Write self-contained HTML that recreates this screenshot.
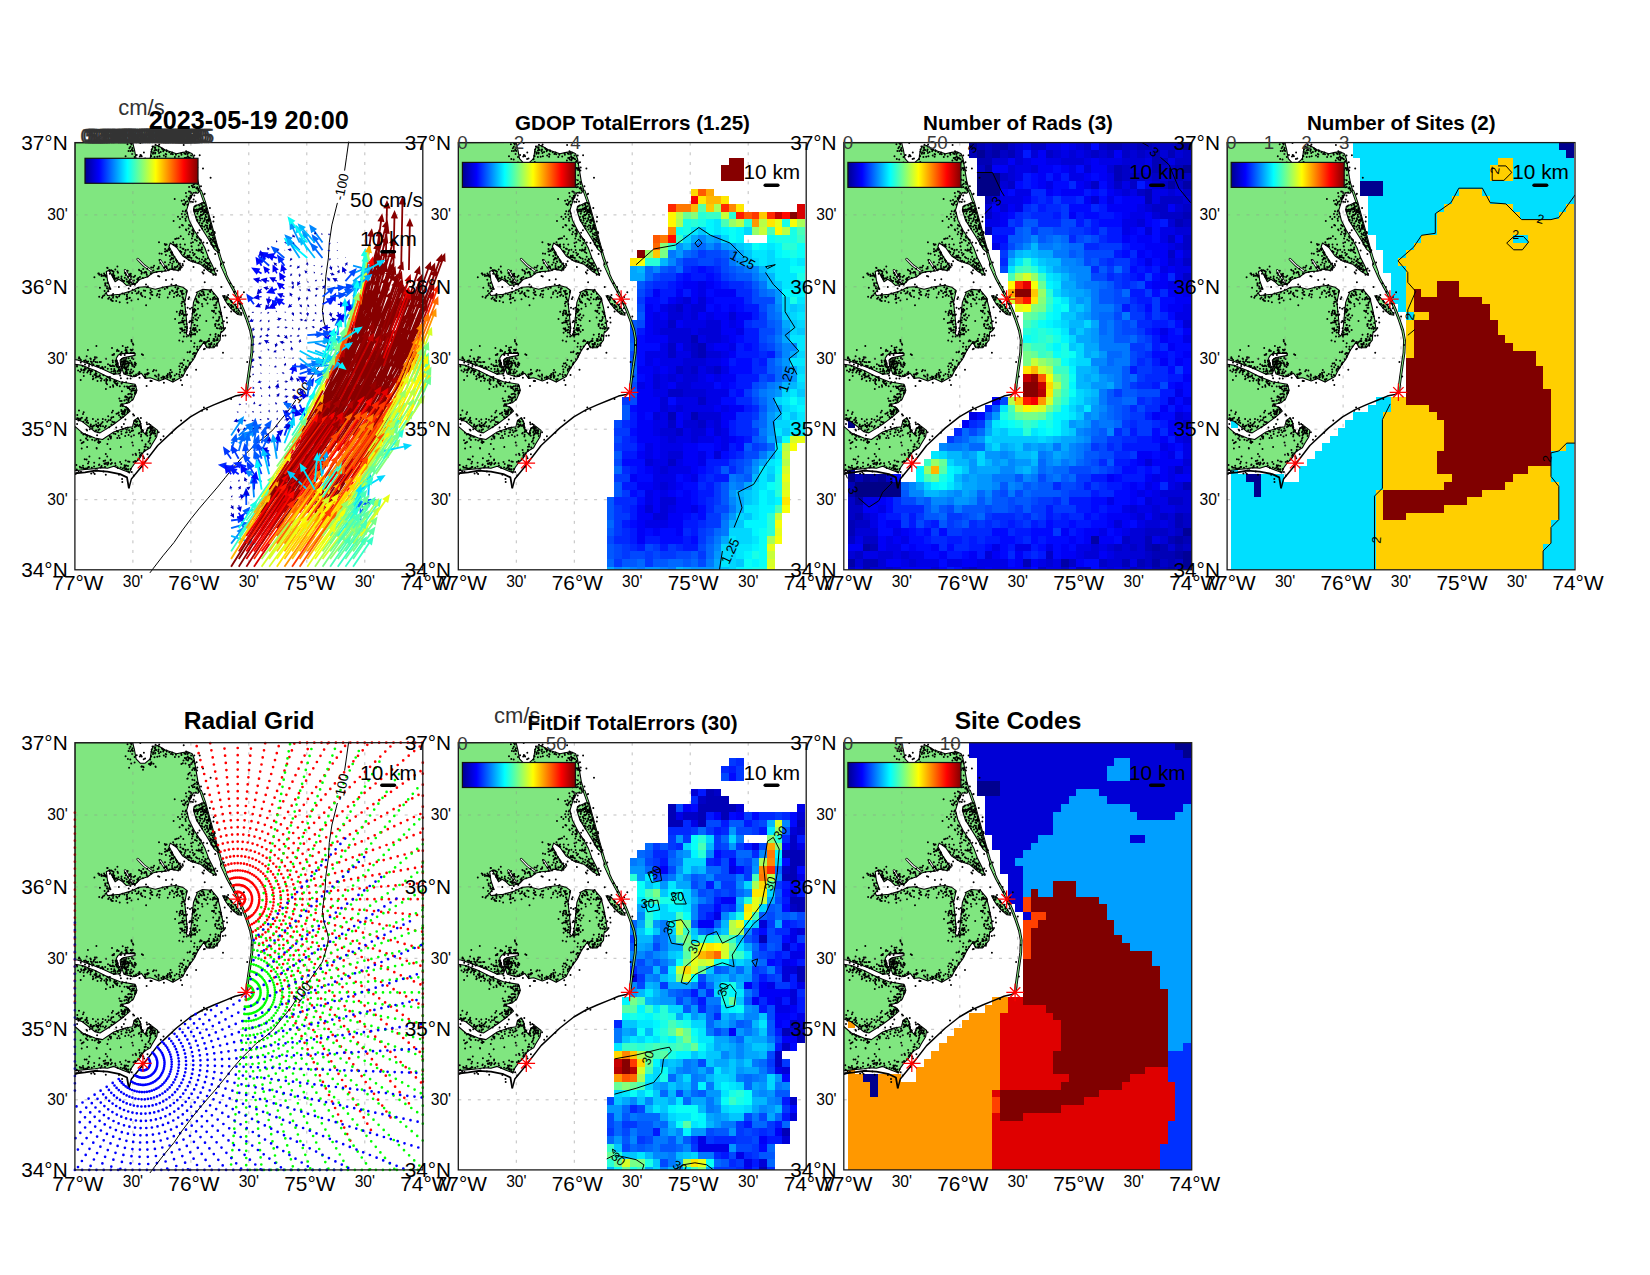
<!DOCTYPE html><html><head><meta charset="utf-8"><title>fig</title><style>html,body{margin:0;padding:0;background:#fff}svg{display:block}text{font-family:"Liberation Sans",sans-serif}</style></head><body>
<svg width="1650" height="1275" viewBox="0 0 1650 1275">
<defs>
<linearGradient id="jet" x1="0" x2="1" y1="0" y2="0"><stop offset="0.000" stop-color="rgb(0,0,143)"/><stop offset="0.125" stop-color="rgb(0,0,255)"/><stop offset="0.375" stop-color="rgb(0,255,255)"/><stop offset="0.625" stop-color="rgb(255,255,0)"/><stop offset="0.875" stop-color="rgb(255,0,0)"/><stop offset="1.000" stop-color="rgb(128,0,0)"/></linearGradient>
<g id="land"><path d="M200.5 190.2 L204.9 202.7 L208.0 214.0 L211.8 227.8 L216.2 244.1 L220.6 259.2 L225.6 273.0 L221.4 265.1 L227.7 278.9 L235.2 292.7 L238.8 299.6 L243.4 310.2 L246.8 319.0 L250.6 330.3 L252.4 340.3 L251.9 352.9 L250.1 365.4 L248.3 378.0 L247.0 388.0 L246.8 393.0 L242.8 394.5 L235.2 396.2 L226.5 399.9 L213.9 405.0 L202.6 410.0 L190.5 417.0 L176.6 428.0 L157.8 445.6 L140.3 468.3 L131.5 479.0 L129.0 488.4" fill="none" stroke="#000" stroke-width="1.5" stroke-linejoin="round"/><path d="M200.5 190.2 L204.9 202.7 L208.0 214.0 L211.8 227.8 L216.2 244.1 L220.6 259.2 L225.6 273.0 L221.4 265.1 L227.7 278.9 L235.2 292.7 L238.8 299.6 L243.4 310.2 L246.8 319.0 L250.6 330.3 L252.4 340.3 L251.9 352.9 L250.1 365.4 L248.3 378.0 L247.0 388.0 L246.8 393.0" fill="none" stroke="#000" stroke-width="2.8" stroke-linejoin="round"/><path d="M200.5 190.2 L204.9 202.7 L208.0 214.0 L211.8 227.8 L216.2 244.1 L220.6 259.2 L225.6 273.0 L221.4 265.1 L227.7 278.9 L235.2 292.7 L238.8 299.6 L243.4 310.2 L246.8 319.0 L250.6 330.3 L252.4 340.3 L251.9 352.9 L250.1 365.4 L248.3 378.0 L247.0 388.0 L246.8 393.0" fill="none" stroke="#80E680" stroke-width="1.0" stroke-linejoin="round"/><path d="M75.0 473.5 L85.1 472.4 L95.1 470.8 L107.6 471.7 L120.2 474.2 L127.1 477.5 L129.0 488.4" fill="none" stroke="#000" stroke-width="1.8" stroke-linejoin="round"/><path d="M75.0 142.7 L132.7 142.5 L134.6 150.0 L136.2 158.8 L140.3 163.2 L145.3 163.2 L150.3 158.8 L151.6 150.0 L153.4 146.3 L157.8 145.6 L165.4 150.0 L176.6 153.8 L182.9 152.5 L187.9 151.9 L192.3 153.8 L194.2 158.8 L198.0 181.4 L200.5 190.2 L198.0 193.3 L193.6 192.7 L189.8 200.2 L186.7 210.3 L189.2 220.3 L194.2 230.3 L199.9 239.1 L204.9 247.9 L208.6 257.9 L213.0 266.7 L216.2 275.5 L209.3 271.7 L200.5 264.2 L190.5 261.1 L182.9 256.1 L176.6 247.3 L170.4 243.1 L169.1 246.6 L174.1 256.1 L179.2 263.6 L182.3 267.4 L177.9 270.5 L170.4 269.2 L166.6 271.1 L157.8 271.7 L152.8 273.0 L147.8 276.8 L140.3 279.3 L135.2 284.3 L126.5 285.5 L122.7 281.8 L118.9 279.3 L115.2 281.8 L111.4 274.3 L108.9 270.5 L106.4 271.7 L107.6 280.5 L110.2 288.1 L106.4 293.1 L107.6 295.6 L120.2 294.3 L132.7 290.6 L138.4 287.4 L145.3 286.8 L155.3 289.3 L165.4 286.8 L175.4 285.5 L182.9 287.4 L187.3 290.6 L184.8 302.5 L186.1 315.1 L187.3 327.6 L186.4 333.9 L188.6 336.2 L190.7 331.4 L192.3 315.1 L193.6 302.5 L195.5 297.5 L197.4 293.1 L196.3 292.7 L202.6 289.5 L211.4 290.2 L217.7 297.7 L220.2 307.7 L222.7 320.3 L224.0 330.3 L220.8 332.8 L220.2 340.3 L213.9 347.9 L207.0 347.9 L203.9 342.2 L198.2 350.4 L193.8 359.2 L189.2 365.3 L185.4 371.6 L182.9 376.6 L172.9 382.2 L165.4 378.5 L159.1 381.0 L150.3 377.8 L145.3 378.5 L141.5 373.4 L136.5 375.9 L132.7 376.8 L124.0 374.1 L120.8 365.3 L120.2 360.3 L123.3 357.8 L135.2 355.5 L135.2 353.4 L122.7 353.7 L118.3 355.2 L116.4 358.4 L118.3 365.3 L121.4 370.3 L120.2 373.8 L113.9 374.3 L101.4 368.5 L88.8 363.8 L77.5 360.0 L75.0 359.8Z" fill="#80E680" stroke="#000" stroke-width="1.1" stroke-linejoin="round"/><path d="M75.0 364.3 L82.5 365.5 L95.1 370.6 L107.6 376.8 L120.2 381.8 L135.2 384.4 L137.1 390.4 L133.4 399.2 L129.0 402.9 L120.8 404.8 L127.7 407.9 L130.2 411.1 L124.0 416.7 L113.9 424.3 L100.1 433.0 L95.1 431.8 L82.5 421.7 L75.0 419.0 L75.0 419.0Z" fill="#80E680" stroke="#000" stroke-width="1.1" stroke-linejoin="round"/><path d="M75.0 426.5 L82.5 433.0 L95.1 438.1 L102.6 439.6 L113.9 432.0 L125.2 428.0 L132.7 426.8 L134.2 420.5 L137.8 418.0 L140.3 421.7 L141.8 430.5 L145.3 434.3 L147.8 428.0 L151.6 425.8 L157.8 430.5 L156.8 436.8 L152.2 444.3 L150.3 447.9 L144.0 451.6 L140.3 457.6 L135.2 462.9 L131.7 467.9 L129.6 472.7 L122.7 470.2 L113.9 466.4 L107.6 468.3 L101.4 467.7 L95.1 468.7 L85.1 469.6 L75.0 470.8 L75.0 470.8Z" fill="#80E680" stroke="#000" stroke-width="1.1" stroke-linejoin="round"/><path d="M222.7 295.8 L227.1 296.4 L232.7 302.7 L238.4 309.0 L241.8 315.2 L237.8 314.6 L231.5 309.0 L226.5 302.7Z" fill="#80E680" stroke="#000" stroke-width="1.1" stroke-linejoin="round"/><path d="M194.2 206.5 L203.0 202.7 L204.9 202.7 L208.0 214.0 L211.8 227.8 L216.2 244.1 L218.7 252.9 L214.3 249.2 L209.3 240.4 L203.0 230.3 L196.7 220.3 L193.6 210.3Z" fill="#80E680" stroke="#000" stroke-width="1.1" stroke-linejoin="round"/><path d="M137.8 259.2 L144.0 265.5 L151.6 271.1" fill="none" stroke="#000" stroke-width="2.6" stroke-linecap="round"/><path d="M137.8 259.2 L144.0 265.5 L151.6 271.1" fill="none" stroke="#fff" stroke-width="1.1" stroke-linecap="round"/><path d="M160.3 260.5 L163.5 265.5 L166.9 269.9" fill="none" stroke="#000" stroke-width="2.6" stroke-linecap="round"/><path d="M160.3 260.5 L163.5 265.5 L166.9 269.9" fill="none" stroke="#fff" stroke-width="1.1" stroke-linecap="round"/><path d="M125.2 270.5 L129.0 276.8 L132.7 283.0" fill="none" stroke="#000" stroke-width="2.6" stroke-linecap="round"/><path d="M125.2 270.5 L129.0 276.8 L132.7 283.0" fill="none" stroke="#fff" stroke-width="1.1" stroke-linecap="round"/><path d="M127.6 144.3h0M130.6 143.1h0M130.5 146.8h0M129.5 148.4h0M132.5 143.1h0M140.4 143.0h0M132.6 148.2h0M128.6 151.0h0M132.0 149.7h0M131.5 144.6h0M132.3 154.0h0M128.0 159.1h0M130.4 159.6h0M139.9 156.6h0M133.0 151.1h0M134.7 157.0h0M136.8 155.2h0M125.7 156.3h0M132.7 150.7h0M130.6 151.2h0M129.2 167.8h0M134.7 162.6h0M145.2 158.5h0M140.6 155.0h0M131.3 163.6h0M143.7 167.3h0M143.3 166.8h0M141.8 156.4h0M143.1 169.8h0M141.5 166.8h0M141.2 155.4h0M141.9 166.6h0M141.9 166.2h0M151.5 163.8h0M143.8 159.2h0M150.3 163.6h0M155.6 166.5h0M155.8 167.1h0M149.1 164.1h0M151.5 162.2h0M150.4 164.9h0M150.1 159.4h0M150.3 159.4h0M153.6 163.8h0M155.4 152.9h0M151.0 155.9h0M153.1 153.9h0M151.3 156.4h0M160.8 152.0h0M144.0 152.7h0M153.4 152.6h0M155.2 153.6h0M157.4 156.8h0M154.6 157.2h0M151.6 151.8h0M152.6 146.5h0M158.4 151.2h0M154.7 147.9h0M151.8 149.6h0M163.9 155.6h0M158.7 149.6h0M155.3 147.8h0M154.6 150.7h0M155.7 144.8h0M159.6 156.3h0M162.5 149.1h0M163.4 151.4h0M159.1 153.2h0M155.6 149.5h0M158.8 146.5h0M159.3 144.6h0M164.2 150.0h0M163.6 150.3h0M156.4 150.1h0M162.0 148.6h0M166.6 150.4h0M171.1 154.0h0M172.3 152.5h0M176.0 154.8h0M166.8 151.4h0M172.9 154.4h0M166.3 154.6h0M175.0 157.1h0M165.8 156.8h0M169.4 152.3h0M165.8 154.1h0M181.3 153.7h0M182.9 163.2h0M178.9 156.7h0M183.6 160.5h0M181.5 164.1h0M181.6 154.9h0M184.5 153.6h0M183.8 145.2h0M185.6 154.0h0M188.6 159.0h0M186.2 151.4h0M187.6 154.1h0M186.8 152.3h0M189.0 152.8h0M188.4 157.4h0M187.8 156.4h0M186.3 157.9h0M186.4 159.7h0M194.4 155.6h0M190.7 158.5h0M188.1 160.4h0M191.2 155.6h0M189.7 157.9h0M199.8 155.4h0M184.9 158.1h0M193.1 161.6h0M193.4 168.2h0M190.1 172.7h0M195.0 163.4h0M187.8 178.5h0M192.5 179.8h0M188.4 174.5h0M203.1 168.6h0M197.1 170.6h0M192.7 162.2h0M189.1 165.1h0M194.5 180.3h0M189.7 167.1h0M188.8 173.7h0M187.4 178.7h0M194.8 170.0h0M193.5 160.8h0M191.6 163.9h0M191.5 175.5h0M192.3 169.9h0M194.9 175.4h0M190.2 164.7h0M191.8 159.3h0M185.6 163.6h0M194.7 169.4h0M191.4 163.3h0M195.1 168.0h0M193.5 161.5h0M196.7 162.3h0M195.8 169.0h0M197.4 167.5h0M193.6 184.8h0M195.0 183.8h0M201.1 186.4h0M197.6 188.4h0M197.3 184.2h0M189.2 187.2h0M210.7 177.8h0M197.5 182.4h0M196.8 182.2h0M196.8 188.0h0M189.1 191.6h0M197.4 187.3h0M197.6 188.8h0M198.5 190.7h0M191.9 185.8h0M196.5 188.4h0M193.0 187.3h0M198.5 189.2h0M196.0 192.6h0M194.4 195.5h0M196.9 188.5h0M194.6 187.1h0M198.1 188.9h0M191.1 197.5h0M191.5 193.1h0M186.5 196.6h0M190.4 196.1h0M190.4 191.9h0M189.7 198.5h0M189.2 199.6h0M191.2 193.4h0M190.6 196.8h0M188.8 198.0h0M186.0 193.2h0M193.0 202.1h0M183.1 204.2h0M194.2 209.7h0M184.4 205.2h0M199.4 205.6h0M174.8 199.2h0M185.3 203.6h0M187.4 201.3h0M198.5 209.7h0M187.5 204.8h0M185.8 202.2h0M196.3 205.5h0M181.8 200.9h0M191.1 201.8h0M184.2 200.2h0M173.7 221.0h0M182.5 217.1h0M185.0 214.5h0M182.9 211.3h0M203.1 214.4h0M185.5 218.9h0M185.8 220.9h0M186.0 210.6h0M185.5 211.6h0M187.3 213.4h0M178.1 216.9h0M181.9 214.2h0M186.7 216.9h0M180.1 219.1h0M202.4 223.6h0M183.0 225.5h0M192.9 229.7h0M200.9 225.8h0M192.4 230.4h0M186.4 230.3h0M189.7 225.7h0M186.0 229.6h0M190.7 226.4h0M182.1 225.1h0M189.7 232.1h0M188.7 228.6h0M179.7 227.3h0M189.1 225.2h0M193.3 234.0h0M196.8 240.8h0M193.7 233.1h0M202.2 226.2h0M195.1 239.9h0M199.5 238.9h0M192.0 238.5h0M193.5 231.4h0M183.4 239.1h0M193.0 242.4h0M185.0 244.7h0M196.9 236.6h0M197.3 237.8h0M192.0 233.9h0M191.2 243.2h0M188.9 234.3h0M197.8 232.8h0M192.7 236.2h0M200.9 240.2h0M200.0 243.2h0M201.3 249.9h0M203.5 242.7h0M202.1 247.6h0M198.4 250.8h0M198.9 249.6h0M193.0 252.8h0M201.0 240.4h0M201.6 249.5h0M200.3 243.7h0M196.6 250.2h0M205.4 259.0h0M202.1 259.7h0M201.6 252.2h0M203.4 256.8h0M196.2 257.2h0M217.6 249.2h0M202.0 249.7h0M215.9 246.2h0M203.1 253.2h0M214.0 246.2h0M200.0 250.7h0M209.8 263.2h0M207.4 266.6h0M203.8 265.6h0M208.2 264.8h0M204.5 260.9h0M207.9 258.4h0M210.7 266.1h0M206.8 263.2h0M207.7 263.2h0M201.6 262.5h0M210.1 265.5h0M203.2 265.3h0M208.7 264.3h0M207.3 269.0h0M217.3 270.9h0M211.9 269.9h0M216.0 274.2h0M211.1 269.3h0M209.0 269.4h0M215.6 274.1h0M210.8 270.0h0M215.5 268.5h0M213.9 269.4h0M214.4 270.7h0M213.4 274.9h0M210.8 271.8h0M212.0 270.6h0M203.3 265.6h0M203.8 265.8h0M207.6 268.0h0M204.6 264.3h0M210.7 266.6h0M204.2 270.4h0M205.7 267.0h0M206.0 266.0h0M204.1 261.4h0M202.6 272.4h0M203.5 273.6h0M209.3 268.2h0M205.9 259.6h0M205.9 262.3h0M197.3 258.2h0M193.7 255.3h0M193.6 267.0h0M198.5 263.2h0M193.4 260.8h0M191.5 260.4h0M191.6 258.2h0M195.3 261.7h0M199.8 261.6h0M192.6 261.7h0M199.3 258.8h0M194.8 254.0h0M182.7 264.2h0M191.6 246.3h0M188.7 257.4h0M190.3 257.5h0M189.5 255.7h0M187.6 255.9h0M184.3 261.4h0M192.3 250.1h0M190.2 252.0h0M181.5 252.2h0M180.4 244.6h0M183.6 249.2h0M185.5 250.9h0M173.9 261.9h0M185.8 250.0h0M188.1 249.8h0M183.3 248.8h0M171.8 253.8h0M180.2 251.2h0M170.9 252.4h0M182.7 248.8h0M174.5 256.9h0M184.1 254.9h0M175.3 239.2h0M176.5 246.6h0M176.8 238.7h0M175.7 245.4h0M176.8 244.6h0M180.8 236.4h0M178.7 238.3h0M173.2 242.3h0M169.8 249.4h0M172.2 252.6h0M168.9 248.5h0M173.9 244.6h0M176.0 245.9h0M164.9 244.0h0M165.5 245.0h0M159.1 242.3h0M166.7 244.6h0M180.6 247.3h0M177.0 246.7h0M172.2 255.0h0M165.6 251.6h0M165.2 249.0h0M161.8 253.9h0M165.1 251.7h0M167.0 250.5h0M169.4 250.2h0M166.0 255.1h0M169.9 256.1h0M168.6 249.4h0M159.6 253.6h0M169.7 249.5h0M167.5 251.0h0M171.0 259.3h0M171.9 257.8h0M172.4 258.5h0M185.3 257.1h0M173.6 261.7h0M170.5 259.8h0M168.8 264.9h0M184.9 253.1h0M170.2 262.6h0M176.2 259.9h0M173.5 258.5h0M172.2 268.0h0M187.2 257.4h0M178.3 270.5h0M180.2 267.6h0M188.8 259.9h0M180.0 263.5h0M183.0 265.7h0M173.7 269.5h0M179.1 268.6h0M177.7 266.0h0M180.1 269.8h0M180.4 265.9h0M177.1 266.9h0M178.8 264.0h0M177.0 262.2h0M174.7 269.4h0M175.7 267.6h0M176.1 260.0h0M172.2 266.0h0M177.1 261.2h0M172.4 263.8h0M175.0 267.2h0M172.8 268.3h0M166.4 266.6h0M166.7 267.2h0M169.6 269.6h0M167.0 268.7h0M168.7 270.4h0M166.3 266.6h0M159.4 276.7h0M161.9 271.8h0M165.2 270.7h0M165.5 266.9h0M160.4 263.0h0M164.4 267.8h0M157.7 268.9h0M164.2 267.8h0M158.8 268.6h0M159.6 260.0h0M158.9 267.2h0M165.2 267.0h0M165.1 262.3h0M154.2 265.8h0M153.2 267.5h0M153.6 270.6h0M156.7 272.0h0M145.2 272.1h0M143.3 269.0h0M147.6 276.5h0M151.6 273.5h0M147.3 268.8h0M146.5 273.2h0M142.9 278.2h0M151.9 291.9h0M141.1 271.0h0M146.9 274.9h0M141.6 273.8h0M144.3 272.9h0M140.1 277.1h0M142.0 272.6h0M139.1 269.9h0M139.3 270.3h0M146.1 272.0h0M137.0 282.3h0M137.3 279.4h0M138.4 278.2h0M147.1 287.3h0M134.1 280.7h0M127.8 270.9h0M138.4 279.7h0M135.2 275.9h0M128.8 288.6h0M128.8 283.2h0M129.9 275.1h0M135.4 291.1h0M129.5 275.8h0M133.8 283.8h0M131.7 276.8h0M126.0 275.2h0M129.2 281.0h0M129.5 283.4h0M134.0 277.0h0M126.7 279.3h0M127.2 281.7h0M130.5 286.1h0M133.0 284.1h0M129.7 274.4h0M130.8 275.6h0M124.3 281.0h0M130.9 273.9h0M130.4 279.6h0M128.1 277.2h0M119.0 287.0h0M128.5 281.8h0M128.6 281.6h0M122.3 280.0h0M124.9 277.9h0M125.0 273.1h0M121.6 276.5h0M115.3 278.9h0M114.4 278.1h0M114.9 279.7h0M112.9 276.9h0M117.6 271.7h0M121.4 278.6h0M125.6 273.1h0M114.2 277.2h0M113.8 275.5h0M112.5 275.2h0M114.4 275.5h0M118.1 272.9h0M117.4 278.9h0M109.8 270.3h0M109.7 271.1h0M109.4 270.4h0M112.6 271.2h0M111.4 270.4h0M106.2 276.8h0M115.4 269.6h0M117.5 266.7h0M106.4 275.9h0M109.9 273.8h0M107.3 267.9h0M107.7 268.1h0M101.6 276.0h0M99.0 273.7h0M98.4 273.5h0M99.5 274.9h0M113.3 273.7h0M104.6 275.7h0M101.5 274.6h0M104.2 273.6h0M104.8 275.9h0M105.1 275.0h0M104.0 279.9h0M113.7 271.9h0M103.3 275.8h0M100.0 287.8h0M105.3 283.4h0M107.8 288.7h0M116.3 278.3h0M109.5 287.7h0M118.5 277.3h0M105.3 284.1h0M107.4 283.1h0M107.0 286.5h0M113.1 297.9h0M107.1 288.4h0M104.7 291.0h0M105.4 285.5h0M107.5 288.6h0M108.5 291.3h0M94.5 277.4h0M104.4 295.4h0M99.3 296.9h0M105.7 293.7h0M102.9 296.4h0M102.2 297.8h0M110.5 289.2h0M119.8 302.4h0M112.1 295.5h0M109.4 297.6h0M110.8 299.5h0M119.8 294.8h0M117.4 297.7h0M116.4 296.8h0M108.3 298.9h0M113.3 296.0h0M112.9 301.0h0M111.3 299.4h0M113.2 294.2h0M111.7 300.7h0M119.2 296.3h0M116.3 301.1h0M128.7 292.7h0M127.2 296.9h0M130.0 297.9h0M127.1 294.5h0M122.5 293.7h0M127.5 302.8h0M126.5 299.3h0M124.6 294.4h0M129.5 298.2h0M132.2 293.0h0M127.2 281.9h0M123.9 281.2h0M127.0 296.0h0M131.6 300.5h0M127.4 298.9h0M131.7 282.6h0M132.7 290.1h0M138.2 299.3h0M135.2 283.8h0M138.4 292.9h0M134.9 284.9h0M141.7 295.4h0M136.8 293.7h0M129.9 282.7h0M138.8 291.5h0M141.3 293.2h0M140.8 294.2h0M142.5 296.3h0M138.1 280.4h0M146.2 305.3h0M143.9 290.6h0M145.3 290.9h0M145.2 297.0h0M138.5 288.0h0M150.7 290.2h0M148.0 286.7h0M152.5 295.1h0M146.1 284.5h0M151.4 294.5h0M151.3 267.5h0M150.8 273.4h0M150.3 292.9h0M150.2 298.5h0M156.9 295.6h0M162.6 287.5h0M160.0 290.7h0M159.3 297.4h0M164.9 289.0h0M157.6 294.2h0M158.7 291.2h0M167.9 297.7h0M159.8 294.7h0M158.2 276.2h0M175.4 287.3h0M167.3 287.7h0M174.4 293.4h0M172.1 290.6h0M172.9 291.2h0M172.5 279.4h0M167.5 287.8h0M166.1 280.1h0M171.5 284.5h0M170.0 292.4h0M166.9 287.6h0M169.6 294.2h0M176.1 292.0h0M177.3 289.8h0M179.9 296.1h0M178.5 288.3h0M177.4 292.0h0M177.7 288.5h0M177.7 288.4h0M176.2 285.0h0M186.7 291.4h0M182.4 294.5h0M182.5 290.9h0M180.7 291.0h0M178.1 294.5h0M186.5 292.6h0M182.9 297.5h0M182.6 297.4h0M183.4 299.2h0M176.9 295.8h0M196.7 301.4h0M183.8 293.8h0M188.7 299.2h0M182.3 301.8h0M181.6 292.2h0M189.3 297.3h0M184.6 300.7h0M182.2 293.3h0M182.1 294.0h0M174.0 297.2h0M176.9 311.8h0M182.0 314.2h0M179.7 315.4h0M180.3 312.9h0M194.2 312.4h0M179.6 313.8h0M182.5 310.8h0M182.1 306.1h0M180.0 312.0h0M193.0 310.2h0M194.8 311.2h0M185.7 311.6h0M190.1 308.9h0M194.4 309.2h0M182.9 313.6h0M181.6 303.5h0M182.8 312.3h0M184.2 314.9h0M192.8 320.4h0M183.3 321.2h0M184.3 324.5h0M184.0 315.8h0M182.3 320.7h0M192.9 322.5h0M185.3 327.0h0M190.9 321.4h0M187.0 327.1h0M175.2 319.0h0M180.5 322.5h0M179.0 323.2h0M190.2 321.1h0M189.4 322.3h0M185.0 320.6h0M192.9 329.9h0M189.9 334.4h0M193.4 328.6h0M181.1 329.1h0M187.1 328.7h0M184.0 330.4h0M199.5 330.2h0M191.6 332.9h0M180.3 332.8h0M182.0 328.4h0M195.2 334.7h0M186.4 332.5h0M183.9 336.7h0M194.2 328.4h0M179.4 340.7h0M186.8 336.5h0M190.4 331.7h0M194.6 329.4h0M182.9 341.5h0M182.2 329.9h0M190.8 336.5h0M182.3 331.1h0M190.9 336.9h0M195.1 333.8h0M191.7 334.9h0M190.5 335.4h0M184.6 332.6h0M180.3 328.6h0M193.4 334.4h0M186.7 324.0h0M196.0 315.7h0M186.4 315.4h0M194.4 325.0h0M197.2 320.4h0M197.2 331.9h0M184.8 329.8h0M197.4 325.8h0M190.9 331.2h0M195.6 319.3h0M195.6 328.1h0M190.5 328.4h0M182.0 322.4h0M194.5 330.9h0M186.8 330.8h0M199.6 330.0h0M185.0 314.9h0M195.1 315.7h0M193.4 317.9h0M193.6 328.2h0M196.0 330.0h0M183.4 322.5h0M194.8 325.0h0M198.4 317.9h0M182.9 318.3h0M195.6 310.1h0M196.9 314.4h0M187.1 314.5h0M195.5 310.4h0M202.5 306.4h0M185.1 304.3h0M193.1 311.6h0M195.2 305.4h0M193.3 311.9h0M192.6 313.9h0M180.8 310.7h0M198.1 308.8h0M200.1 315.5h0M187.7 307.9h0M192.1 307.9h0M183.3 301.8h0M197.4 302.4h0M197.8 301.6h0M196.4 299.7h0M188.5 299.1h0M196.0 298.9h0M198.8 302.9h0M199.1 297.2h0M201.9 295.6h0M204.2 298.9h0M202.7 291.3h0M199.7 293.6h0M203.9 294.8h0M202.1 304.0h0M201.8 291.6h0M198.6 296.0h0M198.8 295.7h0M200.9 295.1h0M210.2 291.1h0M203.7 292.4h0M211.3 289.9h0M209.7 291.3h0M203.5 293.5h0M204.4 295.2h0M204.1 294.5h0M208.1 294.3h0M204.8 282.3h0M213.2 298.0h0M214.5 297.2h0M205.5 299.6h0M213.6 293.9h0M210.4 299.3h0M212.8 299.7h0M221.4 287.2h0M206.2 300.1h0M210.4 292.2h0M207.6 297.6h0M217.4 301.5h0M216.4 307.9h0M216.4 303.0h0M217.9 298.9h0M215.3 307.8h0M215.9 298.6h0M214.2 305.4h0M224.4 297.4h0M215.1 299.0h0M207.6 303.7h0M213.3 298.9h0M219.3 317.2h0M219.3 311.7h0M221.0 312.8h0M206.4 321.0h0M216.5 320.8h0M219.4 318.2h0M220.8 314.4h0M221.6 316.4h0M220.1 312.6h0M218.8 320.2h0M213.3 317.5h0M214.0 312.0h0M212.8 311.1h0M212.1 310.9h0M215.8 313.5h0M214.2 310.8h0M218.0 321.1h0M215.2 324.5h0M227.2 322.6h0M218.5 324.8h0M215.2 324.4h0M216.9 328.1h0M215.4 326.1h0M219.3 324.6h0M225.2 328.1h0M220.8 326.8h0M222.1 323.1h0M222.2 328.2h0M215.7 324.0h0M224.4 329.2h0M221.5 329.2h0M217.5 328.4h0M221.5 331.8h0M219.6 328.7h0M225.5 335.5h0M218.6 335.1h0M214.5 339.4h0M215.6 336.9h0M217.5 339.9h0M217.5 338.4h0M215.8 334.2h0M218.4 336.1h0M220.0 336.2h0M215.6 334.6h0M223.0 335.9h0M217.2 343.6h0M211.6 342.8h0M223.1 352.8h0M214.7 341.0h0M217.9 340.1h0M214.4 344.3h0M217.1 345.8h0M213.4 340.9h0M216.6 340.4h0M210.8 344.0h0M217.4 343.9h0M209.4 347.5h0M213.3 346.4h0M213.8 346.6h0M210.4 346.5h0M209.2 338.8h0M210.4 334.8h0M209.1 344.2h0M213.7 339.0h0M209.3 341.2h0M211.1 343.8h0M207.5 341.6h0M208.5 340.5h0M204.9 348.9h0M211.6 344.4h0M210.7 344.5h0M204.3 342.1h0M206.7 346.7h0M197.4 346.9h0M208.5 341.1h0M206.0 342.3h0M205.7 343.8h0M204.0 349.3h0M194.2 346.8h0M191.2 341.2h0M194.6 343.3h0M197.1 349.4h0M209.4 346.3h0M200.7 340.3h0M198.0 350.0h0M200.3 346.7h0M201.8 341.0h0M201.1 340.5h0M199.9 341.4h0M194.9 355.7h0M194.1 353.0h0M190.3 351.5h0M195.1 353.4h0M196.1 353.3h0M194.5 357.0h0M193.1 354.2h0M189.8 352.3h0M187.7 352.4h0M189.8 363.6h0M196.2 369.9h0M189.5 364.6h0M190.3 362.5h0M189.8 364.3h0M188.0 360.8h0M192.6 359.1h0M184.1 360.1h0M182.1 367.3h0M182.2 363.4h0M184.6 369.3h0M184.5 370.9h0M183.4 365.0h0M179.4 366.3h0M180.5 363.6h0M186.0 366.6h0M187.6 367.6h0M185.9 368.6h0M180.1 372.0h0M181.8 375.1h0M187.2 375.1h0M182.4 375.6h0M180.1 369.5h0M173.2 381.3h0M174.9 375.6h0M179.7 376.5h0M179.2 374.6h0M170.2 376.2h0M170.6 377.8h0M173.8 379.4h0M182.2 385.1h0M172.8 379.5h0M176.7 374.1h0M180.9 380.3h0M172.0 372.4h0M174.4 379.2h0M166.8 375.8h0M170.1 374.3h0M168.0 374.1h0M170.7 370.0h0M167.9 375.1h0M167.7 377.3h0M167.2 377.8h0M164.0 382.8h0M171.2 376.1h0M167.4 376.5h0M169.9 372.9h0M171.1 376.7h0M163.2 376.5h0M163.5 379.0h0M163.4 377.5h0M164.7 377.0h0M158.6 379.5h0M161.5 377.9h0M156.3 370.6h0M158.7 374.7h0M153.1 371.3h0M158.5 378.3h0M154.0 370.2h0M155.1 375.6h0M158.8 375.8h0M156.5 376.7h0M151.8 381.1h0M150.5 381.1h0M150.8 380.8h0M147.3 373.6h0M148.1 373.1h0M148.6 373.5h0M145.7 374.5h0M148.4 373.6h0M145.6 378.2h0M147.6 369.9h0M145.0 374.5h0M144.9 376.8h0M148.8 373.3h0M145.4 376.6h0M147.5 374.5h0M135.5 365.3h0M136.2 374.5h0M139.4 373.4h0M138.3 373.6h0M139.7 373.0h0M139.0 374.3h0M139.6 377.9h0M139.5 372.1h0M135.9 376.0h0M132.1 372.8h0M132.5 366.1h0M134.0 375.6h0M133.4 366.3h0M135.7 386.3h0M128.0 366.9h0M126.4 368.6h0M134.4 367.2h0M130.4 373.5h0M128.4 369.7h0M124.6 386.7h0M127.7 366.9h0M130.4 371.5h0M127.5 378.5h0M133.4 371.3h0M126.4 367.9h0M125.9 371.9h0M126.8 373.3h0M127.1 372.9h0M129.8 373.5h0M127.4 373.4h0M126.7 370.2h0M119.9 367.1h0M131.3 369.5h0M124.7 368.2h0M124.8 366.2h0M125.3 373.2h0M117.7 371.7h0M128.2 363.7h0M122.6 366.2h0M126.5 363.8h0M126.0 363.6h0M119.2 373.7h0M118.2 367.7h0M115.6 373.4h0M128.7 365.2h0M122.8 364.6h0M123.7 367.5h0M121.0 364.0h0M124.2 360.8h0M110.6 366.0h0M125.3 361.9h0M135.0 362.7h0M117.2 365.1h0M122.5 361.6h0M125.1 364.4h0M123.0 361.4h0M123.8 362.3h0M117.0 351.0h0M112.1 348.1h0M121.3 359.8h0M124.6 365.0h0M129.5 363.0h0M128.8 358.4h0M132.0 364.0h0M127.3 361.9h0M126.4 358.2h0M127.6 352.6h0M125.5 358.7h0M136.0 363.9h0M133.9 352.9h0M132.3 350.0h0M132.2 358.3h0M126.1 349.9h0M133.5 359.1h0M124.8 355.0h0M126.5 358.7h0M125.9 360.7h0M128.4 363.7h0M126.4 369.6h0M124.4 362.4h0M125.7 369.6h0M124.5 360.5h0M143.1 355.0h0M142.0 354.3h0M134.4 353.5h0M120.8 353.6h0M131.7 341.6h0M125.5 350.3h0M125.8 347.8h0M132.9 343.6h0M132.8 349.7h0M130.6 352.9h0M131.6 340.2h0M131.4 363.3h0M122.8 346.2h0M127.7 347.4h0M132.3 357.3h0M126.7 350.7h0M130.2 360.9h0M130.8 349.9h0M134.5 364.4h0M132.2 353.0h0M131.8 350.7h0M132.2 364.9h0M133.4 344.8h0M125.9 353.2h0M131.6 362.7h0M126.5 352.1h0M126.6 350.0h0M117.4 349.9h0M118.8 351.0h0M124.3 364.1h0M121.8 352.2h0M121.0 355.1h0M120.2 354.3h0M113.9 354.9h0M112.5 355.2h0M114.2 354.0h0M123.6 358.7h0M113.1 354.8h0M110.0 365.3h0M121.4 362.1h0M112.2 366.2h0M123.7 358.8h0M116.2 360.5h0M121.9 359.1h0M117.6 362.8h0M112.9 365.5h0M116.0 364.8h0M113.0 362.4h0M127.9 361.7h0M116.5 363.5h0M115.7 360.5h0M122.2 368.3h0M122.9 364.1h0M121.7 366.4h0M127.2 366.4h0M116.7 366.6h0M123.3 362.6h0M120.5 370.4h0M115.4 371.1h0M125.2 367.5h0M111.6 371.7h0M119.1 369.4h0M117.8 367.0h0M114.9 370.6h0M125.2 373.4h0M114.3 370.5h0M120.4 370.3h0M120.7 370.6h0M131.1 375.8h0M116.3 381.4h0M120.3 375.6h0M116.3 384.2h0M117.8 363.8h0M118.2 370.9h0M115.8 361.8h0M118.0 367.3h0M119.9 371.0h0M114.4 369.2h0M114.2 366.4h0M111.4 369.0h0M110.4 380.4h0M110.0 377.0h0M109.0 377.5h0M108.6 377.4h0M107.2 384.4h0M108.1 364.3h0M105.3 367.1h0M113.7 371.5h0M114.0 374.1h0M107.2 376.8h0M106.2 358.8h0M97.6 381.0h0M107.9 368.9h0M110.9 366.1h0M110.2 380.7h0M117.0 361.1h0M92.4 365.6h0M95.8 362.2h0M97.0 365.9h0M101.0 362.0h0M94.0 360.2h0M97.5 362.3h0M87.4 372.6h0M91.4 370.5h0M92.0 363.0h0M97.9 366.4h0M96.5 346.0h0M93.5 364.6h0M94.9 357.4h0M99.9 362.0h0M92.2 371.0h0M88.1 371.4h0M99.0 366.1h0M88.4 368.7h0M95.0 358.9h0M100.8 368.3h0M95.9 377.7h0M88.0 350.0h0M85.1 368.1h0M84.8 361.1h0M86.8 361.8h0M79.2 357.4h0M84.2 360.8h0M85.1 364.6h0M79.1 358.6h0M86.0 368.9h0M79.9 358.6h0M78.2 370.6h0M87.4 362.7h0M90.5 358.5h0M85.7 360.4h0M77.0 365.2h0M81.0 360.2h0M86.8 356.4h0M80.9 362.7h0M77.1 366.5h0M84.6 369.6h0M81.2 369.3h0M96.7 357.5h0M81.6 370.4h0M83.7 372.6h0M89.3 364.2h0M90.7 372.4h0M90.7 370.8h0M90.6 374.4h0M88.2 361.7h0M80.2 371.9h0M83.9 376.0h0M84.6 370.6h0M89.1 366.2h0M82.7 366.2h0M91.0 361.5h0M90.9 359.2h0M89.6 370.0h0M91.8 362.1h0M93.8 361.4h0M83.7 370.1h0M88.3 371.2h0M80.8 380.1h0M95.7 357.7h0M101.8 378.9h0M98.1 376.9h0M100.5 378.0h0M101.1 380.8h0M100.0 375.3h0M103.5 375.4h0M96.0 371.6h0M102.3 367.0h0M98.5 376.5h0M102.9 368.1h0M103.4 368.7h0M96.7 376.3h0M95.5 375.4h0M96.5 373.9h0M104.5 380.4h0M93.0 376.4h0M112.8 360.6h0M106.3 379.0h0M96.0 373.4h0M93.5 378.6h0M93.0 379.3h0M99.9 376.2h0M94.6 374.5h0M110.3 387.2h0M114.6 381.8h0M110.1 379.2h0M116.6 384.1h0M117.0 384.7h0M106.3 383.0h0M115.5 373.1h0M107.4 380.1h0M114.2 381.9h0M106.4 381.4h0M117.6 383.3h0M114.6 380.9h0M117.2 385.3h0M113.3 386.9h0M115.2 383.2h0M106.0 389.0h0M113.1 385.4h0M121.7 383.6h0M134.5 376.3h0M122.0 391.4h0M130.7 378.7h0M134.1 386.3h0M126.8 371.3h0M130.5 386.3h0M130.1 389.6h0M129.1 388.0h0M130.6 393.9h0M127.1 386.7h0M132.4 388.7h0M131.5 391.5h0M126.2 382.4h0M119.9 386.3h0M121.8 383.5h0M122.5 382.3h0M121.0 378.3h0M132.3 390.5h0M136.0 390.4h0M135.2 390.9h0M134.1 388.5h0M146.7 386.1h0M127.9 388.1h0M132.4 386.2h0M135.2 385.5h0M132.4 385.6h0M133.7 390.3h0M135.9 392.8h0M128.3 394.3h0M131.5 396.7h0M135.1 392.9h0M132.1 394.5h0M131.8 390.5h0M134.9 393.9h0M128.9 387.2h0M129.8 397.5h0M128.7 400.9h0M125.4 396.7h0M129.3 398.7h0M127.6 397.6h0M128.3 400.4h0M131.7 397.6h0M128.9 394.1h0M132.5 399.8h0M124.5 400.6h0M128.0 409.1h0M125.3 397.0h0M119.4 398.5h0M125.1 409.6h0M121.7 401.2h0M128.5 401.8h0M124.6 400.5h0M120.2 401.1h0M128.6 410.1h0M125.7 396.4h0M128.6 409.8h0M126.5 399.7h0M121.5 404.4h0M122.7 411.6h0M126.8 397.1h0M122.7 414.5h0M126.9 403.1h0M128.8 399.0h0M118.8 412.6h0M121.4 410.1h0M125.1 411.9h0M120.6 417.1h0M120.7 406.0h0M122.6 404.4h0M126.2 407.4h0M122.4 414.0h0M127.9 411.0h0M122.7 413.1h0M127.2 409.2h0M122.8 406.0h0M123.1 411.3h0M133.2 414.4h0M122.0 413.7h0M124.0 411.5h0M125.6 410.3h0M125.0 410.7h0M124.6 413.4h0M135.7 420.3h0M124.5 414.5h0M121.5 411.3h0M127.6 412.6h0M112.4 421.8h0M118.1 413.3h0M113.0 410.9h0M112.0 412.7h0M111.4 418.2h0M113.8 422.4h0M111.7 417.5h0M114.7 422.3h0M121.3 418.0h0M116.6 413.9h0M114.4 422.8h0M119.1 415.4h0M126.9 429.9h0M123.1 417.1h0M113.4 417.0h0M96.2 424.7h0M99.7 429.3h0M106.0 426.2h0M108.7 420.3h0M107.3 421.9h0M110.9 438.5h0M105.6 419.9h0M111.5 424.7h0M98.8 425.6h0M109.8 436.2h0M102.7 422.1h0M115.5 434.2h0M110.7 420.1h0M98.1 427.4h0M105.0 427.8h0M108.3 416.4h0M102.9 419.0h0M101.6 423.5h0M97.2 435.3h0M98.3 423.2h0M98.0 432.3h0M100.3 424.8h0M95.9 431.2h0M98.5 430.0h0M100.8 426.4h0M91.9 426.6h0M92.6 428.1h0M81.6 432.8h0M94.2 425.7h0M87.4 420.8h0M86.6 418.9h0M90.5 426.1h0M97.2 425.8h0M90.9 424.7h0M87.6 436.2h0M86.9 417.8h0M83.5 421.8h0M85.3 434.3h0M96.2 430.3h0M93.0 419.1h0M85.3 420.0h0M88.2 423.2h0M87.2 430.7h0M98.0 419.6h0M86.5 422.3h0M89.9 436.8h0M86.7 429.9h0M93.3 426.2h0M82.0 417.9h0M80.4 418.5h0M80.5 419.5h0M78.3 418.7h0M77.3 418.3h0M83.8 412.4h0M77.2 424.0h0M83.1 414.2h0M78.6 419.4h0M79.1 410.7h0M78.6 420.7h0M77.4 415.1h0M92.3 439.9h0M95.9 421.4h0M87.4 436.6h0M87.2 447.0h0M98.2 426.9h0M80.7 440.3h0M82.9 442.7h0M89.9 429.3h0M83.7 442.2h0M86.1 438.5h0M86.3 435.0h0M86.3 438.7h0M96.6 426.2h0M91.0 436.9h0M83.4 434.5h0M81.8 448.6h0M81.8 443.4h0M87.7 440.0h0M87.5 435.6h0M100.3 442.0h0M96.8 448.6h0M99.1 442.3h0M98.6 440.0h0M96.7 448.0h0M94.9 440.6h0M99.1 441.8h0M99.0 443.1h0M96.6 439.6h0M98.2 442.4h0M110.4 449.2h0M108.4 439.4h0M105.0 427.7h0M113.7 433.7h0M111.1 438.0h0M109.9 436.9h0M107.5 444.0h0M103.1 426.4h0M109.3 427.4h0M111.1 436.7h0M110.3 436.7h0M123.0 429.4h0M117.4 438.2h0M126.1 432.6h0M121.8 427.1h0M121.6 434.0h0M117.0 431.1h0M121.4 431.5h0M116.3 427.6h0M119.8 438.2h0M118.8 435.9h0M122.6 429.3h0M121.0 447.2h0M118.1 431.9h0M125.3 436.0h0M130.1 432.3h0M128.7 435.2h0M126.8 432.4h0M125.4 428.8h0M132.2 428.7h0M133.2 430.6h0M134.0 435.3h0M131.4 436.7h0M128.0 427.9h0M132.4 442.7h0M124.0 424.1h0M138.7 426.0h0M125.5 419.5h0M137.2 421.6h0M136.1 425.5h0M134.7 424.3h0M139.2 425.6h0M136.1 426.4h0M134.2 415.6h0M139.8 421.7h0M140.7 427.4h0M138.4 419.1h0M137.3 424.6h0M139.7 425.2h0M138.0 418.4h0M127.8 427.8h0M134.7 421.1h0M135.2 424.7h0M136.4 422.1h0M141.0 418.0h0M131.8 431.2h0M140.9 426.4h0M141.2 427.6h0M142.3 430.1h0M141.0 428.7h0M150.5 425.0h0M136.9 425.5h0M129.2 430.3h0M140.8 423.9h0M136.6 425.9h0M141.5 431.3h0M141.4 432.1h0M139.4 433.0h0M150.1 427.3h0M149.1 424.0h0M138.9 433.7h0M141.3 434.8h0M141.1 436.6h0M147.8 428.6h0M146.8 433.4h0M150.3 435.4h0M147.1 430.5h0M146.7 432.9h0M152.1 433.1h0M148.3 428.4h0M146.5 434.2h0M152.6 430.6h0M150.9 434.0h0M143.1 430.7h0M134.9 427.2h0M149.9 432.4h0M146.8 422.5h0M150.1 428.2h0M150.9 429.7h0M151.1 427.1h0M153.3 429.9h0M150.2 431.6h0M147.2 424.4h0M152.4 427.5h0M155.0 431.1h0M151.2 428.7h0M154.7 432.2h0M154.2 430.3h0M152.3 430.6h0M147.4 435.9h0M146.1 434.7h0M153.1 429.0h0M151.7 433.5h0M152.4 432.1h0M158.8 432.3h0M151.2 430.0h0M154.3 432.4h0M155.0 430.2h0M155.3 433.8h0M163.6 436.4h0M153.8 433.6h0M152.1 430.8h0M151.0 430.1h0M150.0 438.7h0M151.6 433.8h0M148.6 441.9h0M151.4 434.3h0M149.5 440.5h0M155.5 436.1h0M160.9 439.8h0M150.5 437.6h0M142.7 431.7h0M150.3 443.7h0M142.2 440.5h0M144.4 451.3h0M145.4 446.7h0M144.7 449.9h0M148.0 447.7h0M145.7 444.3h0M144.7 446.9h0M145.9 446.7h0M147.6 454.3h0M139.3 450.1h0M144.2 458.4h0M136.2 455.0h0M140.0 456.2h0M135.7 453.8h0M133.1 445.6h0M142.0 453.3h0M139.8 452.8h0M140.6 454.9h0M140.3 455.7h0M143.4 456.5h0M138.5 459.5h0M138.9 458.7h0M135.3 461.5h0M132.9 454.9h0M135.3 461.1h0M133.6 462.2h0M129.5 461.8h0M128.2 461.7h0M126.3 465.6h0M126.7 469.9h0M125.1 469.0h0M126.3 468.5h0M131.8 472.2h0M128.2 471.6h0M128.3 469.4h0M130.7 469.2h0M129.4 472.6h0M128.1 466.0h0M124.4 467.4h0M125.0 466.8h0M122.9 468.5h0M120.2 462.0h0M115.7 465.5h0M121.4 464.2h0M124.7 465.4h0M115.3 463.4h0M117.8 468.0h0M120.8 467.7h0M125.8 460.6h0M117.5 467.4h0M107.6 464.9h0M108.3 462.7h0M105.9 454.0h0M110.8 459.5h0M107.3 456.6h0M108.4 463.6h0M105.3 460.5h0M111.0 464.2h0M108.0 463.1h0M110.7 460.4h0M112.0 463.1h0M104.5 463.5h0M103.7 461.1h0M105.9 463.8h0M105.9 474.8h0M106.2 463.1h0M101.7 466.1h0M105.1 467.0h0M104.7 464.0h0M99.6 458.3h0M99.4 464.5h0M100.7 467.7h0M99.1 465.2h0M97.2 470.4h0M95.8 470.7h0M84.8 459.4h0M88.8 461.8h0M89.5 456.6h0M88.1 463.5h0M94.3 462.9h0M91.9 467.8h0M91.3 473.6h0M94.8 474.1h0M86.7 459.6h0M89.1 467.2h0M87.4 468.3h0M93.5 472.5h0M94.2 466.5h0M84.2 468.9h0M80.2 467.7h0M83.5 468.1h0M81.8 467.8h0M76.5 465.2h0M76.6 470.3h0M77.2 473.2h0M79.9 466.9h0M83.1 465.9h0M226.3 299.8h0M224.4 297.4h0M227.4 297.8h0M226.3 298.1h0M231.7 302.2h0M234.3 292.1h0M244.0 292.3h0M225.4 299.9h0M238.1 303.4h0M240.3 304.0h0M236.6 307.9h0M239.4 301.1h0M236.9 307.4h0M236.5 308.7h0M234.2 309.6h0M236.9 308.1h0M231.3 311.5h0M241.6 313.1h0M236.6 311.7h0M234.3 311.3h0M238.7 313.7h0M238.5 310.6h0M233.3 307.1h0M226.9 317.8h0M235.8 304.7h0M238.2 313.1h0M224.0 321.3h0M230.8 305.4h0M232.7 306.4h0M224.8 307.4h0M231.9 306.6h0M231.3 305.1h0M231.0 300.8h0M228.0 304.4h0M229.0 304.1h0M231.3 308.2h0M218.2 300.0h0M224.4 296.2h0M217.2 299.1h0M216.0 305.0h0M226.8 299.8h0M228.2 295.1h0M201.9 204.8h0M202.7 206.7h0M201.8 203.5h0M204.2 206.3h0M193.7 199.7h0M191.3 195.6h0M201.0 209.0h0M204.9 219.5h0M202.7 208.0h0M195.7 201.5h0M206.1 211.9h0M201.4 204.6h0M202.5 211.2h0M203.7 213.0h0M204.5 209.8h0M204.8 193.9h0M204.6 210.2h0M206.5 209.5h0M204.2 212.8h0M204.0 211.1h0M201.4 207.8h0M210.0 208.1h0M206.3 210.3h0M206.8 212.0h0M196.2 209.9h0M205.9 210.7h0M207.3 212.7h0M204.3 203.4h0M197.5 213.5h0M206.7 209.1h0M207.2 213.6h0M203.6 221.5h0M202.2 228.5h0M207.6 219.8h0M211.0 227.7h0M207.6 223.0h0M208.5 221.0h0M206.8 220.3h0M213.5 221.5h0M205.6 214.8h0M210.5 226.3h0M199.7 217.2h0M204.1 221.0h0M207.3 228.6h0M205.9 216.7h0M213.8 217.2h0M204.8 218.4h0M202.2 218.7h0M205.2 229.5h0M206.7 222.4h0M209.8 227.0h0M208.3 231.0h0M211.8 242.3h0M210.9 229.1h0M210.2 240.6h0M214.6 232.1h0M211.2 235.2h0M207.2 243.2h0M212.8 235.4h0M212.7 240.3h0M214.9 233.2h0M214.4 241.7h0M212.1 232.9h0M211.7 233.2h0M216.6 247.0h0M208.5 250.7h0M217.1 247.3h0M215.3 254.0h0M216.5 246.8h0M212.5 245.4h0M213.6 246.5h0M211.5 243.7h0M215.9 245.5h0M216.2 243.7h0M211.4 244.4h0M210.6 238.9h0M199.9 239.7h0M209.2 236.6h0M191.8 246.5h0M213.0 237.6h0M198.7 245.3h0M209.4 233.6h0M210.4 238.5h0M209.7 234.1h0M208.8 229.7h0M209.7 228.2h0M207.1 231.9h0M197.5 219.8h0M210.1 225.1h0M205.7 225.4h0M204.3 226.9h0M207.1 227.7h0M199.6 230.4h0M203.7 221.3h0M206.7 217.1h0M202.0 223.5h0M200.3 220.7h0M200.3 218.6h0M193.2 230.3h0M197.6 220.9h0M199.5 222.9h0M209.3 220.2h0M196.7 217.0h0M198.2 211.5h0M194.6 211.5h0M197.5 213.9h0M201.9 215.3h0M201.0 212.1h0M201.0 214.8h0M197.4 211.4h0M194.8 211.7h0M201.0 215.5h0M199.4 216.7h0M194.6 210.1h0M195.5 211.6h0M199.7 208.7h0M195.0 206.7h0M196.8 209.5h0M199.8 209.9h0M206.2 208.6h0M202.3 209.8h0M204.3 194.3h0M207.3 212.9h0M205.5 212.2h0M202.8 208.8h0M209.1 219.8h0M209.6 220.3h0M210.8 225.4h0M209.8 225.3h0M207.2 225.9h0M209.1 218.3h0M211.5 239.4h0M215.1 243.2h0M213.9 239.2h0M213.7 241.6h0M215.0 242.4h0M219.2 250.3h0M213.9 247.3h0M224.0 262.6h0M221.1 263.6h0M230.3 283.3h0M234.4 291.9h0M233.8 287.0h0M240.9 297.2h0M240.6 308.4h0M249.0 316.6h0M251.9 345.1h0M247.3 362.0h0M250.1 376.5h0M231.2 399.1h0M204.0 407.7h0M207.1 409.7h0M202.1 410.8h0M181.2 420.6h0M172.1 432.8h0M142.3 466.9h0M134.0 475.6h0M75.7 474.1h0M76.9 469.7h0M78.8 471.6h0M81.1 471.9h0M86.0 468.7h0M85.3 469.1h0M88.5 467.1h0M103.6 471.5h0M119.1 474.9h0M122.2 479.0h0M122.4 482.0h0" fill="none" stroke="#000" stroke-width="2.0" stroke-linecap="round"/></g>
<clipPath id="cp"><rect x="75.0" y="142.7" width="347.9" height="427.2"/></clipPath>
<clipPath id="lc"><path d="M75.0 142.7 L132.7 142.5 L134.6 150.0 L136.2 158.8 L140.3 163.2 L145.3 163.2 L150.3 158.8 L151.6 150.0 L153.4 146.3 L157.8 145.6 L165.4 150.0 L176.6 153.8 L182.9 152.5 L187.9 151.9 L192.3 153.8 L194.2 158.8 L198.0 181.4 L200.5 190.2 L198.0 193.3 L193.6 192.7 L189.8 200.2 L186.7 210.3 L189.2 220.3 L194.2 230.3 L199.9 239.1 L204.9 247.9 L208.6 257.9 L213.0 266.7 L216.2 275.5 L209.3 271.7 L200.5 264.2 L190.5 261.1 L182.9 256.1 L176.6 247.3 L170.4 243.1 L169.1 246.6 L174.1 256.1 L179.2 263.6 L182.3 267.4 L177.9 270.5 L170.4 269.2 L166.6 271.1 L157.8 271.7 L152.8 273.0 L147.8 276.8 L140.3 279.3 L135.2 284.3 L126.5 285.5 L122.7 281.8 L118.9 279.3 L115.2 281.8 L111.4 274.3 L108.9 270.5 L106.4 271.7 L107.6 280.5 L110.2 288.1 L106.4 293.1 L107.6 295.6 L120.2 294.3 L132.7 290.6 L138.4 287.4 L145.3 286.8 L155.3 289.3 L165.4 286.8 L175.4 285.5 L182.9 287.4 L187.3 290.6 L184.8 302.5 L186.1 315.1 L187.3 327.6 L186.4 333.9 L188.6 336.2 L190.7 331.4 L192.3 315.1 L193.6 302.5 L195.5 297.5 L197.4 293.1 L196.3 292.7 L202.6 289.5 L211.4 290.2 L217.7 297.7 L220.2 307.7 L222.7 320.3 L224.0 330.3 L220.8 332.8 L220.2 340.3 L213.9 347.9 L207.0 347.9 L203.9 342.2 L198.2 350.4 L193.8 359.2 L189.2 365.3 L185.4 371.6 L182.9 376.6 L172.9 382.2 L165.4 378.5 L159.1 381.0 L150.3 377.8 L145.3 378.5 L141.5 373.4 L136.5 375.9 L132.7 376.8 L124.0 374.1 L120.8 365.3 L120.2 360.3 L123.3 357.8 L135.2 355.5 L135.2 353.4 L122.7 353.7 L118.3 355.2 L116.4 358.4 L118.3 365.3 L121.4 370.3 L120.2 373.8 L113.9 374.3 L101.4 368.5 L88.8 363.8 L77.5 360.0 L75.0 359.8Z"/><path d="M75.0 364.3 L82.5 365.5 L95.1 370.6 L107.6 376.8 L120.2 381.8 L135.2 384.4 L137.1 390.4 L133.4 399.2 L129.0 402.9 L120.8 404.8 L127.7 407.9 L130.2 411.1 L124.0 416.7 L113.9 424.3 L100.1 433.0 L95.1 431.8 L82.5 421.7 L75.0 419.0 L75.0 419.0Z"/><path d="M75.0 426.5 L82.5 433.0 L95.1 438.1 L102.6 439.6 L113.9 432.0 L125.2 428.0 L132.7 426.8 L134.2 420.5 L137.8 418.0 L140.3 421.7 L141.8 430.5 L145.3 434.3 L147.8 428.0 L151.6 425.8 L157.8 430.5 L156.8 436.8 L152.2 444.3 L150.3 447.9 L144.0 451.6 L140.3 457.6 L135.2 462.9 L131.7 467.9 L129.6 472.7 L122.7 470.2 L113.9 466.4 L107.6 468.3 L101.4 467.7 L95.1 468.7 L85.1 469.6 L75.0 470.8 L75.0 470.8Z"/></clipPath>
<g id="lab"><text x="67.8" y="576.9" font-size="20.80" text-anchor="end" font-weight="normal" fill="#000">34°N</text><text x="67.8" y="436.3" font-size="20.80" text-anchor="end" font-weight="normal" fill="#000">35°N</text><text x="67.8" y="293.9" font-size="20.80" text-anchor="end" font-weight="normal" fill="#000">36°N</text><text x="67.8" y="149.7" font-size="20.80" text-anchor="end" font-weight="normal" fill="#000">37°N</text><text x="67.8" y="505.2" font-size="15.60" text-anchor="end" font-weight="normal" fill="#000">30'</text><text x="67.8" y="363.7" font-size="15.60" text-anchor="end" font-weight="normal" fill="#000">30'</text><text x="67.8" y="220.4" font-size="15.60" text-anchor="end" font-weight="normal" fill="#000">30'</text><text x="78.0" y="590.5" font-size="20.80" text-anchor="middle" font-weight="normal" fill="#000">77°W</text><text x="194.0" y="590.5" font-size="20.80" text-anchor="middle" font-weight="normal" fill="#000">76°W</text><text x="309.9" y="590.5" font-size="20.80" text-anchor="middle" font-weight="normal" fill="#000">75°W</text><text x="425.9" y="590.5" font-size="20.80" text-anchor="middle" font-weight="normal" fill="#000">74°W</text><text x="133.0" y="587.2" font-size="15.60" text-anchor="middle" font-weight="normal" fill="#000">30'</text><text x="248.9" y="587.2" font-size="15.60" text-anchor="middle" font-weight="normal" fill="#000">30'</text><text x="364.9" y="587.2" font-size="15.60" text-anchor="middle" font-weight="normal" fill="#000">30'</text></g>
<g id="grid"><path d="M75.0 499.8H422.7M75.0 429.3H422.7M75.0 358.3H422.7M75.0 286.9H422.7M75.0 215.0H422.7M133.0 142.7V570.0M191.0 142.7V570.0M248.9 142.7V570.0M306.9 142.7V570.0M364.9 142.7V570.0" stroke="#8a8a8a" stroke-opacity="0.55" stroke-width="1" stroke-dasharray="3 6.7" fill="none"/></g>
<g id="stars"><path d="M229.0 299.2L246.6 299.2M232.6 294.0L243.0 304.4M237.8 290.4L237.8 308.0M243.0 294.0L232.6 304.4" stroke="#f00" stroke-width="1.25" fill="none"/><path d="M237.5 392.4L255.1 392.4M241.1 387.2L251.5 397.6M246.3 383.6L246.3 401.2M251.5 387.2L241.1 397.6" stroke="#f00" stroke-width="1.25" fill="none"/><path d="M134.2 463.3L151.8 463.3M137.8 458.1L148.2 468.5M143.0 454.5L143.0 472.1M148.2 458.1L137.8 468.5" stroke="#f00" stroke-width="1.25" fill="none"/></g>
<g id="km"><text x="388.5" y="179.6" font-size="20.80" text-anchor="middle" font-weight="normal" fill="#000">10 km</text><path d="M382 185.3H394.5" stroke="#000" stroke-width="3.6" stroke-linecap="round"/></g>
</defs>
<rect width="1650" height="1275" fill="#fff"/>
<g transform="translate(-0.1 -0.1)">
<use href="#grid"/>
<g clip-path="url(#cp)">


<use href="#land"/>
<g clip-path="url(#lc)" opacity="0.8"><use href="#grid"/></g>
</g>
<path d="M348.8 141.7 L346.5 158.0 L344.7 170.7" fill="none" stroke="#000" stroke-width="1.0" stroke-linejoin="round"/><path d="M337.5 203.0 L336.2 208.2 L332.0 225.0 L329.4 242.4 L328.5 258.0 L325.9 276.5 L325.0 292.0 L322.5 310.6 L324.0 322.0 L327.0 331.0 L328.5 338.0 L327.6 344.7 L325.0 354.0 L322.5 361.8 L316.0 371.0 L310.6 378.8 L307.0 384.0" fill="none" stroke="#000" stroke-width="1.0" stroke-linejoin="round"/><path d="M296.0 400.0 L292.0 406.0 L286.7 413.0 L280.0 421.0 L273.0 430.0 L265.0 437.0 L256.0 443.7 L249.0 451.0 L242.4 457.3 L233.0 468.0 L225.3 477.8 L217.0 488.0 L208.2 498.2 L199.0 509.0 L191.2 518.7 L182.0 531.0 L174.1 542.6 L163.0 556.0 L153.6 568.2 L150.0 573.0" fill="none" stroke="#000" stroke-width="1.0" stroke-linejoin="round"/><text x="341.5" y="191.7" font-size="13.5" text-anchor="middle" transform="rotate(-78 341.5 187.0)" fill="#000">-100</text><text x="301.5" y="397.2" font-size="13.5" text-anchor="middle" transform="rotate(-52 301.5 392.5)" fill="#000">100</text><path fill="#0097ff" d="M231.9 436.2L240.3 423.7L242.5 425.2L244.2 416.2L236.5 421.2L238.8 422.7L230.5 435.2zM239.4 444.1L251.3 435.4L252.9 437.6L257.6 429.6L248.6 431.7L250.2 433.9L238.3 442.7zM293.1 428.0L294.4 413.7L297.1 413.9L294.3 405.1L289.9 413.3L292.6 413.5L291.3 427.9zM300.6 242.3L294.0 228.5L296.4 227.3L289.5 221.2L289.9 230.4L292.4 229.2L299.0 243.0zM315.8 249.9L307.3 236.8L309.5 235.3L301.9 230.2L303.5 239.3L305.8 237.8L314.3 250.9zM352.9 266.7L367.4 270.5L366.7 273.1L375.9 271.7L368.6 266.1L367.9 268.7L353.3 264.9zM353.5 274.4L366.8 268.7L367.9 271.2L374.3 264.5L365.1 264.5L366.1 267.0L352.8 272.7zM368.8 504.3L354.9 497.6L356.1 495.2L346.9 494.8L353.0 501.7L354.1 499.3L368.0 506.0z"/><path fill="#0087ff" d="M231.7 444.1L243.1 436.7L244.5 439.0L249.7 431.4L240.6 433.0L242.1 435.2L230.7 442.6zM231.9 544.3L240.1 533.8L242.3 535.5L244.7 526.6L236.6 531.0L238.7 532.7L230.5 543.2zM247.3 443.6L251.5 430.2L254.1 431.0L253.2 421.8L247.2 428.8L249.8 429.6L245.6 443.1zM255.0 497.4L254.0 483.6L256.7 483.4L252.5 475.2L249.5 483.9L252.2 483.7L253.2 497.5zM262.2 481.2L251.6 473.7L253.2 471.5L244.2 469.5L249.0 477.3L250.6 475.1L261.2 482.7zM300.4 249.8L290.9 239.8L292.8 237.9L284.4 234.3L287.6 242.9L289.6 241.0L299.1 251.0zM307.6 367.1L320.5 364.6L321.0 367.2L328.6 362.1L319.6 360.2L320.1 362.8L307.2 365.3zM314.7 343.9L327.4 348.3L326.5 350.9L335.7 350.3L328.9 344.1L328.0 346.6L315.3 342.2zM323.4 242.1L315.0 230.7L317.2 229.1L309.2 224.3L311.3 233.3L313.5 231.7L321.9 243.2zM330.5 343.9L342.9 340.0L343.7 342.6L350.8 336.7L341.6 335.7L342.4 338.3L330.0 342.2zM346.3 320.3L352.5 308.9L354.9 310.2L355.8 301.0L348.6 306.8L351.0 308.1L344.7 319.4zM361.6 497.5L363.3 484.3L366.0 484.6L363.5 475.8L358.8 483.7L361.5 484.1L359.8 497.3z"/><path fill="#0058ff" d="M232.1 451.4L235.0 441.8L237.6 442.6L236.6 433.4L230.7 440.5L233.3 441.2L230.3 450.8zM239.5 521.2L245.8 513.8L247.8 515.5L250.6 506.7L242.3 510.9L244.4 512.6L238.1 520.0zM255.0 435.7L255.7 426.3L258.4 426.6L255.5 417.8L251.2 426.0L253.9 426.2L253.2 435.6zM254.9 451.4L257.5 442.7L260.1 443.5L259.1 434.3L253.2 441.4L255.8 442.2L253.2 450.8zM255.0 458.9L255.9 448.8L258.5 449.1L255.7 440.3L251.4 448.4L254.1 448.7L253.2 458.7zM262.4 436.1L267.9 427.7L270.2 429.2L271.8 420.1L264.1 425.2L266.4 426.7L260.9 435.2zM262.6 443.6L264.6 434.5L267.3 435.1L265.6 426.0L260.2 433.5L262.9 434.1L260.8 443.2zM262.5 451.5L266.4 442.8L268.9 444.0L269.1 434.7L262.3 441.0L264.8 442.1L260.9 450.7zM262.5 466.2L258.7 458.0L261.2 456.9L254.4 450.7L254.7 459.9L257.1 458.8L260.9 466.9zM270.2 466.4L268.3 456.3L271.0 455.8L265.9 448.1L263.9 457.1L266.6 456.6L268.4 466.7zM277.8 451.2L278.8 442.3L281.5 442.6L278.8 433.8L274.3 441.8L277.0 442.1L276.0 451.0zM285.1 257.4L277.8 251.0L279.6 249.0L270.8 246.1L274.9 254.4L276.6 252.4L283.9 258.8zM307.5 336.2L316.5 335.5L316.7 338.2L324.9 334.0L316.2 331.1L316.4 333.7L307.3 334.4zM307.4 374.8L317.3 374.7L317.3 377.4L325.8 373.7L317.2 370.2L317.3 372.9L307.4 373.0zM338.3 297.5L346.3 293.2L347.6 295.5L353.3 288.3L344.1 289.2L345.4 291.6L337.5 295.9zM338.8 335.3L339.1 325.8L341.8 325.9L338.5 317.3L334.6 325.7L337.3 325.8L337.0 335.3zM361.5 513.4L367.0 505.9L369.2 507.5L371.3 498.5L363.4 503.2L365.5 504.8L360.0 512.3z"/><path fill="#0038ff" d="M231.9 458.3L228.4 453.0L230.7 451.5L223.0 446.4L224.7 455.5L226.9 454.0L230.5 459.3zM231.3 521.5L237.7 520.6L238.1 523.3L246.0 518.6L237.1 516.2L237.5 518.8L231.1 519.7zM239.6 458.4L236.0 452.0L238.4 450.7L231.1 445.1L232.1 454.2L234.5 452.9L238.0 459.3zM254.8 473.8L251.6 468.2L253.9 466.9L246.6 461.4L247.7 470.5L250.1 469.2L253.3 474.7zM269.9 265.1L264.7 260.6L266.5 258.6L257.7 255.7L261.7 264.0L263.5 261.9L268.7 266.5zM285.4 436.0L287.9 429.1L290.4 430.0L289.9 420.7L283.6 427.5L286.2 428.4L283.7 435.4zM322.8 336.2L329.9 334.8L330.4 337.4L338.0 332.2L329.0 330.4L329.5 333.0L322.5 334.4zM338.7 327.9L341.4 321.5L343.9 322.5L343.9 313.3L337.3 319.7L339.8 320.8L337.1 327.2z"/><path fill="#0028ff" d="M231.3 465.6L226.4 465.0L226.7 462.4L217.9 464.9L225.9 469.5L226.2 466.8L231.1 467.4zM246.7 465.7L241.3 464.2L242.0 461.6L232.8 462.9L240.1 468.6L240.8 466.0L246.2 467.4zM254.8 303.9L251.9 299.9L254.1 298.3L246.3 293.5L248.3 302.5L250.5 300.9L253.3 304.9zM255.0 489.7L255.3 483.5L258.0 483.7L254.9 475.0L250.8 483.3L253.5 483.4L253.2 489.7zM270.1 458.3L266.8 453.1L269.1 451.7L261.5 446.4L263.0 455.5L265.3 454.1L268.5 459.3zM285.3 265.3L282.4 261.0L284.7 259.5L277.0 254.4L278.7 263.5L280.9 262.0L283.8 266.3zM292.8 419.6L289.1 415.5L291.1 413.7L282.7 409.8L285.8 418.5L287.8 416.7L291.5 420.8zM308.2 389.8L310.8 385.5L313.1 386.9L314.4 377.7L306.9 383.2L309.2 384.5L306.6 388.9zM323.1 305.2L328.2 302.4L329.5 304.8L335.2 297.5L326.0 298.5L327.3 300.8L322.2 303.6zM346.4 312.4L347.9 307.6L350.5 308.4L349.6 299.2L343.6 306.2L346.2 307.0L344.6 311.9z"/><path fill="#0008ff" d="M231.9 473.8L230.0 471.1L232.7 469.2L224.4 464.8L225.9 474.1L228.6 472.1L230.5 474.8zM238.1 513.2L239.5 515.9L236.8 517.4L243.9 522.5L243.7 513.7L241.0 515.2L239.5 512.5zM247.2 473.8L245.5 471.0L248.3 469.3L240.3 464.3L241.1 473.7L244.0 471.9L245.7 474.7zM254.9 482.2L255.6 479.1L258.6 479.8L256.5 471.2L250.9 478.1L253.9 478.8L253.3 481.8zM262.4 265.4L260.7 262.8L263.2 261.1L255.6 256.8L256.7 265.5L259.3 263.7L261.0 266.3zM262.1 272.8L259.1 271.0L260.4 268.7L251.2 267.5L256.8 274.9L258.2 272.6L261.2 274.3zM269.8 257.3L267.0 255.6L268.7 252.7L259.2 251.9L264.2 260.0L266.0 257.1L268.8 258.9zM277.2 257.3L274.1 256.2L275.2 253.0L265.8 254.3L272.4 261.0L273.5 257.9L276.6 258.9zM276.6 288.2L273.6 289.4L272.4 286.3L266.2 293.2L275.5 294.0L274.2 291.0L277.2 289.8zM285.0 303.7L282.2 301.9L284.1 299.1L274.6 298.0L279.4 306.2L281.3 303.4L284.1 305.2zM293.0 374.2L294.0 371.1L297.1 372.2L295.8 363.0L289.3 369.6L292.4 370.6L291.3 373.6zM307.8 380.9L305.1 379.5L306.6 376.8L297.9 376.6L302.9 383.6L304.4 380.9L307.0 382.3zM329.7 334.8L327.6 337.0L325.4 334.9L323.0 343.3L331.1 340.1L328.8 338.1L330.9 335.8zM344.9 305.0L347.0 307.3L344.7 309.4L353.0 312.6L350.6 304.0L348.2 306.1L346.1 303.9z"/><path fill="#000087" d="M231.4 481.9L231.3 481.6L231.5 481.6L230.8 481.0L230.7 481.8L230.9 481.8L231.0 482.1zM239.0 397.3L239.2 397.1L239.3 397.2L239.6 396.4L238.8 396.6L238.9 396.7L238.7 396.9zM254.2 381.4L254.0 381.2L254.1 381.1L253.3 380.9L253.6 381.7L253.7 381.6L253.9 381.8zM269.5 358.6L269.7 358.3L269.8 358.4L269.8 357.5L269.1 358.0L269.2 358.1L269.1 358.3zM269.5 366.3L269.7 366.1L269.8 366.1L269.8 365.3L269.1 365.7L269.2 365.8L269.1 366.1zM269.5 373.9L269.5 373.6L269.7 373.6L269.3 372.9L268.9 373.6L269.0 373.6L269.1 373.9zM269.5 381.7L269.6 381.4L269.7 381.4L269.5 380.6L269.0 381.3L269.1 381.3L269.1 381.6zM269.5 404.7L269.4 404.4L269.6 404.4L268.9 403.7L268.8 404.6L269.0 404.6L269.1 404.9zM277.1 374.1L277.3 373.9L277.4 374.0L277.7 373.2L276.9 373.4L277.0 373.5L276.8 373.7zM284.6 250.6L284.9 250.5L284.9 250.7L285.5 250.1L284.7 249.9L284.7 250.1L284.5 250.1zM337.9 242.4L337.6 242.4L337.6 242.3L336.8 242.6L337.6 243.0L337.6 242.9L337.9 242.9zM337.6 258.1L337.7 258.4L337.6 258.4L338.0 259.1L338.3 258.3L338.2 258.4L338.1 258.1zM345.7 258.1L345.8 257.9L345.9 257.9L345.7 257.1L345.2 257.7L345.3 257.8L345.3 258.1z"/><path fill="#0000b7" d="M231.5 489.6L231.3 488.5L232.5 488.2L230.4 485.5L229.5 488.8L230.7 488.6L230.9 489.8zM230.9 505.3L231.6 506.6L230.3 507.3L233.7 509.7L233.5 505.5L232.2 506.2L231.5 505.0zM238.4 427.9L238.3 429.4L236.8 429.3L238.5 433.3L240.7 429.5L239.1 429.5L239.2 428.0zM239.1 489.9L239.7 488.8L240.8 489.4L240.9 485.9L238.0 487.9L239.1 488.5L238.5 489.5zM246.2 427.7L245.2 428.4L244.4 427.4L242.8 430.7L246.4 430.0L245.6 429.0L246.6 428.2zM246.8 481.8L246.2 480.5L247.6 479.9L244.5 477.1L244.1 481.3L245.5 480.8L246.1 482.1zM246.7 490.0L247.9 489.1L248.8 490.3L250.7 486.5L246.5 487.3L247.4 488.5L246.2 489.4zM253.8 327.5L253.4 328.6L252.3 328.2L252.7 331.6L255.1 329.2L254.0 328.8L254.4 327.7zM253.8 358.3L253.2 359.4L252.1 358.9L252.1 362.4L254.9 360.2L253.8 359.7L254.4 358.6zM254.4 397.0L254.2 395.9L255.3 395.6L253.3 393.0L252.4 396.2L253.5 396.0L253.8 397.1zM261.6 381.3L260.4 381.6L260.1 380.4L257.5 382.7L260.9 383.4L260.6 382.2L261.8 381.9zM269.0 327.5L268.6 328.5L267.5 328.1L267.7 331.4L270.2 329.2L269.1 328.8L269.6 327.7zM269.3 335.0L268.1 335.1L267.9 333.9L265.1 335.8L268.3 337.0L268.2 335.8L269.3 335.6zM269.6 389.4L269.7 388.2L270.9 388.4L269.7 385.3L268.0 388.1L269.1 388.2L269.0 389.3zM277.2 265.6L276.3 264.6L277.2 263.7L273.6 262.4L274.8 266.0L275.7 265.1L276.7 266.1zM277.0 320.2L278.4 319.8L278.8 321.2L281.8 318.3L277.7 317.7L278.2 319.1L276.8 319.5zM276.6 342.9L276.1 344.2L274.8 343.8L275.4 347.6L278.2 344.9L276.8 344.4L277.3 343.1zM276.8 350.5L275.8 350.9L275.3 349.9L273.3 352.4L276.5 352.5L276.0 351.5L277.0 351.0zM277.2 397.3L278.0 396.1L279.1 396.9L279.6 393.1L276.2 395.0L277.4 395.7L276.6 396.9zM284.5 243.0L285.8 243.1L285.7 244.3L289.0 242.9L285.9 241.1L285.8 242.4L284.6 242.3zM284.2 335.5L285.2 336.6L284.0 337.6L287.8 339.2L286.9 335.2L285.7 336.2L284.8 335.1zM284.7 342.6L283.2 342.2L283.7 340.8L279.5 341.5L282.6 344.4L283.0 343.0L284.4 343.4zM284.6 397.4L285.8 397.1L286.0 398.4L288.8 396.2L285.4 395.3L285.7 396.5L284.5 396.7zM284.7 412.8L285.9 412.3L286.4 413.6L289.0 410.7L285.1 410.4L285.6 411.7L284.4 412.2zM292.0 235.2L292.9 235.9L292.1 236.9L295.4 237.6L294.0 234.5L293.3 235.5L292.4 234.7zM292.2 250.0L291.0 249.7L291.3 248.4L287.6 249.3L290.5 251.7L290.8 250.4L292.1 250.7zM291.8 281.4L292.2 282.5L291.0 282.9L293.4 285.4L294.0 282.0L292.8 282.3L292.5 281.2zM292.5 289.1L292.9 288.0L294.0 288.5L293.9 285.1L291.2 287.3L292.3 287.8L291.9 288.9zM292.5 296.5L291.8 295.3L293.0 294.6L289.7 292.5L289.9 296.4L291.1 295.7L291.8 296.9zM291.9 312.3L292.4 313.4L291.3 313.9L294.1 316.0L294.1 312.5L293.0 313.1L292.5 312.0zM292.5 350.7L292.3 349.5L293.4 349.3L291.4 346.6L290.4 349.8L291.6 349.6L291.8 350.8zM299.6 265.6L298.7 266.4L297.9 265.6L296.8 268.8L300.0 267.7L299.2 266.9L300.0 266.0zM299.5 296.6L299.1 297.8L297.8 297.4L298.4 301.0L301.0 298.4L299.7 298.0L300.1 296.8zM300.1 381.4L299.1 380.3L300.1 379.3L296.2 377.9L297.4 381.9L298.5 380.8L299.5 381.9zM307.6 273.3L306.8 272.4L307.7 271.6L304.5 270.4L305.5 273.7L306.4 272.9L307.2 273.8zM307.2 289.3L308.2 290.0L307.5 291.0L311.0 291.5L309.3 288.4L308.6 289.4L307.6 288.7zM307.1 312.2L307.2 313.4L306.0 313.6L308.0 316.6L309.2 313.2L307.9 313.3L307.7 312.1zM322.9 289.2L323.7 288.1L324.8 288.8L325.3 285.1L322.0 286.9L323.1 287.7L322.3 288.8zM322.3 327.3L321.4 328.5L320.3 327.5L319.3 331.6L323.1 329.9L322.0 329.0L322.9 327.8zM329.9 265.9L330.4 267.3L329.0 267.7L331.9 270.6L332.4 266.6L331.1 267.0L330.6 265.7zM330.1 273.9L331.4 274.3L331.0 275.7L334.9 275.2L332.1 272.3L331.7 273.7L330.4 273.2zM330.5 281.0L329.7 279.9L330.7 279.0L327.1 277.4L328.0 281.3L329.1 280.4L330.0 281.5zM329.9 312.2L330.2 313.7L328.8 314.0L331.6 317.3L332.5 313.1L331.0 313.5L330.6 312.0zM338.2 273.7L338.7 272.5L339.8 273.0L339.6 269.5L336.9 271.8L338.1 272.3L337.6 273.4zM345.8 266.0L346.4 264.9L347.5 265.5L347.6 262.0L344.7 264.0L345.8 264.6L345.2 265.7z"/><path fill="#000097" d="M231.4 497.6L231.8 497.0L232.3 497.4L232.7 495.4L230.9 496.3L231.4 496.7L231.0 497.3zM238.9 405.0L239.6 404.9L239.7 405.6L241.4 404.3L239.4 403.7L239.5 404.4L238.8 404.5zM238.9 412.3L238.3 412.0L238.6 411.5L236.7 411.6L237.9 413.0L238.1 412.5L238.7 412.7zM246.7 404.7L246.6 404.2L247.0 404.1L246.1 403.0L245.7 404.4L246.1 404.3L246.2 404.8zM246.5 412.3L246.2 412.1L246.3 411.8L245.0 411.8L245.8 412.8L245.9 412.5L246.3 412.7zM254.0 311.9L253.3 312.1L253.1 311.5L251.6 312.9L253.6 313.2L253.5 312.6L254.1 312.4zM253.8 350.7L253.6 351.4L253.0 351.2L253.4 353.2L254.8 351.7L254.1 351.5L254.3 350.8zM253.9 373.7L253.4 374.1L253.0 373.6L252.2 375.3L254.0 375.0L253.7 374.5L254.2 374.1zM254.2 412.3L253.7 411.9L254.0 411.4L252.1 411.1L253.0 412.8L253.4 412.3L253.9 412.7zM253.9 427.8L253.5 428.4L253.0 428.0L252.8 429.9L254.4 429.0L253.9 428.6L254.3 428.1zM261.5 312.0L261.2 312.5L260.8 312.3L260.7 313.8L262.0 313.0L261.6 312.7L261.9 312.3zM261.5 350.6L261.2 350.9L261.0 350.7L260.7 351.9L261.8 351.4L261.6 351.2L261.9 350.9zM261.8 373.7L261.5 373.4L261.7 373.1L260.3 372.7L260.9 374.0L261.1 373.7L261.5 374.1zM261.9 397.1L262.0 396.5L262.5 396.5L261.9 394.9L261.0 396.4L261.5 396.4L261.4 397.0zM261.7 412.3L261.2 412.1L261.3 411.7L259.7 412.1L261.0 413.1L261.1 412.6L261.6 412.7zM261.8 420.0L261.2 419.7L261.5 419.2L259.6 419.2L260.7 420.7L261.0 420.2L261.6 420.4zM269.3 427.7L268.5 427.8L268.5 427.1L266.7 428.2L268.7 429.0L268.6 428.3L269.3 428.2zM277.2 242.6L277.1 241.9L277.7 241.9L276.6 240.2L276.0 242.1L276.6 242.0L276.7 242.7zM276.9 250.6L277.7 250.6L277.7 251.2L279.5 250.1L277.6 249.4L277.6 250.1L276.9 250.1zM277.1 312.0L276.8 311.6L277.1 311.3L275.8 310.7L276.1 312.2L276.4 311.9L276.7 312.3zM277.1 358.3L276.6 357.9L276.9 357.5L275.2 357.3L276.0 358.7L276.3 358.3L276.8 358.7zM277.0 381.9L277.6 381.7L277.8 382.2L279.2 380.9L277.3 380.6L277.5 381.2L276.8 381.4zM277.2 412.6L277.3 411.9L278.0 412.0L277.6 410.0L276.2 411.6L276.9 411.7L276.7 412.4zM277.2 420.3L277.4 419.6L278.1 419.8L277.8 417.7L276.3 419.2L276.9 419.4L276.7 420.1zM284.5 312.4L285.0 312.4L285.0 312.8L286.4 312.3L285.1 311.5L285.1 311.9L284.6 311.9zM284.5 320.1L285.1 320.3L285.0 320.8L286.8 320.4L285.4 319.2L285.2 319.8L284.6 319.6zM284.7 350.6L284.2 350.1L284.7 349.6L282.8 349.0L283.4 350.9L283.9 350.4L284.4 350.9zM284.8 358.5L284.8 357.9L285.3 357.9L284.7 356.4L283.8 357.8L284.3 357.9L284.3 358.4zM292.0 320.1L292.4 320.4L292.2 320.8L293.7 321.1L293.0 319.6L292.8 320.0L292.3 319.7zM291.9 327.7L292.3 328.3L291.8 328.6L293.4 329.6L293.2 327.7L292.7 328.0L292.4 327.4zM292.2 358.7L292.9 358.5L293.0 359.1L294.4 357.8L292.6 357.5L292.7 358.0L292.1 358.2zM299.5 289.1L299.8 289.7L299.2 290.0L300.7 291.4L300.9 289.3L300.3 289.6L300.0 288.9zM307.4 235.2L307.9 235.1L307.9 235.4L309.0 234.7L307.8 234.3L307.8 234.6L307.4 234.7zM307.2 281.4L307.6 281.9L307.1 282.2L308.7 283.1L308.4 281.3L308.0 281.6L307.6 281.1zM307.3 327.4L306.7 327.7L306.3 327.2L305.3 328.9L307.3 328.7L306.9 328.2L307.5 327.8zM315.0 265.6L314.6 265.5L314.6 265.2L313.3 265.7L314.5 266.4L314.5 266.0L315.0 266.1zM315.2 273.4L314.9 272.9L315.3 272.6L313.8 271.7L314.0 273.5L314.5 273.2L314.8 273.7zM314.8 304.6L315.2 305.1L314.7 305.5L316.4 306.5L316.1 304.5L315.6 304.9L315.2 304.3zM322.8 234.8L322.4 234.3L322.8 233.9L321.1 233.3L321.6 235.0L322.0 234.6L322.5 235.1zM322.5 265.6L322.0 266.1L321.5 265.7L320.9 267.6L322.8 266.9L322.3 266.5L322.8 266.0zM322.5 273.3L321.9 273.7L321.6 273.2L320.7 274.9L322.6 274.6L322.2 274.1L322.8 273.7zM322.9 281.3L323.0 280.7L323.6 280.8L323.0 279.0L321.9 280.5L322.5 280.6L322.4 281.2zM330.4 234.7L329.7 234.4L330.0 233.8L327.9 233.9L329.2 235.5L329.5 234.9L330.2 235.2zM330.0 242.6L329.7 243.2L329.1 243.0L329.2 245.1L330.9 243.7L330.2 243.4L330.5 242.8zM337.7 250.2L337.4 250.4L337.3 250.2L336.7 251.2L337.8 251.0L337.7 250.8L338.0 250.6zM337.6 265.9L337.9 266.5L337.3 266.7L338.7 268.0L338.9 266.1L338.4 266.3L338.1 265.7z"/><path fill="#0000c7" d="M230.8 513.1L231.6 514.6L230.1 515.4L234.2 518.2L234.0 513.3L232.4 514.1L231.6 512.6zM238.7 419.8L237.3 420.2L236.9 418.7L233.6 421.5L237.8 422.5L237.5 421.0L238.9 420.6zM253.9 319.5L252.5 320.0L251.9 318.6L249.0 321.9L253.4 322.2L252.8 320.8L254.2 320.2zM269.4 288.5L267.7 288.1L268.2 286.3L263.3 287.3L267.0 290.7L267.5 289.0L269.2 289.4zM269.5 342.6L268.0 341.8L268.9 340.3L264.0 340.1L266.7 344.1L267.6 342.6L269.1 343.4zM277.4 389.4L277.8 387.7L279.5 388.1L278.3 383.2L275.1 387.1L276.8 387.5L276.5 389.2zM284.9 405.0L285.7 403.8L287.0 404.6L287.6 400.3L283.8 402.4L285.1 403.3L284.2 404.6zM284.7 420.7L286.3 420.2L286.8 421.9L290.4 418.5L285.6 417.6L286.1 419.3L284.4 419.8zM291.9 304.1L290.7 305.1L289.7 303.9L287.9 307.8L292.2 306.9L291.2 305.7L292.4 304.7zM292.6 381.6L292.3 379.9L294.0 379.6L291.2 375.7L289.8 380.3L291.5 380.0L291.7 381.7zM299.4 281.1L298.7 282.4L297.4 281.7L297.2 286.0L300.8 283.5L299.4 282.8L300.1 281.5zM330.3 320.4L332.2 320.2L332.3 322.1L336.9 319.3L331.9 317.3L332.1 319.2L330.2 319.4zM338.1 280.9L336.6 280.0L337.5 278.4L332.5 278.1L335.2 282.3L336.1 280.8L337.6 281.7z"/><path fill="#0068ff" d="M231.5 529.2L242.1 526.1L242.8 528.7L250.0 522.8L240.8 521.7L241.6 524.3L230.9 527.4zM239.7 451.3L242.5 441.0L245.1 441.7L243.8 432.6L238.1 439.8L240.8 440.5L238.0 450.9zM247.0 436.4L255.9 429.6L257.5 431.7L262.1 423.7L253.2 426.0L254.8 428.1L245.9 434.9zM247.3 451.2L248.4 440.8L251.1 441.1L248.4 432.3L243.9 440.4L246.6 440.6L245.5 451.0zM254.9 443.5L256.6 432.8L259.3 433.2L257.0 424.2L252.2 432.1L254.8 432.5L253.2 443.2zM300.3 411.7L290.6 405.8L292.0 403.5L282.9 402.1L288.2 409.6L289.6 407.3L299.3 413.3zM308.3 397.2L310.2 385.9L312.8 386.3L310.6 377.4L305.7 385.2L308.4 385.6L306.5 396.9zM315.5 382.4L324.3 376.6L325.8 378.9L330.9 371.2L321.8 372.9L323.3 375.1L314.5 380.9zM323.4 249.9L317.1 240.6L319.4 239.0L311.7 234.0L313.4 243.1L315.7 241.6L321.9 250.9zM323.3 257.5L316.4 248.9L318.5 247.2L310.4 242.9L312.9 251.7L315.0 250.0L321.9 258.7zM345.9 289.8L355.9 285.3L357.0 287.8L363.3 281.1L354.1 281.2L355.2 283.7L345.1 288.2zM346.1 297.4L354.1 290.4L355.9 292.5L359.9 284.2L351.2 287.0L352.9 289.1L344.9 296.0z"/><path fill="#00b7ff" d="M230.9 536.9L248.0 542.5L247.1 545.1L256.3 544.3L249.4 538.2L248.5 540.8L231.5 535.2zM246.8 513.7L263.2 506.6L264.3 509.1L270.6 502.4L261.4 502.5L262.5 504.9L246.1 512.0zM307.3 359.4L324.9 361.1L324.6 363.8L333.4 361.1L325.3 356.7L325.0 359.3L307.5 357.6zM308.1 474.8L319.6 461.1L321.6 462.8L324.3 454.0L316.1 458.2L318.2 460.0L306.7 473.7zM308.3 482.0L309.5 464.7L312.2 464.9L309.2 456.1L305.0 464.4L307.7 464.6L306.5 481.9zM307.5 496.5L290.2 494.9L290.5 492.2L281.7 495.0L289.8 499.4L290.1 496.7L307.3 498.3zM315.7 242.1L304.0 229.0L306.0 227.2L297.6 223.3L300.6 232.0L302.6 230.2L314.4 243.3zM315.7 257.6L304.6 243.2L306.8 241.5L298.7 237.0L301.1 245.9L303.2 244.2L314.3 258.6zM315.9 474.4L318.0 457.3L320.6 457.6L318.1 448.7L313.5 456.7L316.2 457.1L314.1 474.2zM369.3 497.5L370.1 480.1L372.8 480.2L369.5 471.6L365.6 479.9L368.3 480.0L367.5 497.4z"/><path fill="#38ffc7" d="M232.0 551.9L247.1 528.4L249.4 529.8L250.9 520.7L243.3 525.9L245.6 527.4L230.4 551.0zM239.6 536.5L255.9 512.7L258.2 514.2L260.0 505.2L252.2 510.1L254.5 511.7L238.1 535.5zM254.8 505.7L270.7 482.6L272.9 484.1L274.8 475.1L267.0 480.0L269.2 481.6L253.3 504.6zM292.9 436.1L307.7 412.4L310.0 413.9L311.4 404.7L303.9 410.1L306.2 411.5L291.4 435.2zM338.6 567.4L354.9 544.4L357.1 546.0L359.0 536.9L351.2 541.8L353.4 543.4L337.1 566.4zM346.2 567.4L363.0 543.7L365.2 545.3L367.2 536.3L359.3 541.1L361.5 542.7L344.8 566.4zM353.9 567.4L369.8 543.9L372.0 545.5L373.8 536.4L366.0 541.4L368.3 542.9L352.4 566.4zM361.5 528.8L377.7 505.8L379.9 507.3L381.8 498.3L374.0 503.2L376.2 504.7L360.0 527.8z"/><path fill="#ffb700" d="M232.0 559.7L258.8 516.0L261.1 517.4L262.5 508.3L255.0 513.7L257.3 515.1L230.4 558.7zM254.8 513.4L283.6 471.3L285.8 472.8L287.6 463.8L279.8 468.7L282.1 470.3L253.3 512.4zM285.3 528.8L315.8 488.3L318.0 489.9L320.2 481.0L312.2 485.6L314.4 487.2L283.8 527.8zM285.3 552.0L314.0 510.4L316.3 512.0L318.1 502.9L310.3 507.9L312.6 509.4L283.8 550.9zM300.5 552.0L329.5 509.9L331.7 511.4L333.6 502.4L325.8 507.3L328.0 508.9L299.0 550.9zM308.1 559.7L336.6 517.5L338.9 519.0L340.6 510.0L332.9 515.0L335.1 516.5L306.7 558.7zM338.6 513.4L367.8 472.0L370.0 473.6L372.0 464.6L364.1 469.4L366.4 471.0L337.1 512.3zM353.9 474.8L383.6 432.5L385.8 434.1L387.7 425.0L379.9 429.9L382.1 431.5L352.4 473.7zM361.5 459.3L390.8 416.6L393.1 418.2L394.9 409.1L387.1 414.1L389.3 415.6L360.0 458.3zM369.1 443.9L398.2 401.4L400.4 402.9L402.2 393.8L394.4 398.8L396.7 400.4L367.6 442.9zM384.4 412.9L406.4 367.0L408.8 368.1L409.2 358.9L402.3 365.0L404.7 366.2L382.8 412.1zM392.0 405.2L414.7 358.9L417.1 360.1L417.7 350.9L410.7 357.0L413.1 358.1L390.4 404.4z"/><path fill="#870000" d="M232.0 567.4L277.1 495.3L279.4 496.7L280.9 487.6L273.3 492.9L275.6 494.3L230.4 566.4zM239.6 559.7L282.3 492.5L284.6 493.9L286.1 484.8L278.5 490.1L280.8 491.5L238.1 558.7zM239.6 567.4L282.7 498.9L285.0 500.4L286.5 491.3L278.9 496.5L281.2 498.0L238.1 566.4zM254.8 521.1L312.0 441.0L314.2 442.6L316.2 433.6L308.3 438.4L310.5 440.0L253.3 520.1zM254.8 528.8L304.4 456.5L306.6 458.0L308.4 448.9L300.7 453.9L302.9 455.4L253.3 527.8zM262.4 505.7L313.1 432.3L315.3 433.8L317.1 424.8L309.4 429.7L311.6 431.2L260.9 504.6zM262.4 513.4L315.3 438.5L317.5 440.1L319.5 431.1L311.6 435.9L313.8 437.5L260.9 512.3zM262.4 521.1L317.5 448.6L319.7 450.2L322.0 441.3L313.9 445.9L316.1 447.5L261.0 520.0zM262.4 528.8L310.3 463.2L312.4 464.8L314.5 455.8L306.6 460.5L308.8 462.1L261.0 527.8zM262.4 536.5L307.3 473.2L309.5 474.7L311.5 465.7L303.6 470.6L305.8 472.1L260.9 535.5zM270.0 497.9L320.4 423.9L322.7 425.5L324.5 416.4L316.7 421.4L319.0 422.9L268.6 496.9zM270.0 505.7L320.3 433.7L322.5 435.2L324.5 426.2L316.6 431.1L318.9 432.7L268.6 504.6zM270.0 513.4L316.8 445.4L319.0 446.9L320.8 437.9L313.0 442.8L315.3 444.4L268.6 512.4zM270.0 521.1L316.5 455.7L318.7 457.3L320.7 448.3L312.8 453.1L315.0 454.7L268.6 520.1zM270.0 528.8L318.1 464.1L320.2 465.7L322.4 456.8L314.5 461.4L316.6 463.1L268.6 527.8zM270.0 536.5L316.9 470.3L319.1 471.8L321.1 462.8L313.2 467.7L315.4 469.2L268.6 535.5zM277.7 490.2L323.8 421.3L326.1 422.8L327.8 413.7L320.1 418.8L322.3 420.3L276.2 489.2zM277.7 497.9L328.0 423.1L330.3 424.6L332.0 415.6L324.3 420.6L326.5 422.1L276.2 496.9zM277.7 505.6L326.1 434.4L328.3 435.9L330.1 426.8L322.4 431.8L324.6 433.3L276.2 504.6zM277.7 513.4L321.4 450.0L323.6 451.5L325.5 442.5L317.7 447.5L319.9 449.0L276.2 512.3zM277.6 528.8L323.8 466.6L325.9 468.2L328.1 459.2L320.2 463.9L322.3 465.5L276.2 527.8zM285.3 490.2L329.2 425.3L331.4 426.8L333.2 417.7L325.5 422.7L327.7 424.3L283.8 489.2zM285.3 497.9L331.5 427.6L333.7 429.1L335.4 420.0L327.7 425.1L330.0 426.6L283.8 496.9zM285.3 505.6L329.9 436.2L332.2 437.7L333.7 428.6L326.1 433.8L328.4 435.3L283.8 504.7zM285.3 513.4L329.0 450.7L331.2 452.3L333.1 443.2L325.3 448.1L327.5 449.7L283.8 512.3zM292.9 451.6L346.3 373.1L348.5 374.6L350.3 365.6L342.6 370.6L344.8 372.1L291.4 450.6zM292.9 459.3L342.2 390.2L344.4 391.8L346.4 382.8L338.5 387.6L340.7 389.2L291.4 458.3zM292.9 497.9L336.8 431.2L339.1 432.7L340.7 423.6L333.1 428.7L335.3 430.2L291.4 496.9zM300.5 436.1L342.6 367.7L344.9 369.1L346.3 359.9L338.8 365.3L341.1 366.7L299.0 435.2zM300.5 443.9L347.1 371.5L349.4 373.0L350.9 363.9L343.3 369.1L345.6 370.5L299.0 442.9zM300.5 451.6L353.6 372.9L355.8 374.4L357.6 365.3L349.8 370.4L352.1 371.9L299.0 450.6zM300.5 459.3L350.0 390.6L352.2 392.1L354.2 383.1L346.3 387.9L348.5 389.5L299.0 458.3zM308.2 428.4L346.8 362.7L349.1 364.1L350.3 354.9L342.9 360.4L345.2 361.8L306.6 427.5zM308.2 436.1L350.4 367.4L352.7 368.8L354.1 359.7L346.5 365.1L348.8 366.5L306.6 435.2zM308.2 443.9L355.7 371.7L358.0 373.2L359.7 364.1L352.0 369.2L354.2 370.7L306.6 442.9zM308.1 451.6L359.2 375.2L361.5 376.7L363.2 367.6L355.5 372.7L357.8 374.2L306.7 450.6zM308.1 459.3L356.4 389.5L358.6 391.0L360.5 381.9L352.7 386.9L354.9 388.4L306.7 458.3zM315.8 412.9L351.6 343.0L354.0 344.2L354.7 335.0L347.6 340.9L350.0 342.2L314.2 412.1zM315.8 420.6L353.5 351.1L355.9 352.4L356.8 343.2L349.6 349.0L351.9 350.3L314.2 419.8zM315.8 428.4L355.1 359.7L357.5 361.0L358.6 351.8L351.2 357.4L353.6 358.8L314.2 427.5zM315.8 436.1L359.1 364.7L361.4 366.1L362.7 357.0L355.2 362.4L357.5 363.8L314.3 435.2zM315.8 443.9L362.7 370.7L365.0 372.2L366.5 363.1L358.9 368.3L361.2 369.7L314.3 442.9zM315.8 451.6L365.5 377.0L367.7 378.5L369.4 369.4L361.7 374.5L364.0 376.0L314.3 450.6zM315.8 459.3L361.9 389.1L364.1 390.6L365.8 381.5L358.1 386.6L360.4 388.1L314.3 458.3zM315.8 505.6L358.0 437.9L360.3 439.3L361.8 430.2L354.2 435.5L356.5 436.9L314.3 504.7zM323.4 397.5L361.4 323.5L363.8 324.7L364.5 315.5L357.4 321.5L359.8 322.7L321.8 396.6zM323.4 405.2L359.0 336.6L361.4 337.9L362.1 328.7L355.0 334.6L357.4 335.8L321.8 404.4zM323.4 412.9L360.1 343.4L362.5 344.7L363.2 335.5L356.1 341.3L358.5 342.6L321.8 412.1zM323.4 420.7L364.5 347.0L366.8 348.3L367.8 339.1L360.5 344.8L362.9 346.1L321.9 419.8zM323.4 428.4L367.5 350.9L369.9 352.3L370.9 343.1L363.6 348.7L366.0 350.0L321.9 427.5zM323.4 436.1L369.9 361.0L372.2 362.5L373.6 353.3L366.1 358.7L368.4 360.1L321.9 435.2zM323.4 443.9L369.7 369.0L372.0 370.4L373.4 361.3L365.9 366.6L368.2 368.0L321.9 442.9zM323.4 451.6L365.0 387.7L367.3 389.2L368.9 380.1L361.2 385.3L363.5 386.7L321.9 450.6zM323.4 505.6L368.8 436.9L371.0 438.4L372.7 429.3L365.0 434.4L367.3 435.9L321.9 504.6zM323.4 513.4L365.5 449.9L367.8 451.4L369.5 442.3L361.8 447.4L364.1 448.9L321.9 512.4zM331.1 382.0L365.6 299.7L368.1 300.8L368.0 291.6L361.4 298.0L363.9 299.1L329.4 381.3zM331.1 389.7L368.5 314.5L370.9 315.7L371.5 306.5L364.5 312.5L366.9 313.7L329.5 388.9zM331.1 397.5L366.4 326.6L368.8 327.8L369.4 318.6L362.3 324.6L364.8 325.8L329.5 396.7zM331.1 412.9L369.8 341.9L372.1 343.2L373.0 334.0L365.8 339.8L368.2 341.1L329.5 412.1zM331.0 420.7L373.7 342.7L376.1 344.0L377.0 334.8L369.8 340.6L372.1 341.8L329.5 419.8zM331.0 428.4L379.8 344.8L382.2 346.1L383.3 337.0L375.9 342.5L378.3 343.9L329.5 427.5zM331.0 436.1L377.4 361.5L379.7 362.9L381.1 353.8L373.5 359.1L375.8 360.6L329.5 435.2zM331.0 443.9L373.4 377.7L375.7 379.1L377.2 370.0L369.6 375.2L371.9 376.7L329.5 442.9zM331.0 490.2L376.5 424.8L378.7 426.3L380.6 417.3L372.8 422.2L375.0 423.7L329.5 489.2zM331.0 497.9L380.0 424.8L382.2 426.3L384.0 417.2L376.3 422.3L378.5 423.8L329.5 496.9zM331.0 505.6L377.3 434.7L379.6 436.2L381.2 427.1L373.5 432.3L375.8 433.7L329.5 504.6zM338.7 366.5L368.0 288.2L370.5 289.1L370.1 279.9L363.8 286.6L366.3 287.5L337.0 365.9zM338.7 374.2L370.2 295.5L372.7 296.5L372.5 287.3L366.0 293.9L368.5 294.9L337.0 373.6zM338.7 382.0L371.3 306.5L373.8 307.6L373.9 298.3L367.2 304.7L369.7 305.8L337.1 381.3zM338.7 389.7L371.6 317.7L374.1 318.8L374.3 309.6L367.5 315.8L370.0 317.0L337.1 389.0zM338.7 412.9L375.9 341.9L378.3 343.2L379.0 334.0L371.9 339.8L374.3 341.1L337.1 412.1zM338.7 420.7L383.1 341.2L385.5 342.5L386.5 333.3L379.2 339.0L381.5 340.3L337.1 419.8zM338.7 428.4L390.7 336.5L393.1 337.9L394.2 328.7L386.8 334.3L389.2 335.7L337.1 427.5zM338.7 436.1L388.0 354.1L390.3 355.4L391.6 346.3L384.1 351.7L386.4 353.1L337.1 435.2zM338.6 443.9L381.8 375.0L384.1 376.4L385.6 367.3L378.0 372.6L380.3 374.0L337.1 442.9zM338.6 490.2L387.0 422.2L389.2 423.7L391.2 414.7L383.4 419.6L385.6 421.1L337.1 489.2zM338.6 497.9L384.5 432.4L386.7 433.9L388.6 424.9L380.8 429.8L383.0 431.4L337.1 496.9zM346.4 351.0L373.5 266.7L376.0 267.5L375.2 258.3L369.2 265.3L371.7 266.2L344.6 350.5zM346.4 358.7L374.2 275.2L376.7 276.1L376.0 266.9L369.9 273.8L372.5 274.6L344.6 358.2zM346.3 366.5L376.5 285.9L379.1 286.8L378.7 277.6L372.3 284.3L374.8 285.2L344.7 365.9zM346.3 374.2L378.1 293.4L380.6 294.4L380.4 285.2L373.9 291.8L376.4 292.8L344.7 373.6zM346.3 382.0L379.6 302.2L382.1 303.2L382.0 294.0L375.4 300.4L377.9 301.5L344.7 381.3zM346.3 389.7L378.4 313.2L380.9 314.3L380.9 305.0L374.3 311.5L376.8 312.5L344.7 389.0zM346.3 397.5L381.7 327.6L384.1 328.8L384.7 319.6L377.7 325.6L380.1 326.8L344.7 396.7zM346.3 412.9L382.8 339.9L385.2 341.1L385.8 331.8L378.7 337.8L381.2 339.0L344.7 412.1zM346.3 420.6L389.1 338.6L391.5 339.8L392.3 330.6L385.1 336.5L387.5 337.8L344.7 419.8zM346.3 428.4L396.1 339.9L398.4 341.2L399.5 332.1L392.2 337.7L394.5 339.0L344.7 427.5zM346.3 436.1L393.0 360.9L395.3 362.3L396.7 353.2L389.2 358.5L391.5 359.9L344.7 435.2zM346.3 443.9L388.5 380.1L390.7 381.6L392.4 372.5L384.7 377.6L387.0 379.1L344.7 442.9zM354.0 335.5L377.5 249.8L380.1 250.6L378.9 241.4L373.2 248.7L375.8 249.4L352.3 335.1zM354.0 343.3L378.1 260.4L380.7 261.2L379.7 252.0L373.8 259.1L376.4 259.9L352.3 342.8zM354.0 351.0L378.6 269.0L381.2 269.8L380.2 260.6L374.3 267.7L376.9 268.5L352.3 350.5zM354.0 358.7L381.9 275.0L384.5 275.8L383.7 266.6L377.6 273.5L380.2 274.4L352.3 358.2zM354.0 366.5L385.4 284.1L388.0 285.1L387.6 275.9L381.2 282.5L383.8 283.5L352.3 365.9zM354.0 374.2L387.1 289.8L389.6 290.8L389.4 281.6L382.9 288.2L385.4 289.1L352.3 373.6zM353.9 382.0L389.7 298.5L392.2 299.5L392.3 290.3L385.6 296.7L388.1 297.7L352.3 381.3zM353.9 389.7L388.8 308.9L391.3 310.0L391.3 300.7L384.7 307.1L387.1 308.2L352.3 389.0zM353.9 397.4L388.0 322.8L390.5 323.9L390.7 314.7L383.9 320.9L386.4 322.1L352.3 396.7zM353.9 412.9L389.9 341.7L392.3 342.9L392.9 333.7L385.9 339.6L388.3 340.9L352.3 412.1zM353.9 420.7L397.0 343.1L399.4 344.4L400.4 335.3L393.1 340.9L395.4 342.2L352.3 419.8zM353.9 428.4L400.3 347.8L402.6 349.1L403.7 339.9L396.4 345.5L398.7 346.9L352.3 427.5zM353.9 436.1L397.8 364.4L400.1 365.8L401.4 356.6L393.9 362.0L396.2 363.4L352.4 435.2zM361.6 312.3L371.7 236.8L374.4 237.2L372.0 228.3L367.3 236.2L369.9 236.6L359.8 312.0zM361.6 320.1L386.4 228.0L389.0 228.7L387.7 219.6L382.0 226.8L384.6 227.5L359.9 319.6zM361.6 327.8L385.8 243.2L388.4 243.9L387.3 234.8L381.5 241.9L384.1 242.7L359.9 327.3zM361.6 335.6L385.2 256.5L387.8 257.3L386.7 248.1L380.9 255.2L383.4 256.0L359.9 335.0zM361.6 343.3L383.6 270.0L386.2 270.8L385.2 261.6L379.3 268.7L381.9 269.5L359.9 342.8zM361.6 351.0L385.3 271.8L387.9 272.6L386.9 263.4L381.0 270.5L383.6 271.3L359.9 350.5zM361.6 358.7L389.5 275.3L392.0 276.2L391.3 267.0L385.2 273.9L387.8 274.8L359.9 358.2zM361.6 366.5L392.4 279.6L394.9 280.5L394.4 271.3L388.1 278.1L390.7 279.0L359.9 365.9zM361.6 374.2L395.6 286.9L398.2 287.9L397.9 278.7L391.5 285.3L394.0 286.3L359.9 373.6zM361.6 382.0L400.6 292.8L403.1 293.8L403.2 284.6L396.5 291.0L399.0 292.0L359.9 381.3zM361.6 389.7L399.0 304.5L401.5 305.6L401.6 296.4L394.9 302.7L397.3 303.8L359.9 389.0zM361.6 397.4L396.6 317.9L399.1 319.0L399.2 309.7L392.5 316.1L395.0 317.1L359.9 396.7zM361.5 405.2L396.6 334.8L399.0 336.0L399.6 326.8L392.6 332.8L395.0 334.0L359.9 404.4zM361.5 412.9L399.1 342.3L401.5 343.5L402.3 334.4L395.2 340.2L397.5 341.4L359.9 412.1zM361.5 420.7L401.9 346.5L404.3 347.8L405.2 338.6L398.0 344.4L400.4 345.7L359.9 419.8zM361.5 428.4L406.4 354.4L408.7 355.8L410.0 346.7L402.5 352.1L404.9 353.5L360.0 427.5zM361.5 436.1L403.3 370.7L405.6 372.2L407.1 363.1L399.5 368.3L401.8 369.7L360.0 435.2zM369.3 312.3L382.0 221.9L384.6 222.3L382.3 213.3L377.5 221.3L380.2 221.6L367.5 312.0zM369.2 320.0L387.3 233.5L389.9 234.1L388.1 225.0L382.9 232.6L385.5 233.1L367.5 319.7zM369.2 327.8L393.4 244.2L396.0 245.0L394.9 235.8L389.1 243.0L391.7 243.7L367.5 327.3zM369.2 335.6L393.1 257.8L395.6 258.6L394.7 249.4L388.8 256.5L391.3 257.3L367.5 335.0zM369.2 343.3L392.0 270.2L394.6 271.0L393.7 261.8L387.7 268.9L390.3 269.7L367.5 342.8zM369.2 351.0L393.9 274.4L396.4 275.3L395.6 266.1L389.6 273.1L392.2 273.9L367.5 350.5zM369.2 358.8L395.9 281.8L398.4 282.6L397.8 273.4L391.6 280.3L394.2 281.2L367.5 358.2zM369.2 366.5L399.8 287.2L402.3 288.2L402.0 279.0L395.6 285.6L398.1 286.6L367.5 365.9zM369.2 374.2L401.6 292.9L404.1 293.9L403.9 284.7L397.4 291.2L400.0 292.2L367.5 373.6zM369.2 382.0L406.5 295.7L408.9 296.8L409.0 287.6L402.3 294.0L404.8 295.0L367.5 381.3zM369.2 389.7L405.3 305.0L407.8 306.0L407.8 296.8L401.1 303.2L403.6 304.3L367.5 389.0zM369.2 397.4L404.0 321.9L406.4 323.0L406.7 313.8L399.9 320.0L402.4 321.1L367.5 396.7zM369.2 405.2L403.3 333.8L405.8 335.0L406.2 325.8L399.3 331.9L401.7 333.0L367.5 404.4zM369.1 412.9L406.8 345.1L409.1 346.4L410.1 337.3L402.8 342.9L405.2 344.3L367.6 412.1zM369.1 420.7L409.9 349.6L412.2 351.0L413.3 341.8L406.0 347.4L408.3 348.7L367.6 419.8zM369.1 428.4L410.6 358.3L413.0 359.7L414.2 350.5L406.8 356.0L409.1 357.4L367.6 427.5zM376.8 343.3L401.5 269.7L404.0 270.6L403.3 261.4L397.2 268.3L399.8 269.2L375.1 342.7zM376.8 366.5L403.4 294.0L406.0 294.9L405.5 285.7L399.2 292.5L401.8 293.4L375.1 365.9zM376.8 374.2L407.5 297.8L410.0 298.8L409.8 289.6L403.3 296.2L405.8 297.2L375.1 373.6zM376.8 382.0L411.7 298.1L414.2 299.2L414.2 289.9L407.6 296.4L410.1 297.4L375.1 381.3zM376.8 389.7L411.8 308.2L414.3 309.2L414.3 300.0L407.7 306.4L410.2 307.5L375.2 389.0zM376.8 397.4L411.2 321.1L413.7 322.2L413.9 313.0L407.1 319.2L409.6 320.3L375.2 396.7zM376.8 405.1L408.3 334.4L410.7 335.5L410.9 326.3L404.2 332.6L406.6 333.7L375.2 404.4zM376.8 412.9L414.6 344.7L417.0 346.0L418.0 336.9L410.7 342.5L413.1 343.9L375.2 412.1zM376.7 420.7L417.3 353.7L419.6 355.1L420.9 346.0L413.4 351.4L415.7 352.8L375.2 419.8zM384.4 374.2L412.9 301.0L415.4 302.0L415.2 292.8L408.7 299.4L411.2 300.4L382.8 373.6zM384.4 382.0L418.3 301.0L420.8 302.1L420.8 292.8L414.2 299.3L416.7 300.3L382.8 381.3zM384.4 389.7L419.2 308.2L421.7 309.2L421.7 300.0L415.1 306.4L417.6 307.4L382.8 389.0zM384.4 397.4L419.1 320.9L421.6 322.0L421.8 312.8L415.0 319.0L417.5 320.2L382.8 396.7zM384.4 405.2L417.0 333.9L419.5 335.0L419.7 325.8L412.9 332.0L415.4 333.2L382.8 404.4zM392.1 351.0L418.2 274.0L420.8 274.9L420.1 265.7L414.0 272.6L416.5 273.4L390.4 350.5zM392.1 358.8L420.3 282.1L422.8 283.0L422.4 273.8L416.1 280.5L418.6 281.5L390.4 358.1zM392.1 366.5L419.6 289.8L422.1 290.7L421.6 281.5L415.4 288.2L417.9 289.2L390.4 365.9zM392.1 374.2L422.2 297.4L424.7 298.4L424.4 289.1L418.0 295.7L420.5 296.7L390.4 373.6zM392.1 382.0L423.8 304.0L426.3 305.1L426.1 295.8L419.6 302.3L422.1 303.4L390.4 381.3zM392.0 389.7L425.3 310.8L427.8 311.8L427.7 302.6L421.1 309.0L423.6 310.1L390.4 389.0zM399.7 351.0L429.0 269.7L431.5 270.6L431.0 261.4L424.7 268.2L427.3 269.1L398.0 350.4zM399.7 358.8L433.0 271.0L435.5 271.9L435.2 262.7L428.8 269.4L431.3 270.4L398.0 358.1zM399.7 366.5L434.7 276.2L437.2 277.1L436.9 267.9L430.5 274.5L433.0 275.5L398.0 365.9zM399.7 374.2L432.1 290.2L434.6 291.1L434.3 281.9L427.9 288.6L430.4 289.5L398.0 373.6zM407.3 351.1L440.1 262.0L442.6 262.9L442.2 253.7L435.8 260.5L438.4 261.4L405.6 350.4zM407.3 358.8L443.2 261.2L445.7 262.1L445.3 252.9L439.0 259.6L441.5 260.6L405.6 358.1zM386.6 272.0L387.9 208.5L390.6 208.6L387.1 200.0L383.4 208.4L386.1 208.5L384.8 272.0zM394.4 268.0L395.4 218.5L398.1 218.6L394.7 210.0L390.9 218.4L393.6 218.5L392.6 268.0zM402.2 266.0L403.4 204.5L406.1 204.6L402.7 196.0L398.9 204.4L401.6 204.5L400.4 266.0zM379.4 278.0L380.2 236.5L382.9 236.6L379.5 228.0L375.7 236.4L378.4 236.5L377.6 278.0zM409.9 270.0L410.8 226.5L413.5 226.6L410.0 218.0L406.3 226.4L409.0 226.5L408.1 270.0z"/><path fill="#0078ff" d="M239.4 436.3L248.1 428.5L249.9 430.5L253.9 422.2L245.1 425.2L246.9 427.2L238.2 435.0zM300.0 367.1L312.0 364.7L312.6 367.4L320.2 362.2L311.2 360.3L311.7 363.0L299.6 365.3zM353.9 297.2L360.6 286.9L362.8 288.4L364.5 279.3L356.8 284.5L359.1 285.9L352.4 296.2zM361.6 520.6L361.3 507.6L364.0 507.6L360.3 499.1L356.9 507.7L359.6 507.7L359.8 520.6z"/><path fill="#0018ff" d="M238.6 465.7L234.0 466.6L233.4 464.0L225.8 469.2L234.9 471.0L234.3 468.4L239.0 467.4zM239.3 473.5L236.2 471.4L237.7 469.2L228.7 467.4L233.7 475.1L235.2 472.9L238.3 475.0zM276.1 296.4L274.5 300.7L272.0 299.8L272.5 309.0L278.7 302.2L276.2 301.3L277.8 297.0zM299.0 405.2L300.8 409.2L298.4 410.3L305.2 416.5L304.9 407.3L302.4 408.4L300.6 404.4zM331.1 304.8L333.2 300.6L335.7 301.8L336.3 292.6L329.2 298.5L331.6 299.7L329.5 304.0z"/><path fill="#0000a7" d="M239.1 482.0L239.2 481.3L240.0 481.4L239.4 479.3L238.0 481.0L238.7 481.2L238.6 481.9zM246.7 397.1L246.8 396.2L247.7 396.4L246.9 394.0L245.5 396.1L246.3 396.2L246.2 397.0zM246.4 420.0L245.4 420.2L245.1 419.3L243.0 421.2L245.8 421.7L245.6 420.7L246.5 420.5zM253.8 335.3L253.7 336.3L252.6 336.3L253.8 339.1L255.3 336.5L254.3 336.4L254.3 335.3zM253.8 342.9L253.5 343.8L252.6 343.5L252.9 346.2L254.9 344.3L254.0 344.0L254.3 343.1zM253.9 366.0L253.2 366.4L252.7 365.7L251.4 367.8L253.9 367.6L253.5 366.9L254.2 366.4zM254.3 389.2L253.9 388.5L254.7 388.1L252.8 386.6L252.7 389.1L253.5 388.7L253.8 389.4zM254.3 404.8L254.5 403.9L255.5 404.1L254.8 401.5L253.1 403.6L254.0 403.8L253.8 404.7zM254.0 420.0L253.3 420.3L253.0 419.6L251.5 421.2L253.7 421.4L253.4 420.7L254.2 420.5zM261.5 319.7L260.9 320.3L260.3 319.7L259.6 322.0L261.9 321.2L261.3 320.6L261.9 320.0zM261.4 327.6L261.3 328.6L260.3 328.5L261.3 331.2L262.9 328.7L261.9 328.6L261.9 327.6zM261.5 335.2L260.9 336.0L260.1 335.4L259.7 338.2L262.2 336.8L261.4 336.3L261.9 335.4zM261.6 342.7L260.5 343.1L260.2 342.1L258.0 344.4L261.1 344.7L260.7 343.7L261.8 343.3zM261.8 358.2L260.8 357.7L261.3 356.7L258.0 356.8L260.1 359.3L260.5 358.3L261.6 358.7zM261.9 366.0L261.3 365.3L262.0 364.8L259.7 363.8L260.3 366.2L260.9 365.7L261.5 366.3zM261.9 389.2L261.4 388.6L262.0 388.2L260.1 387.1L260.4 389.3L261.0 388.9L261.5 389.5zM261.6 404.5L260.7 404.9L260.4 403.9L258.5 405.9L261.2 406.3L260.9 405.3L261.8 405.0zM261.7 427.7L260.7 427.7L260.7 426.8L258.3 428.0L260.8 429.2L260.7 428.2L261.7 428.2zM269.5 250.2L268.9 249.3L269.8 248.7L267.2 247.3L267.6 250.3L268.5 249.7L269.1 250.5zM269.1 311.9L268.5 312.4L268.0 311.8L267.1 313.9L269.3 313.4L268.8 312.8L269.5 312.3zM269.1 319.8L268.8 320.6L268.0 320.3L268.4 322.7L270.1 321.0L269.3 320.7L269.5 319.9zM269.5 350.6L269.0 350.0L269.6 349.5L267.6 348.6L268.1 350.8L268.6 350.3L269.1 350.9zM269.5 397.1L269.7 396.3L270.5 396.5L269.9 394.1L268.4 396.0L269.2 396.2L269.1 397.0zM269.5 412.5L269.5 411.6L270.4 411.6L269.2 409.5L268.2 411.7L269.0 411.7L269.1 412.5zM269.5 420.1L268.9 419.4L269.6 418.8L267.2 417.8L267.8 420.3L268.5 419.7L269.1 420.4zM269.5 435.5L268.7 434.8L269.4 434.1L266.7 433.3L267.7 436.0L268.4 435.2L269.1 435.9zM277.0 327.8L277.8 327.6L278.0 328.4L279.9 326.8L277.5 326.3L277.7 327.1L276.9 327.3zM276.8 335.6L277.8 336.0L277.4 337.0L280.5 336.7L278.4 334.4L278.0 335.4L277.0 335.0zM276.8 365.9L276.0 366.3L275.7 365.4L273.9 367.3L276.5 367.6L276.2 366.7L277.0 366.4zM277.1 404.6L276.7 403.9L277.4 403.4L275.3 402.1L275.5 404.6L276.2 404.2L276.7 404.9zM277.2 427.9L277.2 426.9L278.2 426.9L276.9 424.4L275.6 426.9L276.7 426.9L276.7 427.9zM284.5 327.8L285.5 327.8L285.5 328.8L287.9 327.6L285.5 326.4L285.5 327.3L284.5 327.3zM284.8 366.3L285.2 365.4L286.2 365.8L286.1 362.9L283.8 364.7L284.7 365.1L284.3 366.1zM284.7 373.7L283.9 373.3L284.3 372.5L281.8 372.4L283.2 374.4L283.7 373.7L284.4 374.1zM284.5 381.9L285.6 381.9L285.6 383.0L288.3 381.7L285.6 380.3L285.6 381.4L284.5 381.3zM284.5 389.6L285.4 389.7L285.2 390.6L287.6 389.7L285.5 388.4L285.4 389.2L284.6 389.1zM292.1 242.9L292.8 243.1L292.6 243.8L294.8 243.4L293.2 241.9L293.0 242.6L292.2 242.4zM291.9 257.9L291.3 258.8L290.4 258.2L289.9 261.1L292.6 259.7L291.8 259.1L292.4 258.3zM292.1 265.6L291.3 265.7L291.1 264.9L289.2 266.4L291.5 267.1L291.4 266.2L292.2 266.1zM292.0 273.4L291.4 274.2L290.6 273.6L290.3 276.3L292.6 275.0L291.8 274.5L292.4 273.7zM292.0 335.1L291.4 335.5L291.0 334.8L289.8 336.6L292.0 336.5L291.6 335.9L292.3 335.5zM292.3 342.8L291.7 342.2L292.4 341.6L290.0 340.8L290.8 343.2L291.4 342.6L292.0 343.2zM292.0 389.6L293.0 390.0L292.5 391.0L295.6 390.9L293.7 388.6L293.2 389.5L292.3 389.1zM299.7 235.2L300.4 235.5L300.1 236.2L302.4 236.1L300.9 234.3L300.6 235.0L299.9 234.7zM299.5 273.5L299.5 274.6L298.4 274.6L299.7 277.4L301.1 274.7L300.0 274.6L300.1 273.5zM299.5 304.6L300.2 305.5L299.3 306.2L302.2 307.6L301.6 304.4L300.7 305.1L300.0 304.2zM299.6 312.3L300.2 313.0L299.5 313.6L302.0 314.7L301.3 312.1L300.6 312.7L300.0 312.0zM299.8 320.1L300.8 320.2L300.7 321.3L303.5 320.1L300.9 318.6L300.8 319.6L299.8 319.6zM299.5 327.5L299.1 328.3L298.3 327.9L298.3 330.7L300.5 329.0L299.6 328.6L300.0 327.7zM299.7 335.1L298.8 335.5L298.4 334.6L296.7 336.7L299.4 336.8L299.0 335.9L299.9 335.5zM300.1 343.1L300.2 342.0L301.4 342.1L300.4 339.1L298.5 341.7L299.7 341.9L299.5 343.0zM307.7 265.8L307.6 264.7L308.8 264.6L307.2 261.8L305.9 264.8L307.0 264.7L307.1 265.8zM307.1 296.7L307.0 297.7L306.0 297.6L307.0 300.4L308.6 297.9L307.6 297.8L307.7 296.7zM307.2 304.6L307.7 305.4L306.9 306.0L309.4 307.4L309.0 304.5L308.2 305.1L307.6 304.3zM307.3 319.6L306.4 320.0L306.0 319.0L304.0 321.2L306.9 321.5L306.6 320.5L307.5 320.1zM315.3 235.0L315.4 234.1L316.4 234.2L315.6 231.6L314.0 233.8L314.9 234.0L314.8 234.9zM315.2 281.5L315.8 281.1L316.2 281.7L317.3 279.8L315.1 280.0L315.5 280.6L314.9 281.0zM315.0 289.3L316.1 289.3L316.1 290.4L319.0 289.0L316.2 287.5L316.1 288.7L315.0 288.7zM315.2 296.9L315.9 296.3L316.5 296.9L317.4 294.5L314.9 295.2L315.5 295.9L314.9 296.5zM314.8 312.3L315.2 313.0L314.5 313.4L316.5 314.7L316.3 312.3L315.7 312.7L315.2 312.0zM314.9 319.6L314.1 319.9L313.9 319.1L312.2 320.8L314.6 321.1L314.3 320.4L315.1 320.1zM315.1 327.3L314.1 327.1L314.4 326.1L311.6 326.7L313.8 328.6L314.0 327.6L315.0 327.8zM322.4 312.2L322.7 313.1L321.9 313.4L323.9 315.2L324.1 312.6L323.2 312.9L322.9 312.0zM322.5 319.7L321.7 320.3L321.1 319.5L320.0 322.0L322.7 321.4L322.1 320.7L322.8 320.1zM330.2 250.1L329.4 250.3L329.3 249.5L327.5 250.9L329.7 251.5L329.5 250.8L330.3 250.6zM330.0 258.1L329.9 258.8L329.1 258.7L329.7 260.9L331.1 259.1L330.4 258.9L330.5 258.1z"/><path fill="#0000d7" d="M239.0 497.9L240.9 497.4L241.4 499.3L245.6 495.4L240.0 494.4L240.6 496.3L238.7 496.9zM238.3 505.3L238.8 507.3L236.8 507.8L240.7 512.2L241.9 506.4L239.9 507.0L239.4 505.0zM261.2 288.6L259.9 290.2L258.2 288.8L256.8 294.8L262.4 292.4L260.7 291.0L262.1 289.3zM261.5 303.9L259.6 304.7L258.8 302.9L255.2 307.2L260.9 307.5L260.1 305.7L261.9 304.9zM268.9 304.1L267.7 305.7L266.0 304.5L265.0 310.3L270.2 307.6L268.5 306.4L269.7 304.7zM269.8 443.4L269.9 441.5L271.9 441.5L269.5 436.5L266.9 441.4L268.9 441.4L268.8 443.4zM284.8 428.5L286.8 427.6L287.7 429.7L291.8 424.8L285.5 424.4L286.3 426.5L284.3 427.4zM292.1 397.6L294.2 397.7L294.1 399.9L299.6 397.5L294.4 394.5L294.3 396.6L292.2 396.5zM291.8 405.1L293.1 406.5L291.6 407.9L296.8 409.9L295.3 404.5L293.8 405.9L292.5 404.4zM299.3 389.7L300.5 391.5L298.6 392.8L304.2 396.0L303.4 389.6L301.5 390.9L300.3 389.0zM346.0 273.3L345.1 271.3L347.1 270.4L342.3 266.5L342.1 272.7L344.1 271.8L345.0 273.8z"/><path fill="#18ffe7" d="M239.6 528.8L253.4 507.8L255.7 509.3L257.4 500.2L249.7 505.3L251.9 506.8L238.1 527.8zM315.8 497.9L329.7 476.5L331.9 478.0L333.5 468.9L325.9 474.1L328.1 475.5L314.3 496.9zM331.1 351.0L339.9 326.7L342.4 327.6L341.9 318.4L335.6 325.1L338.2 326.0L329.4 350.4zM361.6 281.4L365.4 256.6L368.0 257.0L365.7 248.0L360.9 255.9L363.6 256.3L359.9 281.1zM384.3 443.9L398.7 422.6L400.9 424.1L402.7 415.1L394.9 420.1L397.2 421.6L382.9 442.9z"/><path fill="#ffc700" d="M239.6 544.2L267.1 502.1L269.3 503.5L270.9 494.5L263.3 499.6L265.6 501.1L238.1 543.2zM270.0 552.0L298.0 511.5L300.2 513.1L302.1 504.0L294.3 509.0L296.5 510.5L268.6 550.9zM277.7 552.0L306.2 510.8L308.4 512.4L310.3 503.3L302.5 508.2L304.7 509.8L276.2 550.9zM285.3 559.7L313.3 519.1L315.5 520.7L317.4 511.6L309.6 516.6L311.8 518.1L283.8 558.7zM292.9 443.9L320.3 401.6L322.6 403.1L324.2 394.0L316.5 399.1L318.8 400.6L291.4 442.9zM292.9 544.3L322.7 505.2L324.9 506.8L327.2 497.9L319.2 502.4L321.3 504.1L291.4 543.2zM292.9 559.7L320.8 519.0L323.0 520.5L324.9 511.4L317.1 516.4L319.3 518.0L291.4 558.7zM308.1 528.8L337.2 489.1L339.4 490.7L341.5 481.8L333.6 486.5L335.8 488.1L306.7 527.8z"/><path fill="#c70000" d="M239.6 551.9L278.6 491.6L280.9 493.1L282.5 484.0L274.9 489.2L277.1 490.6L238.1 551.0zM300.5 482.5L341.4 423.7L343.6 425.2L345.5 416.2L337.7 421.1L339.9 422.6L299.0 481.5zM308.2 505.6L346.0 446.0L348.3 447.5L349.8 438.3L342.2 443.6L344.5 445.0L306.6 504.7zM338.7 405.2L371.0 340.9L373.4 342.1L374.0 332.9L366.9 338.9L369.3 340.1L337.1 404.4zM346.3 405.2L378.5 342.0L380.9 343.3L381.6 334.0L374.5 340.0L376.9 341.2L344.7 404.4zM384.4 366.5L408.8 299.1L411.3 300.0L410.8 290.8L404.5 297.5L407.1 298.4L382.8 365.9z"/><path fill="#0048ff" d="M247.3 458.7L246.6 450.9L249.3 450.6L244.8 442.5L242.1 451.3L244.8 451.1L245.5 458.9zM247.3 505.1L247.2 496.2L249.9 496.2L246.1 487.7L242.7 496.3L245.4 496.3L245.5 505.2zM254.7 465.9L248.8 459.8L250.7 457.9L242.3 454.2L245.5 462.9L247.5 461.0L253.4 467.2zM262.6 458.6L260.5 450.0L263.1 449.4L257.6 442.0L256.1 451.1L258.7 450.5L260.8 459.0zM262.5 473.9L259.7 466.4L262.3 465.5L256.0 458.8L255.5 468.0L258.1 467.0L260.8 474.6zM292.1 367.1L300.4 367.7L300.2 370.4L308.9 367.4L300.7 363.2L300.5 365.9L292.2 365.3zM300.0 374.8L307.9 372.3L308.7 374.9L315.7 369.0L306.6 368.0L307.4 370.6L299.5 373.0zM315.2 336.2L323.8 334.6L324.3 337.3L332.0 332.2L323.0 330.2L323.5 332.9L314.9 334.4zM323.2 297.4L329.5 292.4L331.2 294.6L335.6 286.5L326.7 288.9L328.4 291.0L322.1 296.0zM330.4 289.9L338.0 288.9L338.3 291.6L346.3 287.0L337.4 284.5L337.8 287.1L330.1 288.1zM330.4 297.6L338.8 296.5L339.1 299.2L347.1 294.6L338.2 292.1L338.5 294.8L330.1 295.8zM338.1 289.9L346.6 288.1L347.2 290.7L354.8 285.4L345.7 283.7L346.2 286.3L337.7 288.1zM346.2 281.9L352.0 275.1L354.1 276.9L356.9 268.1L348.6 272.2L350.7 273.9L344.8 280.7zM361.0 506.0L368.7 503.2L369.7 505.7L376.4 499.5L367.2 499.0L368.1 501.5L360.4 504.3z"/><path fill="#0000e7" d="M247.1 497.4L247.1 495.0L249.5 495.0L246.4 488.9L243.4 495.0L245.8 495.0L245.8 497.4zM262.3 258.0L262.0 255.7L264.3 255.4L260.6 250.0L258.4 256.2L260.8 255.9L261.1 258.2zM261.9 280.6L259.4 279.9L260.1 277.4L253.0 278.8L258.4 283.7L259.1 281.2L261.5 281.9zM261.6 296.1L259.2 296.4L258.8 294.0L253.1 298.0L259.7 300.2L259.4 297.7L261.8 297.3zM269.4 280.6L267.0 280.1L267.5 277.6L260.7 279.4L266.2 283.8L266.8 281.4L269.2 281.9zM268.7 296.6L268.3 298.9L266.0 298.6L268.1 305.0L272.0 299.5L269.6 299.1L269.9 296.8zM269.5 450.5L267.3 449.7L268.1 447.4L261.3 448.3L266.0 453.2L266.9 450.9L269.1 451.7zM277.2 280.7L275.1 279.6L276.2 277.4L269.3 277.4L273.4 282.9L274.5 280.8L276.6 281.8zM277.4 436.2L279.2 434.5L280.9 436.4L283.5 429.7L276.6 431.6L278.3 433.5L276.5 435.2zM284.8 296.1L282.7 295.3L283.5 293.2L277.0 293.7L281.3 298.6L282.2 296.4L284.3 297.3zM299.9 397.7L302.4 397.2L303.0 399.6L308.5 395.0L301.5 393.3L302.1 395.8L299.6 396.4zM330.2 327.0L327.9 327.0L327.8 324.7L321.9 327.9L328.0 330.7L327.9 328.3L330.3 328.2zM337.9 305.0L340.1 305.1L340.1 307.4L346.0 304.6L340.2 301.5L340.2 303.9L337.9 303.8zM337.3 312.4L338.1 314.5L335.9 315.4L340.9 319.9L341.5 313.2L339.3 314.1L338.5 311.9z"/><path fill="#58ffa7" d="M247.2 521.1L265.4 495.7L267.6 497.2L269.6 488.2L261.7 493.0L263.9 494.6L245.7 520.1zM323.5 374.2L335.0 345.9L337.5 347.0L337.4 337.7L330.8 344.2L333.3 345.3L321.8 373.6zM338.6 552.0L357.0 527.1L359.1 528.7L361.3 519.7L353.4 524.4L355.5 526.0L337.2 550.9zM353.9 559.7L371.5 534.0L373.7 535.5L375.6 526.5L367.8 531.4L370.0 533.0L352.4 558.7zM369.1 482.5L386.5 456.8L388.8 458.4L390.6 449.3L382.8 454.3L385.1 455.8L367.6 481.5zM376.7 451.6L394.2 426.2L396.5 427.8L398.3 418.7L390.5 423.7L392.7 425.2L375.2 450.6zM384.4 436.2L401.3 410.2L403.5 411.7L405.2 402.6L397.5 407.8L399.8 409.2L382.8 435.2zM392.0 443.9L409.3 418.1L411.6 419.6L413.3 410.6L405.6 415.6L407.8 417.1L390.5 442.9zM414.9 389.7L426.5 360.6L429.0 361.6L428.9 352.3L422.4 358.9L424.9 359.9L413.2 389.0zM414.9 397.4L427.0 368.3L429.5 369.3L429.4 360.1L422.9 366.5L425.4 367.6L413.2 396.7z"/><path fill="#ffa700" d="M247.2 528.8L275.7 485.3L277.9 486.8L279.6 477.7L271.9 482.9L274.2 484.3L245.7 527.8zM285.3 536.6L317.3 495.3L319.4 496.9L321.7 488.0L313.7 492.5L315.8 494.2L283.8 535.5zM300.5 521.1L331.1 478.0L333.3 479.5L335.3 470.5L327.4 475.4L329.6 476.9L299.0 520.1zM361.6 304.6L369.4 252.9L372.1 253.3L369.8 244.3L365.0 252.2L367.7 252.6L359.9 304.3zM376.7 428.4L404.1 383.5L406.4 384.9L407.8 375.8L400.3 381.2L402.6 382.6L375.2 427.5z"/><path fill="#f70000" d="M247.2 536.5L285.2 481.3L287.4 482.8L289.2 473.8L281.5 478.8L283.7 480.3L245.7 535.5zM247.2 552.0L284.5 495.2L286.7 496.7L288.4 487.6L280.7 492.8L283.0 494.3L245.7 551.0zM292.9 474.8L331.1 419.4L333.3 420.9L335.1 411.9L327.4 416.8L329.6 418.4L291.4 473.7zM308.2 513.4L345.0 457.8L347.2 459.3L348.9 450.2L341.2 455.3L343.5 456.8L306.6 512.4zM323.4 459.3L360.7 403.7L363.0 405.2L364.7 396.1L357.0 401.2L359.2 402.7L321.9 458.3z"/><path fill="#ff1800" d="M247.2 544.2L283.2 490.5L285.5 492.0L287.2 482.9L279.5 488.0L281.7 489.5L245.7 543.2zM285.3 474.8L323.6 422.4L325.8 424.0L327.9 415.0L319.9 419.7L322.1 421.3L283.8 473.7zM292.9 505.6L329.0 451.6L331.2 453.1L333.0 444.1L325.3 449.1L327.5 450.6L291.4 504.6zM315.8 405.2L344.4 347.3L346.9 348.5L347.4 339.3L340.4 345.3L342.8 346.5L314.2 404.4zM315.8 521.1L352.0 468.5L354.3 470.0L356.1 461.0L348.3 465.9L350.5 467.5L314.3 520.1zM338.6 505.6L374.2 452.4L376.4 453.9L378.2 444.8L370.4 449.9L372.7 451.4L337.1 504.6zM346.4 343.3L365.4 281.5L367.9 282.3L367.0 273.1L361.1 280.2L363.6 281.0L344.6 342.8z"/><path fill="#d70000" d="M247.2 559.7L286.2 502.1L288.4 503.6L290.2 494.5L282.5 499.5L284.7 501.1L245.7 558.7zM254.8 567.4L293.6 510.0L295.8 511.5L297.6 502.5L289.9 507.5L292.1 509.0L253.3 566.4zM292.9 482.5L332.0 425.3L334.2 426.8L336.0 417.8L328.3 422.8L330.5 424.3L291.4 481.5zM323.4 521.1L362.4 463.7L364.6 465.2L366.4 456.2L358.7 461.2L360.9 462.7L321.9 520.1zM338.6 451.6L377.8 393.5L380.1 395.1L381.8 386.0L374.1 391.0L376.3 392.5L337.1 450.6zM338.6 482.5L377.8 425.3L380.1 426.8L381.9 417.8L374.1 422.8L376.3 424.3L337.1 481.5zM361.5 443.9L399.5 384.8L401.8 386.3L403.3 377.2L395.7 382.4L398.0 383.9L360.0 442.9z"/><path fill="#a70000" d="M247.2 567.4L287.8 504.9L290.0 506.4L291.7 497.3L284.0 502.4L286.3 503.9L245.7 566.4zM277.6 521.1L320.5 461.6L322.7 463.2L324.8 454.2L316.9 459.0L319.1 460.6L276.2 520.1zM292.9 467.1L336.6 406.7L338.8 408.2L340.8 399.2L332.9 404.0L335.1 405.6L291.4 466.0zM353.9 443.9L394.9 382.6L397.1 384.1L398.9 375.1L391.1 380.1L393.4 381.6L352.4 442.9z"/><path fill="#b70000" d="M254.8 536.5L295.7 476.5L298.0 478.0L299.8 469.0L292.0 474.0L294.2 475.5L253.3 535.5zM262.4 544.2L302.9 484.3L305.2 485.8L306.9 476.7L299.2 481.8L301.4 483.3L260.9 543.2zM270.0 490.2L311.0 430.2L313.2 431.7L315.0 422.6L307.2 427.6L309.5 429.1L268.6 489.2zM277.7 482.5L318.9 422.5L321.1 424.1L323.0 415.0L315.2 420.0L317.4 421.5L276.2 481.5zM285.3 467.1L327.5 407.3L329.7 408.9L331.7 399.9L323.9 404.7L326.1 406.3L283.8 466.0zM285.3 482.5L327.1 423.9L329.3 425.4L331.3 416.4L323.4 421.3L325.6 422.8L283.8 481.5zM308.2 420.6L342.1 356.6L344.5 357.8L345.3 348.6L338.1 354.5L340.5 355.7L306.6 419.8zM308.1 467.1L350.1 407.6L352.3 409.1L354.2 400.1L346.4 405.0L348.6 406.5L306.7 466.0zM315.8 513.4L355.7 452.6L358.0 454.1L359.7 445.0L352.0 450.1L354.2 451.6L314.3 512.4zM384.4 351.0L408.8 282.5L411.3 283.4L410.8 274.1L404.6 280.9L407.1 281.9L382.8 350.4zM407.3 366.5L432.0 298.9L434.5 299.8L434.1 290.6L427.8 297.4L430.3 298.3L405.6 365.9z"/><path fill="#e70000" d="M254.8 544.2L293.3 488.0L295.5 489.5L297.3 480.4L289.6 485.4L291.8 486.9L253.3 543.2zM300.5 474.8L339.6 418.9L341.8 420.5L343.7 411.5L335.9 416.4L338.1 417.9L299.0 473.7zM300.5 505.6L338.3 449.0L340.6 450.5L342.3 441.4L334.6 446.5L336.8 448.0L299.0 504.6zM331.0 482.5L370.1 425.5L372.3 427.0L374.2 418.0L366.4 423.0L368.6 424.5L329.5 481.5zM346.2 451.6L384.7 395.1L386.9 396.6L388.7 387.6L381.0 392.6L383.2 394.1L344.8 450.6zM384.4 358.8L407.4 294.8L410.0 295.7L409.4 286.5L403.2 293.3L405.7 294.2L382.8 358.2z"/><path fill="#ff0800" d="M254.8 552.0L291.0 497.6L293.2 499.1L295.0 490.1L287.3 495.1L289.5 496.6L253.3 551.0zM262.4 552.0L301.3 499.4L303.4 501.0L305.6 492.0L297.6 496.7L299.8 498.3L261.0 550.9zM277.7 474.8L314.7 421.0L317.0 422.6L318.8 413.5L311.0 418.5L313.3 420.0L276.2 473.7zM300.5 497.9L336.4 442.8L338.6 444.3L340.2 435.2L332.6 440.4L334.9 441.8L299.0 496.9zM331.0 459.3L368.5 404.8L370.7 406.4L372.6 397.3L364.8 402.3L367.0 403.8L329.5 458.3zM354.0 327.8L371.7 264.8L374.3 265.6L373.2 256.4L367.4 263.6L370.0 264.4L352.3 327.3z"/><path fill="#ff2800" d="M254.8 559.7L290.5 507.3L292.8 508.9L294.6 499.8L286.8 504.8L289.1 506.3L253.3 558.7zM338.6 459.3L375.1 408.0L377.3 409.6L379.3 400.6L371.5 405.4L373.7 407.0L337.1 458.3zM346.2 482.5L382.1 430.0L384.3 431.6L386.1 422.5L378.4 427.5L380.6 429.0L344.8 481.5zM353.9 451.6L389.3 399.2L391.5 400.7L393.3 391.6L385.5 396.6L387.8 398.1L352.4 450.6zM361.5 451.6L397.4 399.9L399.6 401.5L401.5 392.4L393.7 397.4L395.9 398.9L360.0 450.6zM414.9 351.1L437.1 292.3L439.6 293.3L439.2 284.0L432.9 290.7L435.4 291.7L413.2 350.4z"/><path fill="#00f7ff" d="M262.6 489.6L259.1 467.3L261.8 466.9L256.9 459.1L254.7 468.0L257.3 467.6L260.8 489.8zM308.0 257.4L290.7 242.6L292.5 240.6L283.7 237.8L287.8 246.1L289.6 244.0L306.8 258.8zM308.2 405.2L318.8 384.6L321.2 385.8L321.8 376.6L314.7 382.6L317.2 383.8L306.6 404.4zM322.1 351.4L339.5 365.5L337.8 367.6L346.7 370.2L342.3 362.0L340.7 364.1L323.2 350.0zM369.3 489.8L370.5 467.4L373.2 467.6L370.1 458.9L366.0 467.2L368.7 467.3L367.5 489.6z"/><path fill="#fff700" d="M262.4 497.9L287.5 460.3L289.8 461.8L291.5 452.8L283.8 457.8L286.0 459.3L260.9 496.9zM292.9 536.6L320.8 500.3L323.0 502.0L325.3 493.0L317.3 497.6L319.4 499.2L291.4 535.5zM300.5 544.3L327.8 508.1L329.9 509.7L332.2 500.8L324.2 505.4L326.4 507.0L299.1 543.2zM346.2 505.7L372.8 468.4L375.0 469.9L377.0 460.9L369.1 465.7L371.3 467.3L344.8 504.6zM353.9 482.5L379.8 445.1L382.0 446.6L383.9 437.6L376.1 442.5L378.3 444.1L352.4 481.5zM361.5 474.8L387.1 437.2L389.3 438.7L391.2 429.6L383.4 434.6L385.6 436.1L360.0 473.8zM399.6 420.6L420.7 379.4L423.1 380.7L423.8 371.5L416.7 377.4L419.1 378.6L398.0 419.8zM407.3 405.1L425.8 363.5L428.2 364.6L428.4 355.4L421.6 361.7L424.1 362.8L405.6 404.4zM407.3 412.9L427.2 372.1L429.6 373.3L430.1 364.1L423.1 370.1L425.6 371.3L405.7 412.1z"/><path fill="#a7ff58" d="M262.4 559.7L285.0 529.3L287.2 530.9L289.4 521.9L281.4 526.6L283.6 528.2L261.0 558.6zM315.8 567.4L336.8 536.6L339.0 538.1L340.8 529.1L333.1 534.1L335.3 535.6L314.3 566.4zM338.7 351.0L351.8 315.5L354.3 316.4L353.8 307.2L347.5 313.9L350.1 314.9L337.0 350.4zM353.9 490.2L375.8 459.4L378.0 461.0L380.1 452.0L372.2 456.8L374.4 458.3L352.4 489.2zM353.9 536.5L375.3 505.5L377.5 507.0L379.4 498.0L371.6 502.9L373.8 504.5L352.4 535.5zM353.9 544.3L375.6 514.0L377.8 515.6L379.8 506.6L371.9 511.4L374.1 512.9L352.4 543.2zM361.6 296.8L367.7 260.1L370.4 260.6L368.2 251.6L363.3 259.4L366.0 259.8L359.9 296.6zM369.1 474.8L389.7 443.5L392.0 445.0L393.7 435.9L386.0 441.0L388.2 442.5L367.6 473.8zM376.7 443.9L398.0 412.4L400.2 413.9L402.0 404.8L394.2 409.8L396.5 411.4L375.2 442.9z"/><path fill="#d7ff28" d="M262.4 567.4L286.8 532.9L289.0 534.5L291.0 525.5L283.1 530.3L285.3 531.9L260.9 566.4zM270.0 559.7L294.3 525.1L296.5 526.7L298.4 517.6L290.6 522.5L292.8 524.1L268.6 558.7zM270.0 567.4L294.7 533.3L296.8 534.9L298.9 525.9L291.0 530.7L293.2 532.3L268.6 566.4zM300.5 536.6L325.9 503.2L328.0 504.9L330.3 495.9L322.3 500.5L324.5 502.1L299.1 535.5zM315.8 544.3L340.3 510.1L342.5 511.7L344.5 502.7L336.7 507.5L338.9 509.0L314.3 543.2zM323.4 559.7L348.0 526.8L350.2 528.4L352.4 519.5L344.4 524.1L346.6 525.7L321.9 558.6zM338.6 521.1L362.9 487.1L365.1 488.7L367.2 479.7L359.3 484.5L361.5 486.1L337.1 520.1zM354.0 320.1L365.4 279.9L368.0 280.6L366.8 271.4L361.1 278.6L363.7 279.4L352.3 319.6zM369.1 451.6L392.2 417.1L394.5 418.6L396.2 409.6L388.5 414.6L390.7 416.1L367.6 450.6zM407.3 382.0L422.6 343.4L425.1 344.4L424.9 335.2L418.4 341.8L420.9 342.8L405.6 381.3zM414.9 374.2L429.9 335.2L432.5 336.1L432.1 326.9L425.7 333.5L428.3 334.5L413.2 373.6z"/><path fill="#0000f7" d="M269.8 273.1L268.2 271.0L270.2 269.3L263.3 266.2L265.0 273.7L267.1 271.9L268.8 274.0zM277.6 273.2L276.4 270.7L278.9 269.5L272.7 264.7L272.6 272.6L275.1 271.4L276.3 273.9zM276.6 303.8L274.1 305.0L272.9 302.4L268.0 308.8L276.0 308.8L274.8 306.3L277.2 305.1zM277.6 443.5L278.1 440.9L280.8 441.4L278.8 433.9L274.0 440.1L276.7 440.6L276.2 443.2zM285.2 273.3L284.4 270.7L287.1 269.8L281.6 264.2L280.3 272.0L283.0 271.1L283.8 273.8zM285.2 280.9L283.7 278.4L286.3 276.8L279.2 272.3L279.8 280.7L282.4 279.2L283.9 281.7zM285.0 288.4L282.8 286.5L284.8 284.3L276.7 282.3L279.9 289.9L281.8 287.7L284.0 289.6zM292.0 413.3L294.9 413.9L294.3 416.9L302.6 414.7L295.9 409.4L295.3 412.3L292.3 411.7zM338.3 320.4L340.5 319.0L342.0 321.2L345.7 314.6L338.2 315.6L339.7 317.8L337.5 319.3z"/><path fill="#00c7ff" d="M270.2 474.0L265.5 455.5L268.1 454.8L262.5 447.5L261.1 456.6L263.7 455.9L268.4 474.5zM299.3 351.5L316.4 361.0L315.1 363.4L324.2 364.4L318.6 357.1L317.2 359.5L300.2 350.0zM308.0 489.0L293.8 475.7L295.6 473.7L286.9 470.5L290.7 479.0L292.5 477.0L306.8 490.4zM314.7 351.6L332.0 358.6L331.0 361.1L340.2 360.9L333.7 354.4L332.7 356.9L315.4 349.9zM314.8 359.3L333.3 363.9L332.6 366.5L341.7 365.0L334.3 359.5L333.7 362.1L315.2 357.6zM354.0 304.5L356.0 286.1L358.7 286.4L356.1 277.6L351.6 285.6L354.3 285.9L352.2 304.3z"/><path fill="#c7ff38" d="M270.0 482.5L292.4 449.4L294.6 450.9L296.4 441.9L288.6 446.9L290.9 448.4L268.6 481.5zM331.0 528.8L354.5 495.6L356.7 497.2L358.7 488.2L350.8 493.0L353.0 494.6L329.5 527.8z"/><path fill="#ff9700" d="M270.0 544.3L300.8 500.6L303.0 502.1L305.0 493.1L297.1 498.0L299.3 499.5L268.6 543.2zM285.3 521.1L317.1 476.9L319.3 478.5L321.3 469.5L313.4 474.3L315.6 475.9L283.8 520.1zM285.3 544.3L315.8 500.6L318.0 502.2L319.9 493.1L312.1 498.1L314.3 499.6L283.8 543.2zM285.3 567.4L316.1 522.5L318.3 524.1L320.2 515.0L312.4 520.0L314.6 521.5L283.8 566.4zM300.5 559.7L329.9 515.3L332.2 516.7L333.9 507.7L326.2 512.8L328.4 514.3L299.0 558.7zM308.1 552.0L340.0 509.2L342.2 510.8L344.4 501.9L336.4 506.5L338.6 508.2L306.7 550.9zM315.7 528.8L347.8 484.8L350.0 486.4L352.1 477.4L344.2 482.2L346.4 483.8L314.3 527.8zM346.2 497.9L377.1 453.9L379.3 455.5L381.2 446.5L373.4 451.4L375.6 452.9L344.8 496.9zM414.9 366.5L434.2 316.4L436.7 317.4L436.4 308.2L430.0 314.8L432.5 315.8L413.2 365.9z"/><path fill="#00a7ff" d="M277.8 458.7L275.1 442.1L277.7 441.6L272.8 433.8L270.6 442.8L273.3 442.4L276.0 459.0zM300.5 257.6L291.8 244.0L294.1 242.5L286.4 237.3L288.0 246.4L290.3 245.0L299.0 258.6zM299.2 359.2L311.8 369.2L310.1 371.3L319.0 373.8L314.6 365.7L312.9 367.8L300.3 357.8zM307.5 343.9L323.8 342.1L324.1 344.7L332.1 340.2L323.3 337.6L323.6 340.3L307.3 342.1zM315.1 367.1L331.7 366.1L331.9 368.8L340.2 364.7L331.5 361.6L331.6 364.3L315.0 365.3zM315.3 374.8L330.4 369.6L331.3 372.1L338.2 366.0L329.0 365.3L329.9 367.9L314.7 373.0zM322.9 343.9L338.0 340.2L338.7 342.8L346.1 337.3L337.0 335.8L337.6 338.4L322.4 342.1zM323.5 474.4L326.2 457.9L328.9 458.3L326.7 449.3L321.7 457.1L324.4 457.6L321.8 474.1zM353.7 282.0L366.3 272.4L367.9 274.6L372.5 266.6L363.6 268.8L365.2 271.0L352.6 280.5zM353.7 289.7L366.5 279.8L368.2 281.9L372.7 273.9L363.8 276.2L365.4 278.3L352.6 288.3z"/><path fill="#87ff78" d="M277.7 467.1L298.3 438.2L300.5 439.8L302.5 430.8L294.6 435.6L296.8 437.2L276.2 466.0zM323.4 544.3L343.8 515.2L346.0 516.8L348.0 507.8L340.2 512.6L342.4 514.2L321.9 543.2zM338.6 528.8L358.9 499.9L361.1 501.5L363.1 492.5L355.3 497.4L357.5 498.9L337.1 527.8zM346.2 513.4L366.9 485.0L369.1 486.6L371.2 477.6L363.3 482.4L365.5 484.0L344.8 512.3zM376.7 474.8L396.3 446.3L398.5 447.9L400.4 438.8L392.6 443.8L394.8 445.3L375.2 473.7zM392.0 436.1L410.8 406.3L413.1 407.7L414.6 398.6L407.0 403.9L409.3 405.3L390.5 435.2z"/><path fill="#ff6800" d="M277.6 536.6L312.5 490.2L314.6 491.8L316.8 482.9L308.9 487.5L311.0 489.1L276.2 535.5zM277.7 544.3L310.7 497.0L312.9 498.6L314.9 489.5L307.0 494.4L309.2 496.0L276.2 543.2zM292.9 513.4L325.8 465.6L328.0 467.1L329.8 458.1L322.0 463.0L324.3 464.6L291.4 512.4zM315.8 467.1L348.7 420.2L350.9 421.7L352.8 412.7L345.0 417.6L347.2 419.1L314.3 466.0zM323.4 389.7L348.7 337.9L351.1 339.1L351.6 329.9L344.6 336.0L347.1 337.1L321.8 388.9zM331.1 374.2L352.3 320.6L354.9 321.6L354.6 312.4L348.2 319.0L350.7 320.0L329.4 373.6zM346.2 467.1L379.2 419.6L381.5 421.1L383.4 412.1L375.5 417.0L377.8 418.5L344.8 466.0zM346.2 474.8L378.8 427.8L381.1 429.3L382.9 420.3L375.1 425.2L377.4 426.7L344.8 473.7zM392.0 397.4L415.6 344.9L418.1 346.0L418.2 336.7L411.5 343.0L413.9 344.1L390.4 396.7zM414.9 358.8L436.1 304.4L438.6 305.4L438.4 296.2L431.9 302.8L434.4 303.8L413.2 358.1z"/><path fill="#f7ff08" d="M277.7 559.7L303.6 522.8L305.8 524.4L307.7 515.3L299.9 520.2L302.1 521.8L276.2 558.7zM292.9 528.8L319.3 492.8L321.5 494.4L323.6 485.4L315.7 490.1L317.9 491.7L291.4 527.8zM300.6 428.4L322.3 390.2L324.6 391.6L325.7 382.4L318.4 388.0L320.7 389.3L299.0 427.5zM300.5 528.8L327.0 493.1L329.2 494.7L331.3 485.7L323.4 490.4L325.5 492.0L299.1 527.8zM308.1 536.6L334.4 501.1L336.6 502.7L338.8 493.7L330.8 498.4L333.0 500.0L306.7 535.5zM315.7 552.0L341.8 516.3L344.0 517.9L346.1 508.9L338.2 513.7L340.4 515.3L314.3 550.9zM315.8 559.7L341.7 522.9L343.9 524.4L345.9 515.4L338.0 520.3L340.2 521.8L314.3 558.7zM399.6 428.4L422.9 390.4L425.2 391.8L426.6 382.7L419.1 388.1L421.4 389.5L398.1 427.5z"/><path fill="#ffe700" d="M277.7 567.4L304.1 528.1L306.3 529.6L308.1 520.6L300.4 525.6L302.6 527.1L276.2 566.4zM308.1 544.3L336.4 506.4L338.6 508.1L340.8 499.1L332.8 503.7L335.0 505.4L306.7 543.2zM315.8 536.5L343.4 498.2L345.6 499.7L347.6 490.7L339.7 495.5L341.9 497.1L314.3 535.5zM331.0 521.1L358.1 481.9L360.3 483.5L362.2 474.4L354.4 479.4L356.6 480.9L329.5 520.1zM392.0 412.9L412.2 370.1L414.7 371.2L415.0 362.0L408.1 368.2L410.6 369.3L390.4 412.1zM399.7 412.9L420.3 370.2L422.7 371.4L423.2 362.2L416.2 368.2L418.7 369.4L398.0 412.1zM407.3 420.6L428.0 378.8L430.5 380.0L431.0 370.7L424.0 376.8L426.4 378.0L405.7 419.8z"/><path fill="#00d7ff" d="M285.4 443.7L292.6 425.2L295.1 426.2L294.8 417.0L288.4 423.6L290.9 424.6L283.7 443.1zM308.2 250.0L300.0 231.8L302.5 230.7L295.7 224.5L295.9 233.7L298.4 232.6L306.6 250.7zM307.1 351.6L326.3 358.1L325.5 360.6L334.7 359.9L327.8 353.8L326.9 356.4L307.7 349.9zM315.8 389.8L326.3 372.9L328.6 374.3L330.0 365.2L322.5 370.5L324.7 372.0L314.3 388.9zM323.5 481.9L321.4 461.1L324.1 460.8L319.7 452.7L316.9 461.5L319.6 461.3L321.7 482.1zM330.8 359.2L346.8 347.7L348.4 349.9L353.2 342.0L344.2 344.0L345.8 346.2L329.7 357.7zM354.0 520.8L359.2 500.7L361.8 501.4L360.5 492.2L354.9 499.6L357.5 500.2L352.2 520.4zM361.2 274.3L378.5 264.8L379.8 267.2L385.6 259.9L376.4 260.9L377.7 263.2L360.3 272.8zM361.2 490.5L378.9 480.2L380.2 482.6L385.8 475.2L376.6 476.3L378.0 478.7L360.3 488.9zM383.8 452.0L404.1 447.6L404.7 450.3L412.3 445.0L403.2 443.2L403.8 445.9L383.4 450.2z"/><path fill="#68ff97" d="M285.3 451.6L303.2 424.9L305.4 426.4L307.2 417.3L299.5 422.4L301.7 423.9L283.8 450.6zM331.1 366.5L343.2 335.9L345.7 336.9L345.5 327.7L339.0 334.3L341.5 335.2L329.4 365.8zM331.0 536.5L350.0 509.6L352.2 511.2L354.2 502.1L346.4 507.0L348.6 508.6L329.5 535.5zM331.0 544.3L350.0 517.7L352.2 519.3L354.2 510.3L346.3 515.1L348.5 516.7L329.5 543.2zM338.6 559.7L357.5 533.4L359.7 535.0L361.7 526.0L353.8 530.8L356.0 532.3L337.1 558.7zM346.2 528.8L365.1 502.4L367.3 503.9L369.3 494.9L361.4 499.8L363.6 501.3L344.8 527.8zM346.2 536.5L365.0 510.1L367.2 511.6L369.2 502.6L361.3 507.5L363.5 509.0L344.8 535.5zM346.2 544.3L365.2 517.7L367.4 519.3L369.4 510.3L361.5 515.1L363.7 516.7L344.8 543.2zM346.2 559.7L364.5 533.7L366.7 535.2L368.6 526.2L360.8 531.1L363.0 532.7L344.8 558.7zM353.9 497.9L372.4 472.1L374.6 473.7L376.6 464.7L368.7 469.5L370.9 471.1L352.4 496.9zM361.5 482.5L380.6 455.8L382.8 457.3L384.9 448.3L377.0 453.1L379.2 454.7L360.0 481.5zM376.7 459.3L394.8 433.0L397.0 434.5L398.9 425.5L391.1 430.5L393.3 432.0L375.2 458.3zM414.9 412.9L428.5 384.2L430.9 385.3L431.3 376.1L424.4 382.2L426.9 383.4L413.3 412.1z"/><path fill="#ff5800" d="M285.3 459.3L319.5 410.7L321.7 412.3L323.7 403.2L315.9 408.1L318.1 409.7L283.8 458.3zM300.5 567.4L333.2 518.6L335.4 520.1L337.1 511.0L329.4 516.1L331.7 517.6L299.0 566.4zM308.1 521.1L341.8 473.1L344.0 474.6L345.9 465.6L338.1 470.5L340.3 472.0L306.7 520.1zM323.4 467.1L357.2 419.0L359.4 420.6L361.3 411.6L353.5 416.4L355.7 418.0L321.9 466.0zM331.0 467.0L363.8 418.6L366.0 420.1L367.8 411.0L360.1 416.0L362.3 417.5L329.5 466.0z"/><path fill="#970000" d="M292.9 490.2L335.5 427.4L337.8 428.9L339.6 419.9L331.8 424.9L334.0 426.4L291.4 489.2zM300.5 467.1L344.2 405.5L346.4 407.1L348.4 398.1L340.6 402.9L342.8 404.5L299.0 466.0zM331.1 405.2L365.5 338.6L367.9 339.8L368.6 330.6L361.5 336.5L363.9 337.8L329.5 404.4zM331.0 451.6L373.0 388.3L375.2 389.8L376.9 380.8L369.2 385.9L371.5 387.4L329.5 450.6zM338.7 397.5L371.3 330.3L373.8 331.5L374.2 322.3L367.3 328.3L369.7 329.5L337.1 396.7zM353.9 405.2L388.0 337.3L390.4 338.6L391.0 329.3L383.9 335.3L386.4 336.5L352.3 404.4zM369.1 436.1L407.9 372.1L410.2 373.5L411.5 364.4L404.1 369.8L406.4 371.2L367.6 435.2zM376.8 351.0L400.2 279.3L402.8 280.1L402.0 270.9L396.0 277.9L398.5 278.7L375.1 350.5zM376.8 358.8L401.1 288.0L403.7 288.9L403.0 279.6L396.9 286.5L399.4 287.4L375.1 358.2z"/><path fill="#ffd700" d="M292.9 521.1L321.8 481.5L323.9 483.1L326.0 474.1L318.1 478.9L320.3 480.5L291.4 520.0zM292.9 552.0L320.4 512.5L322.6 514.0L324.5 505.0L316.7 509.9L318.9 511.5L291.4 550.9zM323.4 528.8L351.8 489.4L353.9 491.0L356.0 482.0L348.1 486.8L350.3 488.3L321.9 527.8zM361.5 467.0L388.9 426.5L391.2 428.0L392.9 418.9L385.2 424.0L387.4 425.5L360.0 466.0zM399.7 389.7L418.4 345.1L420.9 346.2L420.8 336.9L414.2 343.4L416.7 344.4L398.0 389.0zM399.7 397.4L419.3 352.8L421.8 353.9L421.9 344.7L415.2 351.0L417.6 352.1L398.0 396.7zM399.7 405.2L419.9 361.6L422.3 362.8L422.7 353.5L415.8 359.7L418.3 360.9L398.0 404.4z"/><path fill="#ff3800" d="M292.9 567.4L328.0 515.7L330.3 517.2L332.1 508.1L324.3 513.1L326.5 514.7L291.4 566.4zM346.2 459.3L381.5 408.6L383.7 410.2L385.6 401.2L377.8 406.1L380.0 407.6L344.8 458.3zM353.9 459.3L389.3 408.0L391.5 409.5L393.4 400.5L385.6 405.4L387.8 407.0L352.4 458.3z"/><path fill="#08fff7" d="M300.6 420.7L312.2 399.3L314.6 400.6L315.5 391.4L308.3 397.1L310.7 398.4L299.0 419.8zM308.1 242.1L293.3 222.5L295.5 220.9L287.5 216.3L289.7 225.2L291.9 223.6L306.7 243.2zM323.5 358.8L332.7 336.0L335.2 337.0L335.1 327.8L328.6 334.3L331.1 335.3L321.8 358.1zM354.0 312.3L357.6 288.4L360.3 288.8L358.0 279.9L353.2 287.7L355.8 288.1L352.2 312.0z"/><path fill="#ff4800" d="M300.5 490.2L334.2 439.6L336.5 441.1L338.2 432.1L330.5 437.1L332.8 438.6L299.0 489.2zM300.5 513.4L334.6 462.9L336.8 464.4L338.6 455.3L330.9 460.4L333.1 461.9L299.0 512.4zM331.0 513.4L364.8 463.0L367.1 464.5L368.8 455.4L361.1 460.5L363.3 462.0L329.5 512.4zM338.7 358.8L359.1 302.2L361.6 303.1L361.1 293.9L354.9 300.6L357.4 301.6L337.0 358.2zM346.2 490.2L380.7 440.4L383.0 441.9L384.8 432.9L377.0 437.8L379.3 439.4L344.8 489.2zM353.9 467.0L387.9 417.4L390.1 418.9L392.0 409.9L384.2 414.8L386.4 416.4L352.4 466.0z"/><path fill="#b7ff48" d="M308.2 412.9L326.2 377.8L328.6 379.0L329.3 369.8L322.2 375.7L324.6 377.0L306.6 412.1zM369.1 459.3L391.9 426.9L394.1 428.4L396.0 419.4L388.2 424.3L390.4 425.8L367.6 458.3zM369.1 467.1L391.4 434.9L393.6 436.4L395.5 427.4L387.7 432.3L389.9 433.9L367.6 466.0zM392.0 428.4L412.5 395.1L414.8 396.5L416.2 387.4L408.7 392.8L411.0 394.2L390.5 427.5zM399.6 436.1L421.1 403.0L423.3 404.4L424.9 395.4L417.3 400.5L419.6 402.0L398.1 435.2z"/><path fill="#e7ff18" d="M308.1 567.4L332.5 531.3L334.7 532.8L336.5 523.7L328.8 528.7L331.0 530.3L306.7 566.4zM361.5 536.5L386.0 501.6L388.2 503.1L390.1 494.1L382.3 499.0L384.5 500.5L360.0 535.5zM376.7 436.1L399.7 399.7L401.9 401.1L403.4 392.0L395.8 397.3L398.1 398.7L375.2 435.2zM384.4 420.7L406.0 382.9L408.3 384.3L409.4 375.1L402.1 380.7L404.4 382.0L382.8 419.8zM392.0 420.7L413.4 383.0L415.7 384.4L416.8 375.2L409.5 380.8L411.8 382.1L390.4 419.8zM407.3 397.4L423.7 358.2L426.2 359.2L426.2 350.0L419.5 356.5L422.0 357.5L405.6 396.7z"/><path fill="#97ff68" d="M315.8 397.5L332.3 364.6L334.8 365.8L335.4 356.6L328.3 362.6L330.7 363.8L314.2 396.7zM323.4 536.5L344.4 507.4L346.6 509.0L348.7 500.0L340.8 504.8L343.0 506.4L321.9 535.5zM323.4 552.0L344.6 521.9L346.8 523.4L348.8 514.4L341.0 519.3L343.2 520.8L321.9 550.9zM331.0 559.7L352.5 531.2L354.7 532.8L356.9 523.9L348.9 528.5L351.1 530.1L329.5 558.6zM346.4 335.6L357.3 300.3L359.9 301.1L359.0 291.9L353.0 299.0L355.6 299.8L344.6 335.0zM384.4 428.4L402.9 396.7L405.2 398.1L406.4 388.9L399.0 394.5L401.4 395.8L382.8 427.5zM407.3 389.7L421.3 355.4L423.8 356.5L423.7 347.2L417.1 353.7L419.6 354.8L405.6 389.0z"/><path fill="#00e7ff" d="M315.9 482.1L317.7 460.8L320.4 461.0L317.6 452.3L313.3 460.4L315.9 460.7L314.1 481.9zM315.8 489.3L304.8 470.1L307.1 468.7L299.7 463.1L300.9 472.3L303.2 471.0L314.2 490.1zM338.4 343.8L356.3 332.0L357.8 334.3L362.9 326.6L353.8 328.3L355.3 330.5L337.4 342.3zM346.4 327.6L346.1 306.3L348.8 306.2L345.0 297.8L341.6 306.3L344.3 306.3L344.6 327.6zM354.0 513.1L359.8 492.5L362.4 493.2L361.2 484.1L355.4 491.3L358.0 492.0L352.3 512.6z"/><path fill="#28ffd7" d="M323.5 366.5L333.5 342.1L336.0 343.1L335.9 333.9L329.3 340.4L331.8 341.4L321.8 365.8zM323.4 490.2L338.4 468.3L340.6 469.9L342.5 460.8L334.7 465.8L336.9 467.3L321.9 489.2zM338.6 536.6L354.9 514.4L357.0 516.0L359.2 507.0L351.2 511.7L353.4 513.3L337.2 535.5zM353.9 505.7L369.3 484.2L371.5 485.8L373.5 476.8L365.7 481.6L367.9 483.1L352.4 504.6zM361.6 289.1L365.9 262.0L368.6 262.5L366.4 253.5L361.5 261.3L364.1 261.8L359.9 288.8zM384.3 459.3L400.0 436.7L402.3 438.2L404.1 429.2L396.3 434.1L398.6 435.7L382.9 458.3z"/><path fill="#78ff87" d="M323.5 382.0L337.3 350.6L339.8 351.7L339.9 342.4L333.2 348.7L335.7 349.8L321.8 381.3zM323.4 567.4L342.2 539.9L344.5 541.5L346.3 532.4L338.5 537.4L340.7 538.9L321.9 566.4zM331.0 552.0L350.7 525.1L352.9 526.7L355.0 517.7L347.1 522.4L349.3 524.0L329.5 550.9zM353.9 552.0L373.6 524.0L375.8 525.5L377.7 516.5L369.9 521.4L372.1 522.9L352.4 550.9zM376.7 467.0L395.6 439.5L397.8 441.0L399.7 432.0L391.9 436.9L394.1 438.5L375.2 466.0zM414.9 381.9L426.8 349.8L429.4 350.8L428.9 341.6L422.6 348.3L425.1 349.2L413.2 381.3zM414.9 405.2L428.8 374.8L431.2 375.9L431.5 366.7L424.7 372.9L427.1 374.0L413.3 404.4z"/><path fill="#48ffb7" d="M323.4 497.9L339.4 473.1L341.7 474.5L343.2 465.4L335.6 470.6L337.9 472.1L321.9 496.9zM331.0 567.4L347.4 543.4L349.6 544.9L351.4 535.8L343.7 540.8L345.9 542.3L329.5 566.4zM338.6 544.3L356.0 520.3L358.2 521.9L360.2 512.9L352.3 517.7L354.5 519.2L337.2 543.2zM346.2 521.1L363.1 497.3L365.3 498.9L367.3 489.9L359.4 494.7L361.6 496.3L344.8 520.1zM346.2 552.0L363.5 527.8L365.7 529.3L367.7 520.3L359.8 525.1L362.0 526.7L344.8 550.9zM353.9 528.8L371.5 504.2L373.7 505.8L375.7 496.8L367.8 501.6L370.0 503.2L352.4 527.8z"/><path fill="#ff8700" d="M331.0 474.8L362.2 429.8L364.5 431.4L366.4 422.3L358.6 427.3L360.8 428.8L329.5 473.7zM338.6 467.0L370.0 421.1L372.2 422.6L374.0 413.6L366.3 418.5L368.5 420.1L337.1 466.0zM338.6 474.8L370.2 429.7L372.4 431.2L374.3 422.2L366.5 427.1L368.7 428.6L337.1 473.7zM399.7 382.0L420.5 330.6L423.0 331.6L422.8 322.4L416.3 328.9L418.8 330.0L398.0 381.3z"/><path fill="#ff7800" d="M407.3 374.2L426.9 321.0L429.4 321.9L429.0 312.7L422.7 319.5L425.2 320.4L405.6 373.6z"/>
<rect x="75.0" y="142.7" width="347.9" height="427.2" fill="none" stroke="#1a1a1a" stroke-width="1.3"/>
<use href="#lab"/>
<rect x="85.1" y="158.4" width="113.0" height="25.0" fill="url(#jet)" stroke="#111" stroke-width="1.2"/>
<use href="#stars"/>
<use href="#km" transform="translate(0 66.5)"/>
<text x="386.5" y="207.5" font-size="20.80" text-anchor="middle" font-weight="normal" fill="#000">50 cm/s</text>
<text x="118.3" y="115.0" font-size="22.00" text-anchor="start" font-weight="normal" fill="#333">cm/s</text>
<text x="86.0" y="143.3" font-size="19.5" text-anchor="middle" fill="#333" stroke="#333" stroke-width="0.4">0</text><text x="88.3" y="143.3" font-size="19.5" text-anchor="middle" fill="#333" stroke="#333" stroke-width="0.4">0</text><text x="90.5" y="143.3" font-size="19.5" text-anchor="middle" fill="#333" stroke="#333" stroke-width="0.4">5</text><text x="92.8" y="143.3" font-size="19.5" text-anchor="middle" fill="#333" stroke="#333" stroke-width="0.4">5</text><text x="95.0" y="143.3" font-size="19.5" text-anchor="middle" fill="#333" stroke="#333" stroke-width="0.4">10</text><text x="97.3" y="143.3" font-size="19.5" text-anchor="middle" fill="#333" stroke="#333" stroke-width="0.4">10</text><text x="99.5" y="143.3" font-size="19.5" text-anchor="middle" fill="#333" stroke="#333" stroke-width="0.4">15</text><text x="101.8" y="143.3" font-size="19.5" text-anchor="middle" fill="#333" stroke="#333" stroke-width="0.4">15</text><text x="104.0" y="143.3" font-size="19.5" text-anchor="middle" fill="#333" stroke="#333" stroke-width="0.4">20</text><text x="106.3" y="143.3" font-size="19.5" text-anchor="middle" fill="#333" stroke="#333" stroke-width="0.4">20</text><text x="108.5" y="143.3" font-size="19.5" text-anchor="middle" fill="#333" stroke="#333" stroke-width="0.4">25</text><text x="110.8" y="143.3" font-size="19.5" text-anchor="middle" fill="#333" stroke="#333" stroke-width="0.4">25</text><text x="113.1" y="143.3" font-size="19.5" text-anchor="middle" fill="#333" stroke="#333" stroke-width="0.4">30</text><text x="115.3" y="143.3" font-size="19.5" text-anchor="middle" fill="#333" stroke="#333" stroke-width="0.4">30</text><text x="117.6" y="143.3" font-size="19.5" text-anchor="middle" fill="#333" stroke="#333" stroke-width="0.4">35</text><text x="119.8" y="143.3" font-size="19.5" text-anchor="middle" fill="#333" stroke="#333" stroke-width="0.4">35</text><text x="122.1" y="143.3" font-size="19.5" text-anchor="middle" fill="#333" stroke="#333" stroke-width="0.4">40</text><text x="124.3" y="143.3" font-size="19.5" text-anchor="middle" fill="#333" stroke="#333" stroke-width="0.4">40</text><text x="126.6" y="143.3" font-size="19.5" text-anchor="middle" fill="#333" stroke="#333" stroke-width="0.4">45</text><text x="128.8" y="143.3" font-size="19.5" text-anchor="middle" fill="#333" stroke="#333" stroke-width="0.4">45</text><text x="131.1" y="143.3" font-size="19.5" text-anchor="middle" fill="#333" stroke="#333" stroke-width="0.4">50</text><text x="133.4" y="143.3" font-size="19.5" text-anchor="middle" fill="#333" stroke="#333" stroke-width="0.4">50</text><text x="135.6" y="143.3" font-size="19.5" text-anchor="middle" fill="#333" stroke="#333" stroke-width="0.4">55</text><text x="137.9" y="143.3" font-size="19.5" text-anchor="middle" fill="#333" stroke="#333" stroke-width="0.4">55</text><text x="140.1" y="143.3" font-size="19.5" text-anchor="middle" fill="#333" stroke="#333" stroke-width="0.4">60</text><text x="142.4" y="143.3" font-size="19.5" text-anchor="middle" fill="#333" stroke="#333" stroke-width="0.4">60</text><text x="144.6" y="143.3" font-size="19.5" text-anchor="middle" fill="#333" stroke="#333" stroke-width="0.4">65</text><text x="146.9" y="143.3" font-size="19.5" text-anchor="middle" fill="#333" stroke="#333" stroke-width="0.4">65</text><text x="149.1" y="143.3" font-size="19.5" text-anchor="middle" fill="#333" stroke="#333" stroke-width="0.4">70</text><text x="151.4" y="143.3" font-size="19.5" text-anchor="middle" fill="#333" stroke="#333" stroke-width="0.4">70</text><text x="153.6" y="143.3" font-size="19.5" text-anchor="middle" fill="#333" stroke="#333" stroke-width="0.4">75</text><text x="155.9" y="143.3" font-size="19.5" text-anchor="middle" fill="#333" stroke="#333" stroke-width="0.4">75</text><text x="158.2" y="143.3" font-size="19.5" text-anchor="middle" fill="#333" stroke="#333" stroke-width="0.4">80</text><text x="160.4" y="143.3" font-size="19.5" text-anchor="middle" fill="#333" stroke="#333" stroke-width="0.4">80</text><text x="162.7" y="143.3" font-size="19.5" text-anchor="middle" fill="#333" stroke="#333" stroke-width="0.4">85</text><text x="164.9" y="143.3" font-size="19.5" text-anchor="middle" fill="#333" stroke="#333" stroke-width="0.4">85</text><text x="167.2" y="143.3" font-size="19.5" text-anchor="middle" fill="#333" stroke="#333" stroke-width="0.4">90</text><text x="169.4" y="143.3" font-size="19.5" text-anchor="middle" fill="#333" stroke="#333" stroke-width="0.4">90</text><text x="171.7" y="143.3" font-size="19.5" text-anchor="middle" fill="#333" stroke="#333" stroke-width="0.4">95</text><text x="173.9" y="143.3" font-size="19.5" text-anchor="middle" fill="#333" stroke="#333" stroke-width="0.4">95</text><text x="173.2" y="143.3" font-size="19.5" text-anchor="middle" fill="#333" stroke="#333" stroke-width="0.4">100</text><text x="175.5" y="143.3" font-size="19.5" text-anchor="middle" fill="#333" stroke="#333" stroke-width="0.4">100</text><text x="177.7" y="143.3" font-size="19.5" text-anchor="middle" fill="#333" stroke="#333" stroke-width="0.4">105</text><text x="180.0" y="143.3" font-size="19.5" text-anchor="middle" fill="#333" stroke="#333" stroke-width="0.4">105</text><text x="182.2" y="143.3" font-size="19.5" text-anchor="middle" fill="#333" stroke="#333" stroke-width="0.4">110</text><text x="184.5" y="143.3" font-size="19.5" text-anchor="middle" fill="#333" stroke="#333" stroke-width="0.4">110</text><text x="186.7" y="143.3" font-size="19.5" text-anchor="middle" fill="#333" stroke="#333" stroke-width="0.4">115</text><text x="189.0" y="143.3" font-size="19.5" text-anchor="middle" fill="#333" stroke="#333" stroke-width="0.4">115</text><text x="191.2" y="143.3" font-size="19.5" text-anchor="middle" fill="#333" stroke="#333" stroke-width="0.4">120</text><text x="193.5" y="143.3" font-size="19.5" text-anchor="middle" fill="#333" stroke="#333" stroke-width="0.4">120</text><text x="195.7" y="143.3" font-size="19.5" text-anchor="middle" fill="#333" stroke="#333" stroke-width="0.4">125</text><text x="198.0" y="143.3" font-size="19.5" text-anchor="middle" fill="#333" stroke="#333" stroke-width="0.4">125</text>
<text x="248.9" y="129.0" font-size="25.15" text-anchor="middle" font-weight="bold" fill="#000">2023-05-19 20:00</text>
</g>
<g transform="translate(383.3 -0.1)">
<use href="#grid"/>
<g clip-path="url(#cp)">
<g shape-rendering="crispEdges"><path fill="#870000" d="M345.5 157.7H360.7V165.5H345.5zM337.9 165.5H360.7V173.2H337.9zM337.9 173.2H360.7V180.9H337.9zM406.5 211.8H414.1V219.5H406.5zM254.1 250.4H261.7V258.1H254.1z"/><path fill="#ffd700" d="M307.4 188.6H315.0V196.3H307.4z"/><path fill="#ff5800" d="M315.0 188.6H322.6V196.3H315.0zM360.7 211.8H368.4V219.5H360.7zM269.3 234.9H276.9V242.7H269.3z"/><path fill="#ffa700" d="M322.6 188.6H330.3V196.3H322.6z"/><path fill="#f70000" d="M307.4 196.3H315.0V204.1H307.4z"/><path fill="#ffe700" d="M315.0 196.3H322.6V204.1H315.0zM337.9 196.3H345.5V204.1H337.9zM353.1 204.1H360.7V211.8H353.1zM383.6 219.5H391.2V227.2H383.6zM246.4 258.1H254.1V265.8H246.4zM398.8 497.4H406.5V505.1H398.8z"/><path fill="#ffb700" d="M322.6 196.3H337.9V204.1H322.6zM307.4 204.1H315.0V211.8H307.4z"/><path fill="#ff2800" d="M284.5 204.1H292.2V211.8H284.5zM337.9 204.1H345.5V211.8H337.9zM383.6 211.8H391.2V219.5H383.6z"/><path fill="#ff7800" d="M292.2 204.1H307.4V211.8H292.2zM276.9 234.9H284.5V242.7H276.9z"/><path fill="#58ffa7" d="M315.0 204.1H322.6V211.8H315.0z"/><path fill="#ffc700" d="M322.6 204.1H330.3V211.8H322.6zM376.0 211.8H383.6V219.5H376.0zM269.3 250.4H276.9V258.1H269.3z"/><path fill="#a7ff58" d="M330.3 204.1H337.9V211.8H330.3zM292.2 219.5H299.8V227.2H292.2zM414.1 219.5H421.7V227.2H414.1zM383.6 536.0H391.2V543.7H383.6z"/><path fill="#ff8700" d="M345.5 204.1H353.1V211.8H345.5zM284.5 227.2H292.2V234.9H284.5z"/><path fill="#d70000" d="M414.1 204.1H421.7V211.8H414.1zM414.1 211.8H421.7V219.5H414.1z"/><path fill="#fff700" d="M284.5 211.8H292.2V219.5H284.5zM284.5 219.5H292.2V227.2H284.5zM391.2 227.2H398.8V234.9H391.2z"/><path fill="#b7ff48" d="M292.2 211.8H299.8V219.5H292.2zM353.1 219.5H360.7V227.2H353.1zM376.0 219.5H383.6V227.2H376.0zM398.8 227.2H406.5V234.9H398.8zM398.8 443.4H406.5V451.1H398.8zM398.8 458.8H406.5V466.5H398.8z"/><path fill="#68ff97" d="M299.8 211.8H307.4V219.5H299.8z"/><path fill="#87ff78" d="M307.4 211.8H315.0V219.5H307.4zM276.9 242.7H284.5V250.4H276.9z"/><path fill="#28ffd7" d="M315.0 211.8H322.6V219.5H315.0zM345.5 211.8H353.1V219.5H345.5zM307.4 219.5H315.0V227.2H307.4zM360.7 219.5H368.4V227.2H360.7zM284.5 242.7H292.2V250.4H284.5zM398.8 242.7H414.1V250.4H398.8zM261.7 258.1H276.9V265.8H261.7zM391.2 489.7H398.8V497.4H391.2zM383.6 512.9H391.2V520.6H383.6zM383.6 520.6H391.2V528.3H383.6zM383.6 528.3H391.2V536.0H383.6z"/><path fill="#38ffc7" d="M322.6 211.8H337.9V219.5H322.6zM292.2 234.9H299.8V242.7H292.2zM414.1 234.9H421.7V242.7H414.1z"/><path fill="#c7ff38" d="M337.9 211.8H345.5V219.5H337.9zM376.0 227.2H383.6V234.9H376.0zM398.8 451.1H406.5V458.8H398.8zM391.2 512.9H398.8V520.6H391.2zM383.6 551.5H391.2V559.2H383.6z"/><path fill="#ff1800" d="M353.1 211.8H360.7V219.5H353.1z"/><path fill="#ff3800" d="M368.4 211.8H376.0V219.5H368.4z"/><path fill="#c70000" d="M391.2 211.8H398.8V219.5H391.2z"/><path fill="#ff0800" d="M398.8 211.8H406.5V219.5H398.8zM284.5 234.9H292.2V242.7H284.5z"/><path fill="#18ffe7" d="M299.8 219.5H307.4V227.2H299.8zM315.0 219.5H322.6V227.2H315.0zM398.8 219.5H406.5V227.2H398.8zM299.8 227.2H307.4V234.9H299.8zM406.5 227.2H414.1V234.9H406.5zM391.2 234.9H414.1V242.7H391.2zM406.5 250.4H414.1V258.1H406.5zM414.1 273.5H421.7V281.3H414.1zM406.5 296.7H414.1V304.4H406.5zM391.2 474.3H398.8V482.0H391.2zM391.2 482.0H398.8V489.7H391.2zM368.4 551.5H376.0V559.2H368.4zM368.4 566.9H383.6V569.9H368.4z"/><path fill="#00f7ff" d="M322.6 219.5H330.3V227.2H322.6zM322.6 227.2H330.3V234.9H322.6zM337.9 227.2H345.5V234.9H337.9zM353.1 227.2H360.7V234.9H353.1zM353.1 234.9H360.7V242.7H353.1zM376.0 242.7H383.6V250.4H376.0zM391.2 242.7H398.8V250.4H391.2zM391.2 250.4H398.8V258.1H391.2zM406.5 258.1H414.1V265.8H406.5zM398.8 289.0H421.7V296.7H398.8zM414.1 404.8H421.7V412.5H414.1zM391.2 443.4H398.8V451.1H391.2zM391.2 458.8H398.8V466.5H391.2zM376.0 489.7H383.6V497.4H376.0zM376.0 497.4H383.6V505.1H376.0zM391.2 497.4H398.8V505.1H391.2zM376.0 505.1H391.2V512.9H376.0zM376.0 512.9H383.6V520.6H376.0zM360.7 520.6H383.6V528.3H360.7zM368.4 528.3H376.0V536.0H368.4zM368.4 543.7H376.0V551.5H368.4zM360.7 551.5H368.4V559.2H360.7zM368.4 559.2H376.0V566.9H368.4zM353.1 566.9H360.7V569.9H353.1z"/><path fill="#00e7ff" d="M330.3 219.5H337.9V227.2H330.3zM307.4 227.2H315.0V234.9H307.4zM330.3 227.2H337.9V234.9H330.3zM383.6 242.7H391.2V250.4H383.6zM368.4 250.4H383.6V258.1H368.4zM376.0 258.1H383.6V265.8H376.0zM391.2 258.1H406.5V265.8H391.2zM414.1 258.1H421.7V265.8H414.1zM391.2 265.8H406.5V273.5H391.2zM391.2 273.5H414.1V281.3H391.2zM398.8 281.3H414.1V289.0H398.8zM414.1 296.7H421.7V304.4H414.1zM414.1 312.1H421.7V319.9H414.1zM406.5 335.3H421.7V343.0H406.5zM414.1 343.0H421.7V350.7H414.1zM406.5 358.5H421.7V366.2H406.5zM414.1 373.9H421.7V381.6H414.1zM406.5 389.3H414.1V397.1H406.5zM398.8 397.1H406.5V404.8H398.8zM414.1 397.1H421.7V404.8H414.1zM406.5 404.8H414.1V412.5H406.5zM398.8 412.5H406.5V420.2H398.8zM414.1 412.5H421.7V420.2H414.1zM406.5 420.2H421.7V427.9H406.5zM391.2 427.9H398.8V435.7H391.2zM406.5 427.9H421.7V435.7H406.5zM391.2 451.1H398.8V458.8H391.2zM383.6 458.8H391.2V466.5H383.6zM376.0 466.5H383.6V474.3H376.0zM376.0 474.3H383.6V482.0H376.0zM376.0 482.0H383.6V489.7H376.0zM383.6 489.7H391.2V497.4H383.6zM383.6 497.4H391.2V505.1H383.6zM360.7 505.1H376.0V512.9H360.7zM368.4 512.9H376.0V520.6H368.4zM345.5 536.0H353.1V543.7H345.5zM368.4 536.0H376.0V543.7H368.4zM353.1 543.7H368.4V551.5H353.1zM353.1 551.5H360.7V559.2H353.1zM337.9 559.2H345.5V566.9H337.9z"/><path fill="#48ffb7" d="M337.9 219.5H345.5V227.2H337.9zM383.6 227.2H391.2V234.9H383.6zM414.1 227.2H421.7V234.9H414.1zM391.2 505.1H398.8V512.9H391.2z"/><path fill="#97ff68" d="M345.5 219.5H353.1V227.2H345.5zM368.4 227.2H376.0V234.9H368.4zM261.7 250.4H269.3V258.1H261.7z"/><path fill="#ff9700" d="M368.4 219.5H376.0V227.2H368.4z"/><path fill="#e7ff18" d="M391.2 219.5H398.8V227.2H391.2zM414.1 435.7H421.7V443.4H414.1zM398.8 474.3H406.5V482.0H398.8zM398.8 489.7H406.5V497.4H398.8zM391.2 528.3H398.8V536.0H391.2zM383.6 543.7H391.2V551.5H383.6zM383.6 566.9H391.2V569.9H383.6z"/><path fill="#f7ff08" d="M406.5 219.5H414.1V227.2H406.5zM254.1 258.1H261.7V265.8H254.1zM406.5 443.4H414.1V451.1H406.5zM398.8 505.1H406.5V512.9H398.8zM391.2 520.6H398.8V528.3H391.2zM391.2 536.0H398.8V543.7H391.2z"/><path fill="#08fff7" d="M292.2 227.2H299.8V234.9H292.2zM345.5 227.2H353.1V234.9H345.5zM345.5 234.9H353.1V242.7H345.5zM383.6 234.9H391.2V242.7H383.6zM368.4 242.7H376.0V250.4H368.4zM414.1 242.7H421.7V250.4H414.1zM398.8 250.4H406.5V258.1H398.8zM414.1 250.4H421.7V258.1H414.1zM406.5 265.8H421.7V273.5H406.5zM406.5 397.1H414.1V404.8H406.5zM398.8 435.7H406.5V443.4H398.8zM391.2 466.5H398.8V474.3H391.2zM383.6 482.0H391.2V489.7H383.6zM376.0 528.3H383.6V536.0H376.0zM376.0 536.0H383.6V543.7H376.0zM376.0 543.7H383.6V551.5H376.0zM376.0 551.5H383.6V559.2H376.0zM360.7 559.2H368.4V566.9H360.7zM376.0 559.2H383.6V566.9H376.0zM360.7 566.9H368.4V569.9H360.7z"/><path fill="#00c7ff" d="M315.0 227.2H322.6V234.9H315.0zM353.1 242.7H360.7V250.4H353.1zM360.7 250.4H368.4V258.1H360.7zM391.2 281.3H398.8V289.0H391.2zM406.5 304.4H414.1V312.1H406.5zM398.8 312.1H406.5V319.9H398.8zM406.5 319.9H414.1V327.6H406.5zM414.1 327.6H421.7V335.3H414.1zM414.1 389.3H421.7V397.1H414.1zM406.5 412.5H414.1V420.2H406.5zM398.8 427.9H406.5V435.7H398.8zM383.6 474.3H391.2V482.0H383.6zM360.7 489.7H368.4V497.4H360.7zM360.7 497.4H368.4V505.1H360.7zM360.7 512.9H368.4V520.6H360.7zM353.1 520.6H360.7V528.3H353.1zM345.5 543.7H353.1V551.5H345.5zM353.1 559.2H360.7V566.9H353.1zM337.9 566.9H345.5V569.9H337.9z"/><path fill="#00d7ff" d="M360.7 227.2H368.4V234.9H360.7zM299.8 234.9H307.4V242.7H299.8zM337.9 234.9H345.5V242.7H337.9zM360.7 242.7H368.4V250.4H360.7zM383.6 250.4H391.2V258.1H383.6zM368.4 258.1H376.0V265.8H368.4zM383.6 258.1H391.2V265.8H383.6zM383.6 265.8H391.2V273.5H383.6zM414.1 281.3H421.7V289.0H414.1zM398.8 296.7H406.5V304.4H398.8zM398.8 304.4H406.5V312.1H398.8zM414.1 304.4H421.7V312.1H414.1zM406.5 312.1H414.1V319.9H406.5zM414.1 319.9H421.7V327.6H414.1zM406.5 327.6H414.1V335.3H406.5zM414.1 350.7H421.7V358.5H414.1zM414.1 366.2H421.7V373.9H414.1zM414.1 381.6H421.7V389.3H414.1zM398.8 389.3H406.5V397.1H398.8zM391.2 397.1H398.8V404.8H391.2zM398.8 404.8H406.5V412.5H398.8zM391.2 420.2H406.5V427.9H391.2zM383.6 466.5H391.2V474.3H383.6zM368.4 482.0H376.0V489.7H368.4zM368.4 489.7H376.0V497.4H368.4zM368.4 497.4H376.0V505.1H368.4zM353.1 512.9H360.7V520.6H353.1zM345.5 528.3H368.4V536.0H345.5zM353.1 536.0H368.4V543.7H353.1zM337.9 543.7H345.5V551.5H337.9zM337.9 551.5H353.1V559.2H337.9zM345.5 559.2H353.1V566.9H345.5zM345.5 566.9H353.1V569.9H345.5z"/><path fill="#00a7ff" d="M307.4 234.9H315.0V242.7H307.4zM322.6 234.9H330.3V242.7H322.6zM345.5 242.7H353.1V250.4H345.5zM353.1 250.4H360.7V258.1H353.1zM246.4 265.8H254.1V273.5H246.4zM246.4 273.5H261.7V281.3H246.4zM398.8 319.9H406.5V327.6H398.8zM398.8 335.3H406.5V343.0H398.8zM406.5 350.7H414.1V358.5H406.5zM406.5 366.2H414.1V373.9H406.5zM383.6 435.7H391.2V443.4H383.6zM383.6 451.1H391.2V458.8H383.6zM376.0 458.8H383.6V466.5H376.0zM360.7 482.0H368.4V489.7H360.7zM353.1 497.4H360.7V505.1H353.1zM353.1 505.1H360.7V512.9H353.1zM337.9 536.0H345.5V543.7H337.9zM330.3 559.2H337.9V566.9H330.3zM223.6 566.9H231.2V569.9H223.6zM299.8 566.9H307.4V569.9H299.8zM330.3 566.9H337.9V569.9H330.3z"/><path fill="#0087ff" d="M315.0 234.9H322.6V242.7H315.0zM322.6 242.7H330.3V250.4H322.6zM284.5 258.1H292.2V265.8H284.5zM269.3 265.8H276.9V273.5H269.3zM368.4 265.8H376.0V273.5H368.4zM391.2 304.4H398.8V312.1H391.2zM398.8 343.0H414.1V350.7H398.8zM398.8 350.7H406.5V358.5H398.8zM398.8 366.2H406.5V373.9H398.8zM391.2 381.6H398.8V389.3H391.2zM383.6 389.3H391.2V397.1H383.6zM383.6 397.1H391.2V404.8H383.6zM383.6 404.8H391.2V412.5H383.6zM368.4 458.8H376.0V466.5H368.4zM345.5 482.0H353.1V489.7H345.5zM345.5 497.4H353.1V505.1H345.5zM330.3 543.7H337.9V551.5H330.3zM231.2 566.9H238.8V569.9H231.2zM246.4 566.9H254.1V569.9H246.4zM276.9 566.9H284.5V569.9H276.9z"/><path fill="#0097ff" d="M330.3 234.9H337.9V242.7H330.3zM292.2 242.7H299.8V250.4H292.2zM337.9 242.7H345.5V250.4H337.9zM292.2 250.4H299.8V258.1H292.2zM353.1 258.1H360.7V265.8H353.1zM376.0 273.5H383.6V281.3H376.0zM391.2 289.0H398.8V296.7H391.2zM391.2 296.7H398.8V304.4H391.2zM398.8 327.6H406.5V335.3H398.8zM398.8 358.5H406.5V366.2H398.8zM406.5 373.9H414.1V381.6H406.5zM391.2 389.3H398.8V397.1H391.2zM391.2 404.8H398.8V412.5H391.2zM383.6 412.5H391.2V420.2H383.6zM383.6 420.2H391.2V427.9H383.6zM383.6 427.9H391.2V435.7H383.6zM368.4 466.5H376.0V474.3H368.4zM345.5 489.7H353.1V497.4H345.5zM345.5 512.9H353.1V520.6H345.5zM330.3 551.5H337.9V559.2H330.3zM238.8 566.9H246.4V569.9H238.8zM261.7 566.9H276.9V569.9H261.7zM307.4 566.9H330.3V569.9H307.4z"/><path fill="#ff6800" d="M269.3 242.7H276.9V250.4H269.3z"/><path fill="#00b7ff" d="M299.8 242.7H307.4V250.4H299.8zM276.9 258.1H284.5V265.8H276.9zM360.7 258.1H368.4V265.8H360.7zM254.1 265.8H261.7V273.5H254.1zM376.0 265.8H383.6V273.5H376.0zM383.6 273.5H391.2V281.3H383.6zM383.6 281.3H391.2V289.0H383.6zM398.8 381.6H414.1V389.3H398.8zM391.2 412.5H398.8V420.2H391.2zM391.2 435.7H398.8V443.4H391.2zM368.4 474.3H376.0V482.0H368.4zM353.1 489.7H360.7V497.4H353.1zM345.5 520.6H353.1V528.3H345.5zM292.2 566.9H299.8V569.9H292.2z"/><path fill="#0078ff" d="M307.4 242.7H315.0V250.4H307.4zM284.5 250.4H292.2V258.1H284.5zM345.5 250.4H353.1V258.1H345.5zM345.5 258.1H353.1V265.8H345.5zM360.7 265.8H368.4V273.5H360.7zM368.4 273.5H376.0V281.3H368.4zM376.0 281.3H383.6V289.0H376.0zM383.6 289.0H391.2V296.7H383.6zM391.2 312.1H398.8V319.9H391.2zM391.2 335.3H398.8V343.0H391.2zM391.2 358.5H398.8V366.2H391.2zM398.8 373.9H406.5V381.6H398.8zM383.6 381.6H391.2V389.3H383.6zM376.0 389.3H383.6V397.1H376.0zM376.0 427.9H383.6V435.7H376.0zM376.0 451.1H383.6V458.8H376.0zM345.5 474.3H353.1V482.0H345.5zM353.1 482.0H360.7V489.7H353.1zM345.5 505.1H353.1V512.9H345.5zM337.9 520.6H345.5V528.3H337.9zM337.9 528.3H345.5V536.0H337.9zM330.3 536.0H337.9V543.7H330.3zM322.6 559.2H330.3V566.9H322.6zM254.1 566.9H261.7V569.9H254.1zM284.5 566.9H292.2V569.9H284.5z"/><path fill="#0068ff" d="M315.0 242.7H322.6V250.4H315.0zM330.3 242.7H337.9V250.4H330.3zM299.8 250.4H307.4V258.1H299.8zM261.7 265.8H269.3V273.5H261.7zM292.2 265.8H299.8V273.5H292.2zM353.1 265.8H360.7V273.5H353.1zM261.7 273.5H269.3V281.3H261.7zM376.0 289.0H383.6V296.7H376.0zM383.6 304.4H391.2V312.1H383.6zM383.6 312.1H391.2V319.9H383.6zM391.2 319.9H398.8V327.6H391.2zM391.2 327.6H398.8V335.3H391.2zM246.4 343.0H254.1V350.7H246.4zM391.2 343.0H398.8V350.7H391.2zM246.4 366.2H254.1V373.9H246.4zM391.2 366.2H398.8V373.9H391.2zM391.2 373.9H398.8V381.6H391.2zM376.0 397.1H383.6V404.8H376.0zM376.0 412.5H383.6V420.2H376.0zM376.0 420.2H383.6V427.9H376.0zM376.0 435.7H383.6V443.4H376.0zM383.6 443.4H391.2V451.1H383.6zM231.2 466.5H238.8V474.3H231.2zM360.7 466.5H368.4V474.3H360.7zM353.1 474.3H360.7V482.0H353.1zM337.9 512.9H345.5V520.6H337.9zM223.6 520.6H231.2V528.3H223.6zM330.3 528.3H337.9V536.0H330.3zM322.6 543.7H330.3V551.5H322.6zM322.6 551.5H330.3V559.2H322.6zM223.6 559.2H231.2V566.9H223.6zM254.1 559.2H261.7V566.9H254.1zM284.5 559.2H299.8V566.9H284.5zM307.4 559.2H315.0V566.9H307.4z"/><path fill="#78ff87" d="M276.9 250.4H284.5V258.1H276.9z"/><path fill="#0058ff" d="M307.4 250.4H315.0V258.1H307.4zM337.9 250.4H345.5V258.1H337.9zM292.2 258.1H299.8V265.8H292.2zM276.9 265.8H284.5V273.5H276.9zM345.5 265.8H353.1V273.5H345.5zM353.1 273.5H368.4V281.3H353.1zM254.1 281.3H261.7V289.0H254.1zM368.4 281.3H376.0V289.0H368.4zM254.1 312.1H261.7V319.9H254.1zM246.4 319.9H254.1V327.6H246.4zM383.6 319.9H391.2V327.6H383.6zM246.4 327.6H254.1V335.3H246.4zM246.4 335.3H254.1V343.0H246.4zM383.6 335.3H391.2V343.0H383.6zM391.2 350.7H398.8V358.5H391.2zM246.4 358.5H254.1V366.2H246.4zM383.6 358.5H391.2V366.2H383.6zM383.6 366.2H391.2V373.9H383.6zM246.4 373.9H254.1V381.6H246.4zM376.0 381.6H383.6V389.3H376.0zM246.4 389.3H254.1V397.1H246.4zM368.4 389.3H376.0V397.1H368.4zM238.8 404.8H246.4V412.5H238.8zM376.0 404.8H383.6V412.5H376.0zM238.8 412.5H246.4V420.2H238.8zM368.4 420.2H376.0V427.9H368.4zM368.4 435.7H376.0V443.4H368.4zM360.7 443.4H368.4V451.1H360.7zM231.2 451.1H238.8V458.8H231.2zM360.7 458.8H368.4V466.5H360.7zM337.9 466.5H345.5V474.3H337.9zM360.7 474.3H368.4V482.0H360.7zM231.2 482.0H238.8V489.7H231.2zM337.9 482.0H345.5V489.7H337.9zM231.2 489.7H238.8V497.4H231.2zM337.9 489.7H345.5V497.4H337.9zM223.6 497.4H231.2V505.1H223.6zM337.9 497.4H345.5V505.1H337.9zM223.6 505.1H231.2V512.9H223.6zM223.6 512.9H231.2V520.6H223.6zM223.6 528.3H231.2V536.0H223.6zM322.6 536.0H330.3V543.7H322.6zM223.6 543.7H231.2V551.5H223.6zM223.6 551.5H231.2V559.2H223.6zM307.4 551.5H315.0V559.2H307.4zM238.8 559.2H254.1V566.9H238.8zM269.3 559.2H284.5V566.9H269.3zM299.8 559.2H307.4V566.9H299.8z"/><path fill="#0038ff" d="M315.0 250.4H322.6V258.1H315.0zM299.8 258.1H315.0V265.8H299.8zM330.3 258.1H337.9V265.8H330.3zM276.9 273.5H292.2V281.3H276.9zM337.9 273.5H345.5V281.3H337.9zM261.7 281.3H269.3V289.0H261.7zM360.7 281.3H368.4V289.0H360.7zM254.1 296.7H261.7V304.4H254.1zM376.0 312.1H383.6V319.9H376.0zM368.4 319.9H383.6V327.6H368.4zM376.0 343.0H383.6V350.7H376.0zM383.6 373.9H391.2V381.6H383.6zM360.7 389.3H368.4V397.1H360.7zM238.8 397.1H246.4V404.8H238.8zM368.4 412.5H376.0V420.2H368.4zM231.2 427.9H246.4V435.7H231.2zM368.4 427.9H376.0V435.7H368.4zM231.2 443.4H238.8V451.1H231.2zM368.4 443.4H376.0V451.1H368.4zM345.5 458.8H353.1V466.5H345.5zM231.2 474.3H246.4V482.0H231.2zM330.3 482.0H337.9V489.7H330.3zM238.8 489.7H246.4V497.4H238.8zM330.3 489.7H337.9V497.4H330.3zM330.3 497.4H337.9V505.1H330.3zM231.2 505.1H238.8V512.9H231.2zM231.2 512.9H246.4V520.6H231.2zM322.6 512.9H337.9V520.6H322.6zM231.2 520.6H238.8V528.3H231.2zM322.6 520.6H337.9V528.3H322.6zM231.2 528.3H238.8V536.0H231.2zM315.0 528.3H322.6V536.0H315.0zM315.0 536.0H322.6V543.7H315.0zM238.8 543.7H246.4V551.5H238.8zM269.3 543.7H276.9V551.5H269.3zM284.5 543.7H292.2V551.5H284.5zM238.8 551.5H246.4V559.2H238.8zM261.7 551.5H269.3V559.2H261.7zM276.9 551.5H292.2V559.2H276.9zM315.0 551.5H322.6V559.2H315.0zM231.2 559.2H238.8V566.9H231.2zM261.7 559.2H269.3V566.9H261.7z"/><path fill="#0048ff" d="M322.6 250.4H337.9V258.1H322.6zM315.0 258.1H330.3V265.8H315.0zM337.9 258.1H345.5V265.8H337.9zM284.5 265.8H292.2V273.5H284.5zM337.9 265.8H345.5V273.5H337.9zM269.3 273.5H276.9V281.3H269.3zM345.5 273.5H353.1V281.3H345.5zM254.1 289.0H261.7V296.7H254.1zM368.4 289.0H376.0V296.7H368.4zM368.4 296.7H391.2V304.4H368.4zM254.1 304.4H261.7V312.1H254.1zM376.0 304.4H383.6V312.1H376.0zM254.1 319.9H261.7V327.6H254.1zM376.0 327.6H391.2V335.3H376.0zM376.0 335.3H383.6V343.0H376.0zM383.6 343.0H391.2V350.7H383.6zM246.4 350.7H254.1V358.5H246.4zM376.0 373.9H383.6V381.6H376.0zM246.4 381.6H254.1V389.3H246.4zM368.4 381.6H376.0V389.3H368.4zM246.4 397.1H254.1V404.8H246.4zM368.4 397.1H376.0V404.8H368.4zM231.2 420.2H238.8V427.9H231.2zM231.2 435.7H238.8V443.4H231.2zM376.0 443.4H383.6V451.1H376.0zM360.7 451.1H376.0V458.8H360.7zM231.2 458.8H238.8V466.5H231.2zM353.1 458.8H360.7V466.5H353.1zM353.1 466.5H360.7V474.3H353.1zM330.3 505.1H345.5V512.9H330.3zM322.6 528.3H330.3V536.0H322.6zM223.6 536.0H231.2V543.7H223.6zM231.2 543.7H238.8V551.5H231.2zM261.7 543.7H269.3V551.5H261.7zM315.0 543.7H322.6V551.5H315.0zM231.2 551.5H238.8V559.2H231.2zM246.4 551.5H261.7V559.2H246.4zM269.3 551.5H276.9V559.2H269.3zM292.2 551.5H307.4V559.2H292.2zM315.0 559.2H322.6V566.9H315.0z"/><path fill="#0028ff" d="M299.8 265.8H307.4V273.5H299.8zM330.3 265.8H337.9V273.5H330.3zM269.3 281.3H284.5V289.0H269.3zM345.5 281.3H360.7V289.0H345.5zM261.7 289.0H269.3V296.7H261.7zM353.1 289.0H368.4V296.7H353.1zM360.7 296.7H368.4V304.4H360.7zM360.7 319.9H368.4V327.6H360.7zM376.0 350.7H383.6V358.5H376.0zM368.4 358.5H376.0V366.2H368.4zM368.4 366.2H383.6V373.9H368.4zM353.1 397.1H368.4V404.8H353.1zM368.4 404.8H376.0V412.5H368.4zM353.1 412.5H368.4V420.2H353.1zM238.8 420.2H246.4V427.9H238.8zM353.1 420.2H368.4V427.9H353.1zM353.1 427.9H368.4V435.7H353.1zM238.8 435.7H246.4V443.4H238.8zM238.8 443.4H254.1V451.1H238.8zM353.1 451.1H360.7V458.8H353.1zM238.8 466.5H246.4V474.3H238.8zM330.3 466.5H337.9V474.3H330.3zM345.5 466.5H353.1V474.3H345.5zM322.6 474.3H330.3V482.0H322.6zM315.0 482.0H322.6V489.7H315.0zM231.2 497.4H254.1V505.1H231.2zM322.6 497.4H330.3V505.1H322.6zM238.8 505.1H246.4V512.9H238.8zM322.6 505.1H330.3V512.9H322.6zM315.0 520.6H322.6V528.3H315.0zM238.8 528.3H246.4V536.0H238.8zM299.8 528.3H307.4V536.0H299.8zM231.2 536.0H246.4V543.7H231.2zM246.4 543.7H254.1V551.5H246.4zM292.2 543.7H299.8V551.5H292.2z"/><path fill="#0018ff" d="M307.4 265.8H315.0V273.5H307.4zM322.6 265.8H330.3V273.5H322.6zM292.2 273.5H299.8V281.3H292.2zM307.4 273.5H322.6V281.3H307.4zM330.3 273.5H337.9V281.3H330.3zM284.5 281.3H292.2V289.0H284.5zM337.9 281.3H345.5V289.0H337.9zM276.9 289.0H292.2V296.7H276.9zM299.8 289.0H307.4V296.7H299.8zM276.9 296.7H284.5V304.4H276.9zM360.7 304.4H376.0V312.1H360.7zM368.4 312.1H376.0V319.9H368.4zM254.1 327.6H261.7V335.3H254.1zM360.7 327.6H376.0V335.3H360.7zM360.7 335.3H376.0V343.0H360.7zM353.1 343.0H360.7V350.7H353.1zM368.4 343.0H376.0V350.7H368.4zM353.1 350.7H376.0V358.5H353.1zM383.6 350.7H391.2V358.5H383.6zM345.5 358.5H353.1V366.2H345.5zM376.0 358.5H383.6V366.2H376.0zM353.1 373.9H376.0V381.6H353.1zM353.1 381.6H368.4V389.3H353.1zM345.5 389.3H353.1V397.1H345.5zM360.7 404.8H368.4V412.5H360.7zM246.4 412.5H254.1V420.2H246.4zM246.4 420.2H254.1V427.9H246.4zM345.5 420.2H353.1V427.9H345.5zM345.5 427.9H353.1V435.7H345.5zM246.4 435.7H254.1V443.4H246.4zM360.7 435.7H368.4V443.4H360.7zM345.5 443.4H353.1V451.1H345.5zM238.8 451.1H254.1V458.8H238.8zM345.5 451.1H353.1V458.8H345.5zM322.6 458.8H345.5V466.5H322.6zM246.4 466.5H254.1V474.3H246.4zM322.6 466.5H330.3V474.3H322.6zM315.0 474.3H322.6V482.0H315.0zM330.3 474.3H345.5V482.0H330.3zM238.8 482.0H254.1V489.7H238.8zM322.6 482.0H330.3V489.7H322.6zM254.1 489.7H261.7V497.4H254.1zM315.0 489.7H330.3V497.4H315.0zM315.0 497.4H322.6V505.1H315.0zM246.4 505.1H254.1V512.9H246.4zM246.4 512.9H254.1V520.6H246.4zM307.4 512.9H315.0V520.6H307.4zM238.8 520.6H246.4V528.3H238.8zM299.8 520.6H315.0V528.3H299.8zM246.4 528.3H254.1V536.0H246.4zM307.4 528.3H315.0V536.0H307.4zM246.4 536.0H254.1V543.7H246.4zM261.7 536.0H276.9V543.7H261.7zM299.8 536.0H307.4V543.7H299.8zM254.1 543.7H261.7V551.5H254.1zM276.9 543.7H284.5V551.5H276.9zM299.8 543.7H315.0V551.5H299.8z"/><path fill="#0008ff" d="M315.0 265.8H322.6V273.5H315.0zM299.8 273.5H307.4V281.3H299.8zM322.6 273.5H330.3V281.3H322.6zM292.2 281.3H299.8V289.0H292.2zM330.3 281.3H337.9V289.0H330.3zM322.6 289.0H330.3V296.7H322.6zM261.7 296.7H276.9V304.4H261.7zM330.3 296.7H360.7V304.4H330.3zM269.3 304.4H276.9V312.1H269.3zM322.6 304.4H330.3V312.1H322.6zM337.9 304.4H345.5V312.1H337.9zM353.1 304.4H360.7V312.1H353.1zM254.1 335.3H261.7V343.0H254.1zM353.1 335.3H360.7V343.0H353.1zM254.1 343.0H276.9V350.7H254.1zM360.7 343.0H368.4V350.7H360.7zM254.1 350.7H261.7V358.5H254.1zM254.1 358.5H261.7V366.2H254.1zM353.1 358.5H368.4V366.2H353.1zM345.5 366.2H368.4V373.9H345.5zM254.1 373.9H261.7V381.6H254.1zM330.3 381.6H337.9V389.3H330.3zM345.5 381.6H353.1V389.3H345.5zM353.1 389.3H360.7V397.1H353.1zM284.5 397.1H292.2V404.8H284.5zM337.9 397.1H353.1V404.8H337.9zM246.4 404.8H254.1V412.5H246.4zM261.7 412.5H269.3V420.2H261.7zM246.4 427.9H254.1V435.7H246.4zM353.1 435.7H360.7V443.4H353.1zM254.1 443.4H261.7V451.1H254.1zM315.0 443.4H330.3V451.1H315.0zM353.1 443.4H360.7V451.1H353.1zM322.6 451.1H330.3V458.8H322.6zM337.9 451.1H345.5V458.8H337.9zM238.8 458.8H261.7V466.5H238.8zM254.1 466.5H261.7V474.3H254.1zM315.0 466.5H322.6V474.3H315.0zM254.1 474.3H269.3V482.0H254.1zM292.2 474.3H299.8V482.0H292.2zM299.8 482.0H315.0V489.7H299.8zM246.4 489.7H254.1V497.4H246.4zM292.2 489.7H299.8V497.4H292.2zM307.4 489.7H315.0V497.4H307.4zM254.1 497.4H261.7V505.1H254.1zM307.4 497.4H315.0V505.1H307.4zM315.0 505.1H322.6V512.9H315.0zM299.8 512.9H307.4V520.6H299.8zM315.0 512.9H322.6V520.6H315.0zM246.4 520.6H254.1V528.3H246.4zM261.7 528.3H269.3V536.0H261.7zM276.9 528.3H292.2V536.0H276.9zM276.9 536.0H299.8V543.7H276.9zM307.4 536.0H315.0V543.7H307.4z"/><path fill="#0000f7" d="M299.8 281.3H315.0V289.0H299.8zM322.6 281.3H330.3V289.0H322.6zM269.3 289.0H276.9V296.7H269.3zM292.2 289.0H299.8V296.7H292.2zM307.4 289.0H315.0V296.7H307.4zM330.3 289.0H353.1V296.7H330.3zM284.5 296.7H292.2V304.4H284.5zM307.4 296.7H315.0V304.4H307.4zM322.6 296.7H330.3V304.4H322.6zM261.7 304.4H269.3V312.1H261.7zM330.3 304.4H337.9V312.1H330.3zM345.5 304.4H353.1V312.1H345.5zM261.7 312.1H269.3V319.9H261.7zM276.9 312.1H284.5V319.9H276.9zM315.0 312.1H322.6V319.9H315.0zM330.3 312.1H345.5V319.9H330.3zM353.1 312.1H368.4V319.9H353.1zM261.7 319.9H269.3V327.6H261.7zM292.2 319.9H299.8V327.6H292.2zM337.9 319.9H345.5V327.6H337.9zM353.1 319.9H360.7V327.6H353.1zM261.7 327.6H269.3V335.3H261.7zM337.9 327.6H353.1V335.3H337.9zM261.7 335.3H284.5V343.0H261.7zM345.5 335.3H353.1V343.0H345.5zM292.2 343.0H299.8V350.7H292.2zM330.3 343.0H345.5V350.7H330.3zM345.5 350.7H353.1V358.5H345.5zM269.3 358.5H276.9V366.2H269.3zM337.9 358.5H345.5V366.2H337.9zM254.1 366.2H269.3V373.9H254.1zM276.9 366.2H284.5V373.9H276.9zM261.7 373.9H269.3V381.6H261.7zM322.6 373.9H330.3V381.6H322.6zM337.9 373.9H353.1V381.6H337.9zM261.7 381.6H269.3V389.3H261.7zM284.5 381.6H292.2V389.3H284.5zM337.9 381.6H345.5V389.3H337.9zM254.1 389.3H269.3V397.1H254.1zM254.1 397.1H276.9V404.8H254.1zM254.1 404.8H276.9V412.5H254.1zM330.3 404.8H337.9V412.5H330.3zM345.5 404.8H360.7V412.5H345.5zM254.1 412.5H261.7V420.2H254.1zM292.2 412.5H299.8V420.2H292.2zM337.9 412.5H353.1V420.2H337.9zM254.1 420.2H269.3V427.9H254.1zM292.2 420.2H299.8V427.9H292.2zM337.9 420.2H345.5V427.9H337.9zM254.1 427.9H269.3V435.7H254.1zM322.6 427.9H330.3V435.7H322.6zM254.1 435.7H276.9V443.4H254.1zM330.3 435.7H337.9V443.4H330.3zM345.5 435.7H353.1V443.4H345.5zM269.3 443.4H276.9V451.1H269.3zM299.8 443.4H315.0V451.1H299.8zM330.3 443.4H337.9V451.1H330.3zM254.1 451.1H261.7V458.8H254.1zM269.3 451.1H276.9V458.8H269.3zM299.8 451.1H315.0V458.8H299.8zM299.8 458.8H315.0V466.5H299.8zM261.7 466.5H269.3V474.3H261.7zM307.4 466.5H315.0V474.3H307.4zM246.4 474.3H254.1V482.0H246.4zM299.8 474.3H307.4V482.0H299.8zM254.1 482.0H269.3V489.7H254.1zM292.2 482.0H299.8V489.7H292.2zM269.3 489.7H276.9V497.4H269.3zM284.5 489.7H292.2V497.4H284.5zM299.8 489.7H307.4V497.4H299.8zM269.3 497.4H276.9V505.1H269.3zM292.2 497.4H307.4V505.1H292.2zM254.1 505.1H261.7V512.9H254.1zM269.3 505.1H276.9V512.9H269.3zM292.2 505.1H307.4V512.9H292.2zM254.1 512.9H269.3V520.6H254.1zM284.5 512.9H299.8V520.6H284.5zM254.1 520.6H261.7V528.3H254.1zM284.5 520.6H299.8V528.3H284.5zM254.1 528.3H261.7V536.0H254.1zM269.3 528.3H276.9V536.0H269.3zM292.2 528.3H299.8V536.0H292.2zM254.1 536.0H261.7V543.7H254.1z"/><path fill="#0000e7" d="M315.0 281.3H322.6V289.0H315.0zM315.0 289.0H322.6V296.7H315.0zM292.2 296.7H299.8V304.4H292.2zM276.9 304.4H284.5V312.1H276.9zM299.8 304.4H307.4V312.1H299.8zM269.3 312.1H276.9V319.9H269.3zM299.8 312.1H307.4V319.9H299.8zM322.6 312.1H330.3V319.9H322.6zM269.3 319.9H284.5V327.6H269.3zM299.8 319.9H322.6V327.6H299.8zM345.5 319.9H353.1V327.6H345.5zM269.3 327.6H276.9V335.3H269.3zM307.4 327.6H315.0V335.3H307.4zM353.1 327.6H360.7V335.3H353.1zM315.0 335.3H322.6V343.0H315.0zM337.9 335.3H345.5V343.0H337.9zM276.9 343.0H284.5V350.7H276.9zM322.6 343.0H330.3V350.7H322.6zM345.5 343.0H353.1V350.7H345.5zM261.7 350.7H284.5V358.5H261.7zM292.2 350.7H307.4V358.5H292.2zM337.9 350.7H345.5V358.5H337.9zM261.7 358.5H269.3V366.2H261.7zM276.9 358.5H299.8V366.2H276.9zM322.6 358.5H337.9V366.2H322.6zM269.3 366.2H276.9V373.9H269.3zM284.5 366.2H292.2V373.9H284.5zM315.0 366.2H322.6V373.9H315.0zM337.9 366.2H345.5V373.9H337.9zM276.9 373.9H284.5V381.6H276.9zM292.2 373.9H299.8V381.6H292.2zM315.0 373.9H322.6V381.6H315.0zM330.3 373.9H337.9V381.6H330.3zM254.1 381.6H261.7V389.3H254.1zM276.9 381.6H284.5V389.3H276.9zM307.4 381.6H330.3V389.3H307.4zM269.3 389.3H284.5V397.1H269.3zM322.6 389.3H345.5V397.1H322.6zM292.2 397.1H315.0V404.8H292.2zM322.6 397.1H337.9V404.8H322.6zM284.5 404.8H292.2V412.5H284.5zM299.8 404.8H330.3V412.5H299.8zM337.9 404.8H345.5V412.5H337.9zM276.9 412.5H284.5V420.2H276.9zM299.8 412.5H307.4V420.2H299.8zM269.3 420.2H284.5V427.9H269.3zM322.6 420.2H330.3V427.9H322.6zM269.3 427.9H276.9V435.7H269.3zM299.8 427.9H307.4V435.7H299.8zM337.9 427.9H345.5V435.7H337.9zM276.9 435.7H284.5V443.4H276.9zM292.2 435.7H307.4V443.4H292.2zM315.0 435.7H330.3V443.4H315.0zM337.9 435.7H345.5V443.4H337.9zM261.7 443.4H269.3V451.1H261.7zM276.9 443.4H299.8V451.1H276.9zM337.9 443.4H345.5V451.1H337.9zM261.7 451.1H269.3V458.8H261.7zM276.9 451.1H284.5V458.8H276.9zM315.0 451.1H322.6V458.8H315.0zM269.3 458.8H284.5V466.5H269.3zM292.2 458.8H299.8V466.5H292.2zM315.0 458.8H322.6V466.5H315.0zM269.3 466.5H276.9V474.3H269.3zM284.5 466.5H307.4V474.3H284.5zM269.3 474.3H292.2V482.0H269.3zM307.4 474.3H315.0V482.0H307.4zM269.3 482.0H276.9V489.7H269.3zM284.5 482.0H292.2V489.7H284.5zM261.7 489.7H269.3V497.4H261.7zM276.9 489.7H284.5V497.4H276.9zM261.7 497.4H269.3V505.1H261.7zM284.5 505.1H292.2V512.9H284.5zM307.4 505.1H315.0V512.9H307.4zM261.7 520.6H284.5V528.3H261.7z"/><path fill="#0000d7" d="M299.8 296.7H307.4V304.4H299.8zM315.0 296.7H322.6V304.4H315.0zM284.5 304.4H292.2V312.1H284.5zM307.4 304.4H322.6V312.1H307.4zM284.5 312.1H299.8V319.9H284.5zM307.4 312.1H315.0V319.9H307.4zM345.5 312.1H353.1V319.9H345.5zM322.6 319.9H337.9V327.6H322.6zM276.9 327.6H307.4V335.3H276.9zM315.0 327.6H337.9V335.3H315.0zM284.5 335.3H307.4V343.0H284.5zM322.6 335.3H337.9V343.0H322.6zM299.8 343.0H307.4V350.7H299.8zM322.6 350.7H337.9V358.5H322.6zM299.8 358.5H322.6V366.2H299.8zM299.8 366.2H307.4V373.9H299.8zM322.6 366.2H330.3V373.9H322.6zM269.3 373.9H276.9V381.6H269.3zM284.5 373.9H292.2V381.6H284.5zM299.8 373.9H315.0V381.6H299.8zM269.3 381.6H276.9V389.3H269.3zM292.2 381.6H307.4V389.3H292.2zM299.8 389.3H322.6V397.1H299.8zM276.9 397.1H284.5V404.8H276.9zM276.9 404.8H284.5V412.5H276.9zM292.2 404.8H299.8V412.5H292.2zM269.3 412.5H276.9V420.2H269.3zM315.0 412.5H337.9V420.2H315.0zM299.8 420.2H315.0V427.9H299.8zM330.3 420.2H337.9V427.9H330.3zM276.9 427.9H292.2V435.7H276.9zM307.4 427.9H322.6V435.7H307.4zM330.3 427.9H337.9V435.7H330.3zM284.5 435.7H292.2V443.4H284.5zM307.4 435.7H315.0V443.4H307.4zM284.5 451.1H299.8V458.8H284.5zM330.3 451.1H337.9V458.8H330.3zM261.7 458.8H269.3V466.5H261.7zM276.9 466.5H284.5V474.3H276.9zM276.9 482.0H284.5V489.7H276.9zM276.9 497.4H292.2V505.1H276.9zM261.7 505.1H269.3V512.9H261.7zM276.9 505.1H284.5V512.9H276.9zM269.3 512.9H284.5V520.6H269.3z"/><path fill="#0000c7" d="M292.2 304.4H299.8V312.1H292.2zM284.5 319.9H292.2V327.6H284.5zM284.5 343.0H292.2V350.7H284.5zM307.4 343.0H315.0V350.7H307.4zM284.5 350.7H292.2V358.5H284.5zM307.4 350.7H315.0V358.5H307.4zM292.2 366.2H299.8V373.9H292.2zM307.4 366.2H315.0V373.9H307.4zM330.3 366.2H337.9V373.9H330.3zM284.5 389.3H299.8V397.1H284.5zM315.0 397.1H322.6V404.8H315.0zM284.5 420.2H292.2V427.9H284.5zM315.0 420.2H322.6V427.9H315.0zM292.2 427.9H299.8V435.7H292.2zM284.5 458.8H292.2V466.5H284.5z"/><path fill="#0000b7" d="M307.4 335.3H315.0V343.0H307.4zM315.0 343.0H322.6V350.7H315.0zM315.0 350.7H322.6V358.5H315.0zM284.5 412.5H292.2V420.2H284.5zM307.4 412.5H315.0V420.2H307.4z"/><path fill="#d7ff28" d="M406.5 435.7H414.1V443.4H406.5zM398.8 466.5H406.5V474.3H398.8zM398.8 482.0H406.5V489.7H398.8zM383.6 559.2H391.2V566.9H383.6z"/></g>
<path d="M252.8 264.8 L270.4 249.1 L292.0 245.2 L315.5 227.6 L327.3 235.4 L346.9 243.2 L360.6 257.0" fill="none" stroke="#000" stroke-width="1.0" stroke-linejoin="round"/><path d="M382.2 272.6 L390.0 284.4 L401.8 296.2 L401.8 311.9 L411.6 327.6 L401.8 335.4 L415.5 351.1 L405.7 358.9 L413.6 374.6" fill="none" stroke="#000" stroke-width="1.0" stroke-linejoin="round"/><path d="M390.0 398.1 L397.9 413.8 L390.0 421.7 L394.0 449.1 L382.2 464.8 L370.4 484.4 L354.7 492.3 L358.7 507.9 L350.8 527.6" fill="none" stroke="#000" stroke-width="1.0" stroke-linejoin="round"/><path d="M339.1 551.1 L335.1 576.6" fill="none" stroke="#000" stroke-width="1.0" stroke-linejoin="round"/><text x="359.4" y="264.8" font-size="13.5" text-anchor="middle" transform="rotate(28 359.4 260.1)" fill="#000">1.25</text><text x="403.4" y="384.0" font-size="13.5" text-anchor="middle" transform="rotate(-72 403.4 379.3)" fill="#000">1.25</text><text x="346.9" y="555.8" font-size="13.5" text-anchor="middle" transform="rotate(-65 346.9 551.1)" fill="#000">1.25</text><path d="M311.6 243.2 L315.5 239.3 L318.7 243.2 L314.7 247.2 L311.6 243.2" fill="none" stroke="#000" stroke-width="1.0" stroke-linejoin="round"/><path d="M382.2 266.8 L392.0 264.8 L384.2 268.7 L382.2 266.8" fill="none" stroke="#000" stroke-width="1.0" stroke-linejoin="round"/>
<use href="#land"/>
<g clip-path="url(#lc)" opacity="0.8"><use href="#grid"/></g>
</g>

<rect x="75.0" y="142.7" width="347.9" height="427.2" fill="none" stroke="#1a1a1a" stroke-width="1.3"/>
<use href="#lab"/>
<rect x="79.1" y="162.5" width="113.0" height="25.0" fill="url(#jet)" stroke="#111" stroke-width="1.2"/>
<text x="79.1" y="149.5" font-size="18.75" text-anchor="middle" font-weight="normal" fill="#3a3a3a">0</text>
<text x="135.6" y="149.5" font-size="18.75" text-anchor="middle" font-weight="normal" fill="#3a3a3a">2</text>
<text x="192.1" y="149.5" font-size="18.75" text-anchor="middle" font-weight="normal" fill="#3a3a3a">4</text>
<use href="#stars"/>
<use href="#km"/>
<text x="249.2" y="130.3" font-size="20.60" text-anchor="middle" font-weight="bold" fill="#000">GDOP TotalErrors (1.25)</text>
</g>
<g transform="translate(768.8 -0.1)">
<use href="#grid"/>
<g clip-path="url(#cp)">
<g shape-rendering="crispEdges"><path fill="#000097" d="M200.7 142.7H208.3V150.0H200.7zM414.1 142.7H421.7V150.0H414.1zM208.3 150.0H216.0V157.7H208.3zM414.1 165.5H421.7V173.2H414.1zM78.8 466.5H86.4V474.3H78.8zM94.0 474.3H101.7V482.0H94.0zM109.3 474.3H116.9V482.0H109.3zM414.1 528.3H421.7V536.0H414.1zM414.1 551.5H421.7V559.2H414.1zM414.1 559.2H421.7V566.9H414.1z"/><path fill="#0000b7" d="M208.3 142.7H216.0V150.0H208.3zM223.6 142.7H231.2V150.0H223.6zM337.9 142.7H353.1V150.0H337.9zM368.4 142.7H383.6V150.0H368.4zM406.5 142.7H414.1V150.0H406.5zM200.7 150.0H208.3V157.7H200.7zM216.0 150.0H223.6V157.7H216.0zM238.8 150.0H246.4V157.7H238.8zM383.6 150.0H391.2V157.7H383.6zM398.8 150.0H406.5V157.7H398.8zM208.3 157.7H223.6V165.5H208.3zM383.6 157.7H398.8V165.5H383.6zM345.5 165.5H353.1V173.2H345.5zM383.6 165.5H391.2V173.2H383.6zM406.5 165.5H414.1V173.2H406.5zM345.5 173.2H353.1V180.9H345.5zM406.5 173.2H414.1V180.9H406.5zM376.0 188.6H383.6V196.3H376.0zM216.0 196.3H223.6V204.1H216.0zM376.0 196.3H383.6V204.1H376.0zM414.1 211.8H421.7V219.5H414.1zM406.5 219.5H414.1V227.2H406.5zM216.0 227.2H223.6V234.9H216.0zM86.4 474.3H94.0V482.0H86.4zM78.8 482.0H86.4V489.7H78.8zM414.1 482.0H421.7V489.7H414.1zM86.4 512.9H94.0V520.6H86.4zM406.5 512.9H414.1V520.6H406.5zM78.8 520.6H86.4V528.3H78.8zM406.5 520.6H414.1V528.3H406.5zM78.8 528.3H86.4V536.0H78.8zM376.0 536.0H383.6V543.7H376.0zM398.8 536.0H406.5V543.7H398.8zM414.1 536.0H421.7V543.7H414.1zM101.7 543.7H109.3V551.5H101.7zM376.0 543.7H383.6V551.5H376.0zM391.2 543.7H398.8V551.5H391.2zM406.5 543.7H414.1V551.5H406.5zM383.6 551.5H406.5V559.2H383.6zM94.0 559.2H109.3V566.9H94.0zM254.1 559.2H261.7V566.9H254.1zM353.1 559.2H360.7V566.9H353.1zM368.4 559.2H376.0V566.9H368.4zM398.8 559.2H406.5V566.9H398.8zM94.0 566.9H101.7V569.9H94.0zM307.4 566.9H322.6V569.9H307.4zM360.7 566.9H368.4V569.9H360.7zM383.6 566.9H398.8V569.9H383.6z"/><path fill="#0000c7" d="M216.0 142.7H223.6V150.0H216.0zM238.8 142.7H246.4V150.0H238.8zM261.7 142.7H276.9V150.0H261.7zM315.0 142.7H322.6V150.0H315.0zM330.3 142.7H337.9V150.0H330.3zM353.1 142.7H368.4V150.0H353.1zM383.6 142.7H406.5V150.0H383.6zM231.2 150.0H238.8V157.7H231.2zM276.9 150.0H284.5V157.7H276.9zM322.6 150.0H330.3V157.7H322.6zM337.9 150.0H345.5V157.7H337.9zM353.1 150.0H360.7V157.7H353.1zM368.4 150.0H376.0V157.7H368.4zM414.1 150.0H421.7V157.7H414.1zM406.5 157.7H421.7V165.5H406.5zM208.3 165.5H216.0V173.2H208.3zM353.1 165.5H360.7V173.2H353.1zM391.2 165.5H406.5V173.2H391.2zM231.2 173.2H238.8V180.9H231.2zM353.1 173.2H376.0V180.9H353.1zM383.6 173.2H391.2V180.9H383.6zM398.8 173.2H406.5V180.9H398.8zM414.1 173.2H421.7V180.9H414.1zM238.8 180.9H246.4V188.6H238.8zM322.6 180.9H330.3V188.6H322.6zM345.5 180.9H353.1V188.6H345.5zM360.7 180.9H368.4V188.6H360.7zM391.2 180.9H398.8V188.6H391.2zM406.5 180.9H414.1V188.6H406.5zM368.4 188.6H376.0V196.3H368.4zM414.1 188.6H421.7V196.3H414.1zM391.2 196.3H414.1V204.1H391.2zM383.6 204.1H398.8V211.8H383.6zM414.1 204.1H421.7V211.8H414.1zM216.0 211.8H223.6V219.5H216.0zM391.2 211.8H414.1V219.5H391.2zM414.1 219.5H421.7V227.2H414.1zM398.8 234.9H406.5V242.7H398.8zM414.1 234.9H421.7V242.7H414.1zM414.1 242.7H421.7V250.4H414.1zM398.8 250.4H406.5V258.1H398.8zM414.1 258.1H421.7V265.8H414.1zM414.1 273.5H421.7V281.3H414.1zM414.1 420.2H421.7V427.9H414.1zM406.5 466.5H414.1V474.3H406.5zM116.9 474.3H124.5V482.0H116.9zM78.8 497.4H86.4V505.1H78.8zM398.8 497.4H414.1V505.1H398.8zM78.8 505.1H94.0V512.9H78.8zM78.8 512.9H86.4V520.6H78.8zM391.2 512.9H398.8V520.6H391.2zM414.1 512.9H421.7V520.6H414.1zM86.4 520.6H101.7V528.3H86.4zM414.1 520.6H421.7V528.3H414.1zM376.0 528.3H398.8V536.0H376.0zM406.5 528.3H414.1V536.0H406.5zM78.8 536.0H86.4V543.7H78.8zM94.0 536.0H109.3V543.7H94.0zM353.1 536.0H360.7V543.7H353.1zM345.5 543.7H353.1V551.5H345.5zM360.7 543.7H368.4V551.5H360.7zM414.1 543.7H421.7V551.5H414.1zM86.4 551.5H94.0V559.2H86.4zM276.9 551.5H284.5V559.2H276.9zM376.0 551.5H383.6V559.2H376.0zM299.8 559.2H307.4V566.9H299.8zM330.3 559.2H337.9V566.9H330.3zM376.0 559.2H383.6V566.9H376.0zM391.2 559.2H398.8V566.9H391.2zM406.5 559.2H414.1V566.9H406.5zM78.8 566.9H86.4V569.9H78.8zM116.9 566.9H124.5V569.9H116.9zM200.7 566.9H208.3V569.9H200.7zM269.3 566.9H276.9V569.9H269.3zM292.2 566.9H299.8V569.9H292.2zM368.4 566.9H376.0V569.9H368.4zM406.5 566.9H414.1V569.9H406.5z"/><path fill="#0000a7" d="M231.2 142.7H238.8V150.0H231.2zM223.6 150.0H231.2V157.7H223.6zM216.0 165.5H223.6V173.2H216.0zM398.8 180.9H406.5V188.6H398.8zM414.1 180.9H421.7V188.6H414.1zM101.7 474.3H109.3V482.0H101.7zM78.8 489.7H86.4V497.4H78.8zM86.4 497.4H94.0V505.1H86.4zM322.6 536.0H330.3V543.7H322.6zM406.5 536.0H414.1V543.7H406.5zM94.0 543.7H101.7V551.5H94.0zM383.6 543.7H391.2V551.5H383.6zM406.5 551.5H414.1V559.2H406.5zM78.8 559.2H86.4V566.9H78.8zM292.2 559.2H299.8V566.9H292.2zM383.6 559.2H391.2V566.9H383.6zM398.8 566.9H406.5V569.9H398.8zM414.1 566.9H421.7V569.9H414.1z"/><path fill="#0000d7" d="M246.4 142.7H254.1V150.0H246.4zM307.4 142.7H315.0V150.0H307.4zM246.4 150.0H254.1V157.7H246.4zM261.7 150.0H269.3V157.7H261.7zM284.5 150.0H292.2V157.7H284.5zM299.8 150.0H307.4V157.7H299.8zM315.0 150.0H322.6V157.7H315.0zM330.3 150.0H337.9V157.7H330.3zM360.7 150.0H368.4V157.7H360.7zM376.0 150.0H383.6V157.7H376.0zM391.2 150.0H398.8V157.7H391.2zM406.5 150.0H414.1V157.7H406.5zM223.6 157.7H238.8V165.5H223.6zM246.4 157.7H254.1V165.5H246.4zM292.2 157.7H315.0V165.5H292.2zM353.1 157.7H376.0V165.5H353.1zM238.8 165.5H246.4V173.2H238.8zM261.7 165.5H269.3V173.2H261.7zM315.0 165.5H322.6V173.2H315.0zM337.9 165.5H345.5V173.2H337.9zM360.7 165.5H376.0V173.2H360.7zM238.8 173.2H246.4V180.9H238.8zM376.0 173.2H383.6V180.9H376.0zM391.2 173.2H398.8V180.9H391.2zM231.2 180.9H238.8V188.6H231.2zM383.6 180.9H391.2V188.6H383.6zM353.1 188.6H360.7V196.3H353.1zM398.8 188.6H406.5V196.3H398.8zM223.6 196.3H231.2V204.1H223.6zM322.6 196.3H330.3V204.1H322.6zM414.1 196.3H421.7V204.1H414.1zM216.0 204.1H223.6V211.8H216.0zM231.2 204.1H238.8V211.8H231.2zM376.0 204.1H383.6V211.8H376.0zM406.5 204.1H414.1V211.8H406.5zM383.6 211.8H391.2V219.5H383.6zM368.4 219.5H376.0V227.2H368.4zM398.8 219.5H406.5V227.2H398.8zM376.0 227.2H383.6V234.9H376.0zM406.5 227.2H421.7V234.9H406.5zM406.5 242.7H414.1V250.4H406.5zM414.1 250.4H421.7V258.1H414.1zM398.8 258.1H406.5V265.8H398.8zM414.1 319.9H421.7V327.6H414.1zM406.5 412.5H414.1V420.2H406.5zM414.1 435.7H421.7V443.4H414.1zM376.0 458.8H383.6V466.5H376.0zM414.1 458.8H421.7V466.5H414.1zM406.5 482.0H414.1V489.7H406.5zM391.2 489.7H421.7V497.4H391.2zM376.0 497.4H383.6V505.1H376.0zM414.1 497.4H421.7V505.1H414.1zM360.7 505.1H368.4V512.9H360.7zM383.6 505.1H391.2V512.9H383.6zM406.5 505.1H421.7V512.9H406.5zM94.0 512.9H101.7V520.6H94.0zM368.4 512.9H376.0V520.6H368.4zM383.6 512.9H391.2V520.6H383.6zM398.8 512.9H406.5V520.6H398.8zM345.5 520.6H353.1V528.3H345.5zM376.0 520.6H391.2V528.3H376.0zM398.8 520.6H406.5V528.3H398.8zM86.4 528.3H109.3V536.0H86.4zM360.7 528.3H376.0V536.0H360.7zM398.8 528.3H406.5V536.0H398.8zM360.7 536.0H376.0V543.7H360.7zM391.2 536.0H398.8V543.7H391.2zM322.6 543.7H330.3V551.5H322.6zM337.9 543.7H345.5V551.5H337.9zM353.1 543.7H360.7V551.5H353.1zM368.4 543.7H376.0V551.5H368.4zM398.8 543.7H406.5V551.5H398.8zM78.8 551.5H86.4V559.2H78.8zM109.3 551.5H124.5V559.2H109.3zM132.1 551.5H139.8V559.2H132.1zM216.0 551.5H223.6V559.2H216.0zM315.0 551.5H330.3V559.2H315.0zM345.5 551.5H376.0V559.2H345.5zM86.4 559.2H94.0V566.9H86.4zM109.3 559.2H116.9V566.9H109.3zM139.8 559.2H147.4V566.9H139.8zM276.9 559.2H284.5V566.9H276.9zM337.9 559.2H353.1V566.9H337.9zM101.7 566.9H116.9V569.9H101.7zM124.5 566.9H132.1V569.9H124.5zM162.6 566.9H170.2V569.9H162.6zM193.1 566.9H200.7V569.9H193.1zM337.9 566.9H345.5V569.9H337.9zM353.1 566.9H360.7V569.9H353.1zM376.0 566.9H383.6V569.9H376.0z"/><path fill="#0000e7" d="M254.1 142.7H261.7V150.0H254.1zM276.9 142.7H292.2V150.0H276.9zM299.8 142.7H307.4V150.0H299.8zM292.2 150.0H299.8V157.7H292.2zM307.4 150.0H315.0V157.7H307.4zM254.1 157.7H261.7V165.5H254.1zM276.9 157.7H292.2V165.5H276.9zM315.0 157.7H322.6V165.5H315.0zM330.3 157.7H353.1V165.5H330.3zM376.0 157.7H383.6V165.5H376.0zM398.8 157.7H406.5V165.5H398.8zM246.4 165.5H261.7V173.2H246.4zM299.8 165.5H307.4V173.2H299.8zM376.0 165.5H383.6V173.2H376.0zM246.4 173.2H254.1V180.9H246.4zM299.8 173.2H315.0V180.9H299.8zM337.9 173.2H345.5V180.9H337.9zM276.9 180.9H284.5V188.6H276.9zM315.0 180.9H322.6V188.6H315.0zM337.9 180.9H345.5V188.6H337.9zM353.1 180.9H360.7V188.6H353.1zM376.0 180.9H383.6V188.6H376.0zM246.4 188.6H261.7V196.3H246.4zM345.5 188.6H353.1V196.3H345.5zM360.7 188.6H368.4V196.3H360.7zM383.6 188.6H398.8V196.3H383.6zM406.5 188.6H414.1V196.3H406.5zM231.2 196.3H254.1V204.1H231.2zM337.9 196.3H345.5V204.1H337.9zM383.6 196.3H391.2V204.1H383.6zM246.4 204.1H254.1V211.8H246.4zM368.4 204.1H376.0V211.8H368.4zM223.6 211.8H231.2V219.5H223.6zM360.7 211.8H376.0V219.5H360.7zM216.0 219.5H231.2V227.2H216.0zM353.1 219.5H368.4V227.2H353.1zM353.1 227.2H360.7V234.9H353.1zM391.2 227.2H406.5V234.9H391.2zM391.2 234.9H398.8V242.7H391.2zM223.6 242.7H231.2V250.4H223.6zM398.8 242.7H406.5V250.4H398.8zM376.0 258.1H383.6V265.8H376.0zM406.5 258.1H414.1V265.8H406.5zM391.2 265.8H398.8V273.5H391.2zM406.5 265.8H421.7V273.5H406.5zM406.5 273.5H414.1V281.3H406.5zM398.8 281.3H421.7V289.0H398.8zM414.1 289.0H421.7V296.7H414.1zM414.1 304.4H421.7V312.1H414.1zM406.5 312.1H421.7V319.9H406.5zM391.2 327.6H398.8V335.3H391.2zM414.1 335.3H421.7V343.0H414.1zM406.5 389.3H414.1V397.1H406.5zM398.8 397.1H406.5V404.8H398.8zM414.1 397.1H421.7V404.8H414.1zM200.7 412.5H208.3V420.2H200.7zM414.1 412.5H421.7V420.2H414.1zM406.5 420.2H414.1V427.9H406.5zM406.5 435.7H414.1V443.4H406.5zM391.2 443.4H398.8V451.1H391.2zM414.1 443.4H421.7V451.1H414.1zM398.8 451.1H406.5V458.8H398.8zM414.1 451.1H421.7V458.8H414.1zM398.8 466.5H406.5V474.3H398.8zM414.1 466.5H421.7V474.3H414.1zM383.6 474.3H391.2V482.0H383.6zM398.8 474.3H406.5V482.0H398.8zM376.0 482.0H383.6V489.7H376.0zM398.8 482.0H406.5V489.7H398.8zM368.4 489.7H376.0V497.4H368.4zM383.6 489.7H391.2V497.4H383.6zM94.0 497.4H109.3V505.1H94.0zM337.9 497.4H345.5V505.1H337.9zM383.6 497.4H398.8V505.1H383.6zM109.3 505.1H116.9V512.9H109.3zM353.1 505.1H360.7V512.9H353.1zM368.4 505.1H383.6V512.9H368.4zM391.2 505.1H406.5V512.9H391.2zM101.7 512.9H109.3V520.6H101.7zM360.7 512.9H368.4V520.6H360.7zM101.7 520.6H109.3V528.3H101.7zM368.4 520.6H376.0V528.3H368.4zM391.2 520.6H398.8V528.3H391.2zM124.5 528.3H132.1V536.0H124.5zM330.3 528.3H337.9V536.0H330.3zM353.1 528.3H360.7V536.0H353.1zM86.4 536.0H94.0V543.7H86.4zM116.9 536.0H124.5V543.7H116.9zM132.1 536.0H139.8V543.7H132.1zM383.6 536.0H391.2V543.7H383.6zM116.9 543.7H132.1V551.5H116.9zM223.6 543.7H231.2V551.5H223.6zM246.4 543.7H261.7V551.5H246.4zM276.9 543.7H284.5V551.5H276.9zM307.4 543.7H322.6V551.5H307.4zM330.3 543.7H337.9V551.5H330.3zM94.0 551.5H109.3V559.2H94.0zM124.5 551.5H132.1V559.2H124.5zM139.8 551.5H155.0V559.2H139.8zM307.4 551.5H315.0V559.2H307.4zM337.9 551.5H345.5V559.2H337.9zM132.1 559.2H139.8V566.9H132.1zM147.4 559.2H170.2V566.9H147.4zM177.9 559.2H193.1V566.9H177.9zM208.3 559.2H238.8V566.9H208.3zM269.3 559.2H276.9V566.9H269.3zM284.5 559.2H292.2V566.9H284.5zM360.7 559.2H368.4V566.9H360.7zM86.4 566.9H94.0V569.9H86.4zM208.3 566.9H216.0V569.9H208.3zM223.6 566.9H238.8V569.9H223.6zM254.1 566.9H261.7V569.9H254.1zM276.9 566.9H292.2V569.9H276.9zM330.3 566.9H337.9V569.9H330.3zM345.5 566.9H353.1V569.9H345.5z"/><path fill="#0000f7" d="M292.2 142.7H299.8V150.0H292.2zM269.3 150.0H276.9V157.7H269.3zM345.5 150.0H353.1V157.7H345.5zM238.8 157.7H246.4V165.5H238.8zM261.7 157.7H276.9V165.5H261.7zM322.6 157.7H330.3V165.5H322.6zM223.6 165.5H238.8V173.2H223.6zM269.3 165.5H284.5V173.2H269.3zM292.2 165.5H299.8V173.2H292.2zM322.6 165.5H337.9V173.2H322.6zM269.3 173.2H276.9V180.9H269.3zM284.5 173.2H292.2V180.9H284.5zM315.0 173.2H322.6V180.9H315.0zM330.3 173.2H337.9V180.9H330.3zM269.3 180.9H276.9V188.6H269.3zM307.4 180.9H315.0V188.6H307.4zM231.2 188.6H238.8V196.3H231.2zM276.9 188.6H284.5V196.3H276.9zM292.2 188.6H315.0V196.3H292.2zM337.9 188.6H345.5V196.3H337.9zM254.1 196.3H261.7V204.1H254.1zM315.0 196.3H322.6V204.1H315.0zM353.1 196.3H376.0V204.1H353.1zM223.6 204.1H231.2V211.8H223.6zM238.8 204.1H246.4V211.8H238.8zM337.9 204.1H368.4V211.8H337.9zM398.8 204.1H406.5V211.8H398.8zM231.2 211.8H238.8V219.5H231.2zM299.8 211.8H307.4V219.5H299.8zM353.1 211.8H360.7V219.5H353.1zM376.0 211.8H383.6V219.5H376.0zM231.2 219.5H238.8V227.2H231.2zM376.0 219.5H383.6V227.2H376.0zM360.7 227.2H368.4V234.9H360.7zM353.1 234.9H360.7V242.7H353.1zM368.4 234.9H383.6V242.7H368.4zM406.5 234.9H414.1V242.7H406.5zM376.0 242.7H398.8V250.4H376.0zM368.4 250.4H376.0V258.1H368.4zM383.6 250.4H398.8V258.1H383.6zM406.5 250.4H414.1V258.1H406.5zM391.2 258.1H398.8V265.8H391.2zM398.8 265.8H406.5V273.5H398.8zM391.2 273.5H398.8V281.3H391.2zM383.6 281.3H398.8V289.0H383.6zM398.8 289.0H414.1V296.7H398.8zM406.5 296.7H421.7V304.4H406.5zM398.8 304.4H414.1V312.1H398.8zM414.1 327.6H421.7V335.3H414.1zM391.2 335.3H398.8V343.0H391.2zM398.8 343.0H406.5V350.7H398.8zM414.1 350.7H421.7V358.5H414.1zM391.2 358.5H398.8V366.2H391.2zM406.5 358.5H414.1V366.2H406.5zM414.1 373.9H421.7V381.6H414.1zM406.5 381.6H414.1V389.3H406.5zM223.6 397.1H231.2V404.8H223.6zM391.2 404.8H398.8V412.5H391.2zM406.5 404.8H414.1V412.5H406.5zM383.6 412.5H391.2V420.2H383.6zM193.1 420.2H200.7V427.9H193.1zM398.8 420.2H406.5V427.9H398.8zM398.8 427.9H406.5V435.7H398.8zM414.1 427.9H421.7V435.7H414.1zM391.2 435.7H398.8V443.4H391.2zM398.8 443.4H406.5V451.1H398.8zM368.4 451.1H383.6V458.8H368.4zM391.2 451.1H398.8V458.8H391.2zM368.4 458.8H376.0V466.5H368.4zM383.6 458.8H414.1V466.5H383.6zM391.2 466.5H398.8V474.3H391.2zM337.9 474.3H345.5V482.0H337.9zM376.0 474.3H383.6V482.0H376.0zM391.2 474.3H398.8V482.0H391.2zM406.5 474.3H421.7V482.0H406.5zM360.7 482.0H368.4V489.7H360.7zM383.6 482.0H391.2V489.7H383.6zM360.7 489.7H368.4V497.4H360.7zM376.0 489.7H383.6V497.4H376.0zM109.3 497.4H116.9V505.1H109.3zM360.7 497.4H368.4V505.1H360.7zM94.0 505.1H109.3V512.9H94.0zM337.9 512.9H360.7V520.6H337.9zM376.0 512.9H383.6V520.6H376.0zM116.9 520.6H132.1V528.3H116.9zM337.9 520.6H345.5V528.3H337.9zM353.1 520.6H360.7V528.3H353.1zM132.1 528.3H139.8V536.0H132.1zM292.2 528.3H299.8V536.0H292.2zM315.0 528.3H330.3V536.0H315.0zM345.5 528.3H353.1V536.0H345.5zM109.3 536.0H116.9V543.7H109.3zM124.5 536.0H132.1V543.7H124.5zM299.8 536.0H307.4V543.7H299.8zM315.0 536.0H322.6V543.7H315.0zM330.3 536.0H345.5V543.7H330.3zM78.8 543.7H94.0V551.5H78.8zM109.3 543.7H116.9V551.5H109.3zM139.8 543.7H147.4V551.5H139.8zM162.6 543.7H170.2V551.5H162.6zM292.2 543.7H299.8V551.5H292.2zM170.2 551.5H177.9V559.2H170.2zM200.7 551.5H208.3V559.2H200.7zM223.6 551.5H231.2V559.2H223.6zM246.4 551.5H254.1V559.2H246.4zM292.2 551.5H307.4V559.2H292.2zM330.3 551.5H337.9V559.2H330.3zM116.9 559.2H132.1V566.9H116.9zM193.1 559.2H208.3V566.9H193.1zM246.4 559.2H254.1V566.9H246.4zM261.7 559.2H269.3V566.9H261.7zM307.4 559.2H315.0V566.9H307.4zM132.1 566.9H162.6V569.9H132.1zM170.2 566.9H177.9V569.9H170.2zM216.0 566.9H223.6V569.9H216.0zM238.8 566.9H254.1V569.9H238.8zM299.8 566.9H307.4V569.9H299.8z"/><path fill="#0008ff" d="M322.6 142.7H330.3V150.0H322.6zM284.5 165.5H292.2V173.2H284.5zM307.4 165.5H315.0V173.2H307.4zM261.7 173.2H269.3V180.9H261.7zM322.6 173.2H330.3V180.9H322.6zM246.4 180.9H254.1V188.6H246.4zM261.7 180.9H269.3V188.6H261.7zM284.5 180.9H299.8V188.6H284.5zM330.3 180.9H337.9V188.6H330.3zM238.8 188.6H246.4V196.3H238.8zM284.5 188.6H292.2V196.3H284.5zM322.6 188.6H330.3V196.3H322.6zM330.3 196.3H337.9V204.1H330.3zM345.5 196.3H353.1V204.1H345.5zM299.8 204.1H322.6V211.8H299.8zM238.8 211.8H246.4V219.5H238.8zM315.0 211.8H330.3V219.5H315.0zM345.5 211.8H353.1V219.5H345.5zM330.3 219.5H353.1V227.2H330.3zM383.6 219.5H391.2V227.2H383.6zM368.4 227.2H376.0V234.9H368.4zM383.6 227.2H391.2V234.9H383.6zM223.6 234.9H238.8V242.7H223.6zM360.7 234.9H368.4V242.7H360.7zM383.6 234.9H391.2V242.7H383.6zM360.7 242.7H376.0V250.4H360.7zM353.1 250.4H360.7V258.1H353.1zM376.0 250.4H383.6V258.1H376.0zM368.4 258.1H376.0V265.8H368.4zM383.6 258.1H391.2V265.8H383.6zM360.7 265.8H368.4V273.5H360.7zM376.0 265.8H383.6V273.5H376.0zM368.4 273.5H376.0V281.3H368.4zM383.6 273.5H391.2V281.3H383.6zM376.0 281.3H383.6V289.0H376.0zM383.6 289.0H391.2V296.7H383.6zM391.2 296.7H406.5V304.4H391.2zM376.0 304.4H383.6V312.1H376.0zM391.2 304.4H398.8V312.1H391.2zM398.8 312.1H406.5V319.9H398.8zM406.5 319.9H414.1V327.6H406.5zM383.6 327.6H391.2V335.3H383.6zM398.8 327.6H406.5V335.3H398.8zM398.8 335.3H414.1V343.0H398.8zM406.5 343.0H421.7V350.7H406.5zM383.6 350.7H398.8V358.5H383.6zM406.5 350.7H414.1V358.5H406.5zM414.1 358.5H421.7V366.2H414.1zM398.8 366.2H406.5V373.9H398.8zM414.1 366.2H421.7V373.9H414.1zM398.8 381.6H406.5V389.3H398.8zM414.1 381.6H421.7V389.3H414.1zM414.1 389.3H421.7V397.1H414.1zM406.5 397.1H414.1V404.8H406.5zM414.1 404.8H421.7V412.5H414.1zM208.3 412.5H216.0V420.2H208.3zM391.2 412.5H406.5V420.2H391.2zM383.6 427.9H391.2V435.7H383.6zM406.5 427.9H414.1V435.7H406.5zM383.6 435.7H391.2V443.4H383.6zM406.5 443.4H414.1V451.1H406.5zM383.6 451.1H391.2V458.8H383.6zM360.7 458.8H368.4V466.5H360.7zM353.1 466.5H368.4V474.3H353.1zM376.0 466.5H383.6V474.3H376.0zM124.5 474.3H132.1V482.0H124.5zM345.5 474.3H353.1V482.0H345.5zM353.1 482.0H360.7V489.7H353.1zM368.4 482.0H376.0V489.7H368.4zM345.5 489.7H360.7V497.4H345.5zM116.9 497.4H124.5V505.1H116.9zM322.6 497.4H337.9V505.1H322.6zM345.5 497.4H360.7V505.1H345.5zM368.4 497.4H376.0V505.1H368.4zM116.9 505.1H124.5V512.9H116.9zM322.6 505.1H330.3V512.9H322.6zM337.9 505.1H353.1V512.9H337.9zM109.3 512.9H116.9V520.6H109.3zM315.0 512.9H322.6V520.6H315.0zM330.3 512.9H337.9V520.6H330.3zM109.3 520.6H116.9V528.3H109.3zM276.9 520.6H284.5V528.3H276.9zM299.8 520.6H307.4V528.3H299.8zM322.6 520.6H337.9V528.3H322.6zM360.7 520.6H368.4V528.3H360.7zM109.3 528.3H124.5V536.0H109.3zM139.8 528.3H147.4V536.0H139.8zM155.0 528.3H162.6V536.0H155.0zM170.2 528.3H177.9V536.0H170.2zM223.6 528.3H238.8V536.0H223.6zM261.7 528.3H284.5V536.0H261.7zM307.4 528.3H315.0V536.0H307.4zM337.9 528.3H345.5V536.0H337.9zM139.8 536.0H155.0V543.7H139.8zM231.2 536.0H246.4V543.7H231.2zM261.7 536.0H269.3V543.7H261.7zM276.9 536.0H299.8V543.7H276.9zM307.4 536.0H315.0V543.7H307.4zM345.5 536.0H353.1V543.7H345.5zM132.1 543.7H139.8V551.5H132.1zM147.4 543.7H162.6V551.5H147.4zM177.9 543.7H185.5V551.5H177.9zM216.0 543.7H223.6V551.5H216.0zM231.2 543.7H238.8V551.5H231.2zM269.3 543.7H276.9V551.5H269.3zM284.5 543.7H292.2V551.5H284.5zM299.8 543.7H307.4V551.5H299.8zM155.0 551.5H170.2V559.2H155.0zM193.1 551.5H200.7V559.2H193.1zM231.2 551.5H238.8V559.2H231.2zM284.5 551.5H292.2V559.2H284.5zM170.2 559.2H177.9V566.9H170.2zM238.8 559.2H246.4V566.9H238.8zM315.0 559.2H330.3V566.9H315.0zM185.5 566.9H193.1V569.9H185.5zM261.7 566.9H269.3V569.9H261.7zM322.6 566.9H330.3V569.9H322.6z"/><path fill="#0018ff" d="M254.1 150.0H261.7V157.7H254.1zM254.1 173.2H261.7V180.9H254.1zM276.9 173.2H284.5V180.9H276.9zM292.2 173.2H299.8V180.9H292.2zM254.1 180.9H261.7V188.6H254.1zM368.4 180.9H376.0V188.6H368.4zM315.0 188.6H322.6V196.3H315.0zM330.3 188.6H337.9V196.3H330.3zM261.7 196.3H269.3V204.1H261.7zM276.9 196.3H284.5V204.1H276.9zM292.2 196.3H307.4V204.1H292.2zM269.3 204.1H276.9V211.8H269.3zM330.3 204.1H337.9V211.8H330.3zM284.5 211.8H292.2V219.5H284.5zM307.4 211.8H315.0V219.5H307.4zM330.3 211.8H345.5V219.5H330.3zM307.4 219.5H315.0V227.2H307.4zM322.6 219.5H330.3V227.2H322.6zM391.2 219.5H398.8V227.2H391.2zM223.6 227.2H246.4V234.9H223.6zM322.6 227.2H330.3V234.9H322.6zM337.9 227.2H353.1V234.9H337.9zM337.9 234.9H353.1V242.7H337.9zM231.2 242.7H238.8V250.4H231.2zM353.1 242.7H360.7V250.4H353.1zM345.5 250.4H353.1V258.1H345.5zM360.7 258.1H368.4V265.8H360.7zM368.4 265.8H376.0V273.5H368.4zM383.6 265.8H391.2V273.5H383.6zM360.7 273.5H368.4V281.3H360.7zM360.7 289.0H376.0V296.7H360.7zM368.4 296.7H383.6V304.4H368.4zM353.1 304.4H360.7V312.1H353.1zM376.0 312.1H383.6V319.9H376.0zM383.6 319.9H398.8V327.6H383.6zM376.0 327.6H383.6V335.3H376.0zM406.5 327.6H414.1V335.3H406.5zM383.6 335.3H391.2V343.0H383.6zM383.6 343.0H391.2V350.7H383.6zM398.8 350.7H406.5V358.5H398.8zM383.6 358.5H391.2V366.2H383.6zM398.8 358.5H406.5V366.2H398.8zM360.7 366.2H368.4V373.9H360.7zM398.8 373.9H414.1V381.6H398.8zM383.6 381.6H391.2V389.3H383.6zM391.2 389.3H406.5V397.1H391.2zM391.2 397.1H398.8V404.8H391.2zM216.0 404.8H223.6V412.5H216.0zM398.8 404.8H406.5V412.5H398.8zM376.0 412.5H383.6V420.2H376.0zM391.2 420.2H398.8V427.9H391.2zM360.7 427.9H368.4V435.7H360.7zM368.4 435.7H383.6V443.4H368.4zM398.8 435.7H406.5V443.4H398.8zM353.1 443.4H391.2V451.1H353.1zM406.5 451.1H414.1V458.8H406.5zM345.5 458.8H360.7V466.5H345.5zM368.4 466.5H376.0V474.3H368.4zM383.6 466.5H391.2V474.3H383.6zM322.6 474.3H337.9V482.0H322.6zM353.1 474.3H376.0V482.0H353.1zM315.0 482.0H322.6V489.7H315.0zM337.9 482.0H353.1V489.7H337.9zM322.6 489.7H330.3V497.4H322.6zM299.8 497.4H322.6V505.1H299.8zM276.9 505.1H284.5V512.9H276.9zM307.4 505.1H322.6V512.9H307.4zM330.3 505.1H337.9V512.9H330.3zM116.9 512.9H132.1V520.6H116.9zM139.8 512.9H147.4V520.6H139.8zM276.9 512.9H284.5V520.6H276.9zM292.2 512.9H299.8V520.6H292.2zM322.6 512.9H330.3V520.6H322.6zM139.8 520.6H147.4V528.3H139.8zM162.6 520.6H170.2V528.3H162.6zM238.8 520.6H246.4V528.3H238.8zM261.7 520.6H269.3V528.3H261.7zM284.5 520.6H299.8V528.3H284.5zM307.4 520.6H322.6V528.3H307.4zM147.4 528.3H155.0V536.0H147.4zM246.4 528.3H261.7V536.0H246.4zM299.8 528.3H307.4V536.0H299.8zM155.0 536.0H162.6V543.7H155.0zM177.9 536.0H193.1V543.7H177.9zM200.7 536.0H208.3V543.7H200.7zM216.0 536.0H231.2V543.7H216.0zM246.4 536.0H254.1V543.7H246.4zM269.3 536.0H276.9V543.7H269.3zM200.7 543.7H216.0V551.5H200.7zM238.8 543.7H246.4V551.5H238.8zM261.7 543.7H269.3V551.5H261.7zM177.9 551.5H193.1V559.2H177.9zM208.3 551.5H216.0V559.2H208.3zM254.1 551.5H261.7V559.2H254.1zM269.3 551.5H276.9V559.2H269.3zM177.9 566.9H185.5V569.9H177.9z"/><path fill="#000087" d="M208.3 173.2H231.2V180.9H208.3zM208.3 180.9H231.2V188.6H208.3zM208.3 188.6H231.2V196.3H208.3zM78.8 420.2H86.4V427.9H78.8zM78.8 474.3H86.4V482.0H78.8zM86.4 482.0H132.1V489.7H86.4zM86.4 489.7H132.1V497.4H86.4z"/><path fill="#0028ff" d="M299.8 180.9H307.4V188.6H299.8zM261.7 188.6H276.9V196.3H261.7zM269.3 196.3H276.9V204.1H269.3zM307.4 196.3H315.0V204.1H307.4zM254.1 204.1H261.7V211.8H254.1zM276.9 204.1H292.2V211.8H276.9zM322.6 204.1H330.3V211.8H322.6zM246.4 211.8H254.1V219.5H246.4zM261.7 211.8H284.5V219.5H261.7zM246.4 219.5H254.1V227.2H246.4zM269.3 219.5H292.2V227.2H269.3zM315.0 227.2H322.6V234.9H315.0zM299.8 234.9H307.4V242.7H299.8zM330.3 234.9H337.9V242.7H330.3zM315.0 242.7H330.3V250.4H315.0zM360.7 250.4H368.4V258.1H360.7zM231.2 258.1H238.8V265.8H231.2zM337.9 258.1H345.5V265.8H337.9zM322.6 265.8H330.3V273.5H322.6zM337.9 273.5H345.5V281.3H337.9zM353.1 273.5H360.7V281.3H353.1zM398.8 273.5H406.5V281.3H398.8zM353.1 281.3H360.7V289.0H353.1zM391.2 289.0H398.8V296.7H391.2zM360.7 296.7H368.4V304.4H360.7zM368.4 304.4H376.0V312.1H368.4zM391.2 312.1H398.8V319.9H391.2zM368.4 319.9H383.6V327.6H368.4zM398.8 319.9H406.5V327.6H398.8zM391.2 343.0H398.8V350.7H391.2zM376.0 350.7H383.6V358.5H376.0zM368.4 358.5H376.0V366.2H368.4zM383.6 366.2H398.8V373.9H383.6zM376.0 373.9H398.8V381.6H376.0zM368.4 381.6H383.6V389.3H368.4zM368.4 397.1H376.0V404.8H368.4zM383.6 397.1H391.2V404.8H383.6zM360.7 404.8H368.4V412.5H360.7zM376.0 404.8H391.2V412.5H376.0zM200.7 420.2H208.3V427.9H200.7zM360.7 420.2H368.4V427.9H360.7zM383.6 420.2H391.2V427.9H383.6zM185.5 427.9H193.1V435.7H185.5zM345.5 427.9H353.1V435.7H345.5zM391.2 427.9H398.8V435.7H391.2zM353.1 435.7H368.4V443.4H353.1zM337.9 443.4H345.5V451.1H337.9zM345.5 451.1H360.7V458.8H345.5zM330.3 458.8H337.9V466.5H330.3zM345.5 466.5H353.1V474.3H345.5zM284.5 482.0H292.2V489.7H284.5zM330.3 482.0H337.9V489.7H330.3zM391.2 482.0H398.8V489.7H391.2zM330.3 489.7H345.5V497.4H330.3zM124.5 497.4H132.1V505.1H124.5zM284.5 497.4H292.2V505.1H284.5zM124.5 505.1H155.0V512.9H124.5zM223.6 512.9H246.4V520.6H223.6zM254.1 512.9H261.7V520.6H254.1zM284.5 512.9H292.2V520.6H284.5zM299.8 512.9H315.0V520.6H299.8zM155.0 520.6H162.6V528.3H155.0zM200.7 520.6H208.3V528.3H200.7zM216.0 520.6H223.6V528.3H216.0zM231.2 520.6H238.8V528.3H231.2zM246.4 520.6H254.1V528.3H246.4zM269.3 520.6H276.9V528.3H269.3zM193.1 528.3H223.6V536.0H193.1zM238.8 528.3H246.4V536.0H238.8zM162.6 536.0H177.9V543.7H162.6zM193.1 536.0H200.7V543.7H193.1zM208.3 536.0H216.0V543.7H208.3zM254.1 536.0H261.7V543.7H254.1zM170.2 543.7H177.9V551.5H170.2zM185.5 543.7H200.7V551.5H185.5zM238.8 551.5H246.4V559.2H238.8zM261.7 551.5H269.3V559.2H261.7z"/><path fill="#0038ff" d="M284.5 196.3H292.2V204.1H284.5zM261.7 204.1H269.3V211.8H261.7zM292.2 204.1H299.8V211.8H292.2zM254.1 211.8H261.7V219.5H254.1zM292.2 211.8H299.8V219.5H292.2zM238.8 219.5H246.4V227.2H238.8zM315.0 219.5H322.6V227.2H315.0zM261.7 227.2H269.3V234.9H261.7zM299.8 227.2H315.0V234.9H299.8zM330.3 227.2H337.9V234.9H330.3zM330.3 242.7H353.1V250.4H330.3zM231.2 250.4H238.8V258.1H231.2zM330.3 258.1H337.9V265.8H330.3zM345.5 258.1H360.7V265.8H345.5zM337.9 265.8H345.5V273.5H337.9zM353.1 265.8H360.7V273.5H353.1zM345.5 273.5H353.1V281.3H345.5zM376.0 273.5H383.6V281.3H376.0zM345.5 281.3H353.1V289.0H345.5zM360.7 281.3H368.4V289.0H360.7zM376.0 289.0H383.6V296.7H376.0zM383.6 296.7H391.2V304.4H383.6zM360.7 304.4H368.4V312.1H360.7zM383.6 304.4H391.2V312.1H383.6zM360.7 312.1H376.0V319.9H360.7zM383.6 312.1H391.2V319.9H383.6zM368.4 327.6H376.0V335.3H368.4zM376.0 335.3H383.6V343.0H376.0zM360.7 343.0H376.0V350.7H360.7zM368.4 350.7H376.0V358.5H368.4zM376.0 358.5H383.6V366.2H376.0zM368.4 366.2H383.6V373.9H368.4zM406.5 366.2H414.1V373.9H406.5zM368.4 373.9H376.0V381.6H368.4zM360.7 381.6H368.4V389.3H360.7zM345.5 389.3H353.1V397.1H345.5zM376.0 397.1H383.6V404.8H376.0zM360.7 412.5H376.0V420.2H360.7zM208.3 420.2H216.0V427.9H208.3zM353.1 420.2H360.7V427.9H353.1zM368.4 420.2H383.6V427.9H368.4zM368.4 427.9H383.6V435.7H368.4zM177.9 435.7H185.5V443.4H177.9zM337.9 435.7H353.1V443.4H337.9zM322.6 443.4H330.3V451.1H322.6zM345.5 443.4H353.1V451.1H345.5zM360.7 451.1H368.4V458.8H360.7zM337.9 466.5H345.5V474.3H337.9zM307.4 474.3H322.6V482.0H307.4zM307.4 482.0H315.0V489.7H307.4zM322.6 482.0H330.3V489.7H322.6zM299.8 489.7H322.6V497.4H299.8zM269.3 497.4H284.5V505.1H269.3zM246.4 505.1H254.1V512.9H246.4zM261.7 505.1H276.9V512.9H261.7zM284.5 505.1H307.4V512.9H284.5zM132.1 512.9H139.8V520.6H132.1zM147.4 512.9H155.0V520.6H147.4zM177.9 512.9H193.1V520.6H177.9zM216.0 512.9H223.6V520.6H216.0zM246.4 512.9H254.1V520.6H246.4zM269.3 512.9H276.9V520.6H269.3zM132.1 520.6H139.8V528.3H132.1zM177.9 520.6H185.5V528.3H177.9zM208.3 520.6H216.0V528.3H208.3zM223.6 520.6H231.2V528.3H223.6zM254.1 520.6H261.7V528.3H254.1zM162.6 528.3H170.2V536.0H162.6zM177.9 528.3H193.1V536.0H177.9zM284.5 528.3H292.2V536.0H284.5z"/><path fill="#0058ff" d="M254.1 219.5H269.3V227.2H254.1zM246.4 227.2H254.1V234.9H246.4zM269.3 227.2H284.5V234.9H269.3zM238.8 234.9H254.1V242.7H238.8zM269.3 234.9H276.9V242.7H269.3zM315.0 234.9H322.6V242.7H315.0zM299.8 250.4H307.4V258.1H299.8zM322.6 258.1H330.3V265.8H322.6zM330.3 265.8H337.9V273.5H330.3zM337.9 281.3H345.5V289.0H337.9zM330.3 289.0H345.5V296.7H330.3zM330.3 296.7H345.5V304.4H330.3zM345.5 304.4H353.1V312.1H345.5zM345.5 319.9H353.1V327.6H345.5zM360.7 319.9H368.4V327.6H360.7zM345.5 327.6H353.1V335.3H345.5zM345.5 335.3H360.7V343.0H345.5zM353.1 366.2H360.7V373.9H353.1zM353.1 373.9H360.7V381.6H353.1zM353.1 381.6H360.7V389.3H353.1zM337.9 389.3H345.5V397.1H337.9zM353.1 389.3H368.4V397.1H353.1zM337.9 397.1H353.1V404.8H337.9zM223.6 404.8H231.2V412.5H223.6zM345.5 404.8H353.1V412.5H345.5zM216.0 412.5H223.6V420.2H216.0zM345.5 412.5H353.1V420.2H345.5zM330.3 427.9H337.9V435.7H330.3zM185.5 435.7H193.1V443.4H185.5zM322.6 435.7H337.9V443.4H322.6zM315.0 451.1H330.3V458.8H315.0zM315.0 458.8H322.6V466.5H315.0zM337.9 458.8H345.5V466.5H337.9zM322.6 466.5H330.3V474.3H322.6zM246.4 474.3H254.1V482.0H246.4zM292.2 474.3H299.8V482.0H292.2zM231.2 482.0H238.8V489.7H231.2zM254.1 482.0H261.7V489.7H254.1zM269.3 482.0H284.5V489.7H269.3zM132.1 489.7H139.8V497.4H132.1zM223.6 489.7H231.2V497.4H223.6zM261.7 489.7H292.2V497.4H261.7zM155.0 497.4H162.6V505.1H155.0zM208.3 497.4H216.0V505.1H208.3zM223.6 497.4H238.8V505.1H223.6zM246.4 497.4H261.7V505.1H246.4zM155.0 505.1H162.6V512.9H155.0zM170.2 505.1H177.9V512.9H170.2zM193.1 505.1H216.0V512.9H193.1zM223.6 505.1H238.8V512.9H223.6zM254.1 505.1H261.7V512.9H254.1zM155.0 512.9H170.2V520.6H155.0zM200.7 512.9H208.3V520.6H200.7zM170.2 520.6H177.9V528.3H170.2zM193.1 520.6H200.7V528.3H193.1z"/><path fill="#0048ff" d="M292.2 219.5H307.4V227.2H292.2zM284.5 227.2H299.8V234.9H284.5zM307.4 234.9H315.0V242.7H307.4zM322.6 234.9H330.3V242.7H322.6zM238.8 242.7H246.4V250.4H238.8zM315.0 250.4H345.5V258.1H315.0zM315.0 258.1H322.6V265.8H315.0zM231.2 265.8H238.8V273.5H231.2zM322.6 273.5H337.9V281.3H322.6zM368.4 281.3H376.0V289.0H368.4zM345.5 289.0H353.1V296.7H345.5zM345.5 296.7H360.7V304.4H345.5zM345.5 312.1H353.1V319.9H345.5zM353.1 319.9H360.7V327.6H353.1zM353.1 327.6H368.4V335.3H353.1zM368.4 335.3H376.0V343.0H368.4zM376.0 343.0H383.6V350.7H376.0zM360.7 350.7H368.4V358.5H360.7zM360.7 358.5H368.4V366.2H360.7zM391.2 381.6H398.8V389.3H391.2zM368.4 389.3H391.2V397.1H368.4zM231.2 397.1H238.8V404.8H231.2zM353.1 404.8H360.7V412.5H353.1zM368.4 404.8H376.0V412.5H368.4zM353.1 412.5H360.7V420.2H353.1zM200.7 427.9H208.3V435.7H200.7zM353.1 427.9H360.7V435.7H353.1zM330.3 443.4H337.9V451.1H330.3zM330.3 451.1H345.5V458.8H330.3zM322.6 458.8H330.3V466.5H322.6zM299.8 466.5H322.6V474.3H299.8zM330.3 466.5H337.9V474.3H330.3zM269.3 474.3H276.9V482.0H269.3zM292.2 482.0H307.4V489.7H292.2zM231.2 489.7H238.8V497.4H231.2zM246.4 489.7H254.1V497.4H246.4zM292.2 489.7H299.8V497.4H292.2zM132.1 497.4H147.4V505.1H132.1zM238.8 497.4H246.4V505.1H238.8zM261.7 497.4H269.3V505.1H261.7zM292.2 497.4H299.8V505.1H292.2zM177.9 505.1H185.5V512.9H177.9zM216.0 505.1H223.6V512.9H216.0zM238.8 505.1H246.4V512.9H238.8zM193.1 512.9H200.7V520.6H193.1zM261.7 512.9H269.3V520.6H261.7zM147.4 520.6H155.0V528.3H147.4zM185.5 520.6H193.1V528.3H185.5z"/><path fill="#0068ff" d="M254.1 227.2H261.7V234.9H254.1zM254.1 234.9H261.7V242.7H254.1zM276.9 234.9H284.5V242.7H276.9zM292.2 234.9H299.8V242.7H292.2zM246.4 242.7H254.1V250.4H246.4zM299.8 242.7H315.0V250.4H299.8zM307.4 250.4H315.0V258.1H307.4zM345.5 265.8H353.1V273.5H345.5zM330.3 281.3H337.9V289.0H330.3zM353.1 289.0H360.7V296.7H353.1zM330.3 312.1H345.5V319.9H330.3zM330.3 319.9H337.9V327.6H330.3zM330.3 327.6H337.9V335.3H330.3zM360.7 335.3H368.4V343.0H360.7zM337.9 350.7H353.1V358.5H337.9zM337.9 358.5H345.5V366.2H337.9zM360.7 373.9H368.4V381.6H360.7zM353.1 397.1H368.4V404.8H353.1zM337.9 404.8H345.5V412.5H337.9zM337.9 412.5H345.5V420.2H337.9zM322.6 420.2H330.3V427.9H322.6zM345.5 420.2H353.1V427.9H345.5zM193.1 427.9H200.7V435.7H193.1zM208.3 427.9H216.0V435.7H208.3zM322.6 427.9H330.3V435.7H322.6zM193.1 435.7H200.7V443.4H193.1zM200.7 443.4H216.0V451.1H200.7zM315.0 443.4H322.6V451.1H315.0zM269.3 458.8H276.9V466.5H269.3zM307.4 458.8H315.0V466.5H307.4zM269.3 466.5H276.9V474.3H269.3zM284.5 466.5H299.8V474.3H284.5zM276.9 474.3H284.5V482.0H276.9zM299.8 474.3H307.4V482.0H299.8zM132.1 482.0H139.8V489.7H132.1zM261.7 482.0H269.3V489.7H261.7zM208.3 489.7H216.0V497.4H208.3zM254.1 489.7H261.7V497.4H254.1zM147.4 497.4H155.0V505.1H147.4zM170.2 512.9H177.9V520.6H170.2zM208.3 512.9H216.0V520.6H208.3z"/><path fill="#0087ff" d="M261.7 234.9H269.3V242.7H261.7zM254.1 242.7H261.7V250.4H254.1zM284.5 242.7H292.2V250.4H284.5zM238.8 250.4H246.4V258.1H238.8zM292.2 258.1H307.4V265.8H292.2zM299.8 265.8H322.6V273.5H299.8zM307.4 273.5H322.6V281.3H307.4zM307.4 281.3H315.0V289.0H307.4zM322.6 358.5H337.9V366.2H322.6zM337.9 373.9H345.5V381.6H337.9zM330.3 404.8H337.9V412.5H330.3zM315.0 412.5H322.6V420.2H315.0zM307.4 427.9H315.0V435.7H307.4zM337.9 427.9H345.5V435.7H337.9zM200.7 435.7H208.3V443.4H200.7zM315.0 435.7H322.6V443.4H315.0zM170.2 443.4H177.9V451.1H170.2zM193.1 443.4H200.7V451.1H193.1zM299.8 443.4H307.4V451.1H299.8zM231.2 451.1H238.8V458.8H231.2zM276.9 451.1H284.5V458.8H276.9zM299.8 451.1H307.4V458.8H299.8zM238.8 458.8H246.4V466.5H238.8zM276.9 458.8H284.5V466.5H276.9zM299.8 458.8H307.4V466.5H299.8zM231.2 466.5H246.4V474.3H231.2zM254.1 474.3H261.7V482.0H254.1zM139.8 482.0H147.4V489.7H139.8zM223.6 482.0H231.2V489.7H223.6zM238.8 482.0H246.4V489.7H238.8zM139.8 489.7H155.0V497.4H139.8zM185.5 489.7H193.1V497.4H185.5zM216.0 489.7H223.6V497.4H216.0zM162.6 497.4H177.9V505.1H162.6zM200.7 497.4H208.3V505.1H200.7z"/><path fill="#0078ff" d="M284.5 234.9H292.2V242.7H284.5zM269.3 242.7H284.5V250.4H269.3zM292.2 242.7H299.8V250.4H292.2zM284.5 250.4H299.8V258.1H284.5zM307.4 258.1H315.0V265.8H307.4zM315.0 281.3H330.3V289.0H315.0zM322.6 289.0H330.3V296.7H322.6zM322.6 296.7H330.3V304.4H322.6zM322.6 304.4H345.5V312.1H322.6zM322.6 312.1H330.3V319.9H322.6zM353.1 312.1H360.7V319.9H353.1zM337.9 319.9H345.5V327.6H337.9zM337.9 327.6H345.5V335.3H337.9zM330.3 335.3H345.5V343.0H330.3zM330.3 343.0H360.7V350.7H330.3zM353.1 350.7H360.7V358.5H353.1zM345.5 358.5H360.7V366.2H345.5zM330.3 366.2H353.1V373.9H330.3zM345.5 373.9H353.1V381.6H345.5zM345.5 381.6H353.1V389.3H345.5zM330.3 389.3H337.9V397.1H330.3zM330.3 397.1H337.9V404.8H330.3zM330.3 412.5H337.9V420.2H330.3zM330.3 420.2H345.5V427.9H330.3zM315.0 427.9H322.6V435.7H315.0zM177.9 443.4H193.1V451.1H177.9zM284.5 443.4H292.2V451.1H284.5zM307.4 443.4H315.0V451.1H307.4zM269.3 451.1H276.9V458.8H269.3zM307.4 451.1H315.0V458.8H307.4zM292.2 458.8H299.8V466.5H292.2zM276.9 466.5H284.5V474.3H276.9zM223.6 474.3H246.4V482.0H223.6zM261.7 474.3H269.3V482.0H261.7zM284.5 474.3H292.2V482.0H284.5zM246.4 482.0H254.1V489.7H246.4zM238.8 489.7H246.4V497.4H238.8zM177.9 497.4H185.5V505.1H177.9zM216.0 497.4H223.6V505.1H216.0zM162.6 505.1H170.2V512.9H162.6zM185.5 505.1H193.1V512.9H185.5z"/><path fill="#00b7ff" d="M261.7 242.7H269.3V250.4H261.7zM246.4 250.4H254.1V258.1H246.4zM261.7 250.4H269.3V258.1H261.7zM238.8 258.1H246.4V265.8H238.8zM276.9 258.1H292.2V265.8H276.9zM292.2 273.5H299.8V281.3H292.2zM292.2 289.0H299.8V296.7H292.2zM299.8 296.7H307.4V304.4H299.8zM299.8 304.4H307.4V312.1H299.8zM299.8 319.9H315.0V327.6H299.8zM322.6 350.7H330.3V358.5H322.6zM307.4 366.2H322.6V373.9H307.4zM307.4 373.9H315.0V381.6H307.4zM322.6 373.9H330.3V381.6H322.6zM307.4 381.6H322.6V389.3H307.4zM322.6 389.3H330.3V397.1H322.6zM315.0 397.1H322.6V404.8H315.0zM307.4 404.8H315.0V412.5H307.4zM284.5 435.7H292.2V443.4H284.5zM216.0 443.4H223.6V451.1H216.0zM238.8 443.4H246.4V451.1H238.8zM177.9 451.1H193.1V458.8H177.9zM246.4 451.1H261.7V458.8H246.4zM185.5 458.8H200.7V466.5H185.5zM216.0 458.8H223.6V466.5H216.0zM261.7 458.8H269.3V466.5H261.7zM254.1 466.5H261.7V474.3H254.1zM185.5 474.3H193.1V482.0H185.5zM155.0 489.7H170.2V497.4H155.0z"/><path fill="#00c7ff" d="M254.1 250.4H261.7V258.1H254.1zM269.3 258.1H276.9V265.8H269.3zM276.9 265.8H284.5V273.5H276.9zM307.4 304.4H315.0V312.1H307.4zM292.2 312.1H307.4V319.9H292.2zM307.4 327.6H315.0V335.3H307.4zM299.8 343.0H307.4V350.7H299.8zM315.0 389.3H322.6V397.1H315.0zM307.4 412.5H315.0V420.2H307.4zM231.2 427.9H238.8V435.7H231.2zM299.8 427.9H307.4V435.7H299.8zM223.6 435.7H269.3V443.4H223.6zM276.9 435.7H284.5V443.4H276.9zM246.4 443.4H254.1V451.1H246.4zM261.7 451.1H269.3V458.8H261.7zM193.1 466.5H200.7V474.3H193.1zM185.5 482.0H193.1V489.7H185.5z"/><path fill="#00a7ff" d="M269.3 250.4H284.5V258.1H269.3zM284.5 265.8H292.2V273.5H284.5zM292.2 281.3H307.4V289.0H292.2zM299.8 289.0H315.0V296.7H299.8zM315.0 296.7H322.6V304.4H315.0zM315.0 304.4H322.6V312.1H315.0zM307.4 312.1H315.0V319.9H307.4zM322.6 319.9H330.3V327.6H322.6zM299.8 327.6H307.4V335.3H299.8zM315.0 327.6H322.6V335.3H315.0zM307.4 335.3H322.6V343.0H307.4zM315.0 343.0H330.3V350.7H315.0zM315.0 350.7H322.6V358.5H315.0zM322.6 366.2H330.3V373.9H322.6zM315.0 373.9H322.6V381.6H315.0zM337.9 381.6H345.5V389.3H337.9zM322.6 397.1H330.3V404.8H322.6zM307.4 420.2H315.0V427.9H307.4zM216.0 427.9H223.6V435.7H216.0zM292.2 435.7H307.4V443.4H292.2zM231.2 443.4H238.8V451.1H231.2zM261.7 443.4H269.3V451.1H261.7zM276.9 443.4H284.5V451.1H276.9zM292.2 443.4H299.8V451.1H292.2zM200.7 451.1H208.3V458.8H200.7zM284.5 451.1H292.2V458.8H284.5zM231.2 458.8H238.8V466.5H231.2zM208.3 466.5H231.2V474.3H208.3zM246.4 466.5H254.1V474.3H246.4zM200.7 474.3H208.3V482.0H200.7zM147.4 482.0H155.0V489.7H147.4zM193.1 482.0H208.3V489.7H193.1zM170.2 489.7H177.9V497.4H170.2zM193.1 489.7H200.7V497.4H193.1z"/><path fill="#00e7ff" d="M246.4 258.1H254.1V265.8H246.4zM261.7 258.1H269.3V265.8H261.7zM238.8 265.8H246.4V273.5H238.8zM269.3 265.8H276.9V273.5H269.3zM276.9 273.5H284.5V281.3H276.9zM284.5 281.3H292.2V289.0H284.5zM292.2 296.7H299.8V304.4H292.2zM284.5 319.9H292.2V327.6H284.5zM292.2 327.6H299.8V335.3H292.2zM299.8 358.5H307.4V366.2H299.8zM299.8 397.1H307.4V404.8H299.8zM231.2 404.8H238.8V412.5H231.2zM315.0 404.8H322.6V412.5H315.0zM299.8 412.5H307.4V420.2H299.8zM223.6 420.2H231.2V427.9H223.6zM238.8 427.9H254.1V435.7H238.8zM261.7 427.9H269.3V435.7H261.7zM162.6 451.1H170.2V458.8H162.6zM185.5 466.5H193.1V474.3H185.5zM177.9 482.0H185.5V489.7H177.9z"/><path fill="#28ffd7" d="M254.1 258.1H261.7V265.8H254.1zM261.7 265.8H269.3V273.5H261.7zM276.9 289.0H284.5V296.7H276.9zM276.9 304.4H284.5V312.1H276.9zM261.7 319.9H269.3V327.6H261.7zM254.1 327.6H261.7V335.3H254.1zM269.3 327.6H276.9V335.3H269.3zM269.3 335.3H276.9V343.0H269.3zM292.2 397.1H299.8V404.8H292.2zM276.9 412.5H284.5V420.2H276.9zM261.7 420.2H269.3V427.9H261.7zM254.1 427.9H261.7V435.7H254.1z"/><path fill="#38ffc7" d="M246.4 265.8H254.1V273.5H246.4zM269.3 273.5H276.9V281.3H269.3zM276.9 296.7H284.5V304.4H276.9zM269.3 312.1H276.9V319.9H269.3zM276.9 335.3H284.5V343.0H276.9zM261.7 343.0H276.9V350.7H261.7zM269.3 350.7H276.9V358.5H269.3zM284.5 366.2H299.8V373.9H284.5zM292.2 389.3H299.8V397.1H292.2zM284.5 404.8H292.2V412.5H284.5zM238.8 412.5H246.4V420.2H238.8zM254.1 420.2H261.7V427.9H254.1zM155.0 458.8H162.6V466.5H155.0z"/><path fill="#48ffb7" d="M254.1 265.8H261.7V273.5H254.1zM238.8 273.5H246.4V281.3H238.8zM254.1 319.9H261.7V327.6H254.1zM276.9 350.7H284.5V358.5H276.9zM292.2 373.9H299.8V381.6H292.2zM292.2 381.6H299.8V389.3H292.2zM238.8 404.8H246.4V412.5H238.8zM155.0 474.3H162.6V482.0H155.0z"/><path fill="#0097ff" d="M292.2 265.8H299.8V273.5H292.2zM299.8 273.5H307.4V281.3H299.8zM315.0 289.0H322.6V296.7H315.0zM307.4 296.7H315.0V304.4H307.4zM315.0 312.1H322.6V319.9H315.0zM322.6 327.6H330.3V335.3H322.6zM322.6 335.3H330.3V343.0H322.6zM330.3 350.7H337.9V358.5H330.3zM330.3 373.9H337.9V381.6H330.3zM322.6 381.6H337.9V389.3H322.6zM322.6 404.8H330.3V412.5H322.6zM223.6 412.5H231.2V420.2H223.6zM322.6 412.5H330.3V420.2H322.6zM216.0 420.2H223.6V427.9H216.0zM299.8 420.2H307.4V427.9H299.8zM315.0 420.2H322.6V427.9H315.0zM208.3 435.7H216.0V443.4H208.3zM307.4 435.7H315.0V443.4H307.4zM254.1 443.4H261.7V451.1H254.1zM269.3 443.4H276.9V451.1H269.3zM193.1 451.1H200.7V458.8H193.1zM216.0 451.1H231.2V458.8H216.0zM238.8 451.1H246.4V458.8H238.8zM292.2 451.1H299.8V458.8H292.2zM200.7 458.8H208.3V466.5H200.7zM223.6 458.8H231.2V466.5H223.6zM246.4 458.8H261.7V466.5H246.4zM284.5 458.8H292.2V466.5H284.5zM200.7 466.5H208.3V474.3H200.7zM261.7 466.5H269.3V474.3H261.7zM193.1 474.3H200.7V482.0H193.1zM208.3 474.3H223.6V482.0H208.3zM208.3 482.0H223.6V489.7H208.3zM177.9 489.7H185.5V497.4H177.9zM200.7 489.7H208.3V497.4H200.7zM185.5 497.4H200.7V505.1H185.5z"/><path fill="#a7ff58" d="M246.4 273.5H254.1V281.3H246.4z"/><path fill="#d7ff28" d="M254.1 273.5H261.7V281.3H254.1zM238.8 296.7H246.4V304.4H238.8zM269.3 366.2H276.9V373.9H269.3zM276.9 397.1H284.5V404.8H276.9zM269.3 404.8H276.9V412.5H269.3z"/><path fill="#97ff68" d="M261.7 273.5H269.3V281.3H261.7zM269.3 289.0H276.9V296.7H269.3zM269.3 358.5H276.9V366.2H269.3zM162.6 458.8H170.2V466.5H162.6zM155.0 466.5H162.6V474.3H155.0z"/><path fill="#00d7ff" d="M284.5 273.5H292.2V281.3H284.5zM284.5 289.0H292.2V296.7H284.5zM292.2 319.9H299.8V327.6H292.2zM315.0 319.9H322.6V327.6H315.0zM299.8 335.3H307.4V343.0H299.8zM307.4 343.0H315.0V350.7H307.4zM307.4 350.7H315.0V358.5H307.4zM307.4 358.5H322.6V366.2H307.4zM307.4 389.3H315.0V397.1H307.4zM307.4 397.1H315.0V404.8H307.4zM299.8 404.8H307.4V412.5H299.8zM292.2 420.2H299.8V427.9H292.2zM223.6 427.9H231.2V435.7H223.6zM292.2 427.9H299.8V435.7H292.2zM216.0 435.7H223.6V443.4H216.0zM269.3 435.7H276.9V443.4H269.3zM223.6 443.4H231.2V451.1H223.6zM170.2 451.1H177.9V458.8H170.2zM208.3 451.1H216.0V458.8H208.3zM177.9 458.8H185.5V466.5H177.9zM208.3 458.8H216.0V466.5H208.3zM155.0 482.0H162.6V489.7H155.0z"/><path fill="#fff700" d="M238.8 281.3H246.4V289.0H238.8zM254.1 404.8H261.7V412.5H254.1z"/><path fill="#ff2800" d="M246.4 281.3H254.1V289.0H246.4z"/><path fill="#e70000" d="M254.1 281.3H261.7V289.0H254.1z"/><path fill="#f7ff08" d="M261.7 281.3H269.3V289.0H261.7zM254.1 304.4H261.7V312.1H254.1zM276.9 373.9H284.5V381.6H276.9z"/><path fill="#68ff97" d="M269.3 281.3H276.9V289.0H269.3zM254.1 312.1H261.7V319.9H254.1zM261.7 350.7H269.3V358.5H261.7zM246.4 412.5H254.1V420.2H246.4zM269.3 412.5H276.9V420.2H269.3zM170.2 458.8H177.9V466.5H170.2zM162.6 474.3H170.2V482.0H162.6z"/><path fill="#00f7ff" d="M276.9 281.3H284.5V289.0H276.9zM284.5 304.4H292.2V312.1H284.5zM284.5 312.1H292.2V319.9H284.5zM276.9 319.9H284.5V327.6H276.9zM292.2 335.3H299.8V343.0H292.2zM284.5 343.0H292.2V350.7H284.5zM299.8 366.2H307.4V373.9H299.8zM299.8 381.6H307.4V389.3H299.8zM292.2 404.8H299.8V412.5H292.2zM284.5 412.5H299.8V420.2H284.5zM231.2 420.2H238.8V427.9H231.2zM284.5 420.2H292.2V427.9H284.5zM269.3 427.9H276.9V435.7H269.3zM284.5 427.9H292.2V435.7H284.5zM147.4 466.5H155.0V474.3H147.4zM177.9 466.5H185.5V474.3H177.9zM147.4 474.3H155.0V482.0H147.4zM177.9 474.3H185.5V482.0H177.9zM162.6 482.0H170.2V489.7H162.6z"/><path fill="#ffa700" d="M238.8 289.0H246.4V296.7H238.8z"/><path fill="#870000" d="M246.4 289.0H261.7V296.7H246.4zM254.1 381.6H269.3V389.3H254.1zM254.1 389.3H269.3V397.1H254.1z"/><path fill="#ffc700" d="M261.7 289.0H269.3V296.7H261.7zM246.4 397.1H254.1V404.8H246.4z"/><path fill="#ff5800" d="M246.4 296.7H254.1V304.4H246.4zM269.3 373.9H276.9V381.6H269.3z"/><path fill="#ff1800" d="M254.1 296.7H261.7V304.4H254.1zM254.1 397.1H261.7V404.8H254.1z"/><path fill="#ffe700" d="M261.7 296.7H269.3V304.4H261.7zM254.1 366.2H261.7V373.9H254.1zM276.9 389.3H284.5V397.1H276.9z"/><path fill="#87ff78" d="M269.3 296.7H276.9V304.4H269.3zM261.7 304.4H269.3V312.1H261.7z"/><path fill="#08fff7" d="M284.5 296.7H292.2V304.4H284.5zM292.2 304.4H299.8V312.1H292.2zM276.9 312.1H284.5V319.9H276.9zM269.3 319.9H276.9V327.6H269.3zM284.5 327.6H292.2V335.3H284.5zM254.1 335.3H261.7V343.0H254.1zM284.5 350.7H292.2V358.5H284.5zM299.8 350.7H307.4V358.5H299.8zM292.2 358.5H299.8V366.2H292.2zM299.8 373.9H307.4V381.6H299.8zM299.8 389.3H307.4V397.1H299.8zM238.8 420.2H246.4V427.9H238.8zM269.3 420.2H276.9V427.9H269.3zM276.9 427.9H284.5V435.7H276.9zM170.2 482.0H177.9V489.7H170.2z"/><path fill="#e7ff18" d="M246.4 304.4H254.1V312.1H246.4zM261.7 404.8H269.3V412.5H261.7z"/><path fill="#78ff87" d="M269.3 304.4H276.9V312.1H269.3zM254.1 350.7H261.7V358.5H254.1zM254.1 358.5H261.7V366.2H254.1zM276.9 358.5H284.5V366.2H276.9zM284.5 373.9H292.2V381.6H284.5zM284.5 389.3H292.2V397.1H284.5zM276.9 404.8H284.5V412.5H276.9zM254.1 412.5H269.3V420.2H254.1z"/><path fill="#58ffa7" d="M261.7 312.1H269.3V319.9H261.7zM254.1 343.0H261.7V350.7H254.1zM284.5 358.5H292.2V366.2H284.5zM284.5 397.1H292.2V404.8H284.5zM170.2 466.5H177.9V474.3H170.2z"/><path fill="#18ffe7" d="M261.7 327.6H269.3V335.3H261.7zM276.9 327.6H284.5V335.3H276.9zM261.7 335.3H269.3V343.0H261.7zM284.5 335.3H292.2V343.0H284.5zM276.9 343.0H284.5V350.7H276.9zM292.2 343.0H299.8V350.7H292.2zM292.2 350.7H299.8V358.5H292.2zM231.2 412.5H238.8V420.2H231.2zM246.4 420.2H254.1V427.9H246.4zM276.9 420.2H284.5V427.9H276.9zM170.2 474.3H177.9V482.0H170.2z"/><path fill="#c7ff38" d="M261.7 358.5H269.3V366.2H261.7zM246.4 404.8H254.1V412.5H246.4z"/><path fill="#ffb700" d="M261.7 366.2H269.3V373.9H261.7zM162.6 466.5H170.2V474.3H162.6z"/><path fill="#b7ff48" d="M276.9 366.2H284.5V373.9H276.9zM284.5 381.6H292.2V389.3H284.5zM238.8 397.1H246.4V404.8H238.8z"/><path fill="#c70000" d="M254.1 373.9H261.7V381.6H254.1zM269.3 381.6H276.9V389.3H269.3z"/><path fill="#970000" d="M261.7 373.9H269.3V381.6H261.7z"/><path fill="#ffd700" d="M276.9 381.6H284.5V389.3H276.9z"/><path fill="#b70000" d="M269.3 389.3H276.9V397.1H269.3z"/><path fill="#f70000" d="M261.7 397.1H269.3V404.8H261.7z"/><path fill="#ff9700" d="M269.3 397.1H276.9V404.8H269.3z"/></g>
<path d="M208.1 172.6 L223.7 172.6 L232.4 191.1 L235.5 196.2" fill="none" stroke="#000" stroke-width="1.0" stroke-linejoin="round"/><text x="227.7" y="206.0" font-size="13.5" text-anchor="middle" transform="rotate(-50 227.7 201.3)" fill="#000">3</text><path d="M223.0 206.8 L215.9 213.8" fill="none" stroke="#000" stroke-width="1.0" stroke-linejoin="round"/><path d="M372.8 142.5 L379.8 146.4" fill="none" stroke="#000" stroke-width="1.0" stroke-linejoin="round"/><text x="385.7" y="156.6" font-size="13.5" text-anchor="middle" transform="rotate(40 385.7 151.9)" fill="#000">3</text><path d="M391.6 157.4 L400.2 164.8 L410.0 188.3 L421.8 202.8" fill="none" stroke="#000" stroke-width="1.0" stroke-linejoin="round"/><path d="M74.7 468.7 L78.7 478.5" fill="none" stroke="#000" stroke-width="1.0" stroke-linejoin="round"/><text x="84.5" y="495.0" font-size="13.5" text-anchor="middle" transform="rotate(70 84.5 490.3)" fill="#000">3</text><path d="M89.6 498.1 L100.2 507.2 L110.0 500.9 L113.9 492.3 L123.7 482.5" fill="none" stroke="#000" stroke-width="1.0" stroke-linejoin="round"/><path d="M200.2 149.1 L204.9 144.0" fill="none" stroke="#000" stroke-width="1.0" stroke-linejoin="round"/><text x="203.4" y="153.3" font-size="12.0" text-anchor="middle" transform="rotate(-60 203.4 149.1)" fill="#000">3</text>
<use href="#land"/>
<g clip-path="url(#lc)" opacity="0.8"><use href="#grid"/></g>
</g>

<rect x="75.0" y="142.7" width="347.9" height="427.2" fill="none" stroke="#1a1a1a" stroke-width="1.3"/>
<use href="#lab"/>
<rect x="79.1" y="162.5" width="113.0" height="25.0" fill="url(#jet)" stroke="#111" stroke-width="1.2"/>
<text x="79.1" y="149.5" font-size="18.75" text-anchor="middle" font-weight="normal" fill="#3a3a3a">0</text>
<text x="168.4" y="149.5" font-size="18.75" text-anchor="middle" font-weight="normal" fill="#3a3a3a">50</text>
<use href="#stars"/>
<use href="#km"/>
<text x="249.2" y="130.3" font-size="20.60" text-anchor="middle" font-weight="bold" fill="#000">Number of Rads (3)</text>
</g>
<g transform="translate(1152.1 -0.1)">
<use href="#grid"/>
<g clip-path="url(#cp)">
<g shape-rendering="crispEdges"><path fill="#00dfff" d="M200.7 142.7H406.5V150.0H200.7zM200.7 150.0H414.1V157.7H200.7zM208.3 157.7H345.5V165.5H208.3zM360.7 157.7H421.7V165.5H360.7zM208.3 165.5H337.9V173.2H208.3zM360.7 165.5H421.7V173.2H360.7zM208.3 173.2H337.9V180.9H208.3zM360.7 173.2H421.7V180.9H360.7zM231.2 180.9H421.7V188.6H231.2zM231.2 188.6H307.4V196.3H231.2zM330.3 188.6H421.7V196.3H330.3zM216.0 196.3H299.8V204.1H216.0zM337.9 196.3H421.7V204.1H337.9zM216.0 204.1H292.2V211.8H216.0zM360.7 204.1H414.1V211.8H360.7zM216.0 211.8H284.5V219.5H216.0zM368.4 211.8H406.5V219.5H368.4zM216.0 219.5H284.5V227.2H216.0zM216.0 227.2H284.5V234.9H216.0zM223.6 234.9H269.3V242.7H223.6zM360.7 234.9H376.0V242.7H360.7zM223.6 242.7H261.7V250.4H223.6zM231.2 250.4H254.1V258.1H231.2zM231.2 258.1H246.4V265.8H231.2zM231.2 265.8H254.1V273.5H231.2zM238.8 273.5H254.1V281.3H238.8zM238.8 281.3H254.1V289.0H238.8zM238.8 289.0H254.1V296.7H238.8zM238.8 296.7H254.1V304.4H238.8zM246.4 304.4H254.1V312.1H246.4zM254.1 312.1H261.7V319.9H254.1zM223.6 397.1H238.8V404.8H223.6zM216.0 404.8H238.8V412.5H216.0zM200.7 412.5H231.2V420.2H200.7zM78.8 420.2H86.4V427.9H78.8zM193.1 420.2H231.2V427.9H193.1zM185.5 427.9H231.2V435.7H185.5zM177.9 435.7H231.2V443.4H177.9zM170.2 443.4H231.2V451.1H170.2zM414.1 443.4H421.7V451.1H414.1zM162.6 451.1H231.2V458.8H162.6zM398.8 451.1H421.7V458.8H398.8zM155.0 458.8H231.2V466.5H155.0zM398.8 458.8H421.7V466.5H398.8zM78.8 466.5H86.4V474.3H78.8zM147.4 466.5H231.2V474.3H147.4zM398.8 466.5H421.7V474.3H398.8zM78.8 474.3H94.0V482.0H78.8zM109.3 474.3H132.1V482.0H109.3zM147.4 474.3H231.2V482.0H147.4zM398.8 474.3H421.7V482.0H398.8zM78.8 482.0H101.7V489.7H78.8zM109.3 482.0H231.2V489.7H109.3zM406.5 482.0H421.7V489.7H406.5zM78.8 489.7H101.7V497.4H78.8zM109.3 489.7H223.6V497.4H109.3zM406.5 489.7H421.7V497.4H406.5zM78.8 497.4H223.6V505.1H78.8zM406.5 497.4H421.7V505.1H406.5zM78.8 505.1H223.6V512.9H78.8zM406.5 505.1H421.7V512.9H406.5zM78.8 512.9H223.6V520.6H78.8zM406.5 512.9H421.7V520.6H406.5zM78.8 520.6H223.6V528.3H78.8zM398.8 520.6H421.7V528.3H398.8zM78.8 528.3H223.6V536.0H78.8zM398.8 528.3H421.7V536.0H398.8zM78.8 536.0H223.6V543.7H78.8zM398.8 536.0H421.7V543.7H398.8zM78.8 543.7H223.6V551.5H78.8zM391.2 543.7H421.7V551.5H391.2zM78.8 551.5H223.6V559.2H78.8zM391.2 551.5H421.7V559.2H391.2zM78.8 559.2H223.6V566.9H78.8zM391.2 559.2H421.7V566.9H391.2zM78.8 566.9H223.6V569.9H78.8zM391.2 566.9H421.7V569.9H391.2z"/><path fill="#00008f" d="M406.5 142.7H421.7V150.0H406.5zM414.1 150.0H421.7V157.7H414.1zM208.3 180.9H231.2V188.6H208.3zM208.3 188.6H231.2V196.3H208.3zM94.0 474.3H109.3V482.0H94.0zM101.7 482.0H109.3V489.7H101.7zM101.7 489.7H109.3V497.4H101.7z"/><path fill="#ffcf00" d="M345.5 157.7H360.7V165.5H345.5zM337.9 165.5H360.7V173.2H337.9zM337.9 173.2H360.7V180.9H337.9zM307.4 188.6H330.3V196.3H307.4zM299.8 196.3H337.9V204.1H299.8zM292.2 204.1H360.7V211.8H292.2zM414.1 204.1H421.7V211.8H414.1zM284.5 211.8H368.4V219.5H284.5zM406.5 211.8H421.7V219.5H406.5zM284.5 219.5H421.7V227.2H284.5zM284.5 227.2H421.7V234.9H284.5zM269.3 234.9H360.7V242.7H269.3zM376.0 234.9H421.7V242.7H376.0zM261.7 242.7H421.7V250.4H261.7zM254.1 250.4H421.7V258.1H254.1zM246.4 258.1H421.7V265.8H246.4zM254.1 265.8H421.7V273.5H254.1zM254.1 273.5H421.7V281.3H254.1zM254.1 281.3H284.5V289.0H254.1zM307.4 281.3H421.7V289.0H307.4zM254.1 289.0H261.7V296.7H254.1zM269.3 289.0H284.5V296.7H269.3zM307.4 289.0H421.7V296.7H307.4zM254.1 296.7H261.7V304.4H254.1zM330.3 296.7H421.7V304.4H330.3zM254.1 304.4H261.7V312.1H254.1zM337.9 304.4H421.7V312.1H337.9zM261.7 312.1H276.9V319.9H261.7zM337.9 312.1H421.7V319.9H337.9zM254.1 319.9H261.7V327.6H254.1zM345.5 319.9H421.7V327.6H345.5zM254.1 327.6H261.7V335.3H254.1zM345.5 327.6H421.7V335.3H345.5zM254.1 335.3H261.7V343.0H254.1zM353.1 335.3H421.7V343.0H353.1zM254.1 343.0H261.7V350.7H254.1zM360.7 343.0H421.7V350.7H360.7zM254.1 350.7H261.7V358.5H254.1zM383.6 350.7H421.7V358.5H383.6zM383.6 358.5H421.7V366.2H383.6zM391.2 366.2H421.7V373.9H391.2zM391.2 373.9H421.7V381.6H391.2zM391.2 381.6H421.7V389.3H391.2zM398.8 389.3H421.7V397.1H398.8zM238.8 397.1H254.1V404.8H238.8zM398.8 397.1H421.7V404.8H398.8zM238.8 404.8H276.9V412.5H238.8zM398.8 404.8H421.7V412.5H398.8zM231.2 412.5H284.5V420.2H231.2zM398.8 412.5H421.7V420.2H398.8zM231.2 420.2H292.2V427.9H231.2zM398.8 420.2H421.7V427.9H398.8zM231.2 427.9H292.2V435.7H231.2zM398.8 427.9H421.7V435.7H398.8zM231.2 435.7H292.2V443.4H231.2zM398.8 435.7H421.7V443.4H398.8zM231.2 443.4H292.2V451.1H231.2zM398.8 443.4H414.1V451.1H398.8zM231.2 451.1H284.5V458.8H231.2zM231.2 458.8H284.5V466.5H231.2zM231.2 466.5H284.5V474.3H231.2zM376.0 466.5H398.8V474.3H376.0zM231.2 474.3H299.8V482.0H231.2zM360.7 474.3H398.8V482.0H360.7zM231.2 482.0H292.2V489.7H231.2zM353.1 482.0H406.5V489.7H353.1zM223.6 489.7H231.2V497.4H223.6zM330.3 489.7H406.5V497.4H330.3zM223.6 497.4H231.2V505.1H223.6zM315.0 497.4H406.5V505.1H315.0zM223.6 505.1H231.2V512.9H223.6zM292.2 505.1H406.5V512.9H292.2zM223.6 512.9H231.2V520.6H223.6zM254.1 512.9H406.5V520.6H254.1zM223.6 520.6H398.8V528.3H223.6zM223.6 528.3H398.8V536.0H223.6zM223.6 536.0H398.8V543.7H223.6zM223.6 543.7H391.2V551.5H223.6zM223.6 551.5H391.2V559.2H223.6zM223.6 559.2H391.2V566.9H223.6zM223.6 566.9H391.2V569.9H223.6z"/><path fill="#800000" d="M284.5 281.3H307.4V289.0H284.5zM261.7 289.0H269.3V296.7H261.7zM284.5 289.0H307.4V296.7H284.5zM261.7 296.7H330.3V304.4H261.7zM261.7 304.4H337.9V312.1H261.7zM276.9 312.1H337.9V319.9H276.9zM261.7 319.9H345.5V327.6H261.7zM261.7 327.6H345.5V335.3H261.7zM261.7 335.3H353.1V343.0H261.7zM261.7 343.0H360.7V350.7H261.7zM261.7 350.7H383.6V358.5H261.7zM254.1 358.5H383.6V366.2H254.1zM254.1 366.2H391.2V373.9H254.1zM254.1 373.9H391.2V381.6H254.1zM254.1 381.6H391.2V389.3H254.1zM254.1 389.3H398.8V397.1H254.1zM254.1 397.1H398.8V404.8H254.1zM276.9 404.8H398.8V412.5H276.9zM284.5 412.5H398.8V420.2H284.5zM292.2 420.2H398.8V427.9H292.2zM292.2 427.9H398.8V435.7H292.2zM292.2 435.7H398.8V443.4H292.2zM292.2 443.4H398.8V451.1H292.2zM284.5 451.1H398.8V458.8H284.5zM284.5 458.8H398.8V466.5H284.5zM284.5 466.5H376.0V474.3H284.5zM299.8 474.3H360.7V482.0H299.8zM292.2 482.0H353.1V489.7H292.2zM231.2 489.7H330.3V497.4H231.2zM231.2 497.4H315.0V505.1H231.2zM231.2 505.1H292.2V512.9H231.2zM231.2 512.9H254.1V520.6H231.2z"/></g>
<path d="M245.9 260.9 L261.6 247.2 L269.5 235.4 L283.2 233.4 L283.2 213.8 L298.9 202.8 L306.7 188.3 L330.3 188.3 L338.1 202.8 L353.8 204.0 L369.5 219.7 L398.9 219.7 L406.7 217.7 L423.6 194.2 L428.3 194.2 L428.3 443.2 L414.6 443.2 L406.7 451.1 L398.9 453.0 L398.9 476.6 L406.7 486.4 L406.7 519.7 L398.9 527.6 L398.9 543.2 L391.0 551.1 L391.0 574.6 L222.4 574.6 L222.4 496.2 L230.3 488.3 L230.3 419.7 L238.1 404.0" fill="none" stroke="#000" stroke-width="1.0" stroke-linejoin="round"/><path d="M245.9 260.9 L255.7 272.6 L255.7 282.5 L263.6 291.5 L255.7 309.9 L255.7 319.7" fill="none" stroke="#000" stroke-width="1.0" stroke-linejoin="round"/><path d="M255.7 335.4 L262.8 329.5" fill="none" stroke="#000" stroke-width="1.0" stroke-linejoin="round"/><path d="M340.1 166.8 L340.1 180.5 L351.8 180.5 L359.7 172.6 L353.8 166.0 L345.9 166.0" fill="none" stroke="#000" stroke-width="1.0" stroke-linejoin="round"/><path d="M354.6 243.2 L361.6 236.6 L371.4 236.6 L376.5 242.1 L370.3 249.9 L361.6 249.9 L354.6 243.2" fill="none" stroke="#000" stroke-width="1.0" stroke-linejoin="round"/><rect x="383.8" y="213.4" width="9" height="11" fill="none"/><text x="388.3" y="223.3" font-size="12.5" text-anchor="middle" transform="rotate(15 388.3 218.9)" fill="#000">2</text><rect x="359.1" y="229.1" width="9" height="11" fill="none"/><text x="363.6" y="239.0" font-size="12.5" text-anchor="middle" transform="rotate(0 363.6 234.6)" fill="#000">2</text><rect x="253.2" y="311.1" width="9" height="11" fill="none"/><text x="257.7" y="320.9" font-size="12.5" text-anchor="middle" transform="rotate(-80 257.7 316.6)" fill="#000">2</text><rect x="390.5" y="453.4" width="9" height="11" fill="none"/><text x="395.0" y="463.3" font-size="12.5" text-anchor="middle" transform="rotate(-80 395.0 458.9)" fill="#000">2</text><rect x="219.9" y="534.6" width="9" height="11" fill="none"/><text x="224.4" y="544.5" font-size="12.5" text-anchor="middle" transform="rotate(-85 224.4 540.1)" fill="#000">2</text><rect x="338.3" y="165.2" width="9" height="11" fill="none"/><text x="342.8" y="175.1" font-size="12.5" text-anchor="middle" transform="rotate(-80 342.8 170.7)" fill="#000">2</text>
<use href="#land"/>
<g clip-path="url(#lc)" opacity="0.8"><use href="#grid"/></g>
</g>

<rect x="75.0" y="142.7" width="347.9" height="427.2" fill="none" stroke="#1a1a1a" stroke-width="1.3"/>
<use href="#lab"/>
<rect x="79.1" y="162.5" width="113.0" height="25.0" fill="url(#jet)" stroke="#111" stroke-width="1.2"/>
<text x="79.1" y="149.5" font-size="18.75" text-anchor="middle" font-weight="normal" fill="#3a3a3a">0</text>
<text x="116.8" y="149.5" font-size="18.75" text-anchor="middle" font-weight="normal" fill="#3a3a3a">1</text>
<text x="154.4" y="149.5" font-size="18.75" text-anchor="middle" font-weight="normal" fill="#3a3a3a">2</text>
<text x="192.1" y="149.5" font-size="18.75" text-anchor="middle" font-weight="normal" fill="#3a3a3a">3</text>
<use href="#stars"/>
<use href="#km"/>
<text x="249.2" y="130.3" font-size="20.60" text-anchor="middle" font-weight="bold" fill="#000">Number of Sites (2)</text>
</g>
<g transform="translate(-0.1 600.0)">
<use href="#grid"/>
<g clip-path="url(#cp)">


<use href="#land"/>
<g clip-path="url(#lc)" opacity="0.8"><use href="#grid"/></g>
</g>
<path d="M235.3 292.4h0M232.9 285.7h0M230.4 278.9h0M227.9 272.1h0M225.5 265.4h0M223.0 258.6h0M220.6 251.8h0M218.1 245.1h0M215.6 238.3h0M213.2 231.5h0M235.9 292.2h0M234.1 285.3h0M232.2 278.3h0M230.3 271.4h0M228.5 264.4h0M226.6 257.5h0M224.8 250.5h0M222.9 243.6h0M221.0 236.6h0M219.2 229.7h0M217.3 222.7h0M215.4 215.7h0M213.6 208.8h0M211.7 201.8h0M209.8 194.9h0M208.0 187.9h0M206.1 181.0h0M204.3 174.0h0M202.4 167.1h0M200.5 160.1h0M198.7 153.2h0M196.8 146.2h0M236.5 292.1h0M235.3 285.0h0M234.0 277.9h0M232.8 270.8h0M231.5 263.7h0M230.3 256.7h0M229.0 249.6h0M227.8 242.5h0M226.5 235.4h0M225.3 228.3h0M224.0 221.2h0M222.8 214.1h0M221.5 207.0h0M220.3 199.9h0M219.0 192.8h0M217.8 185.8h0M216.5 178.7h0M215.3 171.6h0M214.0 164.5h0M212.8 157.4h0M211.5 150.3h0M210.3 143.2h0M237.2 292.0h0M236.5 284.9h0M235.9 277.7h0M235.3 270.5h0M234.7 263.3h0M234.0 256.2h0M233.4 249.0h0M232.8 241.8h0M232.2 234.6h0M231.5 227.5h0M230.9 220.3h0M230.3 213.1h0M229.6 206.0h0M229.0 198.8h0M228.4 191.6h0M227.8 184.4h0M227.1 177.3h0M226.5 170.1h0M225.9 162.9h0M225.2 155.7h0M224.6 148.6h0M237.8 292.0h0M237.8 284.8h0M237.8 277.6h0M237.8 270.4h0M237.8 263.2h0M237.8 256.0h0M237.8 248.8h0M237.8 241.6h0M237.8 234.4h0M237.8 227.2h0M237.8 220.0h0M237.8 212.8h0M237.8 205.6h0M237.8 198.4h0M237.8 191.2h0M237.8 184.0h0M237.8 176.8h0M237.8 169.6h0M237.8 162.4h0M237.8 155.2h0M237.8 148.0h0M238.4 292.0h0M239.1 284.9h0M239.7 277.7h0M240.3 270.5h0M240.9 263.3h0M241.6 256.2h0M242.2 249.0h0M242.8 241.8h0M243.4 234.6h0M244.1 227.5h0M244.7 220.3h0M245.3 213.1h0M246.0 206.0h0M246.6 198.8h0M247.2 191.6h0M247.8 184.4h0M248.5 177.3h0M249.1 170.1h0M249.7 162.9h0M250.4 155.7h0M251.0 148.6h0M239.1 292.1h0M240.3 285.0h0M241.6 277.9h0M242.8 270.8h0M244.1 263.7h0M245.3 256.7h0M246.6 249.6h0M247.8 242.5h0M249.1 235.4h0M250.3 228.3h0M251.6 221.2h0M252.8 214.1h0M254.1 207.0h0M255.3 199.9h0M256.6 192.8h0M257.8 185.8h0M259.1 178.7h0M260.3 171.6h0M261.6 164.5h0M262.8 157.4h0M264.1 150.3h0M265.3 143.2h0M239.7 292.2h0M241.5 285.3h0M243.4 278.3h0M245.3 271.4h0M247.1 264.4h0M249.0 257.5h0M250.8 250.5h0M252.7 243.6h0M254.6 236.6h0M256.4 229.7h0M258.3 222.7h0M260.2 215.7h0M262.0 208.8h0M263.9 201.8h0M265.8 194.9h0M267.6 187.9h0M269.5 181.0h0M271.3 174.0h0M273.2 167.1h0M275.1 160.1h0M276.9 153.2h0M278.8 146.2h0M240.3 292.4h0M242.7 285.7h0M245.2 278.9h0M247.7 272.1h0M250.1 265.4h0M252.6 258.6h0M255.0 251.8h0M257.5 245.1h0M260.0 238.3h0M262.4 231.5h0M264.9 224.8h0M267.4 218.0h0M269.8 211.2h0M272.3 204.5h0M274.7 197.7h0M277.2 190.9h0M279.7 184.2h0M282.1 177.4h0M284.6 170.7h0M287.1 163.9h0M289.5 157.1h0M292.0 150.4h0M294.4 143.6h0M240.8 292.7h0M243.9 286.1h0M246.9 279.6h0M250.0 273.1h0M253.0 266.6h0M256.1 260.0h0M259.1 253.5h0M262.1 247.0h0M265.2 240.5h0M268.2 233.9h0M271.3 227.4h0M274.3 220.9h0M277.4 214.4h0M280.4 207.8h0M283.4 201.3h0M286.5 194.8h0M289.5 188.3h0M292.6 181.7h0M295.6 175.2h0M298.7 168.7h0M301.7 162.2h0M304.7 155.6h0M307.8 149.1h0M241.4 293.0h0M245.0 286.7h0M248.6 280.5h0M252.2 274.3h0M255.8 268.0h0M259.4 261.8h0M263.0 255.6h0M266.6 249.3h0M270.2 243.1h0M273.8 236.8h0M277.4 230.6h0M281.0 224.4h0M284.6 218.1h0M288.2 211.9h0M291.8 205.7h0M295.4 199.4h0M299.0 193.2h0M302.6 187.0h0M306.2 180.7h0M309.8 174.5h0M313.4 168.3h0M317.0 162.0h0M320.6 155.8h0M324.2 149.6h0M327.8 143.3h0M241.9 293.3h0M246.1 287.4h0M250.2 281.5h0M254.3 275.6h0M258.4 269.7h0M262.6 263.8h0M266.7 257.9h0M270.8 252.0h0M275.0 246.1h0M279.1 240.2h0M283.2 234.3h0M287.4 228.4h0M291.5 222.5h0M295.6 216.6h0M299.7 210.7h0M303.9 204.8h0M308.0 198.9h0M312.1 193.0h0M316.3 187.1h0M320.4 181.2h0M324.5 175.3h0M328.7 169.4h0M332.8 163.5h0M336.9 157.7h0M341.0 151.8h0M345.2 145.9h0M242.4 293.7h0M247.1 288.2h0M251.7 282.7h0M256.3 277.1h0M260.9 271.6h0M265.6 266.1h0M270.2 260.6h0M274.8 255.1h0M279.5 249.6h0M284.1 244.0h0M288.7 238.5h0M293.3 233.0h0M298.0 227.5h0M302.6 222.0h0M307.2 216.5h0M311.8 211.0h0M316.5 205.4h0M321.1 199.9h0M325.7 194.4h0M330.4 188.9h0M335.0 183.4h0M339.6 177.9h0M344.2 172.3h0M348.9 166.8h0M353.5 161.3h0M358.1 155.8h0M362.8 150.3h0M367.4 144.8h0M242.9 294.1h0M248.0 289.0h0M253.1 283.9h0M258.2 278.8h0M263.3 273.7h0M268.3 268.7h0M273.4 263.6h0M278.5 258.5h0M283.6 253.4h0M288.7 248.3h0M293.8 243.2h0M298.9 238.1h0M304.0 233.0h0M309.1 227.9h0M314.2 222.8h0M319.3 217.7h0M324.3 212.7h0M329.4 207.6h0M334.5 202.5h0M339.6 197.4h0M344.7 192.3h0M349.8 187.2h0M354.9 182.1h0M360.0 177.0h0M365.1 171.9h0M370.2 166.8h0M375.3 161.7h0M380.4 156.6h0M385.4 151.6h0M390.5 146.5h0M243.3 294.6h0M248.8 289.9h0M254.3 285.3h0M259.9 280.7h0M265.4 276.1h0M270.9 271.4h0M276.4 266.8h0M281.9 262.2h0M287.4 257.5h0M293.0 252.9h0M298.5 248.3h0M304.0 243.7h0M309.5 239.0h0M315.0 234.4h0M320.5 229.8h0M326.0 225.2h0M331.6 220.5h0M337.1 215.9h0M342.6 211.3h0M348.1 206.6h0M353.6 202.0h0M359.1 197.4h0M364.7 192.8h0M370.2 188.1h0M375.7 183.5h0M381.2 178.9h0M386.7 174.2h0M392.2 169.6h0M397.8 165.0h0M403.3 160.4h0M408.8 155.7h0M414.3 151.1h0M419.8 146.5h0M243.7 295.1h0M249.6 290.9h0M255.5 286.8h0M261.4 282.7h0M267.3 278.6h0M273.2 274.4h0M279.1 270.3h0M285.0 266.2h0M290.9 262.0h0M296.8 257.9h0M302.7 253.8h0M308.6 249.6h0M314.5 245.5h0M320.4 241.4h0M326.3 237.3h0M332.2 233.1h0M338.1 229.0h0M344.0 224.9h0M349.9 220.7h0M355.8 216.6h0M361.7 212.5h0M367.6 208.3h0M373.5 204.2h0M379.3 200.1h0M385.2 196.0h0M391.1 191.8h0M397.0 187.7h0M402.9 183.6h0M408.8 179.4h0M414.7 175.3h0M420.6 171.2h0M244.0 295.6h0M250.3 292.0h0M256.5 288.4h0M262.7 284.8h0M269.0 281.2h0M275.2 277.6h0M281.4 274.0h0M287.7 270.4h0M293.9 266.8h0M300.2 263.2h0M306.4 259.6h0M312.6 256.0h0M318.9 252.4h0M325.1 248.8h0M331.3 245.2h0M337.6 241.6h0M343.8 238.0h0M350.0 234.4h0M356.3 230.8h0M362.5 227.2h0M368.7 223.6h0M375.0 220.0h0M381.2 216.4h0M387.4 212.8h0M393.7 209.2h0M399.9 205.6h0M406.2 202.0h0M412.4 198.4h0M418.6 194.8h0M244.3 296.2h0M250.9 293.1h0M257.4 290.1h0M263.9 287.0h0M270.4 284.0h0M277.0 280.9h0M283.5 277.9h0M290.0 274.9h0M296.5 271.8h0M303.1 268.8h0M309.6 265.7h0M316.1 262.7h0M322.6 259.6h0M329.2 256.6h0M335.7 253.6h0M342.2 250.5h0M348.7 247.5h0M355.3 244.4h0M361.8 241.4h0M368.3 238.3h0M374.8 235.3h0M381.4 232.3h0M387.9 229.2h0M394.4 226.2h0M400.9 223.1h0M407.5 220.1h0M414.0 217.0h0M420.5 214.0h0M244.6 296.7h0M251.3 294.3h0M258.1 291.8h0M264.9 289.3h0M271.6 286.9h0M278.4 284.4h0M285.2 282.0h0M291.9 279.5h0M298.7 277.0h0M305.5 274.6h0M312.2 272.1h0M319.0 269.6h0M325.8 267.2h0M332.5 264.7h0M339.3 262.3h0M346.1 259.8h0M352.8 257.3h0M359.6 254.9h0M366.3 252.4h0M373.1 249.9h0M379.9 247.5h0M386.6 245.0h0M393.4 242.6h0M400.2 240.1h0M406.9 237.6h0M413.7 235.2h0M420.5 232.7h0M244.8 297.3h0M251.7 295.5h0M258.7 293.6h0M265.6 291.7h0M272.6 289.9h0M279.5 288.0h0M286.5 286.2h0M293.4 284.3h0M300.4 282.4h0M307.3 280.6h0M314.3 278.7h0M321.3 276.8h0M328.2 275.0h0M335.2 273.1h0M342.1 271.2h0M349.1 269.4h0M356.0 267.5h0M363.0 265.7h0M369.9 263.8h0M376.9 261.9h0M383.8 260.1h0M390.8 258.2h0M397.8 256.3h0M404.7 254.5h0M411.7 252.6h0M418.6 250.7h0M244.9 297.9h0M252.0 296.7h0M259.1 295.4h0M266.2 294.2h0M273.3 292.9h0M280.3 291.7h0M287.4 290.4h0M294.5 289.2h0M301.6 287.9h0M308.7 286.7h0M315.8 285.4h0M322.9 284.2h0M330.0 282.9h0M337.1 281.7h0M344.2 280.4h0M351.2 279.2h0M358.3 277.9h0M365.4 276.7h0M372.5 275.4h0M379.6 274.2h0M386.7 272.9h0M393.8 271.7h0M400.9 270.4h0M408.0 269.2h0M415.1 267.9h0M422.2 266.7h0M245.0 298.6h0M252.1 297.9h0M259.3 297.3h0M266.5 296.7h0M273.7 296.1h0M280.8 295.4h0M288.0 294.8h0M295.2 294.2h0M302.4 293.6h0M309.5 292.9h0M316.7 292.3h0M323.9 291.7h0M331.0 291.0h0M338.2 290.4h0M345.4 289.8h0M352.6 289.2h0M359.7 288.5h0M366.9 287.9h0M374.1 287.3h0M381.3 286.6h0M388.4 286.0h0M395.6 285.4h0M402.8 284.8h0M409.9 284.1h0M417.1 283.5h0M245.0 299.2h0M252.2 299.2h0M259.4 299.2h0M266.6 299.2h0M273.8 299.2h0M281.0 299.2h0M288.2 299.2h0M295.4 299.2h0M302.6 299.2h0M309.8 299.2h0M317.0 299.2h0M324.2 299.2h0M331.4 299.2h0M338.6 299.2h0M345.8 299.2h0M353.0 299.2h0M360.2 299.2h0M367.4 299.2h0M374.6 299.2h0M381.8 299.2h0M389.0 299.2h0M396.2 299.2h0M403.4 299.2h0M410.6 299.2h0M417.8 299.2h0M245.0 299.8h0M252.1 300.5h0M259.3 301.1h0M266.5 301.7h0M273.7 302.3h0M280.8 303.0h0M288.0 303.6h0M295.2 304.2h0M302.4 304.8h0M309.5 305.5h0M316.7 306.1h0M323.9 306.7h0M331.0 307.4h0M338.2 308.0h0M345.4 308.6h0M352.6 309.2h0M359.7 309.9h0M366.9 310.5h0M374.1 311.1h0M381.3 311.8h0M388.4 312.4h0M395.6 313.0h0M402.8 313.6h0M409.9 314.3h0M417.1 314.9h0M244.9 300.5h0M252.0 301.7h0M259.1 303.0h0M266.2 304.2h0M273.3 305.5h0M280.3 306.7h0M287.4 308.0h0M294.5 309.2h0M301.6 310.5h0M308.7 311.7h0M315.8 313.0h0M322.9 314.2h0M330.0 315.5h0M337.1 316.7h0M344.2 318.0h0M351.2 319.2h0M358.3 320.5h0M365.4 321.7h0M372.5 323.0h0M379.6 324.2h0M386.7 325.5h0M393.8 326.7h0M400.9 328.0h0M408.0 329.2h0M415.1 330.5h0M422.2 331.7h0M244.8 301.1h0M251.7 302.9h0M258.7 304.8h0M265.6 306.7h0M272.6 308.5h0M279.5 310.4h0M286.5 312.2h0M293.4 314.1h0M300.4 316.0h0M307.3 317.8h0M314.3 319.7h0M321.3 321.6h0M328.2 323.4h0M335.2 325.3h0M342.1 327.2h0M349.1 329.0h0M356.0 330.9h0M363.0 332.7h0M369.9 334.6h0M376.9 336.5h0M383.8 338.3h0M390.8 340.2h0M397.8 342.1h0M404.7 343.9h0M411.7 345.8h0M418.6 347.7h0M244.6 301.7h0M251.3 304.1h0M258.1 306.6h0M264.9 309.1h0M271.6 311.5h0M278.4 314.0h0M285.2 316.4h0M291.9 318.9h0M298.7 321.4h0M305.5 323.8h0M312.2 326.3h0M319.0 328.8h0M325.8 331.2h0M332.5 333.7h0M339.3 336.1h0M346.1 338.6h0M352.8 341.1h0M359.6 343.5h0M366.3 346.0h0M373.1 348.5h0M379.9 350.9h0M386.6 353.4h0M393.4 355.8h0M400.2 358.3h0M406.9 360.8h0M413.7 363.2h0M420.5 365.7h0M244.3 302.2h0M250.9 305.3h0M257.4 308.3h0M263.9 311.4h0M270.4 314.4h0M277.0 317.5h0M283.5 320.5h0M290.0 323.5h0M296.5 326.6h0M303.1 329.6h0M309.6 332.7h0M316.1 335.7h0M322.6 338.8h0M329.2 341.8h0M335.7 344.8h0M342.2 347.9h0M348.7 350.9h0M355.3 354.0h0M361.8 357.0h0M368.3 360.1h0M374.8 363.1h0M381.4 366.1h0M387.9 369.2h0M394.4 372.2h0M400.9 375.3h0M407.5 378.3h0M414.0 381.4h0M420.5 384.4h0M244.0 302.8h0M250.3 306.4h0M256.5 310.0h0M262.7 313.6h0M269.0 317.2h0M275.2 320.8h0M281.4 324.4h0M287.7 328.0h0M293.9 331.6h0M300.2 335.2h0M306.4 338.8h0M312.6 342.4h0M318.9 346.0h0M325.1 349.6h0M331.3 353.2h0M337.6 356.8h0M343.8 360.4h0M350.0 364.0h0M356.3 367.6h0M362.5 371.2h0M368.7 374.8h0M375.0 378.4h0M381.2 382.0h0M387.4 385.6h0M393.7 389.2h0M399.9 392.8h0M406.2 396.4h0M412.4 400.0h0M418.6 403.6h0M243.7 303.3h0M249.6 307.5h0M255.5 311.6h0M261.4 315.7h0M267.3 319.8h0M273.2 324.0h0M279.1 328.1h0M285.0 332.2h0M290.9 336.4h0M296.8 340.5h0M302.7 344.6h0M308.6 348.8h0M314.5 352.9h0M320.4 357.0h0M326.3 361.1h0M332.2 365.3h0M338.1 369.4h0M344.0 373.5h0M349.9 377.7h0M355.8 381.8h0M361.7 385.9h0M367.6 390.1h0M373.5 394.2h0M379.3 398.3h0M385.2 402.4h0M391.1 406.6h0M397.0 410.7h0M402.9 414.8h0M408.8 419.0h0M414.7 423.1h0M420.6 427.2h0M243.3 303.8h0M248.8 308.5h0M254.3 313.1h0M259.9 317.7h0M265.4 322.3h0M270.9 327.0h0M276.4 331.6h0M281.9 336.2h0M287.4 340.9h0M293.0 345.5h0M298.5 350.1h0M304.0 354.7h0M309.5 359.4h0M315.0 364.0h0M320.5 368.6h0M326.0 373.2h0M331.6 377.9h0M337.1 382.5h0M342.6 387.1h0M348.1 391.8h0M353.6 396.4h0M359.1 401.0h0M364.7 405.6h0M370.2 410.3h0M375.7 414.9h0M381.2 419.5h0M386.7 424.2h0M392.2 428.8h0M397.8 433.4h0M403.3 438.0h0M408.8 442.7h0M414.3 447.3h0M419.8 451.9h0M242.9 304.3h0M248.0 309.4h0M253.1 314.5h0M258.2 319.6h0M263.3 324.7h0M268.3 329.7h0M273.4 334.8h0M278.5 339.9h0M283.6 345.0h0M288.7 350.1h0M293.8 355.2h0M298.9 360.3h0M304.0 365.4h0M309.1 370.5h0M314.2 375.6h0M319.3 380.7h0M324.3 385.7h0M329.4 390.8h0M334.5 395.9h0M339.6 401.0h0M344.7 406.1h0M349.8 411.2h0M354.9 416.3h0M360.0 421.4h0M365.1 426.5h0M370.2 431.6h0M375.3 436.7h0M380.4 441.8h0M385.4 446.8h0M390.5 451.9h0M395.6 457.0h0M400.7 462.1h0M405.8 467.2h0M410.9 472.3h0M416.0 477.4h0M421.1 482.5h0M242.4 304.7h0M247.1 310.2h0M251.7 315.7h0M256.3 321.3h0M260.9 326.8h0M265.6 332.3h0M270.2 337.8h0M274.8 343.3h0M279.5 348.8h0M284.1 354.4h0M288.7 359.9h0M293.3 365.4h0M298.0 370.9h0M302.6 376.4h0M307.2 381.9h0M311.8 387.4h0M316.5 393.0h0M321.1 398.5h0M325.7 404.0h0M330.4 409.5h0M335.0 415.0h0M339.6 420.5h0M344.2 426.1h0M348.9 431.6h0M353.5 437.1h0M358.1 442.6h0M362.8 448.1h0M367.4 453.6h0M372.0 459.2h0M376.6 464.7h0M381.3 470.2h0M385.9 475.7h0M390.5 481.2h0M395.2 486.7h0M399.8 492.2h0M404.4 497.8h0M409.0 503.3h0M241.9 305.1h0M246.1 311.0h0M250.2 316.9h0M254.3 322.8h0M258.4 328.7h0M262.6 334.6h0M266.7 340.5h0M270.8 346.4h0M275.0 352.3h0M279.1 358.2h0M283.2 364.1h0M287.4 370.0h0M291.5 375.9h0M295.6 381.8h0M299.7 387.7h0M303.9 393.6h0M308.0 399.5h0M312.1 405.4h0M316.3 411.3h0M320.4 417.2h0M324.5 423.1h0M328.7 429.0h0M332.8 434.9h0M336.9 440.7h0M341.0 446.6h0M345.2 452.5h0M349.3 458.4h0M353.4 464.3h0M357.6 470.2h0M361.7 476.1h0M365.8 482.0h0M370.0 487.9h0M374.1 493.8h0M378.2 499.7h0M382.3 505.6h0M386.5 511.5h0M390.6 517.4h0M241.4 305.4h0M245.0 311.7h0M248.6 317.9h0M252.2 324.1h0M255.8 330.4h0M259.4 336.6h0M263.0 342.8h0M266.6 349.1h0M270.2 355.3h0M273.8 361.6h0M277.4 367.8h0M281.0 374.0h0M284.6 380.3h0M288.2 386.5h0M291.8 392.7h0M295.4 399.0h0M299.0 405.2h0M302.6 411.4h0M306.2 417.7h0M309.8 423.9h0M313.4 430.1h0M317.0 436.4h0M320.6 442.6h0M324.2 448.8h0M327.8 455.1h0M331.4 461.3h0M335.0 467.6h0M338.6 473.8h0M342.2 480.0h0M345.8 486.3h0M349.4 492.5h0M353.0 498.7h0M356.6 505.0h0M360.2 511.2h0M363.8 517.4h0M367.4 523.7h0M371.0 529.9h0M246.9 318.8h0M250.0 325.3h0M253.0 331.8h0M256.1 338.4h0M259.1 344.9h0M262.1 351.4h0M265.2 357.9h0M268.2 364.5h0M271.3 371.0h0M274.3 377.5h0M277.4 384.0h0M280.4 390.6h0M283.4 397.1h0M286.5 403.6h0M289.5 410.1h0M292.6 416.7h0M295.6 423.2h0M298.7 429.7h0M301.7 436.2h0M304.7 442.8h0M307.8 449.3h0M310.8 455.8h0M313.9 462.3h0M316.9 468.9h0M320.0 475.4h0M323.0 481.9h0M326.0 488.4h0M329.1 495.0h0M332.1 501.5h0M335.2 508.0h0M338.2 514.5h0M341.3 521.1h0M344.3 527.6h0M347.3 534.1h0M350.4 540.6h0M75.0 212.7h0M75.0 219.7h0M75.0 226.7h0M75.0 233.7h0M75.0 240.7h0M75.0 247.7h0M75.0 254.7h0M75.0 261.7h0M75.0 268.7h0M75.0 275.7h0M75.0 282.7h0M75.0 289.7h0M75.0 296.7h0M75.0 303.7h0M75.0 310.7h0M75.0 317.7h0M75.0 324.7h0M75.0 331.7h0M75.0 338.7h0M75.0 345.7h0M75.0 352.7h0M75.0 359.7h0M75.0 366.7h0M75.0 373.7h0M75.0 380.7h0M75.0 387.7h0M75.0 394.7h0M75.0 401.7h0M300.0 142.7h0M307.2 142.7h0M314.4 142.7h0M321.6 142.7h0M328.8 142.7h0M336.0 142.7h0M343.2 142.7h0M350.4 142.7h0M357.6 142.7h0M364.8 142.7h0M372.0 142.7h0M379.2 142.7h0M386.4 142.7h0M393.6 142.7h0M400.8 142.7h0M408.0 142.7h0M415.2 142.7h0M422.4 142.7h0M422.9 162.7h0M422.9 173.7h0M422.9 184.7h0M422.9 195.7h0M422.9 206.7h0M422.9 217.7h0M422.9 228.7h0M422.9 239.7h0M422.9 250.7h0M422.9 261.7h0M422.9 272.7h0M422.9 283.7h0M422.9 294.7h0M422.9 305.7h0M422.9 316.7h0M422.9 327.7h0M422.9 338.7h0M422.9 349.7h0M422.9 360.7h0M422.9 371.7h0M422.9 382.7h0M422.9 393.7h0M422.9 404.7h0M422.9 415.7h0M422.9 426.7h0M422.9 437.7h0M422.9 448.7h0M422.9 459.7h0M422.9 470.7h0M422.9 481.7h0" fill="none" stroke="#ff0000" stroke-width="2.7" stroke-linecap="round"/><path d="M247.6 385.3h0M248.8 378.2h0M250.1 371.1h0M251.3 364.0h0M252.6 356.9h0M253.8 349.9h0M255.1 342.8h0M256.3 335.7h0M257.6 328.6h0M258.8 321.5h0M260.1 314.4h0M261.3 307.3h0M262.6 300.2h0M263.8 293.1h0M265.1 286.0h0M266.3 279.0h0M267.6 271.9h0M268.8 264.8h0M270.1 257.7h0M271.3 250.6h0M272.6 243.5h0M273.8 236.4h0M275.1 229.3h0M276.3 222.2h0M277.6 215.1h0M278.8 208.0h0M280.1 201.0h0M281.3 193.9h0M282.6 186.8h0M283.8 179.7h0M285.1 172.6h0M286.3 165.5h0M287.6 158.4h0M288.8 151.3h0M290.1 144.2h0M248.2 385.4h0M250.0 378.5h0M251.9 371.5h0M253.8 364.6h0M255.6 357.6h0M257.5 350.7h0M259.3 343.7h0M261.2 336.8h0M263.1 329.8h0M264.9 322.9h0M266.8 315.9h0M268.7 308.9h0M270.5 302.0h0M272.4 295.0h0M274.3 288.1h0M276.1 281.1h0M278.0 274.2h0M279.8 267.2h0M281.7 260.3h0M283.6 253.3h0M285.4 246.4h0M287.3 239.4h0M289.2 232.4h0M291.0 225.5h0M292.9 218.5h0M294.8 211.6h0M296.6 204.6h0M298.5 197.7h0M300.3 190.7h0M302.2 183.8h0M304.1 176.8h0M305.9 169.9h0M307.8 162.9h0M309.7 155.9h0M311.5 149.0h0M248.8 385.6h0M251.2 378.9h0M253.7 372.1h0M256.2 365.3h0M258.6 358.6h0M261.1 351.8h0M263.5 345.0h0M266.0 338.3h0M268.5 331.5h0M270.9 324.7h0M273.4 318.0h0M275.9 311.2h0M278.3 304.4h0M280.8 297.7h0M283.2 290.9h0M285.7 284.1h0M288.2 277.4h0M290.6 270.6h0M293.1 263.9h0M295.6 257.1h0M298.0 250.3h0M300.5 243.6h0M302.9 236.8h0M305.4 230.0h0M307.9 223.3h0M310.3 216.5h0M312.8 209.7h0M315.3 203.0h0M317.7 196.2h0M320.2 189.4h0M322.6 182.7h0M325.1 175.9h0M327.6 169.1h0M330.0 162.4h0M332.5 155.6h0M335.0 148.8h0M249.3 385.9h0M252.4 379.3h0M255.4 372.8h0M258.5 366.3h0M261.5 359.8h0M264.6 353.2h0M267.6 346.7h0M270.6 340.2h0M273.7 333.7h0M276.7 327.1h0M279.8 320.6h0M282.8 314.1h0M285.9 307.6h0M288.9 301.0h0M291.9 294.5h0M295.0 288.0h0M298.0 281.5h0M301.1 274.9h0M304.1 268.4h0M307.2 261.9h0M310.2 255.4h0M313.2 248.8h0M316.3 242.3h0M319.3 235.8h0M322.4 229.3h0M325.4 222.7h0M328.5 216.2h0M331.5 209.7h0M334.5 203.2h0M337.6 196.6h0M340.6 190.1h0M343.7 183.6h0M346.7 177.1h0M349.8 170.5h0M352.8 164.0h0M355.8 157.5h0M358.9 151.0h0M249.9 386.2h0M253.5 379.9h0M257.1 373.7h0M260.7 367.5h0M264.3 361.2h0M267.9 355.0h0M271.5 348.8h0M275.1 342.5h0M278.7 336.3h0M282.3 330.0h0M285.9 323.8h0M289.5 317.6h0M293.1 311.3h0M296.7 305.1h0M300.3 298.9h0M303.9 292.6h0M307.5 286.4h0M311.1 280.2h0M314.7 273.9h0M318.3 267.7h0M321.9 261.5h0M325.5 255.2h0M329.1 249.0h0M332.7 242.8h0M336.3 236.5h0M339.9 230.3h0M343.5 224.0h0M347.1 217.8h0M350.7 211.6h0M354.3 205.3h0M357.9 199.1h0M361.5 192.9h0M365.1 186.6h0M368.7 180.4h0M372.3 174.2h0M375.9 167.9h0M379.5 161.7h0M250.4 386.5h0M254.6 380.6h0M258.7 374.7h0M262.8 368.8h0M266.9 362.9h0M271.1 357.0h0M275.2 351.1h0M279.3 345.2h0M283.5 339.3h0M287.6 333.4h0M291.7 327.5h0M295.9 321.6h0M300.0 315.7h0M304.1 309.8h0M308.2 303.9h0M312.4 298.0h0M316.5 292.1h0M320.6 286.2h0M324.8 280.3h0M328.9 274.4h0M333.0 268.5h0M337.2 262.6h0M341.3 256.7h0M345.4 250.9h0M349.5 245.0h0M353.7 239.1h0M357.8 233.2h0M361.9 227.3h0M366.1 221.4h0M370.2 215.5h0M374.3 209.6h0M378.5 203.7h0M382.6 197.8h0M386.7 191.9h0M390.8 186.0h0M395.0 180.1h0M399.1 174.2h0M250.9 386.9h0M255.6 381.4h0M260.2 375.9h0M264.8 370.3h0M269.4 364.8h0M274.1 359.3h0M278.7 353.8h0M283.3 348.3h0M288.0 342.8h0M292.6 337.2h0M297.2 331.7h0M301.8 326.2h0M306.5 320.7h0M311.1 315.2h0M315.7 309.7h0M320.3 304.2h0M325.0 298.6h0M329.6 293.1h0M334.2 287.6h0M338.9 282.1h0M343.5 276.6h0M348.1 271.1h0M352.7 265.5h0M357.4 260.0h0M362.0 254.5h0M366.6 249.0h0M371.3 243.5h0M375.9 238.0h0M380.5 232.4h0M385.1 226.9h0M389.8 221.4h0M394.4 215.9h0M399.0 210.4h0M403.7 204.9h0M408.3 199.4h0M412.9 193.8h0M417.5 188.3h0M251.4 387.3h0M256.5 382.2h0M261.6 377.1h0M266.7 372.0h0M271.8 366.9h0M276.8 361.9h0M281.9 356.8h0M287.0 351.7h0M292.1 346.6h0M297.2 341.5h0M302.3 336.4h0M307.4 331.3h0M312.5 326.2h0M317.6 321.1h0M322.7 316.0h0M327.8 310.9h0M332.8 305.9h0M337.9 300.8h0M343.0 295.7h0M348.1 290.6h0M353.2 285.5h0M358.3 280.4h0M363.4 275.3h0M368.5 270.2h0M373.6 265.1h0M378.7 260.0h0M383.8 254.9h0M388.9 249.8h0M393.9 244.8h0M399.0 239.7h0M404.1 234.6h0M409.2 229.5h0M414.3 224.4h0M419.4 219.3h0M251.8 387.8h0M257.3 383.1h0M262.8 378.5h0M268.4 373.9h0M273.9 369.3h0M279.4 364.6h0M284.9 360.0h0M290.4 355.4h0M295.9 350.7h0M301.5 346.1h0M307.0 341.5h0M312.5 336.9h0M318.0 332.2h0M323.5 327.6h0M329.0 323.0h0M334.5 318.4h0M340.1 313.7h0M345.6 309.1h0M351.1 304.5h0M356.6 299.8h0M362.1 295.2h0M367.6 290.6h0M373.2 286.0h0M378.7 281.3h0M384.2 276.7h0M389.7 272.1h0M395.2 267.4h0M400.7 262.8h0M406.3 258.2h0M411.8 253.6h0M417.3 248.9h0M422.8 244.3h0M252.2 388.3h0M258.1 384.1h0M264.0 380.0h0M269.9 375.9h0M275.8 371.8h0M281.7 367.6h0M287.6 363.5h0M293.5 359.4h0M299.4 355.2h0M305.3 351.1h0M311.2 347.0h0M317.1 342.8h0M323.0 338.7h0M328.9 334.6h0M334.8 330.5h0M340.7 326.3h0M346.6 322.2h0M352.5 318.1h0M358.4 313.9h0M364.3 309.8h0M370.2 305.7h0M376.1 301.5h0M382.0 297.4h0M387.8 293.3h0M393.7 289.2h0M399.6 285.0h0M405.5 280.9h0M411.4 276.8h0M417.3 272.6h0M252.5 388.8h0M258.8 385.2h0M265.0 381.6h0M271.2 378.0h0M277.5 374.4h0M283.7 370.8h0M289.9 367.2h0M296.2 363.6h0M302.4 360.0h0M308.7 356.4h0M314.9 352.8h0M321.1 349.2h0M327.4 345.6h0M333.6 342.0h0M339.8 338.4h0M346.1 334.8h0M352.3 331.2h0M358.5 327.6h0M364.8 324.0h0M371.0 320.4h0M377.2 316.8h0M383.5 313.2h0M389.7 309.6h0M395.9 306.0h0M402.2 302.4h0M408.4 298.8h0M414.7 295.2h0M420.9 291.6h0M252.8 389.4h0M259.4 386.3h0M265.9 383.3h0M272.4 380.2h0M278.9 377.2h0M285.5 374.1h0M292.0 371.1h0M298.5 368.1h0M305.0 365.0h0M311.6 362.0h0M318.1 358.9h0M324.6 355.9h0M331.1 352.8h0M337.7 349.8h0M344.2 346.8h0M350.7 343.7h0M357.2 340.7h0M363.8 337.6h0M370.3 334.6h0M376.8 331.5h0M383.3 328.5h0M389.9 325.5h0M396.4 322.4h0M402.9 319.4h0M409.4 316.3h0M416.0 313.3h0M422.5 310.2h0M253.1 389.9h0M259.8 387.5h0M266.6 385.0h0M273.4 382.5h0M280.1 380.1h0M286.9 377.6h0M293.7 375.2h0M300.4 372.7h0M307.2 370.2h0M314.0 367.8h0M320.7 365.3h0M327.5 362.8h0M334.3 360.4h0M341.0 357.9h0M347.8 355.5h0M354.6 353.0h0M361.3 350.5h0M368.1 348.1h0M374.8 345.6h0M381.6 343.1h0M388.4 340.7h0M395.1 338.2h0M401.9 335.8h0M408.7 333.3h0M415.4 330.8h0M422.2 328.4h0M253.3 390.5h0M260.2 388.7h0M267.2 386.8h0M274.1 384.9h0M281.1 383.1h0M288.0 381.2h0M295.0 379.4h0M301.9 377.5h0M308.9 375.6h0M315.8 373.8h0M322.8 371.9h0M329.8 370.0h0M336.7 368.2h0M343.7 366.3h0M350.6 364.4h0M357.6 362.6h0M364.5 360.7h0M371.5 358.9h0M378.4 357.0h0M385.4 355.1h0M392.3 353.3h0M399.3 351.4h0M406.3 349.5h0M413.2 347.7h0M420.2 345.8h0M253.4 391.1h0M260.5 389.9h0M267.6 388.6h0M274.7 387.4h0M281.8 386.1h0M288.8 384.9h0M295.9 383.6h0M303.0 382.4h0M310.1 381.1h0M317.2 379.9h0M324.3 378.6h0M331.4 377.4h0M338.5 376.1h0M345.6 374.9h0M352.7 373.6h0M359.7 372.4h0M366.8 371.1h0M373.9 369.9h0M381.0 368.6h0M388.1 367.4h0M395.2 366.1h0M402.3 364.9h0M409.4 363.6h0M416.5 362.4h0M253.5 391.8h0M260.6 391.1h0M267.8 390.5h0M275.0 389.9h0M282.2 389.3h0M289.3 388.6h0M296.5 388.0h0M303.7 387.4h0M310.9 386.8h0M318.0 386.1h0M325.2 385.5h0M332.4 384.9h0M339.5 384.2h0M346.7 383.6h0M353.9 383.0h0M361.1 382.4h0M368.2 381.7h0M375.4 381.1h0M382.6 380.5h0M389.8 379.8h0M396.9 379.2h0M404.1 378.6h0M411.3 378.0h0M418.4 377.3h0M253.5 392.4h0M260.7 392.4h0M267.9 392.4h0M275.1 392.4h0M282.3 392.4h0M289.5 392.4h0M296.7 392.4h0M303.9 392.4h0M311.1 392.4h0M318.3 392.4h0M325.5 392.4h0M332.7 392.4h0M339.9 392.4h0M347.1 392.4h0M354.3 392.4h0M361.5 392.4h0M368.7 392.4h0M375.9 392.4h0M383.1 392.4h0M390.3 392.4h0M397.5 392.4h0M404.7 392.4h0M411.9 392.4h0M419.1 392.4h0M253.5 393.0h0M260.6 393.7h0M267.8 394.3h0M275.0 394.9h0M282.2 395.5h0M289.3 396.2h0M296.5 396.8h0M303.7 397.4h0M310.9 398.0h0M318.0 398.7h0M325.2 399.3h0M332.4 399.9h0M339.5 400.6h0M346.7 401.2h0M353.9 401.8h0M361.1 402.4h0M368.2 403.1h0M375.4 403.7h0M382.6 404.3h0M389.8 405.0h0M396.9 405.6h0M404.1 406.2h0M411.3 406.8h0M418.4 407.5h0M253.4 393.7h0M260.5 394.9h0M267.6 396.2h0M274.7 397.4h0M281.8 398.7h0M288.8 399.9h0M295.9 401.2h0M303.0 402.4h0M310.1 403.7h0M317.2 404.9h0M324.3 406.2h0M331.4 407.4h0M338.5 408.7h0M345.6 409.9h0M352.7 411.2h0M359.7 412.4h0M366.8 413.7h0M373.9 414.9h0M381.0 416.2h0M388.1 417.4h0M395.2 418.7h0M402.3 419.9h0M409.4 421.2h0M416.5 422.4h0M253.3 394.3h0M260.2 396.1h0M267.2 398.0h0M274.1 399.9h0M281.1 401.7h0M288.0 403.6h0M295.0 405.4h0M301.9 407.3h0M308.9 409.2h0M315.8 411.0h0M322.8 412.9h0M329.8 414.8h0M336.7 416.6h0M343.7 418.5h0M350.6 420.4h0M357.6 422.2h0M364.5 424.1h0M371.5 425.9h0M378.4 427.8h0M385.4 429.7h0M392.3 431.5h0M399.3 433.4h0M406.3 435.3h0M413.2 437.1h0M420.2 439.0h0M253.1 394.9h0M259.8 397.3h0M266.6 399.8h0M273.4 402.3h0M280.1 404.7h0M286.9 407.2h0M293.7 409.6h0M300.4 412.1h0M307.2 414.6h0M314.0 417.0h0M320.7 419.5h0M327.5 422.0h0M334.3 424.4h0M341.0 426.9h0M347.8 429.3h0M354.6 431.8h0M361.3 434.3h0M368.1 436.7h0M374.8 439.2h0M381.6 441.7h0M388.4 444.1h0M395.1 446.6h0M401.9 449.0h0M408.7 451.5h0M415.4 454.0h0M422.2 456.4h0M252.8 395.4h0M259.4 398.5h0M265.9 401.5h0M272.4 404.6h0M278.9 407.6h0M285.5 410.7h0M292.0 413.7h0M298.5 416.7h0M305.0 419.8h0M311.6 422.8h0M318.1 425.9h0M324.6 428.9h0M331.1 432.0h0M337.7 435.0h0M344.2 438.0h0M350.7 441.1h0M357.2 444.1h0M363.8 447.2h0M370.3 450.2h0M376.8 453.3h0M383.3 456.3h0M389.9 459.3h0M396.4 462.4h0M402.9 465.4h0M409.4 468.5h0M416.0 471.5h0M422.5 474.6h0M252.5 396.0h0M258.8 399.6h0M265.0 403.2h0M271.2 406.8h0M277.5 410.4h0M283.7 414.0h0M289.9 417.6h0M296.2 421.2h0M302.4 424.8h0M308.7 428.4h0M314.9 432.0h0M321.1 435.6h0M327.4 439.2h0M333.6 442.8h0M339.8 446.4h0M346.1 450.0h0M352.3 453.6h0M358.5 457.2h0M364.8 460.8h0M371.0 464.4h0M377.2 468.0h0M383.5 471.6h0M389.7 475.2h0M395.9 478.8h0M402.2 482.4h0M408.4 486.0h0M414.7 489.6h0M420.9 493.2h0M252.2 396.5h0M258.1 400.7h0M264.0 404.8h0M269.9 408.9h0M275.8 413.0h0M281.7 417.2h0M287.6 421.3h0M293.5 425.4h0M299.4 429.6h0M305.3 433.7h0M311.2 437.8h0M317.1 442.0h0M323.0 446.1h0M328.9 450.2h0M334.8 454.3h0M340.7 458.5h0M346.6 462.6h0M352.5 466.7h0M358.4 470.9h0M364.3 475.0h0M370.2 479.1h0M376.1 483.3h0M382.0 487.4h0M387.8 491.5h0M393.7 495.6h0M399.6 499.8h0M405.5 503.9h0M411.4 508.0h0M417.3 512.2h0M251.8 397.0h0M257.3 401.7h0M262.8 406.3h0M268.4 410.9h0M273.9 415.5h0M279.4 420.2h0M284.9 424.8h0M290.4 429.4h0M295.9 434.1h0M301.5 438.7h0M307.0 443.3h0M312.5 447.9h0M318.0 452.6h0M323.5 457.2h0M329.0 461.8h0M334.5 466.4h0M340.1 471.1h0M345.6 475.7h0M351.1 480.3h0M356.6 485.0h0M362.1 489.6h0M367.6 494.2h0M373.2 498.8h0M378.7 503.5h0M384.2 508.1h0M389.7 512.7h0M395.2 517.4h0M400.7 522.0h0M406.3 526.6h0M411.8 531.2h0M417.3 535.9h0M422.8 540.5h0M251.4 397.5h0M256.5 402.6h0M261.6 407.7h0M266.7 412.8h0M271.8 417.9h0M276.8 422.9h0M281.9 428.0h0M287.0 433.1h0M292.1 438.2h0M297.2 443.3h0M302.3 448.4h0M307.4 453.5h0M312.5 458.6h0M317.6 463.7h0M322.7 468.8h0M327.8 473.9h0M332.8 478.9h0M337.9 484.0h0M343.0 489.1h0M348.1 494.2h0M353.2 499.3h0M358.3 504.4h0M363.4 509.5h0M368.5 514.6h0M373.6 519.7h0M378.7 524.8h0M383.8 529.9h0M388.9 535.0h0M393.9 540.0h0M399.0 545.1h0M404.1 550.2h0M409.2 555.3h0M414.3 560.4h0M419.4 565.5h0M250.9 397.9h0M255.6 403.4h0M260.2 408.9h0M264.8 414.5h0M269.4 420.0h0M274.1 425.5h0M278.7 431.0h0M283.3 436.5h0M288.0 442.0h0M292.6 447.6h0M297.2 453.1h0M301.8 458.6h0M306.5 464.1h0M311.1 469.6h0M315.7 475.1h0M320.3 480.6h0M325.0 486.2h0M329.6 491.7h0M334.2 497.2h0M338.9 502.7h0M343.5 508.2h0M348.1 513.7h0M352.7 519.3h0M357.4 524.8h0M362.0 530.3h0M366.6 535.8h0M371.3 541.3h0M375.9 546.8h0M380.5 552.4h0M385.1 557.9h0M389.8 563.4h0M394.4 568.9h0M250.4 398.3h0M254.6 404.2h0M258.7 410.1h0M262.8 416.0h0M266.9 421.9h0M271.1 427.8h0M275.2 433.7h0M279.3 439.6h0M283.5 445.5h0M287.6 451.4h0M291.7 457.3h0M295.9 463.2h0M300.0 469.1h0M304.1 475.0h0M308.2 480.9h0M312.4 486.8h0M316.5 492.7h0M320.6 498.6h0M324.8 504.5h0M328.9 510.4h0M333.0 516.3h0M337.2 522.2h0M341.3 528.1h0M345.4 533.9h0M349.5 539.8h0M353.7 545.7h0M357.8 551.6h0M361.9 557.5h0M366.1 563.4h0M370.2 569.3h0M249.9 398.6h0M253.5 404.9h0M257.1 411.1h0M260.7 417.3h0M264.3 423.6h0M267.9 429.8h0M271.5 436.0h0M275.1 442.3h0M278.7 448.5h0M282.3 454.8h0M285.9 461.0h0M289.5 467.2h0M293.1 473.5h0M296.7 479.7h0M300.3 485.9h0M303.9 492.2h0M307.5 498.4h0M311.1 504.6h0M314.7 510.9h0M318.3 517.1h0M321.9 523.3h0M325.5 529.6h0M329.1 535.8h0M332.7 542.0h0M336.3 548.3h0M339.9 554.5h0M343.5 560.8h0M347.1 567.0h0M249.3 398.9h0M252.4 405.5h0M255.4 412.0h0M258.5 418.5h0M261.5 425.0h0M264.6 431.6h0M267.6 438.1h0M270.6 444.6h0M273.7 451.1h0M276.7 457.7h0M279.8 464.2h0M282.8 470.7h0M285.9 477.2h0M288.9 483.8h0M291.9 490.3h0M295.0 496.8h0M298.0 503.3h0M301.1 509.9h0M304.1 516.4h0M307.2 522.9h0M310.2 529.4h0M313.2 536.0h0M316.3 542.5h0M319.3 549.0h0M322.4 555.5h0M325.4 562.1h0M328.5 568.6h0M248.8 399.2h0M251.2 405.9h0M253.7 412.7h0M256.2 419.5h0M258.6 426.2h0M261.1 433.0h0M263.5 439.8h0M266.0 446.5h0M268.5 453.3h0M270.9 460.1h0M273.4 466.8h0M275.9 473.6h0M278.3 480.4h0M280.8 487.1h0M283.2 493.9h0M285.7 500.7h0M288.2 507.4h0M290.6 514.2h0M293.1 520.9h0M295.6 527.7h0M298.0 534.5h0M300.5 541.2h0M302.9 548.0h0M305.4 554.8h0M307.9 561.5h0M310.3 568.3h0M248.2 399.4h0M250.0 406.3h0M251.9 413.3h0M253.8 420.2h0M255.6 427.2h0M257.5 434.1h0M259.3 441.1h0M261.2 448.0h0M263.1 455.0h0M264.9 461.9h0M266.8 468.9h0M268.7 475.9h0M270.5 482.8h0M272.4 489.8h0M274.3 496.7h0M276.1 503.7h0M278.0 510.6h0M279.8 517.6h0M281.7 524.5h0M283.6 531.5h0M285.4 538.4h0M287.3 545.4h0M289.2 552.4h0M291.0 559.3h0M292.9 566.3h0M247.6 399.5h0M248.8 406.6h0M250.1 413.7h0M251.3 420.8h0M252.6 427.9h0M253.8 434.9h0M255.1 442.0h0M256.3 449.1h0M257.6 456.2h0M258.8 463.3h0M260.1 470.4h0M261.3 477.5h0M262.6 484.6h0M263.8 491.7h0M265.1 498.8h0M266.3 505.8h0M267.6 512.9h0M268.8 520.0h0M270.1 527.1h0M271.3 534.2h0M272.6 541.3h0M273.8 548.4h0M275.1 555.5h0M276.3 562.6h0M277.6 569.7h0M246.9 399.6h0M247.6 406.7h0M248.2 413.9h0M248.8 421.1h0M249.4 428.3h0M250.1 435.4h0M250.7 442.6h0M251.3 449.8h0M251.9 457.0h0M252.6 464.1h0M253.2 471.3h0M253.8 478.5h0M254.5 485.6h0M255.1 492.8h0M255.7 500.0h0M256.3 507.2h0M257.0 514.3h0M257.6 521.5h0M258.2 528.7h0M258.9 535.9h0M259.5 543.0h0M260.1 550.2h0M260.7 557.4h0M261.4 564.5h0M246.3 399.6h0M246.3 406.8h0M246.3 414.0h0M246.3 421.2h0M246.3 428.4h0M246.3 435.6h0M246.3 442.8h0M246.3 450.0h0M246.3 457.2h0M246.3 464.4h0M246.3 471.6h0M246.3 478.8h0M246.3 486.0h0M246.3 493.2h0M246.3 500.4h0M246.3 507.6h0M246.3 514.8h0M246.3 522.0h0M246.3 529.2h0M246.3 536.4h0M246.3 543.6h0M246.3 550.8h0M246.3 558.0h0M246.3 565.2h0M245.7 399.6h0M245.0 406.7h0M244.4 413.9h0M243.8 421.1h0M243.2 428.3h0M242.5 435.4h0M241.9 442.6h0M241.3 449.8h0M240.7 457.0h0M240.0 464.1h0M239.4 471.3h0M238.8 478.5h0M238.1 485.6h0M237.5 492.8h0M236.9 500.0h0M236.3 507.2h0M235.6 514.3h0M235.0 521.5h0M234.4 528.7h0M233.7 535.9h0M233.1 543.0h0M232.5 550.2h0M231.9 557.4h0M231.2 564.5h0M422.9 262.7h0M422.9 271.7h0M422.9 280.7h0M422.9 289.7h0M422.9 298.7h0M422.9 307.7h0M422.9 316.7h0M422.9 325.7h0M422.9 334.7h0M422.9 343.7h0M422.9 352.7h0M422.9 361.7h0M422.9 370.7h0M422.9 379.7h0M422.9 388.7h0M422.9 397.7h0M422.9 406.7h0M422.9 415.7h0M422.9 424.7h0M422.9 433.7h0M422.9 442.7h0M422.9 451.7h0M422.9 460.7h0M422.9 469.7h0M422.9 478.7h0M422.9 487.7h0M422.9 496.7h0M422.9 505.7h0M422.9 514.7h0M422.9 523.7h0M250.0 569.9h0M257.0 569.9h0M264.0 569.9h0M271.0 569.9h0M278.0 569.9h0M285.0 569.9h0M292.0 569.9h0M299.0 569.9h0M306.0 569.9h0M313.0 569.9h0M320.0 569.9h0M327.0 569.9h0M334.0 569.9h0M341.0 569.9h0M348.0 569.9h0M355.0 569.9h0M362.0 569.9h0M369.0 569.9h0M376.0 569.9h0M383.0 569.9h0M390.0 569.9h0M397.0 569.9h0M404.0 569.9h0M411.0 569.9h0M418.0 569.9h0" fill="none" stroke="#00ff00" stroke-width="2.7" stroke-linecap="round"/><path d="M152.6 452.6h0M157.5 447.2h0M162.3 441.9h0M253.8 340.2h0M258.6 334.9h0M263.4 329.5h0M268.3 324.2h0M273.1 318.8h0M277.9 313.5h0M282.7 308.1h0M287.5 302.8h0M292.3 297.4h0M297.2 292.1h0M302.0 286.7h0M306.8 281.4h0M311.6 276.0h0M316.4 270.7h0M321.3 265.3h0M326.1 260.0h0M330.9 254.6h0M335.7 249.3h0M340.5 243.9h0M345.3 238.6h0M148.3 458.4h0M153.5 453.5h0M158.8 448.6h0M164.1 443.7h0M169.3 438.7h0M174.6 433.8h0M179.9 428.9h0M185.1 424.0h0M190.4 419.1h0M195.7 414.2h0M253.6 360.2h0M258.8 355.3h0M264.1 350.4h0M269.4 345.5h0M274.6 340.5h0M279.9 335.6h0M285.2 330.7h0M290.4 325.8h0M295.7 320.9h0M301.0 316.0h0M306.2 311.1h0M311.5 306.2h0M316.8 301.3h0M322.0 296.3h0M327.3 291.4h0M332.6 286.5h0M337.8 281.6h0M343.1 276.7h0M348.4 271.8h0M353.6 266.9h0M358.9 262.0h0M364.2 257.1h0M148.7 458.9h0M154.3 454.4h0M160.0 450.0h0M165.7 445.6h0M171.4 441.1h0M177.0 436.7h0M182.7 432.3h0M188.4 427.8h0M194.1 423.4h0M199.7 419.0h0M205.4 414.5h0M211.1 410.1h0M216.8 405.7h0M250.8 379.1h0M256.5 374.6h0M262.1 370.2h0M267.8 365.8h0M273.5 361.3h0M279.2 356.9h0M284.8 352.5h0M290.5 348.0h0M296.2 343.6h0M301.9 339.2h0M307.5 334.7h0M313.2 330.3h0M318.9 325.9h0M324.6 321.5h0M330.2 317.0h0M335.9 312.6h0M341.6 308.2h0M347.3 303.7h0M352.9 299.3h0M358.6 294.9h0M364.3 290.4h0M369.9 286.0h0M375.6 281.6h0M381.3 277.1h0M149.0 459.4h0M155.1 455.5h0M161.1 451.5h0M167.2 447.6h0M173.2 443.7h0M179.2 439.8h0M185.3 435.9h0M191.3 431.9h0M197.3 428.0h0M203.4 424.1h0M209.4 420.2h0M215.5 416.2h0M221.5 412.3h0M227.5 408.4h0M233.6 404.5h0M239.6 400.6h0M245.7 396.6h0M251.7 392.7h0M257.7 388.8h0M263.8 384.9h0M269.8 381.0h0M275.8 377.0h0M281.9 373.1h0M287.9 369.2h0M294.0 365.3h0M300.0 361.3h0M306.0 357.4h0M312.1 353.5h0M318.1 349.6h0M324.2 345.7h0M330.2 341.7h0M336.2 337.8h0M342.3 333.9h0M348.3 330.0h0M354.3 326.1h0M360.4 322.1h0M366.4 318.2h0M372.5 314.3h0M378.5 310.4h0M384.5 306.4h0M390.6 302.5h0M396.6 298.6h0M149.4 459.9h0M155.7 456.5h0M162.1 453.2h0M168.4 449.8h0M174.8 446.4h0M181.1 443.0h0M187.5 439.6h0M193.9 436.3h0M200.2 432.9h0M206.6 429.5h0M212.9 426.1h0M219.3 422.7h0M225.6 419.4h0M232.0 416.0h0M238.4 412.6h0M244.7 409.2h0M251.1 405.8h0M257.4 402.5h0M263.8 399.1h0M270.1 395.7h0M276.5 392.3h0M282.9 388.9h0M289.2 385.6h0M295.6 382.2h0M301.9 378.8h0M308.3 375.4h0M314.6 372.0h0M321.0 368.7h0M327.4 365.3h0M333.7 361.9h0M340.1 358.5h0M346.4 355.1h0M352.8 351.8h0M359.1 348.4h0M365.5 345.0h0M371.9 341.6h0M378.2 338.2h0M384.6 334.9h0M390.9 331.5h0M397.3 328.1h0M403.6 324.7h0M410.0 321.3h0M149.6 460.5h0M156.3 457.7h0M162.9 454.9h0M169.5 452.0h0M176.1 449.2h0M182.8 446.4h0M189.4 443.6h0M196.0 440.8h0M202.6 438.0h0M209.3 435.2h0M215.9 432.4h0M222.5 429.5h0M229.2 426.7h0M235.8 423.9h0M242.4 421.1h0M249.0 418.3h0M255.7 415.5h0M262.3 412.7h0M268.9 409.8h0M275.6 407.0h0M282.2 404.2h0M288.8 401.4h0M295.4 398.6h0M302.1 395.8h0M308.7 393.0h0M315.3 390.2h0M321.9 387.3h0M328.6 384.5h0M335.2 381.7h0M341.8 378.9h0M348.5 376.1h0M355.1 373.3h0M361.7 370.5h0M368.3 367.6h0M375.0 364.8h0M381.6 362.0h0M388.2 359.2h0M394.9 356.4h0M401.5 353.6h0M408.1 350.8h0M414.7 348.0h0M421.4 345.1h0M149.8 461.1h0M156.7 458.9h0M163.5 456.6h0M170.4 454.4h0M177.2 452.2h0M184.1 450.0h0M190.9 447.7h0M197.8 445.5h0M204.6 443.3h0M211.5 441.1h0M218.3 438.8h0M225.2 436.6h0M232.0 434.4h0M238.9 432.2h0M245.7 429.9h0M252.6 427.7h0M259.4 425.5h0M266.3 423.3h0M273.1 421.0h0M280.0 418.8h0M286.8 416.6h0M293.6 414.4h0M300.5 412.1h0M307.3 409.9h0M314.2 407.7h0M321.0 405.5h0M327.9 403.2h0M334.7 401.0h0M341.6 398.8h0M348.4 396.6h0M355.3 394.3h0M362.1 392.1h0M369.0 389.9h0M375.8 387.7h0M382.7 385.4h0M389.5 383.2h0M396.4 381.0h0M403.2 378.8h0M410.1 376.5h0M416.9 374.3h0M150.0 461.7h0M157.0 460.1h0M164.0 458.4h0M171.1 456.8h0M178.1 455.2h0M185.1 453.6h0M192.1 452.0h0M199.1 450.3h0M206.1 448.7h0M213.2 447.1h0M220.2 445.5h0M227.2 443.9h0M234.2 442.2h0M241.2 440.6h0M248.2 439.0h0M255.2 437.4h0M262.3 435.8h0M269.3 434.1h0M276.3 432.5h0M283.3 430.9h0M290.3 429.3h0M297.3 427.7h0M304.4 426.0h0M311.4 424.4h0M318.4 422.8h0M325.4 421.2h0M332.4 419.6h0M339.4 417.9h0M346.4 416.3h0M353.5 414.7h0M360.5 413.1h0M367.5 411.5h0M374.5 409.9h0M381.5 408.2h0M388.5 406.6h0M395.6 405.0h0M402.6 403.4h0M409.6 401.8h0M416.6 400.1h0M150.1 462.3h0M157.3 461.3h0M164.4 460.3h0M171.5 459.3h0M178.6 458.3h0M185.8 457.3h0M192.9 456.3h0M200.0 455.3h0M207.2 454.3h0M214.3 453.3h0M221.4 452.3h0M228.6 451.3h0M235.7 450.3h0M242.8 449.3h0M249.9 448.3h0M257.1 447.3h0M264.2 446.3h0M271.3 445.3h0M278.5 444.3h0M285.6 443.3h0M292.7 442.3h0M299.9 441.3h0M307.0 440.3h0M314.1 439.3h0M321.2 438.2h0M328.4 437.2h0M335.5 436.2h0M342.6 435.2h0M349.8 434.2h0M356.9 433.2h0M364.0 432.2h0M371.2 431.2h0M378.3 430.2h0M385.4 429.2h0M392.5 428.2h0M399.7 427.2h0M406.8 426.2h0M413.9 425.2h0M421.1 424.2h0M150.2 462.9h0M157.4 462.5h0M164.6 462.2h0M171.8 461.8h0M179.0 461.4h0M186.1 461.0h0M193.3 460.7h0M200.5 460.3h0M207.7 459.9h0M214.9 459.5h0M222.1 459.2h0M229.3 458.8h0M236.5 458.4h0M243.7 458.0h0M250.9 457.6h0M258.0 457.3h0M265.2 456.9h0M272.4 456.5h0M279.6 456.1h0M286.8 455.8h0M294.0 455.4h0M301.2 455.0h0M308.4 454.6h0M315.6 454.3h0M322.8 453.9h0M329.9 453.5h0M337.1 453.1h0M344.3 452.7h0M351.5 452.4h0M358.7 452.0h0M365.9 451.6h0M373.1 451.2h0M380.3 450.9h0M387.5 450.5h0M394.7 450.1h0M401.8 449.7h0M409.0 449.4h0M416.2 449.0h0M150.2 463.6h0M157.4 463.8h0M164.6 464.1h0M171.8 464.3h0M179.0 464.6h0M186.2 464.8h0M193.4 465.1h0M200.6 465.3h0M207.8 465.6h0M215.0 465.8h0M222.2 466.1h0M229.3 466.3h0M236.5 466.6h0M243.7 466.8h0M250.9 467.1h0M258.1 467.3h0M265.3 467.6h0M272.5 467.8h0M279.7 468.1h0M286.9 468.3h0M294.1 468.6h0M301.3 468.8h0M308.5 469.1h0M315.7 469.3h0M322.9 469.6h0M330.1 469.8h0M337.3 470.1h0M344.5 470.3h0M351.7 470.6h0M358.9 470.8h0M366.1 471.1h0M373.3 471.3h0M380.5 471.6h0M387.7 471.8h0M394.8 472.1h0M402.0 472.3h0M409.2 472.6h0M416.4 472.8h0M150.1 464.2h0M157.3 465.1h0M164.4 465.9h0M171.6 466.8h0M178.7 467.7h0M185.9 468.6h0M193.0 469.4h0M200.2 470.3h0M207.3 471.2h0M214.5 472.1h0M221.6 473.0h0M228.8 473.8h0M235.9 474.7h0M243.0 475.6h0M250.2 476.5h0M257.3 477.3h0M264.5 478.2h0M271.6 479.1h0M278.8 480.0h0M285.9 480.8h0M293.1 481.7h0M300.2 482.6h0M307.4 483.5h0M314.5 484.4h0M321.7 485.2h0M328.8 486.1h0M336.0 487.0h0M343.1 487.9h0M350.2 488.7h0M357.4 489.6h0M364.5 490.5h0M371.7 491.4h0M378.8 492.3h0M386.0 493.1h0M393.1 494.0h0M400.3 494.9h0M407.4 495.8h0M414.6 496.6h0M421.7 497.5h0M150.0 464.8h0M157.1 466.3h0M164.1 467.8h0M171.2 469.3h0M178.2 470.8h0M185.3 472.3h0M192.3 473.8h0M199.3 475.3h0M206.4 476.8h0M213.4 478.3h0M220.5 479.8h0M227.5 481.3h0M234.6 482.8h0M241.6 484.3h0M248.6 485.8h0M255.7 487.3h0M262.7 488.7h0M269.8 490.2h0M276.8 491.7h0M283.9 493.2h0M290.9 494.7h0M297.9 496.2h0M305.0 497.7h0M312.0 499.2h0M319.1 500.7h0M326.1 502.2h0M333.2 503.7h0M340.2 505.2h0M347.2 506.7h0M354.3 508.2h0M361.3 509.7h0M368.4 511.2h0M375.4 512.7h0M382.5 514.2h0M389.5 515.7h0M396.5 517.2h0M403.6 518.7h0M410.6 520.2h0M417.7 521.7h0M149.9 465.4h0M156.8 467.5h0M163.7 469.6h0M170.5 471.7h0M177.4 473.8h0M184.3 475.9h0M191.2 478.0h0M198.1 480.1h0M205.0 482.2h0M211.9 484.4h0M218.7 486.5h0M225.6 488.6h0M232.5 490.7h0M239.4 492.8h0M246.3 494.9h0M253.2 497.0h0M260.1 499.1h0M266.9 501.2h0M273.8 503.3h0M280.7 505.4h0M287.6 507.5h0M294.5 509.6h0M301.4 511.7h0M308.2 513.8h0M315.1 515.9h0M322.0 518.0h0M328.9 520.1h0M335.8 522.2h0M342.7 524.3h0M349.6 526.5h0M356.4 528.6h0M363.3 530.7h0M370.2 532.8h0M377.1 534.9h0M384.0 537.0h0M390.9 539.1h0M397.8 541.2h0M404.6 543.3h0M411.5 545.4h0M418.4 547.5h0M149.7 466.0h0M156.4 468.7h0M163.0 471.4h0M169.7 474.1h0M176.4 476.8h0M183.1 479.5h0M189.7 482.2h0M196.4 484.9h0M203.1 487.6h0M209.8 490.3h0M216.4 493.0h0M223.1 495.7h0M229.8 498.4h0M236.5 501.1h0M243.1 503.8h0M249.8 506.5h0M256.5 509.2h0M263.2 511.8h0M269.8 514.5h0M276.5 517.2h0M283.2 519.9h0M289.9 522.6h0M296.5 525.3h0M303.2 528.0h0M309.9 530.7h0M316.6 533.4h0M323.2 536.1h0M329.9 538.8h0M336.6 541.5h0M343.3 544.2h0M349.9 546.9h0M356.6 549.6h0M363.3 552.3h0M370.0 555.0h0M376.7 557.7h0M383.3 560.4h0M390.0 563.1h0M396.7 565.8h0M403.4 568.5h0M149.4 466.6h0M155.8 469.8h0M162.2 473.1h0M168.7 476.4h0M175.1 479.6h0M181.5 482.9h0M187.9 486.2h0M194.3 489.4h0M200.7 492.7h0M207.2 496.0h0M213.6 499.3h0M220.0 502.5h0M226.4 505.8h0M232.8 509.1h0M239.2 512.3h0M245.6 515.6h0M252.1 518.9h0M258.5 522.1h0M264.9 525.4h0M271.3 528.7h0M277.7 531.9h0M284.1 535.2h0M290.6 538.5h0M297.0 541.7h0M303.4 545.0h0M309.8 548.3h0M316.2 551.6h0M322.6 554.8h0M329.0 558.1h0M335.5 561.4h0M341.9 564.6h0M348.3 567.9h0M149.1 467.1h0M155.2 470.9h0M161.3 474.7h0M167.4 478.6h0M173.5 482.4h0M179.6 486.2h0M185.7 490.0h0M191.8 493.8h0M198.0 497.6h0M204.1 501.5h0M210.2 505.3h0M216.3 509.1h0M222.4 512.9h0M228.5 516.7h0M234.6 520.5h0M240.7 524.3h0M246.8 528.2h0M252.9 532.0h0M259.0 535.8h0M265.1 539.6h0M271.2 543.4h0M277.3 547.2h0M283.4 551.1h0M289.5 554.9h0M295.6 558.7h0M301.8 562.5h0M307.9 566.3h0M148.8 467.6h0M154.5 472.0h0M160.3 476.3h0M166.0 480.6h0M171.8 485.0h0M177.5 489.3h0M183.3 493.6h0M189.0 498.0h0M194.8 502.3h0M200.5 506.6h0M206.3 511.0h0M212.0 515.3h0M217.8 519.6h0M223.5 524.0h0M229.3 528.3h0M235.0 532.6h0M240.8 537.0h0M246.5 541.3h0M252.3 545.6h0M258.0 550.0h0M263.8 554.3h0M269.5 558.6h0M275.3 563.0h0M281.0 567.3h0M148.4 468.1h0M153.7 472.9h0M159.1 477.8h0M164.4 482.6h0M169.8 487.4h0M175.1 492.2h0M180.5 497.0h0M185.8 501.8h0M191.2 506.7h0M196.5 511.5h0M201.9 516.3h0M207.2 521.1h0M212.6 525.9h0M217.9 530.7h0M223.3 535.6h0M228.6 540.4h0M234.0 545.2h0M239.3 550.0h0M244.7 554.8h0M250.0 559.7h0M255.4 564.5h0M260.7 569.3h0M147.9 468.6h0M152.8 473.8h0M157.7 479.1h0M162.6 484.4h0M167.6 489.6h0M172.5 494.9h0M177.4 500.2h0M182.3 505.4h0M187.2 510.7h0M192.1 516.0h0M197.0 521.2h0M201.9 526.5h0M206.8 531.8h0M211.7 537.0h0M216.7 542.3h0M221.6 547.6h0M226.5 552.8h0M231.4 558.1h0M236.3 563.3h0M241.2 568.6h0M147.4 469.0h0M151.9 474.6h0M156.3 480.3h0M160.7 486.0h0M165.2 491.7h0M169.6 497.3h0M174.0 503.0h0M178.5 508.7h0M182.9 514.4h0M187.3 520.0h0M191.8 525.7h0M196.2 531.4h0M200.6 537.1h0M205.1 542.7h0M209.5 548.4h0M213.9 554.1h0M218.4 559.8h0M222.8 565.4h0M146.9 469.3h0M150.8 475.4h0M154.8 481.4h0M158.7 487.5h0M162.6 493.5h0M166.5 499.5h0M170.4 505.6h0M174.4 511.6h0M178.3 517.6h0M182.2 523.7h0M186.1 529.7h0M190.1 535.8h0M194.0 541.8h0M197.9 547.8h0M201.8 553.9h0M205.7 559.9h0M209.7 566.0h0M146.4 469.7h0M149.8 476.0h0M153.1 482.4h0M156.5 488.7h0M159.9 495.1h0M163.3 501.4h0M166.7 507.8h0M170.0 514.2h0M173.4 520.5h0M176.8 526.9h0M180.2 533.2h0M183.6 539.6h0M186.9 545.9h0M190.3 552.3h0M193.7 558.7h0M197.1 565.0h0M145.8 469.9h0M148.6 476.6h0M151.4 483.2h0M154.3 489.8h0M157.1 496.4h0M159.9 503.1h0M162.7 509.7h0M165.5 516.3h0M168.3 522.9h0M171.1 529.6h0M173.9 536.2h0M176.8 542.8h0M179.6 549.5h0M182.4 556.1h0M185.2 562.7h0M188.0 569.3h0M145.2 470.1h0M147.4 477.0h0M149.7 483.8h0M151.9 490.7h0M154.1 497.5h0M156.3 504.4h0M158.6 511.2h0M160.8 518.1h0M163.0 524.9h0M165.2 531.8h0M167.5 538.6h0M169.7 545.5h0M171.9 552.3h0M174.1 559.2h0M176.4 566.0h0M144.6 470.3h0M146.2 477.3h0M147.9 484.3h0M149.5 491.4h0M151.1 498.4h0M152.7 505.4h0M154.3 512.4h0M156.0 519.4h0M157.6 526.4h0M159.2 533.5h0M160.8 540.5h0M162.4 547.5h0M164.1 554.5h0M165.7 561.5h0M167.3 568.5h0M144.0 470.4h0M145.0 477.6h0M146.0 484.7h0M147.0 491.8h0M148.0 498.9h0M149.0 506.1h0M150.0 513.2h0M151.0 520.3h0M152.0 527.5h0M153.0 534.6h0M154.0 541.7h0M155.0 548.9h0M156.0 556.0h0M157.0 563.1h0M143.4 470.5h0M143.8 477.7h0M144.1 484.9h0M144.5 492.1h0M144.9 499.3h0M145.3 506.4h0M145.6 513.6h0M146.0 520.8h0M146.4 528.0h0M146.8 535.2h0M147.1 542.4h0M147.5 549.6h0M147.9 556.8h0M148.3 564.0h0M142.7 470.5h0M142.5 477.7h0M142.2 484.9h0M142.0 492.1h0M141.7 499.3h0M141.5 506.5h0M141.2 513.7h0M141.0 520.9h0M140.7 528.1h0M140.5 535.3h0M140.2 542.5h0M140.0 549.6h0M139.7 556.8h0M139.5 564.0h0M142.1 470.4h0M141.2 477.6h0M140.4 484.7h0M139.5 491.9h0M138.6 499.0h0M137.7 506.2h0M136.9 513.3h0M136.0 520.5h0M135.1 527.6h0M134.2 534.8h0M133.3 541.9h0M132.5 549.1h0M131.6 556.2h0M130.7 563.3h0M141.5 470.3h0M140.0 477.4h0M138.5 484.4h0M137.0 491.5h0M135.5 498.5h0M134.0 505.6h0M132.5 512.6h0M131.0 519.6h0M129.5 526.7h0M128.0 533.7h0M126.5 540.8h0M125.0 547.8h0M123.5 554.9h0M122.0 561.9h0M120.5 568.9h0M140.9 470.2h0M138.8 477.1h0M136.7 484.0h0M134.6 490.8h0M132.5 497.7h0M130.4 504.6h0M128.3 511.5h0M126.2 518.4h0M124.1 525.3h0M121.9 532.2h0M119.8 539.0h0M117.7 545.9h0M115.6 552.8h0M113.5 559.7h0M111.4 566.6h0M140.3 470.0h0M137.6 476.7h0M134.9 483.3h0M132.2 490.0h0M129.5 496.7h0M126.8 503.4h0M124.1 510.0h0M121.4 516.7h0M118.7 523.4h0M116.0 530.1h0M113.3 536.7h0M110.6 543.4h0M107.9 550.1h0M105.2 556.8h0M102.5 563.4h0M139.7 469.7h0M136.5 476.1h0M133.2 482.5h0M129.9 489.0h0M126.7 495.4h0M123.4 501.8h0M120.1 508.2h0M116.9 514.6h0M113.6 521.0h0M110.3 527.5h0M107.0 533.9h0M103.8 540.3h0M100.5 546.7h0M97.2 553.1h0M94.0 559.5h0M90.7 565.9h0M135.4 475.5h0M131.6 481.6h0M127.7 487.7h0M123.9 493.8h0M120.1 499.9h0M116.3 506.0h0M112.5 512.1h0M108.7 518.3h0M104.8 524.4h0M101.0 530.5h0M97.2 536.6h0M93.4 542.7h0M89.6 548.8h0M85.8 554.9h0M82.0 561.0h0M78.1 567.1h0M125.7 486.3h0M121.3 492.1h0M117.0 497.8h0M112.7 503.6h0M108.3 509.3h0M104.0 515.1h0M99.7 520.8h0M95.3 526.6h0M91.0 532.3h0M86.7 538.1h0M82.3 543.8h0M78.0 549.6h0M123.7 484.7h0M118.9 490.1h0M114.1 495.4h0M109.3 500.8h0M104.5 506.1h0M99.6 511.5h0M94.8 516.8h0M90.0 522.2h0M85.2 527.5h0M80.4 532.9h0M75.6 538.2h0M121.9 482.9h0M116.7 487.9h0M111.4 492.8h0M106.1 497.7h0M100.9 502.6h0M95.6 507.5h0M90.3 512.4h0M85.1 517.3h0M79.8 522.2h0M120.3 481.0h0M114.6 485.5h0M109.0 489.9h0M103.3 494.3h0M97.6 498.8h0M91.9 503.2h0M86.3 507.6h0M80.6 512.1h0M118.8 479.0h0M112.8 482.9h0M106.8 486.8h0M100.7 490.7h0M94.7 494.7h0M88.7 498.6h0M82.6 502.5h0M76.6 506.4h0M75.0 322.7h0M75.0 330.0h0M75.0 337.3h0M75.0 344.6h0M75.0 351.9h0M75.0 359.2h0M75.0 366.5h0M75.0 373.8h0M75.0 381.1h0M75.0 388.4h0M75.0 395.7h0M75.0 403.0h0M75.0 410.3h0M75.0 417.6h0M75.0 424.9h0M75.0 432.2h0M75.0 439.5h0M75.0 446.8h0M75.0 454.1h0M75.0 461.4h0M75.0 468.7h0M75.0 476.0h0M75.0 483.3h0M75.0 490.6h0M75.0 569.9h0M82.2 569.9h0M89.4 569.9h0M96.6 569.9h0M103.8 569.9h0M111.0 569.9h0M118.2 569.9h0M125.4 569.9h0M132.6 569.9h0M139.8 569.9h0M147.0 569.9h0M154.2 569.9h0M161.4 569.9h0M168.6 569.9h0M175.8 569.9h0M183.0 569.9h0M190.2 569.9h0M197.4 569.9h0M204.6 569.9h0M211.8 569.9h0M219.0 569.9h0M226.2 569.9h0M233.4 569.9h0M240.6 569.9h0M247.8 569.9h0M255.0 569.9h0M262.2 569.9h0M269.4 569.9h0M276.6 569.9h0M283.8 569.9h0M291.0 569.9h0M298.2 569.9h0M305.4 569.9h0M312.6 569.9h0M319.8 569.9h0M327.0 569.9h0M334.2 569.9h0M341.4 569.9h0" fill="none" stroke="#0000ff" stroke-width="2.7" stroke-linecap="round"/><path d="M348.8 141.7 L346.5 158.0 L344.7 170.7" fill="none" stroke="#000" stroke-width="1.0" stroke-linejoin="round"/><path d="M337.5 203.0 L336.2 208.2 L332.0 225.0 L329.4 242.4 L328.5 258.0 L325.9 276.5 L325.0 292.0 L322.5 310.6 L324.0 322.0 L327.0 331.0 L328.5 338.0 L327.6 344.7 L325.0 354.0 L322.5 361.8 L316.0 371.0 L310.6 378.8 L307.0 384.0" fill="none" stroke="#000" stroke-width="1.0" stroke-linejoin="round"/><path d="M296.0 400.0 L292.0 406.0 L286.7 413.0 L280.0 421.0 L273.0 430.0 L265.0 437.0 L256.0 443.7 L249.0 451.0 L242.4 457.3 L233.0 468.0 L225.3 477.8 L217.0 488.0 L208.2 498.2 L199.0 509.0 L191.2 518.7 L182.0 531.0 L174.1 542.6 L163.0 556.0 L153.6 568.2 L150.0 573.0" fill="none" stroke="#000" stroke-width="1.0" stroke-linejoin="round"/><text x="341.5" y="191.7" font-size="13.5" text-anchor="middle" transform="rotate(-78 341.5 187.0)" fill="#000">-100</text><text x="301.5" y="397.2" font-size="13.5" text-anchor="middle" transform="rotate(-52 301.5 392.5)" fill="#000">100</text>
<rect x="75.0" y="142.7" width="347.9" height="427.2" fill="none" stroke="#1a1a1a" stroke-width="1.3"/>
<use href="#lab"/>
<use href="#stars"/>
<use href="#km"/>
<text x="249.2" y="129.0" font-size="24.50" text-anchor="middle" font-weight="bold" fill="#000">Radial Grid</text>
</g>
<g transform="translate(383.3 600.0)">
<use href="#grid"/>
<g clip-path="url(#cp)">
<g shape-rendering="crispEdges"><path fill="#0038ff" d="M345.5 157.7H353.1V165.5H345.5zM353.1 165.5H360.7V173.2H353.1zM353.1 173.2H360.7V180.9H353.1zM360.7 211.8H368.4V219.5H360.7zM391.2 211.8H398.8V219.5H391.2zM368.4 219.5H376.0V227.2H368.4zM307.4 227.2H315.0V234.9H307.4zM322.6 227.2H330.3V234.9H322.6zM368.4 227.2H376.0V234.9H368.4zM284.5 234.9H292.2V242.7H284.5zM299.8 234.9H307.4V242.7H299.8zM330.3 234.9H337.9V242.7H330.3zM269.3 242.7H276.9V250.4H269.3zM284.5 242.7H292.2V250.4H284.5zM330.3 242.7H337.9V250.4H330.3zM353.1 242.7H360.7V250.4H353.1zM269.3 258.1H276.9V265.8H269.3zM360.7 265.8H368.4V273.5H360.7zM360.7 273.5H368.4V281.3H360.7zM337.9 281.3H353.1V289.0H337.9zM391.2 281.3H398.8V289.0H391.2zM330.3 289.0H337.9V296.7H330.3zM345.5 289.0H353.1V296.7H345.5zM315.0 304.4H330.3V312.1H315.0zM337.9 304.4H345.5V312.1H337.9zM315.0 312.1H322.6V319.9H315.0zM383.6 319.9H391.2V327.6H383.6zM414.1 319.9H421.7V327.6H414.1zM246.4 335.3H254.1V343.0H246.4zM368.4 335.3H376.0V343.0H368.4zM414.1 335.3H421.7V343.0H414.1zM383.6 350.7H391.2V358.5H383.6zM368.4 366.2H376.0V373.9H368.4zM254.1 373.9H261.7V381.6H254.1zM383.6 373.9H391.2V381.6H383.6zM276.9 381.6H284.5V389.3H276.9zM368.4 381.6H376.0V389.3H368.4zM391.2 381.6H406.5V389.3H391.2zM391.2 435.7H398.8V443.4H391.2zM383.6 458.8H391.2V466.5H383.6zM398.8 458.8H406.5V466.5H398.8zM398.8 505.1H406.5V512.9H398.8zM238.8 520.6H254.1V528.3H238.8zM353.1 520.6H360.7V528.3H353.1zM383.6 520.6H391.2V528.3H383.6zM223.6 528.3H231.2V536.0H223.6zM353.1 528.3H360.7V536.0H353.1zM368.4 528.3H376.0V536.0H368.4zM383.6 528.3H391.2V536.0H383.6zM254.1 536.0H261.7V543.7H254.1zM322.6 536.0H330.3V543.7H322.6zM353.1 536.0H368.4V543.7H353.1zM307.4 543.7H315.0V551.5H307.4zM368.4 543.7H376.0V551.5H368.4zM368.4 551.5H376.0V559.2H368.4zM353.1 559.2H360.7V566.9H353.1zM330.3 566.9H353.1V569.9H330.3z"/><path fill="#0028ff" d="M353.1 157.7H360.7V165.5H353.1zM337.9 165.5H345.5V173.2H337.9zM307.4 196.3H315.0V204.1H307.4zM376.0 211.8H391.2V219.5H376.0zM398.8 211.8H406.5V219.5H398.8zM299.8 219.5H307.4V227.2H299.8zM284.5 227.2H307.4V234.9H284.5zM337.9 227.2H345.5V234.9H337.9zM398.8 234.9H406.5V242.7H398.8zM292.2 242.7H299.8V250.4H292.2zM269.3 250.4H284.5V258.1H269.3zM337.9 250.4H353.1V258.1H337.9zM368.4 250.4H376.0V258.1H368.4zM322.6 258.1H330.3V265.8H322.6zM269.3 265.8H276.9V273.5H269.3zM345.5 304.4H353.1V312.1H345.5zM406.5 319.9H414.1V327.6H406.5zM368.4 327.6H376.0V335.3H368.4zM391.2 327.6H406.5V335.3H391.2zM376.0 343.0H383.6V350.7H376.0zM398.8 350.7H406.5V358.5H398.8zM246.4 366.2H254.1V373.9H246.4zM391.2 366.2H398.8V373.9H391.2zM315.0 381.6H322.6V389.3H315.0zM322.6 389.3H330.3V397.1H322.6zM414.1 389.3H421.7V397.1H414.1zM376.0 397.1H383.6V404.8H376.0zM315.0 404.8H322.6V412.5H315.0zM330.3 412.5H337.9V420.2H330.3zM231.2 420.2H238.8V427.9H231.2zM246.4 505.1H254.1V512.9H246.4zM376.0 528.3H383.6V536.0H376.0zM307.4 536.0H315.0V543.7H307.4zM330.3 536.0H353.1V543.7H330.3zM330.3 551.5H337.9V559.2H330.3zM360.7 551.5H368.4V559.2H360.7zM345.5 559.2H353.1V566.9H345.5zM353.1 566.9H360.7V569.9H353.1zM368.4 566.9H376.0V569.9H368.4zM383.6 566.9H391.2V569.9H383.6z"/><path fill="#0018ff" d="M345.5 165.5H353.1V173.2H345.5zM315.0 188.6H322.6V196.3H315.0zM322.6 211.8H330.3V219.5H322.6zM337.9 219.5H345.5V227.2H337.9zM360.7 219.5H368.4V227.2H360.7zM330.3 227.2H337.9V234.9H330.3zM376.0 227.2H383.6V234.9H376.0zM414.1 234.9H421.7V242.7H414.1zM360.7 242.7H368.4V250.4H360.7zM276.9 258.1H284.5V265.8H276.9zM330.3 258.1H337.9V265.8H330.3zM322.6 281.3H330.3V289.0H322.6zM398.8 281.3H406.5V289.0H398.8zM414.1 281.3H421.7V289.0H414.1zM414.1 289.0H421.7V296.7H414.1zM330.3 296.7H337.9V304.4H330.3zM398.8 296.7H406.5V304.4H398.8zM322.6 312.1H330.3V319.9H322.6zM398.8 319.9H406.5V327.6H398.8zM406.5 343.0H414.1V350.7H406.5zM391.2 350.7H398.8V358.5H391.2zM391.2 358.5H398.8V366.2H391.2zM414.1 358.5H421.7V366.2H414.1zM376.0 373.9H383.6V381.6H376.0zM406.5 373.9H414.1V381.6H406.5zM406.5 381.6H414.1V389.3H406.5zM307.4 389.3H315.0V397.1H307.4zM315.0 397.1H322.6V404.8H315.0zM398.8 397.1H406.5V404.8H398.8zM414.1 397.1H421.7V404.8H414.1zM376.0 404.8H383.6V412.5H376.0zM414.1 404.8H421.7V412.5H414.1zM391.2 427.9H398.8V435.7H391.2zM391.2 443.4H398.8V451.1H391.2zM398.8 497.4H406.5V505.1H398.8zM398.8 512.9H406.5V520.6H398.8zM360.7 520.6H368.4V528.3H360.7zM391.2 520.6H398.8V528.3H391.2zM269.3 528.3H276.9V536.0H269.3zM383.6 536.0H398.8V543.7H383.6zM337.9 551.5H345.5V559.2H337.9zM368.4 559.2H376.0V566.9H368.4z"/><path fill="#0048ff" d="M337.9 173.2H345.5V180.9H337.9zM292.2 204.1H299.8V211.8H292.2zM322.6 219.5H337.9V227.2H322.6zM376.0 219.5H383.6V227.2H376.0zM353.1 227.2H368.4V234.9H353.1zM337.9 242.7H345.5V250.4H337.9zM376.0 242.7H383.6V250.4H376.0zM261.7 258.1H269.3V265.8H261.7zM337.9 258.1H345.5V265.8H337.9zM360.7 258.1H368.4V265.8H360.7zM284.5 265.8H292.2V273.5H284.5zM337.9 265.8H345.5V273.5H337.9zM269.3 273.5H276.9V281.3H269.3zM330.3 273.5H353.1V281.3H330.3zM307.4 281.3H315.0V289.0H307.4zM315.0 289.0H322.6V296.7H315.0zM337.9 289.0H345.5V296.7H337.9zM391.2 296.7H398.8V304.4H391.2zM383.6 312.1H391.2V319.9H383.6zM414.1 312.1H421.7V319.9H414.1zM383.6 327.6H391.2V335.3H383.6zM383.6 335.3H398.8V343.0H383.6zM269.3 343.0H276.9V350.7H269.3zM391.2 343.0H398.8V350.7H391.2zM376.0 350.7H383.6V358.5H376.0zM254.1 358.5H261.7V366.2H254.1zM376.0 366.2H383.6V373.9H376.0zM315.0 373.9H322.6V381.6H315.0zM368.4 373.9H376.0V381.6H368.4zM391.2 373.9H398.8V381.6H391.2zM254.1 381.6H261.7V389.3H254.1zM299.8 389.3H307.4V397.1H299.8zM368.4 389.3H376.0V397.1H368.4zM292.2 397.1H299.8V404.8H292.2zM307.4 397.1H315.0V404.8H307.4zM383.6 404.8H391.2V412.5H383.6zM383.6 412.5H391.2V420.2H383.6zM330.3 427.9H337.9V435.7H330.3zM383.6 451.1H391.2V458.8H383.6zM315.0 458.8H322.6V466.5H315.0zM383.6 466.5H391.2V474.3H383.6zM292.2 489.7H299.8V497.4H292.2zM223.6 497.4H231.2V505.1H223.6zM254.1 505.1H261.7V512.9H254.1zM223.6 512.9H231.2V520.6H223.6zM360.7 512.9H368.4V520.6H360.7zM376.0 512.9H383.6V520.6H376.0zM223.6 520.6H231.2V528.3H223.6zM238.8 528.3H246.4V536.0H238.8zM322.6 528.3H330.3V536.0H322.6zM360.7 528.3H368.4V536.0H360.7zM261.7 536.0H269.3V543.7H261.7zM368.4 536.0H376.0V543.7H368.4zM238.8 543.7H246.4V551.5H238.8zM353.1 543.7H368.4V551.5H353.1zM345.5 551.5H353.1V559.2H345.5zM276.9 559.2H284.5V566.9H276.9z"/><path fill="#0008ff" d="M345.5 173.2H353.1V180.9H345.5zM307.4 204.1H315.0V211.8H307.4zM345.5 211.8H353.1V219.5H345.5zM368.4 211.8H376.0V219.5H368.4zM406.5 211.8H414.1V219.5H406.5zM406.5 219.5H414.1V227.2H406.5zM330.3 250.4H337.9V258.1H330.3zM398.8 258.1H406.5V265.8H398.8zM353.1 265.8H360.7V273.5H353.1zM414.1 265.8H421.7V273.5H414.1zM398.8 289.0H406.5V296.7H398.8zM330.3 304.4H337.9V312.1H330.3zM398.8 304.4H406.5V312.1H398.8zM376.0 327.6H383.6V335.3H376.0zM398.8 335.3H406.5V343.0H398.8zM383.6 358.5H391.2V366.2H383.6zM406.5 412.5H414.1V420.2H406.5zM398.8 420.2H406.5V427.9H398.8zM406.5 443.4H414.1V451.1H406.5zM398.8 474.3H406.5V482.0H398.8zM406.5 505.1H414.1V512.9H406.5zM376.0 543.7H383.6V551.5H376.0z"/><path fill="#0000d7" d="M307.4 188.6H315.0V196.3H307.4zM353.1 204.1H360.7V211.8H353.1zM414.1 211.8H421.7V219.5H414.1zM406.5 227.2H414.1V234.9H406.5zM406.5 289.0H414.1V296.7H406.5zM376.0 319.9H383.6V327.6H376.0zM414.1 327.6H421.7V335.3H414.1zM398.8 343.0H406.5V350.7H398.8zM398.8 366.2H414.1V373.9H398.8zM246.4 373.9H254.1V381.6H246.4zM398.8 373.9H406.5V381.6H398.8zM406.5 389.3H414.1V397.1H406.5zM406.5 397.1H414.1V404.8H406.5zM414.1 420.2H421.7V427.9H414.1zM406.5 427.9H414.1V435.7H406.5zM398.8 466.5H406.5V474.3H398.8zM406.5 512.9H414.1V520.6H406.5zM398.8 536.0H406.5V543.7H398.8zM376.0 559.2H383.6V566.9H376.0z"/><path fill="#0000b7" d="M322.6 188.6H330.3V196.3H322.6zM322.6 196.3H345.5V204.1H322.6zM284.5 204.1H292.2V211.8H284.5zM315.0 204.1H353.1V211.8H315.0zM284.5 211.8H292.2V219.5H284.5zM315.0 211.8H322.6V219.5H315.0zM337.9 211.8H345.5V219.5H337.9zM284.5 219.5H299.8V227.2H284.5zM315.0 219.5H322.6V227.2H315.0zM414.1 219.5H421.7V227.2H414.1zM398.8 250.4H421.7V258.1H398.8zM406.5 258.1H421.7V265.8H406.5zM406.5 265.8H414.1V273.5H406.5zM398.8 273.5H414.1V281.3H398.8zM406.5 296.7H421.7V304.4H406.5zM414.1 304.4H421.7V312.1H414.1zM376.0 335.3H383.6V343.0H376.0zM414.1 366.2H421.7V373.9H414.1zM414.1 373.9H421.7V381.6H414.1zM406.5 420.2H414.1V427.9H406.5zM398.8 427.9H406.5V435.7H398.8zM414.1 427.9H421.7V435.7H414.1zM414.1 435.7H421.7V443.4H414.1zM398.8 528.3H406.5V536.0H398.8zM376.0 566.9H383.6V569.9H376.0z"/><path fill="#0000c7" d="M330.3 188.6H337.9V196.3H330.3zM315.0 196.3H322.6V204.1H315.0zM299.8 211.8H315.0V219.5H299.8zM414.1 227.2H421.7V234.9H414.1zM406.5 234.9H414.1V242.7H406.5zM406.5 242.7H414.1V250.4H406.5zM398.8 265.8H406.5V273.5H398.8zM406.5 304.4H414.1V312.1H406.5zM398.8 443.4H406.5V451.1H398.8zM391.2 451.1H398.8V458.8H391.2zM391.2 458.8H398.8V466.5H391.2zM406.5 497.4H414.1V505.1H406.5z"/><path fill="#0000f7" d="M299.8 204.1H307.4V211.8H299.8zM330.3 211.8H337.9V219.5H330.3zM353.1 211.8H360.7V219.5H353.1zM398.8 242.7H406.5V250.4H398.8zM345.5 258.1H353.1V265.8H345.5zM276.9 265.8H284.5V273.5H276.9zM406.5 281.3H414.1V289.0H406.5zM337.9 296.7H353.1V304.4H337.9zM315.0 319.9H330.3V327.6H315.0zM414.1 343.0H421.7V350.7H414.1zM406.5 358.5H414.1V366.2H406.5zM360.7 381.6H368.4V389.3H360.7zM376.0 381.6H383.6V389.3H376.0zM376.0 389.3H406.5V397.1H376.0zM368.4 397.1H376.0V404.8H368.4zM383.6 397.1H391.2V404.8H383.6zM406.5 404.8H414.1V412.5H406.5zM391.2 412.5H406.5V420.2H391.2zM391.2 420.2H398.8V427.9H391.2zM345.5 427.9H353.1V435.7H345.5zM398.8 435.7H414.1V443.4H398.8zM391.2 528.3H398.8V536.0H391.2zM376.0 536.0H383.6V543.7H376.0zM360.7 566.9H368.4V569.9H360.7z"/><path fill="#0000e7" d="M414.1 204.1H421.7V211.8H414.1zM292.2 211.8H299.8V219.5H292.2zM307.4 219.5H315.0V227.2H307.4zM368.4 242.7H376.0V250.4H368.4zM414.1 242.7H421.7V250.4H414.1zM345.5 265.8H353.1V273.5H345.5zM414.1 273.5H421.7V281.3H414.1zM330.3 312.1H337.9V319.9H330.3zM406.5 327.6H414.1V335.3H406.5zM406.5 335.3H414.1V343.0H406.5zM406.5 350.7H421.7V358.5H406.5zM398.8 358.5H406.5V366.2H398.8zM383.6 381.6H391.2V389.3H383.6zM414.1 381.6H421.7V389.3H414.1zM391.2 397.1H398.8V404.8H391.2zM391.2 404.8H406.5V412.5H391.2zM414.1 412.5H421.7V420.2H414.1zM391.2 466.5H398.8V474.3H391.2zM315.0 536.0H322.6V543.7H315.0zM315.0 543.7H345.5V551.5H315.0zM353.1 551.5H360.7V559.2H353.1zM360.7 559.2H368.4V566.9H360.7z"/><path fill="#0058ff" d="M345.5 219.5H360.7V227.2H345.5zM398.8 227.2H406.5V234.9H398.8zM276.9 242.7H284.5V250.4H276.9zM261.7 250.4H269.3V258.1H261.7zM284.5 250.4H292.2V258.1H284.5zM353.1 258.1H360.7V265.8H353.1zM276.9 273.5H284.5V281.3H276.9zM307.4 273.5H315.0V281.3H307.4zM322.6 289.0H330.3V296.7H322.6zM391.2 289.0H398.8V296.7H391.2zM322.6 296.7H330.3V304.4H322.6zM383.6 304.4H391.2V312.1H383.6zM376.0 312.1H383.6V319.9H376.0zM398.8 312.1H406.5V319.9H398.8zM307.4 319.9H315.0V327.6H307.4zM330.3 319.9H337.9V327.6H330.3zM322.6 327.6H330.3V335.3H322.6zM360.7 335.3H368.4V343.0H360.7zM246.4 343.0H254.1V350.7H246.4zM383.6 343.0H391.2V350.7H383.6zM368.4 350.7H376.0V358.5H368.4zM269.3 358.5H276.9V366.2H269.3zM254.1 366.2H269.3V373.9H254.1zM276.9 366.2H284.5V373.9H276.9zM330.3 366.2H337.9V373.9H330.3zM292.2 389.3H299.8V397.1H292.2zM360.7 397.1H368.4V404.8H360.7zM299.8 404.8H307.4V412.5H299.8zM330.3 404.8H337.9V412.5H330.3zM353.1 420.2H360.7V427.9H353.1zM383.6 420.2H391.2V427.9H383.6zM383.6 427.9H391.2V435.7H383.6zM315.0 489.7H322.6V497.4H315.0zM391.2 489.7H406.5V497.4H391.2zM238.8 512.9H246.4V520.6H238.8zM254.1 520.6H269.3V528.3H254.1zM254.1 528.3H269.3V536.0H254.1zM330.3 528.3H345.5V536.0H330.3zM238.8 536.0H246.4V543.7H238.8zM284.5 536.0H292.2V543.7H284.5zM299.8 536.0H307.4V543.7H299.8zM254.1 543.7H261.7V551.5H254.1zM276.9 543.7H292.2V551.5H276.9zM376.0 551.5H391.2V559.2H376.0zM337.9 559.2H345.5V566.9H337.9z"/><path fill="#00b7ff" d="M383.6 219.5H391.2V227.2H383.6zM322.6 242.7H330.3V250.4H322.6zM315.0 265.8H322.6V273.5H315.0zM292.2 273.5H299.8V281.3H292.2zM353.1 296.7H360.7V304.4H353.1zM337.9 319.9H345.5V327.6H337.9zM254.1 335.3H269.3V343.0H254.1zM284.5 335.3H292.2V343.0H284.5zM345.5 358.5H353.1V366.2H345.5zM360.7 358.5H368.4V366.2H360.7zM269.3 366.2H276.9V373.9H269.3zM276.9 373.9H284.5V381.6H276.9zM337.9 373.9H345.5V381.6H337.9zM261.7 381.6H269.3V389.3H261.7zM330.3 381.6H337.9V389.3H330.3zM353.1 381.6H360.7V389.3H353.1zM254.1 389.3H261.7V397.1H254.1zM269.3 389.3H276.9V397.1H269.3zM261.7 397.1H269.3V404.8H261.7zM315.0 412.5H322.6V420.2H315.0zM337.9 412.5H345.5V420.2H337.9zM353.1 412.5H360.7V420.2H353.1zM368.4 420.2H376.0V427.9H368.4zM261.7 427.9H269.3V435.7H261.7zM360.7 435.7H368.4V443.4H360.7zM337.9 443.4H345.5V451.1H337.9zM376.0 451.1H383.6V458.8H376.0zM276.9 458.8H284.5V466.5H276.9zM292.2 458.8H299.8V466.5H292.2zM284.5 466.5H292.2V474.3H284.5zM337.9 466.5H345.5V474.3H337.9zM322.6 474.3H330.3V482.0H322.6zM299.8 482.0H307.4V489.7H299.8zM284.5 489.7H292.2V497.4H284.5zM368.4 497.4H383.6V505.1H368.4zM261.7 505.1H269.3V512.9H261.7zM315.0 505.1H322.6V512.9H315.0zM391.2 505.1H398.8V512.9H391.2zM284.5 520.6H292.2V528.3H284.5zM322.6 520.6H330.3V528.3H322.6zM261.7 551.5H269.3V559.2H261.7zM292.2 551.5H299.8V559.2H292.2zM223.6 566.9H231.2V569.9H223.6zM284.5 566.9H292.2V569.9H284.5z"/><path fill="#d7ff28" d="M391.2 219.5H398.8V227.2H391.2zM337.9 343.0H345.5V350.7H337.9zM337.9 350.7H345.5V358.5H337.9zM322.6 358.5H330.3V366.2H322.6zM307.4 366.2H315.0V373.9H307.4zM299.8 373.9H307.4V381.6H299.8zM254.1 466.5H261.7V474.3H254.1zM238.8 559.2H246.4V566.9H238.8z"/><path fill="#0087ff" d="M398.8 219.5H406.5V227.2H398.8zM292.2 250.4H299.8V258.1H292.2zM322.6 250.4H330.3V258.1H322.6zM376.0 250.4H383.6V258.1H376.0zM254.1 258.1H261.7V265.8H254.1zM368.4 258.1H376.0V265.8H368.4zM299.8 273.5H307.4V281.3H299.8zM322.6 273.5H330.3V281.3H322.6zM391.2 273.5H398.8V281.3H391.2zM330.3 281.3H337.9V289.0H330.3zM353.1 281.3H360.7V289.0H353.1zM307.4 289.0H315.0V296.7H307.4zM360.7 289.0H368.4V296.7H360.7zM307.4 304.4H315.0V312.1H307.4zM254.1 312.1H261.7V319.9H254.1zM307.4 312.1H315.0V319.9H307.4zM337.9 312.1H345.5V319.9H337.9zM246.4 327.6H254.1V335.3H246.4zM360.7 327.6H368.4V335.3H360.7zM246.4 350.7H261.7V358.5H246.4zM269.3 350.7H276.9V358.5H269.3zM261.7 373.9H269.3V381.6H261.7zM345.5 373.9H353.1V381.6H345.5zM246.4 381.6H254.1V389.3H246.4zM307.4 381.6H315.0V389.3H307.4zM368.4 404.8H376.0V412.5H368.4zM360.7 412.5H376.0V420.2H360.7zM345.5 420.2H353.1V427.9H345.5zM345.5 435.7H353.1V443.4H345.5zM353.1 443.4H360.7V451.1H353.1zM337.9 451.1H345.5V458.8H337.9zM353.1 451.1H360.7V458.8H353.1zM307.4 458.8H315.0V466.5H307.4zM292.2 466.5H299.8V474.3H292.2zM307.4 466.5H315.0V474.3H307.4zM315.0 474.3H322.6V482.0H315.0zM376.0 474.3H383.6V482.0H376.0zM398.8 482.0H406.5V489.7H398.8zM376.0 489.7H383.6V497.4H376.0zM246.4 497.4H254.1V505.1H246.4zM261.7 497.4H269.3V505.1H261.7zM383.6 497.4H391.2V505.1H383.6zM330.3 505.1H337.9V512.9H330.3zM376.0 505.1H383.6V512.9H376.0zM276.9 528.3H284.5V536.0H276.9zM292.2 528.3H299.8V536.0H292.2zM246.4 536.0H254.1V543.7H246.4zM299.8 543.7H307.4V551.5H299.8zM269.3 551.5H284.5V559.2H269.3zM276.9 566.9H284.5V569.9H276.9z"/><path fill="#0068ff" d="M315.0 227.2H322.6V234.9H315.0zM337.9 234.9H345.5V242.7H337.9zM261.7 242.7H269.3V250.4H261.7zM254.1 250.4H261.7V258.1H254.1zM353.1 250.4H368.4V258.1H353.1zM284.5 258.1H292.2V265.8H284.5zM261.7 265.8H269.3V273.5H261.7zM322.6 265.8H337.9V273.5H322.6zM391.2 265.8H398.8V273.5H391.2zM315.0 273.5H322.6V281.3H315.0zM315.0 281.3H322.6V289.0H315.0zM353.1 289.0H360.7V296.7H353.1zM391.2 304.4H398.8V312.1H391.2zM391.2 312.1H398.8V319.9H391.2zM406.5 312.1H414.1V319.9H406.5zM246.4 319.9H254.1V327.6H246.4zM315.0 327.6H322.6V335.3H315.0zM269.3 335.3H276.9V343.0H269.3zM368.4 343.0H376.0V350.7H368.4zM261.7 350.7H269.3V358.5H261.7zM246.4 358.5H254.1V366.2H246.4zM376.0 358.5H383.6V366.2H376.0zM337.9 366.2H345.5V373.9H337.9zM353.1 366.2H360.7V373.9H353.1zM322.6 381.6H330.3V389.3H322.6zM284.5 389.3H292.2V397.1H284.5zM322.6 404.8H330.3V412.5H322.6zM322.6 412.5H330.3V420.2H322.6zM322.6 420.2H330.3V427.9H322.6zM360.7 420.2H368.4V427.9H360.7zM337.9 427.9H345.5V435.7H337.9zM353.1 435.7H360.7V443.4H353.1zM376.0 458.8H383.6V466.5H376.0zM284.5 474.3H292.2V482.0H284.5zM360.7 474.3H368.4V482.0H360.7zM360.7 482.0H368.4V489.7H360.7zM276.9 489.7H284.5V497.4H276.9zM307.4 489.7H315.0V497.4H307.4zM299.8 497.4H307.4V505.1H299.8zM238.8 505.1H246.4V512.9H238.8zM254.1 512.9H276.9V520.6H254.1zM391.2 512.9H398.8V520.6H391.2zM231.2 520.6H238.8V528.3H231.2zM276.9 520.6H284.5V528.3H276.9zM368.4 520.6H383.6V528.3H368.4zM398.8 520.6H406.5V528.3H398.8zM231.2 528.3H238.8V536.0H231.2zM223.6 536.0H231.2V543.7H223.6zM246.4 543.7H254.1V551.5H246.4zM261.7 543.7H269.3V551.5H261.7zM292.2 543.7H299.8V551.5H292.2zM383.6 543.7H391.2V551.5H383.6zM330.3 559.2H337.9V566.9H330.3zM383.6 559.2H391.2V566.9H383.6z"/><path fill="#0097ff" d="M345.5 227.2H353.1V234.9H345.5zM292.2 234.9H299.8V242.7H292.2zM345.5 242.7H353.1V250.4H345.5zM299.8 250.4H307.4V258.1H299.8zM246.4 265.8H261.7V273.5H246.4zM292.2 265.8H299.8V273.5H292.2zM368.4 265.8H376.0V273.5H368.4zM254.1 273.5H261.7V281.3H254.1zM276.9 281.3H284.5V289.0H276.9zM269.3 319.9H276.9V327.6H269.3zM261.7 343.0H269.3V350.7H261.7zM276.9 350.7H284.5V358.5H276.9zM284.5 358.5H292.2V366.2H284.5zM345.5 366.2H353.1V373.9H345.5zM322.6 373.9H330.3V381.6H322.6zM360.7 373.9H368.4V381.6H360.7zM246.4 389.3H254.1V397.1H246.4zM276.9 389.3H284.5V397.1H276.9zM276.9 397.1H292.2V404.8H276.9zM307.4 404.8H315.0V412.5H307.4zM360.7 404.8H368.4V412.5H360.7zM307.4 412.5H315.0V420.2H307.4zM345.5 412.5H353.1V420.2H345.5zM330.3 420.2H337.9V427.9H330.3zM246.4 427.9H254.1V435.7H246.4zM353.1 427.9H360.7V435.7H353.1zM368.4 427.9H376.0V435.7H368.4zM353.1 466.5H360.7V474.3H353.1zM391.2 474.3H398.8V482.0H391.2zM276.9 482.0H284.5V489.7H276.9zM376.0 482.0H383.6V489.7H376.0zM299.8 489.7H307.4V497.4H299.8zM322.6 489.7H337.9V497.4H322.6zM368.4 489.7H376.0V497.4H368.4zM383.6 489.7H391.2V497.4H383.6zM223.6 505.1H238.8V512.9H223.6zM383.6 505.1H391.2V512.9H383.6zM231.2 512.9H238.8V520.6H231.2zM330.3 512.9H337.9V520.6H330.3zM330.3 520.6H337.9V528.3H330.3zM307.4 528.3H322.6V536.0H307.4zM345.5 528.3H353.1V536.0H345.5zM231.2 536.0H238.8V543.7H231.2zM292.2 536.0H299.8V543.7H292.2zM345.5 543.7H353.1V551.5H345.5zM292.2 566.9H299.8V569.9H292.2z"/><path fill="#00e7ff" d="M383.6 227.2H391.2V234.9H383.6zM261.7 273.5H269.3V281.3H261.7zM269.3 281.3H276.9V289.0H269.3zM284.5 281.3H292.2V289.0H284.5zM254.1 296.7H261.7V304.4H254.1zM299.8 304.4H307.4V312.1H299.8zM353.1 343.0H360.7V350.7H353.1zM360.7 350.7H368.4V358.5H360.7zM284.5 366.2H292.2V373.9H284.5zM261.7 389.3H269.3V397.1H261.7zM353.1 389.3H360.7V397.1H353.1zM269.3 404.8H276.9V412.5H269.3zM337.9 404.8H345.5V412.5H337.9zM299.8 412.5H307.4V420.2H299.8zM254.1 420.2H269.3V427.9H254.1zM376.0 420.2H383.6V427.9H376.0zM315.0 427.9H322.6V435.7H315.0zM246.4 435.7H254.1V443.4H246.4zM269.3 435.7H276.9V443.4H269.3zM315.0 435.7H330.3V443.4H315.0zM231.2 443.4H238.8V451.1H231.2zM315.0 451.1H322.6V458.8H315.0zM330.3 466.5H337.9V474.3H330.3zM261.7 474.3H269.3V482.0H261.7zM345.5 482.0H353.1V489.7H345.5zM238.8 489.7H246.4V497.4H238.8zM337.9 489.7H345.5V497.4H337.9zM292.2 497.4H299.8V505.1H292.2zM269.3 505.1H276.9V512.9H269.3zM345.5 505.1H360.7V512.9H345.5zM292.2 512.9H307.4V520.6H292.2zM307.4 520.6H315.0V528.3H307.4zM254.1 551.5H261.7V559.2H254.1z"/><path fill="#97ff68" d="M391.2 227.2H398.8V234.9H391.2z"/><path fill="#08fff7" d="M307.4 234.9H315.0V242.7H307.4zM307.4 242.7H315.0V250.4H307.4zM254.1 281.3H261.7V289.0H254.1zM254.1 289.0H261.7V296.7H254.1zM292.2 289.0H299.8V296.7H292.2zM299.8 312.1H307.4V319.9H299.8zM284.5 319.9H292.2V327.6H284.5zM261.7 327.6H269.3V335.3H261.7zM292.2 358.5H299.8V366.2H292.2zM337.9 358.5H345.5V366.2H337.9zM307.4 373.9H315.0V381.6H307.4zM337.9 381.6H345.5V389.3H337.9zM353.1 404.8H360.7V412.5H353.1zM238.8 412.5H246.4V420.2H238.8zM254.1 412.5H261.7V420.2H254.1zM254.1 427.9H261.7V435.7H254.1zM269.3 427.9H276.9V435.7H269.3zM307.4 427.9H315.0V435.7H307.4zM315.0 443.4H322.6V451.1H315.0zM276.9 466.5H284.5V474.3H276.9zM246.4 489.7H254.1V497.4H246.4zM261.7 489.7H269.3V497.4H261.7zM360.7 489.7H368.4V497.4H360.7zM337.9 497.4H345.5V505.1H337.9zM360.7 497.4H368.4V505.1H360.7zM292.2 505.1H315.0V512.9H292.2zM307.4 512.9H315.0V520.6H307.4zM292.2 520.6H299.8V528.3H292.2zM322.6 559.2H330.3V566.9H322.6zM231.2 566.9H238.8V569.9H231.2z"/><path fill="#28ffd7" d="M315.0 234.9H322.6V242.7H315.0zM391.2 234.9H398.8V242.7H391.2zM315.0 250.4H322.6V258.1H315.0zM246.4 273.5H254.1V281.3H246.4zM261.7 296.7H269.3V304.4H261.7zM360.7 296.7H368.4V304.4H360.7zM261.7 312.1H269.3V319.9H261.7zM315.0 335.3H322.6V343.0H315.0zM276.9 404.8H284.5V412.5H276.9zM276.9 412.5H284.5V420.2H276.9zM292.2 420.2H299.8V427.9H292.2zM276.9 427.9H284.5V435.7H276.9zM254.1 443.4H261.7V451.1H254.1zM353.1 489.7H360.7V497.4H353.1zM231.2 551.5H238.8V559.2H231.2zM223.6 559.2H231.2V566.9H223.6z"/><path fill="#00d7ff" d="M322.6 234.9H330.3V242.7H322.6zM345.5 234.9H353.1V242.7H345.5zM299.8 242.7H307.4V250.4H299.8zM299.8 258.1H322.6V265.8H299.8zM391.2 258.1H398.8V265.8H391.2zM299.8 265.8H307.4V273.5H299.8zM360.7 281.3H368.4V289.0H360.7zM299.8 289.0H307.4V296.7H299.8zM383.6 289.0H391.2V296.7H383.6zM299.8 296.7H307.4V304.4H299.8zM276.9 304.4H284.5V312.1H276.9zM376.0 304.4H383.6V312.1H376.0zM276.9 312.1H292.2V319.9H276.9zM284.5 327.6H292.2V335.3H284.5zM307.4 335.3H315.0V343.0H307.4zM292.2 350.7H299.8V358.5H292.2zM353.1 358.5H360.7V366.2H353.1zM284.5 373.9H292.2V381.6H284.5zM330.3 389.3H337.9V397.1H330.3zM284.5 404.8H299.8V412.5H284.5zM307.4 420.2H322.6V427.9H307.4zM254.1 435.7H261.7V443.4H254.1zM322.6 443.4H330.3V451.1H322.6zM269.3 466.5H276.9V474.3H269.3zM269.3 474.3H276.9V482.0H269.3zM299.8 474.3H307.4V482.0H299.8zM330.3 474.3H345.5V482.0H330.3zM383.6 474.3H391.2V482.0H383.6zM261.7 482.0H269.3V489.7H261.7zM330.3 482.0H337.9V489.7H330.3zM353.1 482.0H360.7V489.7H353.1zM383.6 482.0H391.2V489.7H383.6zM231.2 489.7H238.8V497.4H231.2zM254.1 489.7H261.7V497.4H254.1zM337.9 505.1H345.5V512.9H337.9zM360.7 505.1H368.4V512.9H360.7zM284.5 512.9H292.2V520.6H284.5zM307.4 551.5H315.0V559.2H307.4zM269.3 566.9H276.9V569.9H269.3z"/><path fill="#0078ff" d="M353.1 234.9H360.7V242.7H353.1zM246.4 258.1H254.1V265.8H246.4zM292.2 258.1H299.8V265.8H292.2zM284.5 273.5H292.2V281.3H284.5zM353.1 273.5H360.7V281.3H353.1zM315.0 296.7H322.6V304.4H315.0zM276.9 319.9H284.5V327.6H276.9zM276.9 327.6H284.5V335.3H276.9zM276.9 335.3H284.5V343.0H276.9zM276.9 343.0H284.5V350.7H276.9zM261.7 358.5H269.3V366.2H261.7zM276.9 358.5H284.5V366.2H276.9zM368.4 358.5H376.0V366.2H368.4zM383.6 366.2H391.2V373.9H383.6zM269.3 373.9H276.9V381.6H269.3zM315.0 389.3H322.6V397.1H315.0zM360.7 389.3H368.4V397.1H360.7zM299.8 397.1H307.4V404.8H299.8zM322.6 397.1H337.9V404.8H322.6zM231.2 427.9H238.8V435.7H231.2zM322.6 427.9H330.3V435.7H322.6zM360.7 427.9H368.4V435.7H360.7zM231.2 435.7H238.8V443.4H231.2zM383.6 435.7H391.2V443.4H383.6zM299.8 458.8H307.4V466.5H299.8zM368.4 458.8H376.0V466.5H368.4zM299.8 466.5H307.4V474.3H299.8zM322.6 466.5H330.3V474.3H322.6zM376.0 466.5H383.6V474.3H376.0zM307.4 474.3H315.0V482.0H307.4zM353.1 474.3H360.7V482.0H353.1zM368.4 474.3H376.0V482.0H368.4zM307.4 482.0H315.0V489.7H307.4zM322.6 482.0H330.3V489.7H322.6zM391.2 482.0H398.8V489.7H391.2zM322.6 497.4H330.3V505.1H322.6zM391.2 497.4H398.8V505.1H391.2zM322.6 505.1H330.3V512.9H322.6zM246.4 512.9H254.1V520.6H246.4zM368.4 512.9H376.0V520.6H368.4zM269.3 520.6H276.9V528.3H269.3zM337.9 520.6H353.1V528.3H337.9zM246.4 528.3H254.1V536.0H246.4zM269.3 536.0H284.5V543.7H269.3zM269.3 543.7H276.9V551.5H269.3zM284.5 551.5H292.2V559.2H284.5zM315.0 551.5H330.3V559.2H315.0zM284.5 559.2H292.2V566.9H284.5z"/><path fill="#87ff78" d="M383.6 234.9H391.2V242.7H383.6zM391.2 242.7H398.8V250.4H391.2zM307.4 343.0H315.0V350.7H307.4zM292.2 373.9H299.8V381.6H292.2zM238.8 482.0H246.4V489.7H238.8zM315.0 566.9H322.6V569.9H315.0z"/><path fill="#48ffb7" d="M315.0 242.7H322.6V250.4H315.0zM368.4 273.5H376.0V281.3H368.4zM261.7 289.0H269.3V296.7H261.7zM292.2 312.1H299.8V319.9H292.2zM368.4 312.1H376.0V319.9H368.4zM345.5 350.7H353.1V358.5H345.5zM254.1 397.1H261.7V404.8H254.1zM284.5 420.2H292.2V427.9H284.5zM269.3 443.4H276.9V451.1H269.3zM292.2 443.4H299.8V451.1H292.2zM269.3 451.1H276.9V458.8H269.3zM261.7 466.5H269.3V474.3H261.7zM254.1 482.0H261.7V489.7H254.1zM307.4 566.9H315.0V569.9H307.4z"/><path fill="#ffa700" d="M383.6 242.7H391.2V250.4H383.6z"/><path fill="#00f7ff" d="M307.4 250.4H315.0V258.1H307.4zM391.2 250.4H398.8V258.1H391.2zM284.5 289.0H292.2V296.7H284.5zM261.7 304.4H276.9V312.1H261.7zM284.5 304.4H299.8V312.1H284.5zM269.3 312.1H276.9V319.9H269.3zM360.7 319.9H368.4V327.6H360.7zM345.5 389.3H353.1V397.1H345.5zM238.8 397.1H246.4V404.8H238.8zM254.1 404.8H261.7V412.5H254.1zM345.5 404.8H353.1V412.5H345.5zM261.7 412.5H269.3V420.2H261.7zM269.3 420.2H276.9V427.9H269.3zM261.7 435.7H269.3V443.4H261.7zM284.5 435.7H292.2V443.4H284.5zM292.2 451.1H307.4V458.8H292.2zM269.3 458.8H276.9V466.5H269.3zM315.0 482.0H322.6V489.7H315.0zM337.9 482.0H345.5V489.7H337.9zM284.5 505.1H292.2V512.9H284.5zM315.0 512.9H322.6V520.6H315.0zM315.0 520.6H322.6V528.3H315.0zM299.8 528.3H307.4V536.0H299.8zM299.8 566.9H307.4V569.9H299.8z"/><path fill="#ff7800" d="M383.6 250.4H391.2V258.1H383.6zM376.0 273.5H383.6V281.3H376.0z"/><path fill="#a7ff58" d="M376.0 258.1H383.6V265.8H376.0zM368.4 281.3H376.0V289.0H368.4zM353.1 327.6H360.7V335.3H353.1zM292.2 427.9H299.8V435.7H292.2zM254.1 451.1H261.7V458.8H254.1zM254.1 474.3H261.7V482.0H254.1z"/><path fill="#ff8700" d="M383.6 258.1H391.2V265.8H383.6zM376.0 265.8H383.6V273.5H376.0zM238.8 451.1H246.4V458.8H238.8z"/><path fill="#00a7ff" d="M307.4 265.8H315.0V273.5H307.4zM292.2 281.3H307.4V289.0H292.2zM307.4 296.7H315.0V304.4H307.4zM383.6 296.7H391.2V304.4H383.6zM254.1 304.4H261.7V312.1H254.1zM353.1 304.4H360.7V312.1H353.1zM254.1 319.9H261.7V327.6H254.1zM391.2 319.9H398.8V327.6H391.2zM330.3 327.6H337.9V335.3H330.3zM254.1 343.0H261.7V350.7H254.1zM284.5 343.0H299.8V350.7H284.5zM360.7 343.0H368.4V350.7H360.7zM360.7 366.2H368.4V373.9H360.7zM330.3 373.9H337.9V381.6H330.3zM353.1 373.9H360.7V381.6H353.1zM269.3 381.6H276.9V389.3H269.3zM284.5 381.6H307.4V389.3H284.5zM269.3 397.1H276.9V404.8H269.3zM292.2 412.5H299.8V420.2H292.2zM337.9 420.2H345.5V427.9H337.9zM238.8 427.9H246.4V435.7H238.8zM330.3 435.7H345.5V443.4H330.3zM368.4 435.7H383.6V443.4H368.4zM330.3 443.4H337.9V451.1H330.3zM345.5 443.4H353.1V451.1H345.5zM360.7 443.4H368.4V451.1H360.7zM383.6 443.4H391.2V451.1H383.6zM345.5 451.1H353.1V458.8H345.5zM360.7 451.1H376.0V458.8H360.7zM330.3 458.8H345.5V466.5H330.3zM353.1 458.8H360.7V466.5H353.1zM315.0 466.5H322.6V474.3H315.0zM360.7 466.5H376.0V474.3H360.7zM292.2 474.3H299.8V482.0H292.2zM269.3 482.0H276.9V489.7H269.3zM292.2 482.0H299.8V489.7H292.2zM368.4 482.0H376.0V489.7H368.4zM238.8 497.4H246.4V505.1H238.8zM284.5 497.4H292.2V505.1H284.5zM307.4 497.4H322.6V505.1H307.4zM330.3 497.4H337.9V505.1H330.3zM368.4 505.1H376.0V512.9H368.4zM276.9 512.9H284.5V520.6H276.9zM322.6 512.9H330.3V520.6H322.6zM337.9 512.9H345.5V520.6H337.9zM383.6 512.9H391.2V520.6H383.6zM284.5 528.3H292.2V536.0H284.5zM292.2 559.2H299.8V566.9H292.2zM261.7 566.9H269.3V569.9H261.7zM322.6 566.9H330.3V569.9H322.6z"/><path fill="#ff2800" d="M383.6 265.8H391.2V273.5H383.6z"/><path fill="#b7ff48" d="M383.6 273.5H391.2V281.3H383.6zM345.5 319.9H353.1V327.6H345.5zM345.5 327.6H353.1V335.3H345.5zM299.8 559.2H307.4V566.9H299.8z"/><path fill="#00c7ff" d="M261.7 281.3H269.3V289.0H261.7zM276.9 289.0H284.5V296.7H276.9zM345.5 312.1H353.1V319.9H345.5zM368.4 319.9H376.0V327.6H368.4zM254.1 327.6H261.7V335.3H254.1zM269.3 327.6H276.9V335.3H269.3zM307.4 327.6H315.0V335.3H307.4zM337.9 327.6H345.5V335.3H337.9zM353.1 335.3H360.7V343.0H353.1zM284.5 350.7H292.2V358.5H284.5zM322.6 366.2H330.3V373.9H322.6zM353.1 397.1H360.7V404.8H353.1zM376.0 412.5H383.6V420.2H376.0zM238.8 420.2H254.1V427.9H238.8zM376.0 427.9H383.6V435.7H376.0zM238.8 435.7H246.4V443.4H238.8zM368.4 443.4H383.6V451.1H368.4zM307.4 451.1H315.0V458.8H307.4zM322.6 451.1H337.9V458.8H322.6zM284.5 458.8H292.2V466.5H284.5zM322.6 458.8H330.3V466.5H322.6zM345.5 458.8H353.1V466.5H345.5zM360.7 458.8H368.4V466.5H360.7zM345.5 466.5H353.1V474.3H345.5zM345.5 474.3H353.1V482.0H345.5zM284.5 482.0H292.2V489.7H284.5zM269.3 489.7H276.9V497.4H269.3zM231.2 497.4H238.8V505.1H231.2zM254.1 497.4H261.7V505.1H254.1zM269.3 497.4H284.5V505.1H269.3zM276.9 505.1H284.5V512.9H276.9zM345.5 512.9H360.7V520.6H345.5zM231.2 543.7H238.8V551.5H231.2zM238.8 551.5H254.1V559.2H238.8zM299.8 551.5H307.4V559.2H299.8zM269.3 559.2H276.9V566.9H269.3z"/><path fill="#ffd700" d="M376.0 281.3H383.6V289.0H376.0zM299.8 366.2H307.4V373.9H299.8zM231.2 451.1H238.8V458.8H231.2zM254.1 458.8H261.7V466.5H254.1z"/><path fill="#58ffa7" d="M383.6 281.3H391.2V289.0H383.6zM269.3 296.7H276.9V304.4H269.3zM292.2 335.3H299.8V343.0H292.2zM337.9 335.3H345.5V343.0H337.9zM299.8 350.7H307.4V358.5H299.8zM238.8 404.8H254.1V412.5H238.8zM284.5 427.9H292.2V435.7H284.5zM276.9 451.1H284.5V458.8H276.9zM299.8 520.6H307.4V528.3H299.8z"/><path fill="#78ff87" d="M269.3 289.0H276.9V296.7H269.3zM299.8 319.9H307.4V327.6H299.8zM299.8 335.3H307.4V343.0H299.8zM299.8 358.5H307.4V366.2H299.8zM246.4 397.1H254.1V404.8H246.4zM299.8 435.7H307.4V443.4H299.8zM261.7 451.1H269.3V458.8H261.7zM246.4 559.2H261.7V566.9H246.4z"/><path fill="#ffe700" d="M368.4 289.0H383.6V296.7H368.4zM360.7 304.4H368.4V312.1H360.7zM322.6 343.0H330.3V350.7H322.6zM307.4 559.2H315.0V566.9H307.4z"/><path fill="#18ffe7" d="M276.9 296.7H299.8V304.4H276.9zM353.1 312.1H360.7V319.9H353.1zM322.6 335.3H330.3V343.0H322.6zM330.3 358.5H337.9V366.2H330.3zM345.5 381.6H353.1V389.3H345.5zM337.9 389.3H345.5V397.1H337.9zM337.9 397.1H345.5V404.8H337.9zM246.4 412.5H254.1V420.2H246.4zM269.3 412.5H276.9V420.2H269.3zM284.5 412.5H292.2V420.2H284.5zM276.9 420.2H284.5V427.9H276.9zM299.8 420.2H307.4V427.9H299.8zM276.9 435.7H284.5V443.4H276.9zM307.4 435.7H315.0V443.4H307.4zM284.5 451.1H292.2V458.8H284.5zM276.9 474.3H284.5V482.0H276.9zM345.5 489.7H353.1V497.4H345.5zM353.1 497.4H360.7V505.1H353.1zM261.7 559.2H269.3V566.9H261.7zM246.4 566.9H254.1V569.9H246.4z"/><path fill="#e7ff18" d="M368.4 296.7H376.0V304.4H368.4zM368.4 304.4H376.0V312.1H368.4zM353.1 319.9H360.7V327.6H353.1zM315.0 343.0H322.6V350.7H315.0zM307.4 358.5H315.0V366.2H307.4zM315.0 559.2H322.6V566.9H315.0z"/><path fill="#c7ff38" d="M376.0 296.7H383.6V304.4H376.0zM292.2 319.9H299.8V327.6H292.2zM292.2 327.6H299.8V335.3H292.2zM307.4 350.7H315.0V358.5H307.4zM315.0 358.5H322.6V366.2H315.0zM292.2 366.2H299.8V373.9H292.2z"/><path fill="#fff700" d="M360.7 312.1H368.4V319.9H360.7zM330.3 343.0H337.9V350.7H330.3z"/><path fill="#38ffc7" d="M261.7 319.9H269.3V327.6H261.7zM299.8 327.6H307.4V335.3H299.8zM330.3 335.3H337.9V343.0H330.3zM345.5 335.3H353.1V343.0H345.5zM353.1 350.7H360.7V358.5H353.1zM261.7 404.8H269.3V412.5H261.7zM292.2 435.7H299.8V443.4H292.2zM238.8 443.4H254.1V451.1H238.8zM261.7 443.4H269.3V451.1H261.7zM276.9 443.4H292.2V451.1H276.9zM299.8 443.4H307.4V451.1H299.8zM345.5 497.4H353.1V505.1H345.5zM223.6 543.7H231.2V551.5H223.6zM254.1 566.9H261.7V569.9H254.1z"/><path fill="#68ff97" d="M299.8 343.0H307.4V350.7H299.8zM345.5 343.0H353.1V350.7H345.5zM315.0 366.2H322.6V373.9H315.0zM345.5 397.1H353.1V404.8H345.5zM299.8 427.9H307.4V435.7H299.8zM307.4 443.4H315.0V451.1H307.4zM261.7 458.8H269.3V466.5H261.7zM231.2 482.0H238.8V489.7H231.2zM246.4 482.0H254.1V489.7H246.4zM223.6 551.5H231.2V559.2H223.6zM231.2 559.2H238.8V566.9H231.2zM238.8 566.9H246.4V569.9H238.8z"/><path fill="#ffb700" d="M315.0 350.7H322.6V358.5H315.0z"/><path fill="#ff9700" d="M322.6 350.7H330.3V358.5H322.6zM231.2 474.3H238.8V482.0H231.2z"/><path fill="#ff6800" d="M330.3 350.7H337.9V358.5H330.3zM246.4 474.3H254.1V482.0H246.4z"/><path fill="#ffc700" d="M246.4 451.1H254.1V458.8H246.4z"/><path fill="#c70000" d="M231.2 458.8H238.8V466.5H231.2z"/><path fill="#870000" d="M238.8 458.8H246.4V466.5H238.8zM238.8 466.5H246.4V474.3H238.8z"/><path fill="#ff3800" d="M246.4 458.8H254.1V466.5H246.4z"/><path fill="#b70000" d="M231.2 466.5H238.8V474.3H231.2zM246.4 466.5H254.1V474.3H246.4z"/><path fill="#ff5800" d="M238.8 474.3H246.4V482.0H238.8z"/></g>
<path d="M264.5 272.6 L276.3 268.7 L278.3 280.5 L268.5 282.5 L264.5 272.6" fill="none" stroke="#000" stroke-width="1.0" stroke-linejoin="round"/><path d="M260.6 302.1 L274.3 300.1 L276.3 309.9 L264.5 311.9 L260.6 302.1" fill="none" stroke="#000" stroke-width="1.0" stroke-linejoin="round"/><path d="M288.1 294.2 L297.9 292.3 L303.0 304.0 L292.0 304.0 L288.1 294.2" fill="none" stroke="#000" stroke-width="1.0" stroke-linejoin="round"/><path d="M286.1 321.7 L297.9 319.7 L305.7 331.5 L299.8 345.2 L288.1 343.2 L284.2 331.5 L286.1 321.7" fill="none" stroke="#000" stroke-width="1.0" stroke-linejoin="round"/><path d="M297.9 382.5 L301.8 366.8 L315.5 355.0 L323.4 335.4 L333.2 331.5 L339.1 343.2 L354.7 335.4 L366.5 319.7 L378.3 304.0 L382.2 284.4 L380.2 264.8 L384.2 241.3 L390.0 237.4 L395.9 249.1 L394.0 272.6 L390.0 296.2 L382.2 313.8 L370.4 323.6 L358.7 339.3 L348.9 355.0 L350.8 366.8 L339.1 362.8 L327.3 366.8 L311.6 374.6 L303.8 384.4 L297.9 382.5" fill="none" stroke="#000" stroke-width="1.0" stroke-linejoin="round"/><path d="M337.1 390.3 L346.9 384.4 L352.8 392.3 L350.8 406.0 L343.0 407.9 L337.1 390.3" fill="none" stroke="#000" stroke-width="1.0" stroke-linejoin="round"/><path d="M368.5 360.9 L374.3 358.9 L372.4 366.8 L368.5 360.9" fill="none" stroke="#000" stroke-width="1.0" stroke-linejoin="round"/><path d="M231.2 458.9 L252.8 455.0 L276.3 449.1 L286.1 447.2 L288.1 451.1 L280.2 458.9 L278.3 472.6 L270.4 482.5 L252.8 488.3 L231.2 494.2" fill="none" stroke="#000" stroke-width="1.0" stroke-linejoin="round"/><path d="M223.4 558.9 L231.2 555.0 L241.0 557.0 L252.8 559.7 L260.6 564.8 L258.7 570.7" fill="none" stroke="#000" stroke-width="1.0" stroke-linejoin="round"/><path d="M290.0 570.7 L299.8 564.8 L311.6 562.8 L323.4 564.8 L331.2 570.7" fill="none" stroke="#000" stroke-width="1.0" stroke-linejoin="round"/><path d="M229.2 549.1 L232.4 551.1 L230.0 553.4 L229.2 549.1" fill="none" stroke="#000" stroke-width="1.0" stroke-linejoin="round"/><text x="271.6" y="277.0" font-size="12.5" text-anchor="middle" transform="rotate(-60 271.6 272.6)" fill="#000">30</text><text x="264.5" y="307.6" font-size="12.5" text-anchor="middle" transform="rotate(0 264.5 303.2)" fill="#000">30</text><text x="294.0" y="301.3" font-size="12.5" text-anchor="middle" transform="rotate(0 294.0 297.0)" fill="#000">30</text><text x="286.1" y="331.9" font-size="12.5" text-anchor="middle" transform="rotate(-70 286.1 327.6)" fill="#000">30</text><text x="310.8" y="350.7" font-size="12.5" text-anchor="middle" transform="rotate(-70 310.8 346.4)" fill="#000">30</text><text x="339.8" y="393.9" font-size="12.5" text-anchor="middle" transform="rotate(-75 339.8 389.5)" fill="#000">30</text><text x="386.9" y="288.0" font-size="12.5" text-anchor="middle" transform="rotate(-70 386.9 283.6)" fill="#000">30</text><text x="397.1" y="237.0" font-size="12.5" text-anchor="middle" transform="rotate(-50 397.1 232.6)" fill="#000">30</text><text x="264.5" y="462.1" font-size="12.5" text-anchor="middle" transform="rotate(-70 264.5 457.7)" fill="#000">30</text><text x="235.1" y="563.3" font-size="12.5" text-anchor="middle" transform="rotate(40 235.1 558.9)" fill="#000">30</text><text x="296.7" y="571.1" font-size="12.5" text-anchor="middle" transform="rotate(30 296.7 566.8)" fill="#000">30</text>
<use href="#land"/>
<g clip-path="url(#lc)" opacity="0.8"><use href="#grid"/></g>
</g>

<rect x="75.0" y="142.7" width="347.9" height="427.2" fill="none" stroke="#1a1a1a" stroke-width="1.3"/>
<use href="#lab"/>
<rect x="79.1" y="162.5" width="113.0" height="25.0" fill="url(#jet)" stroke="#111" stroke-width="1.2"/>
<text x="79.1" y="149.5" font-size="18.75" text-anchor="middle" font-weight="normal" fill="#3a3a3a">0</text>
<text x="172.9" y="149.5" font-size="18.75" text-anchor="middle" font-weight="normal" fill="#3a3a3a">50</text>
<use href="#stars"/>
<use href="#km"/>
<text x="110.6" y="122.5" font-size="22.00" text-anchor="start" font-weight="normal" fill="#333">cm/s</text>
<text x="249.2" y="130.3" font-size="20.60" text-anchor="middle" font-weight="bold" fill="#000">FitDif TotalErrors (30)</text>
</g>
<g transform="translate(768.8 600.0)">
<use href="#grid"/>
<g clip-path="url(#cp)">
<g shape-rendering="crispEdges"><path fill="#0000d6" d="M200.7 142.7H406.5V150.0H200.7zM200.7 150.0H414.1V157.7H200.7zM208.3 157.7H345.5V165.5H208.3zM360.7 157.7H421.7V165.5H360.7zM208.3 165.5H337.9V173.2H208.3zM360.7 165.5H421.7V173.2H360.7zM208.3 173.2H337.9V180.9H208.3zM360.7 173.2H421.7V180.9H360.7zM231.2 180.9H421.7V188.6H231.2zM231.2 188.6H307.4V196.3H231.2zM330.3 188.6H421.7V196.3H330.3zM216.0 196.3H299.8V204.1H216.0zM337.9 196.3H421.7V204.1H337.9zM216.0 204.1H292.2V211.8H216.0zM360.7 204.1H414.1V211.8H360.7zM216.0 211.8H284.5V219.5H216.0zM368.4 211.8H406.5V219.5H368.4zM216.0 219.5H284.5V227.2H216.0zM216.0 227.2H284.5V234.9H216.0zM223.6 234.9H269.3V242.7H223.6zM360.7 234.9H376.0V242.7H360.7zM223.6 242.7H261.7V250.4H223.6zM231.2 250.4H254.1V258.1H231.2zM231.2 258.1H246.4V265.8H231.2zM231.2 265.8H254.1V273.5H231.2zM238.8 273.5H254.1V281.3H238.8zM238.8 281.3H254.1V289.0H238.8zM238.8 289.0H254.1V296.7H238.8zM238.8 296.7H254.1V304.4H238.8zM246.4 304.4H254.1V312.1H246.4zM254.1 312.1H261.7V319.9H254.1z"/><path fill="#00008f" d="M406.5 142.7H421.7V150.0H406.5zM414.1 150.0H421.7V157.7H414.1zM208.3 180.9H231.2V188.6H208.3zM208.3 188.6H231.2V196.3H208.3zM94.0 474.3H109.3V482.0H94.0zM101.7 482.0H109.3V489.7H101.7zM101.7 489.7H109.3V497.4H101.7z"/><path fill="#009fff" d="M345.5 157.7H360.7V165.5H345.5zM337.9 165.5H360.7V173.2H337.9zM337.9 173.2H360.7V180.9H337.9zM307.4 188.6H330.3V196.3H307.4zM299.8 196.3H337.9V204.1H299.8zM292.2 204.1H360.7V211.8H292.2zM414.1 204.1H421.7V211.8H414.1zM284.5 211.8H368.4V219.5H284.5zM406.5 211.8H421.7V219.5H406.5zM284.5 219.5H421.7V227.2H284.5zM284.5 227.2H421.7V234.9H284.5zM269.3 234.9H360.7V242.7H269.3zM376.0 234.9H421.7V242.7H376.0zM261.7 242.7H421.7V250.4H261.7zM254.1 250.4H421.7V258.1H254.1zM246.4 258.1H421.7V265.8H246.4zM254.1 265.8H421.7V273.5H254.1zM254.1 273.5H421.7V281.3H254.1zM254.1 281.3H284.5V289.0H254.1zM307.4 281.3H421.7V289.0H307.4zM254.1 289.0H261.7V296.7H254.1zM269.3 289.0H284.5V296.7H269.3zM307.4 289.0H421.7V296.7H307.4zM330.3 296.7H421.7V304.4H330.3zM337.9 304.4H421.7V312.1H337.9zM337.9 312.1H421.7V319.9H337.9zM345.5 319.9H421.7V327.6H345.5zM345.5 327.6H421.7V335.3H345.5zM353.1 335.3H421.7V343.0H353.1zM360.7 343.0H421.7V350.7H360.7zM383.6 350.7H421.7V358.5H383.6zM383.6 358.5H421.7V366.2H383.6zM391.2 366.2H421.7V373.9H391.2zM391.2 373.9H421.7V381.6H391.2zM391.2 381.6H421.7V389.3H391.2zM398.8 389.3H421.7V397.1H398.8zM398.8 397.1H421.7V404.8H398.8zM398.8 404.8H421.7V412.5H398.8zM398.8 412.5H421.7V420.2H398.8zM398.8 420.2H421.7V427.9H398.8zM398.8 427.9H421.7V435.7H398.8zM398.8 435.7H421.7V443.4H398.8zM398.8 443.4H414.1V451.1H398.8z"/><path fill="#800000" d="M284.5 281.3H307.4V289.0H284.5zM261.7 289.0H269.3V296.7H261.7zM284.5 289.0H307.4V296.7H284.5zM261.7 296.7H330.3V304.4H261.7zM261.7 304.4H337.9V312.1H261.7zM276.9 312.1H337.9V319.9H276.9zM269.3 319.9H345.5V327.6H269.3zM261.7 327.6H345.5V335.3H261.7zM261.7 335.3H353.1V343.0H261.7zM261.7 343.0H360.7V350.7H261.7zM261.7 350.7H383.6V358.5H261.7zM254.1 358.5H383.6V366.2H254.1zM254.1 366.2H391.2V373.9H254.1zM254.1 373.9H391.2V381.6H254.1zM254.1 381.6H391.2V389.3H254.1zM254.1 389.3H398.8V397.1H254.1zM254.1 397.1H398.8V404.8H254.1zM276.9 404.8H398.8V412.5H276.9zM284.5 412.5H398.8V420.2H284.5zM292.2 420.2H398.8V427.9H292.2zM292.2 427.9H398.8V435.7H292.2zM292.2 435.7H398.8V443.4H292.2zM292.2 443.4H398.8V451.1H292.2zM284.5 451.1H398.8V458.8H284.5zM284.5 458.8H398.8V466.5H284.5zM284.5 466.5H376.0V474.3H284.5zM299.8 474.3H360.7V482.0H299.8zM292.2 482.0H353.1V489.7H292.2zM231.2 489.7H330.3V497.4H231.2zM231.2 497.4H315.0V505.1H231.2zM231.2 505.1H292.2V512.9H231.2zM231.2 512.9H254.1V520.6H231.2z"/><path fill="#ff4000" d="M254.1 296.7H261.7V304.4H254.1zM254.1 304.4H261.7V312.1H254.1zM261.7 312.1H276.9V319.9H261.7zM254.1 319.9H269.3V327.6H254.1zM254.1 327.6H261.7V335.3H254.1zM254.1 335.3H261.7V343.0H254.1zM254.1 343.0H261.7V350.7H254.1zM254.1 350.7H261.7V358.5H254.1zM223.6 497.4H231.2V505.1H223.6zM223.6 505.1H231.2V512.9H223.6z"/><path fill="#ff9800" d="M223.6 397.1H238.8V404.8H223.6zM216.0 404.8H238.8V412.5H216.0zM200.7 412.5H231.2V420.2H200.7zM78.8 420.2H86.4V427.9H78.8zM193.1 420.2H231.2V427.9H193.1zM185.5 427.9H231.2V435.7H185.5zM177.9 435.7H231.2V443.4H177.9zM170.2 443.4H231.2V451.1H170.2zM162.6 451.1H231.2V458.8H162.6zM155.0 458.8H231.2V466.5H155.0zM78.8 466.5H86.4V474.3H78.8zM147.4 466.5H231.2V474.3H147.4zM78.8 474.3H94.0V482.0H78.8zM109.3 474.3H132.1V482.0H109.3zM147.4 474.3H231.2V482.0H147.4zM78.8 482.0H101.7V489.7H78.8zM109.3 482.0H231.2V489.7H109.3zM78.8 489.7H101.7V497.4H78.8zM109.3 489.7H223.6V497.4H109.3zM78.8 497.4H223.6V505.1H78.8zM78.8 505.1H223.6V512.9H78.8zM78.8 512.9H223.6V520.6H78.8zM78.8 520.6H223.6V528.3H78.8zM78.8 528.3H223.6V536.0H78.8zM78.8 536.0H223.6V543.7H78.8zM78.8 543.7H223.6V551.5H78.8zM78.8 551.5H223.6V559.2H78.8zM78.8 559.2H223.6V566.9H78.8zM78.8 566.9H223.6V569.9H78.8z"/><path fill="#df0000" d="M238.8 397.1H254.1V404.8H238.8zM238.8 404.8H276.9V412.5H238.8zM231.2 412.5H284.5V420.2H231.2zM231.2 420.2H292.2V427.9H231.2zM231.2 427.9H292.2V435.7H231.2zM231.2 435.7H292.2V443.4H231.2zM231.2 443.4H292.2V451.1H231.2zM231.2 451.1H284.5V458.8H231.2zM231.2 458.8H284.5V466.5H231.2zM231.2 466.5H284.5V474.3H231.2zM376.0 466.5H398.8V474.3H376.0zM231.2 474.3H299.8V482.0H231.2zM360.7 474.3H398.8V482.0H360.7zM231.2 482.0H292.2V489.7H231.2zM353.1 482.0H406.5V489.7H353.1zM223.6 489.7H231.2V497.4H223.6zM330.3 489.7H406.5V497.4H330.3zM315.0 497.4H406.5V505.1H315.0zM292.2 505.1H406.5V512.9H292.2zM223.6 512.9H231.2V520.6H223.6zM254.1 512.9H406.5V520.6H254.1zM223.6 520.6H398.8V528.3H223.6zM223.6 528.3H398.8V536.0H223.6zM223.6 536.0H398.8V543.7H223.6zM223.6 543.7H391.2V551.5H223.6zM223.6 551.5H391.2V559.2H223.6zM223.6 559.2H391.2V566.9H223.6zM223.6 566.9H391.2V569.9H223.6z"/><path fill="#0030ff" d="M414.1 443.4H421.7V451.1H414.1zM398.8 451.1H421.7V458.8H398.8zM398.8 458.8H421.7V466.5H398.8zM398.8 466.5H421.7V474.3H398.8zM398.8 474.3H421.7V482.0H398.8zM406.5 482.0H421.7V489.7H406.5zM406.5 489.7H421.7V497.4H406.5zM406.5 497.4H421.7V505.1H406.5zM406.5 505.1H421.7V512.9H406.5zM406.5 512.9H421.7V520.6H406.5zM398.8 520.6H421.7V528.3H398.8zM398.8 528.3H421.7V536.0H398.8zM398.8 536.0H421.7V543.7H398.8zM391.2 543.7H421.7V551.5H391.2zM391.2 551.5H421.7V559.2H391.2zM391.2 559.2H421.7V566.9H391.2zM391.2 566.9H421.7V569.9H391.2z"/></g>

<use href="#land"/>
<g clip-path="url(#lc)" opacity="0.8"><use href="#grid"/></g>
</g>

<rect x="75.0" y="142.7" width="347.9" height="427.2" fill="none" stroke="#1a1a1a" stroke-width="1.3"/>
<use href="#lab"/>
<rect x="79.1" y="162.5" width="113.0" height="25.0" fill="url(#jet)" stroke="#111" stroke-width="1.2"/>
<text x="79.1" y="149.5" font-size="18.75" text-anchor="middle" font-weight="normal" fill="#3a3a3a">0</text>
<text x="129.9" y="149.5" font-size="18.75" text-anchor="middle" font-weight="normal" fill="#3a3a3a">5</text>
<text x="181.4" y="149.5" font-size="18.75" text-anchor="middle" font-weight="normal" fill="#3a3a3a">10</text>
<use href="#stars"/>
<use href="#km"/>
<text x="249.2" y="129.0" font-size="24.50" text-anchor="middle" font-weight="bold" fill="#000">Site Codes</text>
</g>

</svg></body></html>
